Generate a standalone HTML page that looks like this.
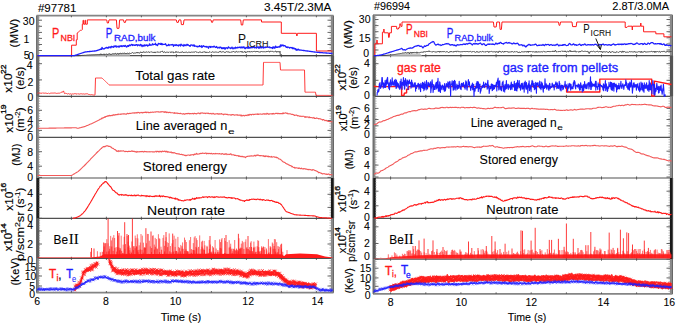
<!DOCTYPE html>
<html><head><meta charset="utf-8"><style>
html,body{margin:0;padding:0;background:#fff;width:676px;height:324px;overflow:hidden}
svg{display:block}
</style></head><body>
<svg width="676" height="324" viewBox="0 0 676 324">
<rect width="676" height="324" fill="#fff"/>
<line x1="36.5" y1="15.7" x2="333.5" y2="15.7" stroke="#858585" stroke-width="1.8"/>
<line x1="36.5" y1="55.7" x2="333.5" y2="55.7" stroke="#505050" stroke-width="1.2"/>
<line x1="36.5" y1="96.4" x2="333.5" y2="96.4" stroke="#505050" stroke-width="1.2"/>
<line x1="36.5" y1="137.4" x2="333.5" y2="137.4" stroke="#505050" stroke-width="1.2"/>
<line x1="36.5" y1="178" x2="333.5" y2="178" stroke="#505050" stroke-width="1.2"/>
<line x1="36.5" y1="218.3" x2="333.5" y2="218.3" stroke="#505050" stroke-width="1.2"/>
<line x1="36.5" y1="258.4" x2="333.5" y2="258.4" stroke="#505050" stroke-width="1.2"/>
<line x1="36.5" y1="292.6" x2="333.5" y2="292.6" stroke="#858585" stroke-width="1.8"/>
<line x1="71.4" y1="15.7" x2="71.4" y2="17.3" stroke="#444" stroke-width="0.8"/>
<line x1="106.4" y1="15.7" x2="106.4" y2="17.3" stroke="#444" stroke-width="0.8"/>
<line x1="141.4" y1="15.7" x2="141.4" y2="17.3" stroke="#444" stroke-width="0.8"/>
<line x1="176.4" y1="15.7" x2="176.4" y2="17.3" stroke="#444" stroke-width="0.8"/>
<line x1="211.4" y1="15.7" x2="211.4" y2="17.3" stroke="#444" stroke-width="0.8"/>
<line x1="246.4" y1="15.7" x2="246.4" y2="17.3" stroke="#444" stroke-width="0.8"/>
<line x1="281.4" y1="15.7" x2="281.4" y2="17.3" stroke="#444" stroke-width="0.8"/>
<line x1="316.4" y1="15.7" x2="316.4" y2="17.3" stroke="#444" stroke-width="0.8"/>
<line x1="71.4" y1="54.1" x2="71.4" y2="57.3" stroke="#444" stroke-width="0.8"/>
<line x1="106.4" y1="54.1" x2="106.4" y2="57.3" stroke="#444" stroke-width="0.8"/>
<line x1="141.4" y1="54.1" x2="141.4" y2="57.3" stroke="#444" stroke-width="0.8"/>
<line x1="176.4" y1="54.1" x2="176.4" y2="57.3" stroke="#444" stroke-width="0.8"/>
<line x1="211.4" y1="54.1" x2="211.4" y2="57.3" stroke="#444" stroke-width="0.8"/>
<line x1="246.4" y1="54.1" x2="246.4" y2="57.3" stroke="#444" stroke-width="0.8"/>
<line x1="281.4" y1="54.1" x2="281.4" y2="57.3" stroke="#444" stroke-width="0.8"/>
<line x1="316.4" y1="54.1" x2="316.4" y2="57.3" stroke="#444" stroke-width="0.8"/>
<line x1="71.4" y1="94.8" x2="71.4" y2="98" stroke="#444" stroke-width="0.8"/>
<line x1="106.4" y1="94.8" x2="106.4" y2="98" stroke="#444" stroke-width="0.8"/>
<line x1="141.4" y1="94.8" x2="141.4" y2="98" stroke="#444" stroke-width="0.8"/>
<line x1="176.4" y1="94.8" x2="176.4" y2="98" stroke="#444" stroke-width="0.8"/>
<line x1="211.4" y1="94.8" x2="211.4" y2="98" stroke="#444" stroke-width="0.8"/>
<line x1="246.4" y1="94.8" x2="246.4" y2="98" stroke="#444" stroke-width="0.8"/>
<line x1="281.4" y1="94.8" x2="281.4" y2="98" stroke="#444" stroke-width="0.8"/>
<line x1="316.4" y1="94.8" x2="316.4" y2="98" stroke="#444" stroke-width="0.8"/>
<line x1="71.4" y1="135.8" x2="71.4" y2="139" stroke="#444" stroke-width="0.8"/>
<line x1="106.4" y1="135.8" x2="106.4" y2="139" stroke="#444" stroke-width="0.8"/>
<line x1="141.4" y1="135.8" x2="141.4" y2="139" stroke="#444" stroke-width="0.8"/>
<line x1="176.4" y1="135.8" x2="176.4" y2="139" stroke="#444" stroke-width="0.8"/>
<line x1="211.4" y1="135.8" x2="211.4" y2="139" stroke="#444" stroke-width="0.8"/>
<line x1="246.4" y1="135.8" x2="246.4" y2="139" stroke="#444" stroke-width="0.8"/>
<line x1="281.4" y1="135.8" x2="281.4" y2="139" stroke="#444" stroke-width="0.8"/>
<line x1="316.4" y1="135.8" x2="316.4" y2="139" stroke="#444" stroke-width="0.8"/>
<line x1="71.4" y1="176.4" x2="71.4" y2="179.6" stroke="#444" stroke-width="0.8"/>
<line x1="106.4" y1="176.4" x2="106.4" y2="179.6" stroke="#444" stroke-width="0.8"/>
<line x1="141.4" y1="176.4" x2="141.4" y2="179.6" stroke="#444" stroke-width="0.8"/>
<line x1="176.4" y1="176.4" x2="176.4" y2="179.6" stroke="#444" stroke-width="0.8"/>
<line x1="211.4" y1="176.4" x2="211.4" y2="179.6" stroke="#444" stroke-width="0.8"/>
<line x1="246.4" y1="176.4" x2="246.4" y2="179.6" stroke="#444" stroke-width="0.8"/>
<line x1="281.4" y1="176.4" x2="281.4" y2="179.6" stroke="#444" stroke-width="0.8"/>
<line x1="316.4" y1="176.4" x2="316.4" y2="179.6" stroke="#444" stroke-width="0.8"/>
<line x1="71.4" y1="216.7" x2="71.4" y2="219.9" stroke="#444" stroke-width="0.8"/>
<line x1="106.4" y1="216.7" x2="106.4" y2="219.9" stroke="#444" stroke-width="0.8"/>
<line x1="141.4" y1="216.7" x2="141.4" y2="219.9" stroke="#444" stroke-width="0.8"/>
<line x1="176.4" y1="216.7" x2="176.4" y2="219.9" stroke="#444" stroke-width="0.8"/>
<line x1="211.4" y1="216.7" x2="211.4" y2="219.9" stroke="#444" stroke-width="0.8"/>
<line x1="246.4" y1="216.7" x2="246.4" y2="219.9" stroke="#444" stroke-width="0.8"/>
<line x1="281.4" y1="216.7" x2="281.4" y2="219.9" stroke="#444" stroke-width="0.8"/>
<line x1="316.4" y1="216.7" x2="316.4" y2="219.9" stroke="#444" stroke-width="0.8"/>
<line x1="71.4" y1="256.8" x2="71.4" y2="260" stroke="#444" stroke-width="0.8"/>
<line x1="106.4" y1="256.8" x2="106.4" y2="260" stroke="#444" stroke-width="0.8"/>
<line x1="141.4" y1="256.8" x2="141.4" y2="260" stroke="#444" stroke-width="0.8"/>
<line x1="176.4" y1="256.8" x2="176.4" y2="260" stroke="#444" stroke-width="0.8"/>
<line x1="211.4" y1="256.8" x2="211.4" y2="260" stroke="#444" stroke-width="0.8"/>
<line x1="246.4" y1="256.8" x2="246.4" y2="260" stroke="#444" stroke-width="0.8"/>
<line x1="281.4" y1="256.8" x2="281.4" y2="260" stroke="#444" stroke-width="0.8"/>
<line x1="316.4" y1="256.8" x2="316.4" y2="260" stroke="#444" stroke-width="0.8"/>
<line x1="71.4" y1="291" x2="71.4" y2="292.6" stroke="#444" stroke-width="0.8"/>
<line x1="106.4" y1="291" x2="106.4" y2="292.6" stroke="#444" stroke-width="0.8"/>
<line x1="141.4" y1="291" x2="141.4" y2="292.6" stroke="#444" stroke-width="0.8"/>
<line x1="176.4" y1="291" x2="176.4" y2="292.6" stroke="#444" stroke-width="0.8"/>
<line x1="211.4" y1="291" x2="211.4" y2="292.6" stroke="#444" stroke-width="0.8"/>
<line x1="246.4" y1="291" x2="246.4" y2="292.6" stroke="#444" stroke-width="0.8"/>
<line x1="281.4" y1="291" x2="281.4" y2="292.6" stroke="#444" stroke-width="0.8"/>
<line x1="316.4" y1="291" x2="316.4" y2="292.6" stroke="#444" stroke-width="0.8"/>
<rect x="36.3" y="15.7" width="2.6" height="40" fill="#8a8a8a"/>
<line x1="36.6" y1="15.7" x2="36.6" y2="55.7" stroke="#555" stroke-width="0.8"/>
<rect x="330.9" y="15.7" width="2.8" height="40" fill="#8a8a8a"/>
<line x1="333.5" y1="15.7" x2="333.5" y2="55.7" stroke="#555" stroke-width="0.8"/>
<line x1="38.7" y1="17.9" x2="40.1" y2="17.9" stroke="#9a9a9a" stroke-width="0.7"/>
<line x1="329.5" y1="17.9" x2="330.9" y2="17.9" stroke="#9a9a9a" stroke-width="0.7"/>
<line x1="38.7" y1="20.4" x2="40.1" y2="20.4" stroke="#9a9a9a" stroke-width="0.7"/>
<line x1="329.5" y1="20.4" x2="330.9" y2="20.4" stroke="#9a9a9a" stroke-width="0.7"/>
<line x1="38.7" y1="22.9" x2="40.1" y2="22.9" stroke="#9a9a9a" stroke-width="0.7"/>
<line x1="329.5" y1="22.9" x2="330.9" y2="22.9" stroke="#9a9a9a" stroke-width="0.7"/>
<line x1="38.7" y1="25.4" x2="40.1" y2="25.4" stroke="#9a9a9a" stroke-width="0.7"/>
<line x1="329.5" y1="25.4" x2="330.9" y2="25.4" stroke="#9a9a9a" stroke-width="0.7"/>
<line x1="38.7" y1="27.9" x2="40.1" y2="27.9" stroke="#9a9a9a" stroke-width="0.7"/>
<line x1="329.5" y1="27.9" x2="330.9" y2="27.9" stroke="#9a9a9a" stroke-width="0.7"/>
<line x1="38.7" y1="30.4" x2="40.1" y2="30.4" stroke="#9a9a9a" stroke-width="0.7"/>
<line x1="329.5" y1="30.4" x2="330.9" y2="30.4" stroke="#9a9a9a" stroke-width="0.7"/>
<line x1="38.7" y1="32.9" x2="40.1" y2="32.9" stroke="#9a9a9a" stroke-width="0.7"/>
<line x1="329.5" y1="32.9" x2="330.9" y2="32.9" stroke="#9a9a9a" stroke-width="0.7"/>
<line x1="38.7" y1="35.4" x2="40.1" y2="35.4" stroke="#9a9a9a" stroke-width="0.7"/>
<line x1="329.5" y1="35.4" x2="330.9" y2="35.4" stroke="#9a9a9a" stroke-width="0.7"/>
<line x1="38.7" y1="37.9" x2="40.1" y2="37.9" stroke="#9a9a9a" stroke-width="0.7"/>
<line x1="329.5" y1="37.9" x2="330.9" y2="37.9" stroke="#9a9a9a" stroke-width="0.7"/>
<line x1="38.7" y1="40.4" x2="40.1" y2="40.4" stroke="#9a9a9a" stroke-width="0.7"/>
<line x1="329.5" y1="40.4" x2="330.9" y2="40.4" stroke="#9a9a9a" stroke-width="0.7"/>
<line x1="38.7" y1="42.9" x2="40.1" y2="42.9" stroke="#9a9a9a" stroke-width="0.7"/>
<line x1="329.5" y1="42.9" x2="330.9" y2="42.9" stroke="#9a9a9a" stroke-width="0.7"/>
<line x1="38.7" y1="45.4" x2="40.1" y2="45.4" stroke="#9a9a9a" stroke-width="0.7"/>
<line x1="329.5" y1="45.4" x2="330.9" y2="45.4" stroke="#9a9a9a" stroke-width="0.7"/>
<line x1="38.7" y1="47.9" x2="40.1" y2="47.9" stroke="#9a9a9a" stroke-width="0.7"/>
<line x1="329.5" y1="47.9" x2="330.9" y2="47.9" stroke="#9a9a9a" stroke-width="0.7"/>
<line x1="38.7" y1="50.4" x2="40.1" y2="50.4" stroke="#9a9a9a" stroke-width="0.7"/>
<line x1="329.5" y1="50.4" x2="330.9" y2="50.4" stroke="#9a9a9a" stroke-width="0.7"/>
<line x1="38.7" y1="52.9" x2="40.1" y2="52.9" stroke="#9a9a9a" stroke-width="0.7"/>
<line x1="329.5" y1="52.9" x2="330.9" y2="52.9" stroke="#9a9a9a" stroke-width="0.7"/>
<rect x="36.3" y="55.7" width="3.0" height="40.7" fill="#6a6a6a"/>
<line x1="36.6" y1="55.7" x2="36.6" y2="96.4" stroke="#555" stroke-width="0.8"/>
<rect x="330.9" y="55.7" width="3.2" height="40.7" fill="#606060"/>
<line x1="333.5" y1="55.7" x2="333.5" y2="96.4" stroke="#555" stroke-width="0.8"/>
<line x1="38.7" y1="57.9" x2="40.1" y2="57.9" stroke="#9a9a9a" stroke-width="0.7"/>
<line x1="329.5" y1="57.9" x2="330.9" y2="57.9" stroke="#9a9a9a" stroke-width="0.7"/>
<line x1="38.7" y1="60.4" x2="40.1" y2="60.4" stroke="#9a9a9a" stroke-width="0.7"/>
<line x1="329.5" y1="60.4" x2="330.9" y2="60.4" stroke="#9a9a9a" stroke-width="0.7"/>
<line x1="38.7" y1="62.9" x2="40.1" y2="62.9" stroke="#9a9a9a" stroke-width="0.7"/>
<line x1="329.5" y1="62.9" x2="330.9" y2="62.9" stroke="#9a9a9a" stroke-width="0.7"/>
<line x1="38.7" y1="65.4" x2="40.1" y2="65.4" stroke="#9a9a9a" stroke-width="0.7"/>
<line x1="329.5" y1="65.4" x2="330.9" y2="65.4" stroke="#9a9a9a" stroke-width="0.7"/>
<line x1="38.7" y1="67.9" x2="40.1" y2="67.9" stroke="#9a9a9a" stroke-width="0.7"/>
<line x1="329.5" y1="67.9" x2="330.9" y2="67.9" stroke="#9a9a9a" stroke-width="0.7"/>
<line x1="38.7" y1="70.4" x2="40.1" y2="70.4" stroke="#9a9a9a" stroke-width="0.7"/>
<line x1="329.5" y1="70.4" x2="330.9" y2="70.4" stroke="#9a9a9a" stroke-width="0.7"/>
<line x1="38.7" y1="72.9" x2="40.1" y2="72.9" stroke="#9a9a9a" stroke-width="0.7"/>
<line x1="329.5" y1="72.9" x2="330.9" y2="72.9" stroke="#9a9a9a" stroke-width="0.7"/>
<line x1="38.7" y1="75.4" x2="40.1" y2="75.4" stroke="#9a9a9a" stroke-width="0.7"/>
<line x1="329.5" y1="75.4" x2="330.9" y2="75.4" stroke="#9a9a9a" stroke-width="0.7"/>
<line x1="38.7" y1="77.9" x2="40.1" y2="77.9" stroke="#9a9a9a" stroke-width="0.7"/>
<line x1="329.5" y1="77.9" x2="330.9" y2="77.9" stroke="#9a9a9a" stroke-width="0.7"/>
<line x1="38.7" y1="80.4" x2="40.1" y2="80.4" stroke="#9a9a9a" stroke-width="0.7"/>
<line x1="329.5" y1="80.4" x2="330.9" y2="80.4" stroke="#9a9a9a" stroke-width="0.7"/>
<line x1="38.7" y1="82.9" x2="40.1" y2="82.9" stroke="#9a9a9a" stroke-width="0.7"/>
<line x1="329.5" y1="82.9" x2="330.9" y2="82.9" stroke="#9a9a9a" stroke-width="0.7"/>
<line x1="38.7" y1="85.4" x2="40.1" y2="85.4" stroke="#9a9a9a" stroke-width="0.7"/>
<line x1="329.5" y1="85.4" x2="330.9" y2="85.4" stroke="#9a9a9a" stroke-width="0.7"/>
<line x1="38.7" y1="87.9" x2="40.1" y2="87.9" stroke="#9a9a9a" stroke-width="0.7"/>
<line x1="329.5" y1="87.9" x2="330.9" y2="87.9" stroke="#9a9a9a" stroke-width="0.7"/>
<line x1="38.7" y1="90.4" x2="40.1" y2="90.4" stroke="#9a9a9a" stroke-width="0.7"/>
<line x1="329.5" y1="90.4" x2="330.9" y2="90.4" stroke="#9a9a9a" stroke-width="0.7"/>
<line x1="38.7" y1="92.9" x2="40.1" y2="92.9" stroke="#9a9a9a" stroke-width="0.7"/>
<line x1="329.5" y1="92.9" x2="330.9" y2="92.9" stroke="#9a9a9a" stroke-width="0.7"/>
<rect x="36.3" y="96.4" width="2.6" height="41" fill="#8a8a8a"/>
<line x1="36.6" y1="96.4" x2="36.6" y2="137.4" stroke="#555" stroke-width="0.8"/>
<rect x="330.9" y="96.4" width="2.8" height="41" fill="#8a8a8a"/>
<line x1="333.5" y1="96.4" x2="333.5" y2="137.4" stroke="#555" stroke-width="0.8"/>
<line x1="38.7" y1="98.6" x2="40.1" y2="98.6" stroke="#9a9a9a" stroke-width="0.7"/>
<line x1="329.5" y1="98.6" x2="330.9" y2="98.6" stroke="#9a9a9a" stroke-width="0.7"/>
<line x1="38.7" y1="101.1" x2="40.1" y2="101.1" stroke="#9a9a9a" stroke-width="0.7"/>
<line x1="329.5" y1="101.1" x2="330.9" y2="101.1" stroke="#9a9a9a" stroke-width="0.7"/>
<line x1="38.7" y1="103.6" x2="40.1" y2="103.6" stroke="#9a9a9a" stroke-width="0.7"/>
<line x1="329.5" y1="103.6" x2="330.9" y2="103.6" stroke="#9a9a9a" stroke-width="0.7"/>
<line x1="38.7" y1="106.1" x2="40.1" y2="106.1" stroke="#9a9a9a" stroke-width="0.7"/>
<line x1="329.5" y1="106.1" x2="330.9" y2="106.1" stroke="#9a9a9a" stroke-width="0.7"/>
<line x1="38.7" y1="108.6" x2="40.1" y2="108.6" stroke="#9a9a9a" stroke-width="0.7"/>
<line x1="329.5" y1="108.6" x2="330.9" y2="108.6" stroke="#9a9a9a" stroke-width="0.7"/>
<line x1="38.7" y1="111.1" x2="40.1" y2="111.1" stroke="#9a9a9a" stroke-width="0.7"/>
<line x1="329.5" y1="111.1" x2="330.9" y2="111.1" stroke="#9a9a9a" stroke-width="0.7"/>
<line x1="38.7" y1="113.6" x2="40.1" y2="113.6" stroke="#9a9a9a" stroke-width="0.7"/>
<line x1="329.5" y1="113.6" x2="330.9" y2="113.6" stroke="#9a9a9a" stroke-width="0.7"/>
<line x1="38.7" y1="116.1" x2="40.1" y2="116.1" stroke="#9a9a9a" stroke-width="0.7"/>
<line x1="329.5" y1="116.1" x2="330.9" y2="116.1" stroke="#9a9a9a" stroke-width="0.7"/>
<line x1="38.7" y1="118.6" x2="40.1" y2="118.6" stroke="#9a9a9a" stroke-width="0.7"/>
<line x1="329.5" y1="118.6" x2="330.9" y2="118.6" stroke="#9a9a9a" stroke-width="0.7"/>
<line x1="38.7" y1="121.1" x2="40.1" y2="121.1" stroke="#9a9a9a" stroke-width="0.7"/>
<line x1="329.5" y1="121.1" x2="330.9" y2="121.1" stroke="#9a9a9a" stroke-width="0.7"/>
<line x1="38.7" y1="123.6" x2="40.1" y2="123.6" stroke="#9a9a9a" stroke-width="0.7"/>
<line x1="329.5" y1="123.6" x2="330.9" y2="123.6" stroke="#9a9a9a" stroke-width="0.7"/>
<line x1="38.7" y1="126.1" x2="40.1" y2="126.1" stroke="#9a9a9a" stroke-width="0.7"/>
<line x1="329.5" y1="126.1" x2="330.9" y2="126.1" stroke="#9a9a9a" stroke-width="0.7"/>
<line x1="38.7" y1="128.6" x2="40.1" y2="128.6" stroke="#9a9a9a" stroke-width="0.7"/>
<line x1="329.5" y1="128.6" x2="330.9" y2="128.6" stroke="#9a9a9a" stroke-width="0.7"/>
<line x1="38.7" y1="131.1" x2="40.1" y2="131.1" stroke="#9a9a9a" stroke-width="0.7"/>
<line x1="329.5" y1="131.1" x2="330.9" y2="131.1" stroke="#9a9a9a" stroke-width="0.7"/>
<line x1="38.7" y1="133.6" x2="40.1" y2="133.6" stroke="#9a9a9a" stroke-width="0.7"/>
<line x1="329.5" y1="133.6" x2="330.9" y2="133.6" stroke="#9a9a9a" stroke-width="0.7"/>
<line x1="38.7" y1="136.1" x2="40.1" y2="136.1" stroke="#9a9a9a" stroke-width="0.7"/>
<line x1="329.5" y1="136.1" x2="330.9" y2="136.1" stroke="#9a9a9a" stroke-width="0.7"/>
<rect x="36.3" y="137.4" width="2.6" height="40.6" fill="#8a8a8a"/>
<line x1="36.6" y1="137.4" x2="36.6" y2="178" stroke="#555" stroke-width="0.8"/>
<rect x="330.9" y="137.4" width="2.8" height="40.6" fill="#8a8a8a"/>
<line x1="333.5" y1="137.4" x2="333.5" y2="178" stroke="#555" stroke-width="0.8"/>
<line x1="38.7" y1="139.6" x2="40.1" y2="139.6" stroke="#9a9a9a" stroke-width="0.7"/>
<line x1="329.5" y1="139.6" x2="330.9" y2="139.6" stroke="#9a9a9a" stroke-width="0.7"/>
<line x1="38.7" y1="142.1" x2="40.1" y2="142.1" stroke="#9a9a9a" stroke-width="0.7"/>
<line x1="329.5" y1="142.1" x2="330.9" y2="142.1" stroke="#9a9a9a" stroke-width="0.7"/>
<line x1="38.7" y1="144.6" x2="40.1" y2="144.6" stroke="#9a9a9a" stroke-width="0.7"/>
<line x1="329.5" y1="144.6" x2="330.9" y2="144.6" stroke="#9a9a9a" stroke-width="0.7"/>
<line x1="38.7" y1="147.1" x2="40.1" y2="147.1" stroke="#9a9a9a" stroke-width="0.7"/>
<line x1="329.5" y1="147.1" x2="330.9" y2="147.1" stroke="#9a9a9a" stroke-width="0.7"/>
<line x1="38.7" y1="149.6" x2="40.1" y2="149.6" stroke="#9a9a9a" stroke-width="0.7"/>
<line x1="329.5" y1="149.6" x2="330.9" y2="149.6" stroke="#9a9a9a" stroke-width="0.7"/>
<line x1="38.7" y1="152.1" x2="40.1" y2="152.1" stroke="#9a9a9a" stroke-width="0.7"/>
<line x1="329.5" y1="152.1" x2="330.9" y2="152.1" stroke="#9a9a9a" stroke-width="0.7"/>
<line x1="38.7" y1="154.6" x2="40.1" y2="154.6" stroke="#9a9a9a" stroke-width="0.7"/>
<line x1="329.5" y1="154.6" x2="330.9" y2="154.6" stroke="#9a9a9a" stroke-width="0.7"/>
<line x1="38.7" y1="157.1" x2="40.1" y2="157.1" stroke="#9a9a9a" stroke-width="0.7"/>
<line x1="329.5" y1="157.1" x2="330.9" y2="157.1" stroke="#9a9a9a" stroke-width="0.7"/>
<line x1="38.7" y1="159.6" x2="40.1" y2="159.6" stroke="#9a9a9a" stroke-width="0.7"/>
<line x1="329.5" y1="159.6" x2="330.9" y2="159.6" stroke="#9a9a9a" stroke-width="0.7"/>
<line x1="38.7" y1="162.1" x2="40.1" y2="162.1" stroke="#9a9a9a" stroke-width="0.7"/>
<line x1="329.5" y1="162.1" x2="330.9" y2="162.1" stroke="#9a9a9a" stroke-width="0.7"/>
<line x1="38.7" y1="164.6" x2="40.1" y2="164.6" stroke="#9a9a9a" stroke-width="0.7"/>
<line x1="329.5" y1="164.6" x2="330.9" y2="164.6" stroke="#9a9a9a" stroke-width="0.7"/>
<line x1="38.7" y1="167.1" x2="40.1" y2="167.1" stroke="#9a9a9a" stroke-width="0.7"/>
<line x1="329.5" y1="167.1" x2="330.9" y2="167.1" stroke="#9a9a9a" stroke-width="0.7"/>
<line x1="38.7" y1="169.6" x2="40.1" y2="169.6" stroke="#9a9a9a" stroke-width="0.7"/>
<line x1="329.5" y1="169.6" x2="330.9" y2="169.6" stroke="#9a9a9a" stroke-width="0.7"/>
<line x1="38.7" y1="172.1" x2="40.1" y2="172.1" stroke="#9a9a9a" stroke-width="0.7"/>
<line x1="329.5" y1="172.1" x2="330.9" y2="172.1" stroke="#9a9a9a" stroke-width="0.7"/>
<line x1="38.7" y1="174.6" x2="40.1" y2="174.6" stroke="#9a9a9a" stroke-width="0.7"/>
<line x1="329.5" y1="174.6" x2="330.9" y2="174.6" stroke="#9a9a9a" stroke-width="0.7"/>
<rect x="36.3" y="178" width="3.0" height="40.3" fill="#1a1a1a"/>
<line x1="36.6" y1="178" x2="36.6" y2="218.3" stroke="#555" stroke-width="0.8"/>
<rect x="330.9" y="178" width="3.2" height="40.3" fill="#1a1a1a"/>
<line x1="333.5" y1="178" x2="333.5" y2="218.3" stroke="#555" stroke-width="0.8"/>
<line x1="38.7" y1="180.2" x2="40.1" y2="180.2" stroke="#9a9a9a" stroke-width="0.7"/>
<line x1="329.5" y1="180.2" x2="330.9" y2="180.2" stroke="#9a9a9a" stroke-width="0.7"/>
<line x1="38.7" y1="182.7" x2="40.1" y2="182.7" stroke="#9a9a9a" stroke-width="0.7"/>
<line x1="329.5" y1="182.7" x2="330.9" y2="182.7" stroke="#9a9a9a" stroke-width="0.7"/>
<line x1="38.7" y1="185.2" x2="40.1" y2="185.2" stroke="#9a9a9a" stroke-width="0.7"/>
<line x1="329.5" y1="185.2" x2="330.9" y2="185.2" stroke="#9a9a9a" stroke-width="0.7"/>
<line x1="38.7" y1="187.7" x2="40.1" y2="187.7" stroke="#9a9a9a" stroke-width="0.7"/>
<line x1="329.5" y1="187.7" x2="330.9" y2="187.7" stroke="#9a9a9a" stroke-width="0.7"/>
<line x1="38.7" y1="190.2" x2="40.1" y2="190.2" stroke="#9a9a9a" stroke-width="0.7"/>
<line x1="329.5" y1="190.2" x2="330.9" y2="190.2" stroke="#9a9a9a" stroke-width="0.7"/>
<line x1="38.7" y1="192.7" x2="40.1" y2="192.7" stroke="#9a9a9a" stroke-width="0.7"/>
<line x1="329.5" y1="192.7" x2="330.9" y2="192.7" stroke="#9a9a9a" stroke-width="0.7"/>
<line x1="38.7" y1="195.2" x2="40.1" y2="195.2" stroke="#9a9a9a" stroke-width="0.7"/>
<line x1="329.5" y1="195.2" x2="330.9" y2="195.2" stroke="#9a9a9a" stroke-width="0.7"/>
<line x1="38.7" y1="197.7" x2="40.1" y2="197.7" stroke="#9a9a9a" stroke-width="0.7"/>
<line x1="329.5" y1="197.7" x2="330.9" y2="197.7" stroke="#9a9a9a" stroke-width="0.7"/>
<line x1="38.7" y1="200.2" x2="40.1" y2="200.2" stroke="#9a9a9a" stroke-width="0.7"/>
<line x1="329.5" y1="200.2" x2="330.9" y2="200.2" stroke="#9a9a9a" stroke-width="0.7"/>
<line x1="38.7" y1="202.7" x2="40.1" y2="202.7" stroke="#9a9a9a" stroke-width="0.7"/>
<line x1="329.5" y1="202.7" x2="330.9" y2="202.7" stroke="#9a9a9a" stroke-width="0.7"/>
<line x1="38.7" y1="205.2" x2="40.1" y2="205.2" stroke="#9a9a9a" stroke-width="0.7"/>
<line x1="329.5" y1="205.2" x2="330.9" y2="205.2" stroke="#9a9a9a" stroke-width="0.7"/>
<line x1="38.7" y1="207.7" x2="40.1" y2="207.7" stroke="#9a9a9a" stroke-width="0.7"/>
<line x1="329.5" y1="207.7" x2="330.9" y2="207.7" stroke="#9a9a9a" stroke-width="0.7"/>
<line x1="38.7" y1="210.2" x2="40.1" y2="210.2" stroke="#9a9a9a" stroke-width="0.7"/>
<line x1="329.5" y1="210.2" x2="330.9" y2="210.2" stroke="#9a9a9a" stroke-width="0.7"/>
<line x1="38.7" y1="212.7" x2="40.1" y2="212.7" stroke="#9a9a9a" stroke-width="0.7"/>
<line x1="329.5" y1="212.7" x2="330.9" y2="212.7" stroke="#9a9a9a" stroke-width="0.7"/>
<line x1="38.7" y1="215.2" x2="40.1" y2="215.2" stroke="#9a9a9a" stroke-width="0.7"/>
<line x1="329.5" y1="215.2" x2="330.9" y2="215.2" stroke="#9a9a9a" stroke-width="0.7"/>
<rect x="36.3" y="218.3" width="3.0" height="40.1" fill="#5a5a5a"/>
<line x1="36.6" y1="218.3" x2="36.6" y2="258.4" stroke="#555" stroke-width="0.8"/>
<rect x="330.9" y="218.3" width="2.8" height="40.1" fill="#8a8a8a"/>
<line x1="333.5" y1="218.3" x2="333.5" y2="258.4" stroke="#555" stroke-width="0.8"/>
<line x1="38.7" y1="220.5" x2="40.1" y2="220.5" stroke="#9a9a9a" stroke-width="0.7"/>
<line x1="329.5" y1="220.5" x2="330.9" y2="220.5" stroke="#9a9a9a" stroke-width="0.7"/>
<line x1="38.7" y1="223" x2="40.1" y2="223" stroke="#9a9a9a" stroke-width="0.7"/>
<line x1="329.5" y1="223" x2="330.9" y2="223" stroke="#9a9a9a" stroke-width="0.7"/>
<line x1="38.7" y1="225.5" x2="40.1" y2="225.5" stroke="#9a9a9a" stroke-width="0.7"/>
<line x1="329.5" y1="225.5" x2="330.9" y2="225.5" stroke="#9a9a9a" stroke-width="0.7"/>
<line x1="38.7" y1="228" x2="40.1" y2="228" stroke="#9a9a9a" stroke-width="0.7"/>
<line x1="329.5" y1="228" x2="330.9" y2="228" stroke="#9a9a9a" stroke-width="0.7"/>
<line x1="38.7" y1="230.5" x2="40.1" y2="230.5" stroke="#9a9a9a" stroke-width="0.7"/>
<line x1="329.5" y1="230.5" x2="330.9" y2="230.5" stroke="#9a9a9a" stroke-width="0.7"/>
<line x1="38.7" y1="233" x2="40.1" y2="233" stroke="#9a9a9a" stroke-width="0.7"/>
<line x1="329.5" y1="233" x2="330.9" y2="233" stroke="#9a9a9a" stroke-width="0.7"/>
<line x1="38.7" y1="235.5" x2="40.1" y2="235.5" stroke="#9a9a9a" stroke-width="0.7"/>
<line x1="329.5" y1="235.5" x2="330.9" y2="235.5" stroke="#9a9a9a" stroke-width="0.7"/>
<line x1="38.7" y1="238" x2="40.1" y2="238" stroke="#9a9a9a" stroke-width="0.7"/>
<line x1="329.5" y1="238" x2="330.9" y2="238" stroke="#9a9a9a" stroke-width="0.7"/>
<line x1="38.7" y1="240.5" x2="40.1" y2="240.5" stroke="#9a9a9a" stroke-width="0.7"/>
<line x1="329.5" y1="240.5" x2="330.9" y2="240.5" stroke="#9a9a9a" stroke-width="0.7"/>
<line x1="38.7" y1="243" x2="40.1" y2="243" stroke="#9a9a9a" stroke-width="0.7"/>
<line x1="329.5" y1="243" x2="330.9" y2="243" stroke="#9a9a9a" stroke-width="0.7"/>
<line x1="38.7" y1="245.5" x2="40.1" y2="245.5" stroke="#9a9a9a" stroke-width="0.7"/>
<line x1="329.5" y1="245.5" x2="330.9" y2="245.5" stroke="#9a9a9a" stroke-width="0.7"/>
<line x1="38.7" y1="248" x2="40.1" y2="248" stroke="#9a9a9a" stroke-width="0.7"/>
<line x1="329.5" y1="248" x2="330.9" y2="248" stroke="#9a9a9a" stroke-width="0.7"/>
<line x1="38.7" y1="250.5" x2="40.1" y2="250.5" stroke="#9a9a9a" stroke-width="0.7"/>
<line x1="329.5" y1="250.5" x2="330.9" y2="250.5" stroke="#9a9a9a" stroke-width="0.7"/>
<line x1="38.7" y1="253" x2="40.1" y2="253" stroke="#9a9a9a" stroke-width="0.7"/>
<line x1="329.5" y1="253" x2="330.9" y2="253" stroke="#9a9a9a" stroke-width="0.7"/>
<line x1="38.7" y1="255.5" x2="40.1" y2="255.5" stroke="#9a9a9a" stroke-width="0.7"/>
<line x1="329.5" y1="255.5" x2="330.9" y2="255.5" stroke="#9a9a9a" stroke-width="0.7"/>
<rect x="36.3" y="258.4" width="2.6" height="34.2" fill="#8a8a8a"/>
<line x1="36.6" y1="258.4" x2="36.6" y2="292.6" stroke="#555" stroke-width="0.8"/>
<rect x="330.9" y="258.4" width="2.8" height="34.2" fill="#8a8a8a"/>
<line x1="333.5" y1="258.4" x2="333.5" y2="292.6" stroke="#555" stroke-width="0.8"/>
<line x1="38.7" y1="260.6" x2="40.1" y2="260.6" stroke="#9a9a9a" stroke-width="0.7"/>
<line x1="329.5" y1="260.6" x2="330.9" y2="260.6" stroke="#9a9a9a" stroke-width="0.7"/>
<line x1="38.7" y1="263.1" x2="40.1" y2="263.1" stroke="#9a9a9a" stroke-width="0.7"/>
<line x1="329.5" y1="263.1" x2="330.9" y2="263.1" stroke="#9a9a9a" stroke-width="0.7"/>
<line x1="38.7" y1="265.6" x2="40.1" y2="265.6" stroke="#9a9a9a" stroke-width="0.7"/>
<line x1="329.5" y1="265.6" x2="330.9" y2="265.6" stroke="#9a9a9a" stroke-width="0.7"/>
<line x1="38.7" y1="268.1" x2="40.1" y2="268.1" stroke="#9a9a9a" stroke-width="0.7"/>
<line x1="329.5" y1="268.1" x2="330.9" y2="268.1" stroke="#9a9a9a" stroke-width="0.7"/>
<line x1="38.7" y1="270.6" x2="40.1" y2="270.6" stroke="#9a9a9a" stroke-width="0.7"/>
<line x1="329.5" y1="270.6" x2="330.9" y2="270.6" stroke="#9a9a9a" stroke-width="0.7"/>
<line x1="38.7" y1="273.1" x2="40.1" y2="273.1" stroke="#9a9a9a" stroke-width="0.7"/>
<line x1="329.5" y1="273.1" x2="330.9" y2="273.1" stroke="#9a9a9a" stroke-width="0.7"/>
<line x1="38.7" y1="275.6" x2="40.1" y2="275.6" stroke="#9a9a9a" stroke-width="0.7"/>
<line x1="329.5" y1="275.6" x2="330.9" y2="275.6" stroke="#9a9a9a" stroke-width="0.7"/>
<line x1="38.7" y1="278.1" x2="40.1" y2="278.1" stroke="#9a9a9a" stroke-width="0.7"/>
<line x1="329.5" y1="278.1" x2="330.9" y2="278.1" stroke="#9a9a9a" stroke-width="0.7"/>
<line x1="38.7" y1="280.6" x2="40.1" y2="280.6" stroke="#9a9a9a" stroke-width="0.7"/>
<line x1="329.5" y1="280.6" x2="330.9" y2="280.6" stroke="#9a9a9a" stroke-width="0.7"/>
<line x1="38.7" y1="283.1" x2="40.1" y2="283.1" stroke="#9a9a9a" stroke-width="0.7"/>
<line x1="329.5" y1="283.1" x2="330.9" y2="283.1" stroke="#9a9a9a" stroke-width="0.7"/>
<line x1="38.7" y1="285.6" x2="40.1" y2="285.6" stroke="#9a9a9a" stroke-width="0.7"/>
<line x1="329.5" y1="285.6" x2="330.9" y2="285.6" stroke="#9a9a9a" stroke-width="0.7"/>
<line x1="38.7" y1="288.1" x2="40.1" y2="288.1" stroke="#9a9a9a" stroke-width="0.7"/>
<line x1="329.5" y1="288.1" x2="330.9" y2="288.1" stroke="#9a9a9a" stroke-width="0.7"/>
<line x1="38.7" y1="290.6" x2="40.1" y2="290.6" stroke="#9a9a9a" stroke-width="0.7"/>
<line x1="329.5" y1="290.6" x2="330.9" y2="290.6" stroke="#9a9a9a" stroke-width="0.7"/>
<line x1="38.5" y1="20.2" x2="42" y2="20.2" stroke="#555" stroke-width="0.9"/>
<line x1="327.5" y1="20.2" x2="331" y2="20.2" stroke="#555" stroke-width="0.9"/>
<line x1="38.5" y1="26.3" x2="42" y2="26.3" stroke="#555" stroke-width="0.9"/>
<line x1="327.5" y1="26.3" x2="331" y2="26.3" stroke="#555" stroke-width="0.9"/>
<line x1="38.5" y1="32.4" x2="42" y2="32.4" stroke="#555" stroke-width="0.9"/>
<line x1="327.5" y1="32.4" x2="331" y2="32.4" stroke="#555" stroke-width="0.9"/>
<line x1="38.5" y1="38.4" x2="42" y2="38.4" stroke="#555" stroke-width="0.9"/>
<line x1="327.5" y1="38.4" x2="331" y2="38.4" stroke="#555" stroke-width="0.9"/>
<line x1="38.5" y1="44.5" x2="42" y2="44.5" stroke="#555" stroke-width="0.9"/>
<line x1="327.5" y1="44.5" x2="331" y2="44.5" stroke="#555" stroke-width="0.9"/>
<line x1="38.5" y1="50.5" x2="42" y2="50.5" stroke="#555" stroke-width="0.9"/>
<line x1="327.5" y1="50.5" x2="331" y2="50.5" stroke="#555" stroke-width="0.9"/>
<line x1="38.5" y1="63.7" x2="42" y2="63.7" stroke="#555" stroke-width="0.9"/>
<line x1="327.5" y1="63.7" x2="331" y2="63.7" stroke="#555" stroke-width="0.9"/>
<line x1="38.5" y1="79.9" x2="42" y2="79.9" stroke="#555" stroke-width="0.9"/>
<line x1="327.5" y1="79.9" x2="331" y2="79.9" stroke="#555" stroke-width="0.9"/>
<line x1="38.5" y1="96.4" x2="42" y2="96.4" stroke="#555" stroke-width="0.9"/>
<line x1="327.5" y1="96.4" x2="331" y2="96.4" stroke="#555" stroke-width="0.9"/>
<line x1="38.5" y1="110.3" x2="42" y2="110.3" stroke="#555" stroke-width="0.9"/>
<line x1="327.5" y1="110.3" x2="331" y2="110.3" stroke="#555" stroke-width="0.9"/>
<line x1="38.5" y1="120.5" x2="42" y2="120.5" stroke="#555" stroke-width="0.9"/>
<line x1="327.5" y1="120.5" x2="331" y2="120.5" stroke="#555" stroke-width="0.9"/>
<line x1="38.5" y1="130.4" x2="42" y2="130.4" stroke="#555" stroke-width="0.9"/>
<line x1="327.5" y1="130.4" x2="331" y2="130.4" stroke="#555" stroke-width="0.9"/>
<line x1="38.5" y1="151.7" x2="42" y2="151.7" stroke="#555" stroke-width="0.9"/>
<line x1="327.5" y1="151.7" x2="331" y2="151.7" stroke="#555" stroke-width="0.9"/>
<line x1="38.5" y1="166.2" x2="42" y2="166.2" stroke="#555" stroke-width="0.9"/>
<line x1="327.5" y1="166.2" x2="331" y2="166.2" stroke="#555" stroke-width="0.9"/>
<line x1="38.5" y1="177.4" x2="42" y2="177.4" stroke="#555" stroke-width="0.9"/>
<line x1="327.5" y1="177.4" x2="331" y2="177.4" stroke="#555" stroke-width="0.9"/>
<line x1="38.5" y1="194.3" x2="42" y2="194.3" stroke="#555" stroke-width="0.9"/>
<line x1="327.5" y1="194.3" x2="331" y2="194.3" stroke="#555" stroke-width="0.9"/>
<line x1="38.5" y1="207.4" x2="42" y2="207.4" stroke="#555" stroke-width="0.9"/>
<line x1="327.5" y1="207.4" x2="331" y2="207.4" stroke="#555" stroke-width="0.9"/>
<line x1="38.5" y1="218.3" x2="42" y2="218.3" stroke="#555" stroke-width="0.9"/>
<line x1="327.5" y1="218.3" x2="331" y2="218.3" stroke="#555" stroke-width="0.9"/>
<line x1="38.5" y1="231" x2="42" y2="231" stroke="#555" stroke-width="0.9"/>
<line x1="327.5" y1="231" x2="331" y2="231" stroke="#555" stroke-width="0.9"/>
<line x1="38.5" y1="244" x2="42" y2="244" stroke="#555" stroke-width="0.9"/>
<line x1="327.5" y1="244" x2="331" y2="244" stroke="#555" stroke-width="0.9"/>
<line x1="38.5" y1="258.4" x2="42" y2="258.4" stroke="#555" stroke-width="0.9"/>
<line x1="327.5" y1="258.4" x2="331" y2="258.4" stroke="#555" stroke-width="0.9"/>
<line x1="38.5" y1="268" x2="42" y2="268" stroke="#555" stroke-width="0.9"/>
<line x1="327.5" y1="268" x2="331" y2="268" stroke="#555" stroke-width="0.9"/>
<line x1="38.5" y1="276" x2="42" y2="276" stroke="#555" stroke-width="0.9"/>
<line x1="327.5" y1="276" x2="331" y2="276" stroke="#555" stroke-width="0.9"/>
<line x1="38.5" y1="286" x2="42" y2="286" stroke="#555" stroke-width="0.9"/>
<line x1="327.5" y1="286" x2="331" y2="286" stroke="#555" stroke-width="0.9"/>
<polyline points="37.5,55.7 71.6,55.7 71.6,45.2 76.3,45.2 76.3,39.8 77.2,39.8 77.2,33 78.5,32 79.6,31 80.5,30.3 81.5,30.3 82.3,29.5 82.3,24.2 83,24.2 83,20.3 83.6,20.3 83.6,24.2 85,24.2 85,20.3 85.6,20.3 85.6,24.2 87.3,24.2 87.3,19.9 87.3,19.9 106.7,19.9 107.3,23 108.4,23 109,19.9 116.4,19.9 117,28.3 119,28.3 119.6,19.9 123.5,19.9 124.1,22.4 125.4,22.4 126,19.9 176.3,19.9 176.9,22.4 178.3,22.4 178.9,19.9 180.8,19.9 181.4,24.6 183.4,24.6 184,19.9 211,19.9 211.6,22.3 212.6,22.3 213.2,19.9 240.7,19.9 241.3,25 242.7,25 243.3,19.9 261.5,19.9 261.5,22 281.3,22 281.3,33.3 296.3,33.3 296.9,36 297.5,33.3 316.4,33.3 316.4,51 332.5,51" fill="none" stroke="#ff1a1a" stroke-width="1.0" stroke-linejoin="round" />
<polygon points="78,55.7 90,54.6 105,53.9 118,53.4 130,53.2 130,55.7" fill="#bdbdbd"/>
<polyline points="37.5,55.7 38,55.7 38.5,55.7 39,55.7 39.5,55.7 40,55.7 40.5,55.7 41,55.7 41.5,55.7 42,55.7 42.5,55.7 43,55.7 43.5,55.7 44,55.7 44.5,55.7 45,55.7 45.5,55.7 46,55.7 46.5,55.7 47,55.7 47.5,55.7 48,55.7 48.5,55.7 49,55.7 49.5,55.7 50,55.7 50.5,55.7 51,55.7 51.5,55.7 52,55.7 52.5,55.7 53,55.7 53.5,55.7 54,55.7 54.5,55.7 55,55.7 55.5,55.7 56,55.7 56.5,55.7 57,55.7 57.5,55.7 58,55.7 58.5,55.7 59,55.7 59.5,55.7 60,55.7 60.5,55.7 61,55.7 61.5,55.7 62,55.7 62.5,55.7 63,55.7 63.5,55.7 64,55.7 64.5,55.7 65,55.7 65.5,55.7 66,55.7 66.5,55.7 67,55.7 67.5,55.7 68,55.7 68.5,55.7 69,55.7 69.5,55.7 70,55.7 70.5,55.7 71,55.7 71.5,55.7 72,55.7 72.5,55.7 73,55.7 73.5,55.7 74,55.7 74.5,55.7 75,55.7 75.5,55.7 76,55.7 76.5,55.7 77,55.7 77.5,55.7 78,55.7 78.5,55.7 79,55.6 79.5,55.6 80,55.6 80.5,55.6 81,55.5 81.5,55.5 82,55.5 82.5,55.4 83,55.4 83.5,55.4 84,55.4 84.5,55.3 85,55.3 85.5,55.3 86,55.2 86.5,55.2 87,55.2 87.5,55.1 88,55.1 88.5,55.1 89,55.1 89.5,55 90,55 90.5,55 91,55 91.5,54.9 92,54.9 92.5,54.9 93,54.9 93.5,54.8 94,54.8 94.5,54.8 95,54.8 95.5,54.7 96,54.7 96.5,54.7 97,54.7 97.5,54.6 98,54.6 98.5,54.6 99,54.6 99.5,54.6 100,54.7 100.5,53.8 101,54.8 101.5,53.9 102,54.7 102.5,54.1 103,54.7 103.5,54.4 104,53.8 104.5,54.8 105,54.8 105.5,54.3 106,54.2 106.5,54.2 107,53.9 107.5,54.6 108,54 108.5,54.1 109,53.9 109.5,53.9 110,53.7 110.5,54.5 111,54 111.5,54.4 112,54 112.5,53.8 113,53.9 113.5,53.8 114,53.9 114.5,53.8 115,53.8 115.5,53.4 116,53.6 116.5,54.4 117,53.6 117.5,53.4 118,53.9 118.5,54.3 119,53.2 119.5,53.6 120,53.5 120.5,53.1 121,53.9 121.5,53.6 122,53.6 122.5,53.3 123,53.7 123.5,53.4 124,53.5 124.5,53.1 125,53.1 125.5,53.9 126,53.2 126.5,53.5 127,53.3 127.5,53.2 128,53.1 128.5,53.5 129,53.1 129.5,53.1 130,53.1 130.5,53.5 131,53.3 131.5,53.2 132,52.8 132.5,52.5 133,53.2 133.5,53.2 134,52.8 134.5,53 135,53 135.5,53 136,53 136.5,52.5 137,53.2 137.5,52.1 138,52.8 138.5,52.7 139,52.8 139.5,53.1 140,52.9 140.5,52 141,51.8 141.5,52.7 142,52 142.5,52.4 143,52.7 143.5,51.8 144,51.6 144.5,52.4 145,52.4 145.5,52.3 146,52.4 146.5,52 147,51.8 147.5,52.3 148,52 148.5,51.7 149,52.5 149.5,52.3 150,52.4 150.5,51.9 151,52.1 151.5,51.9 152,52 152.5,52.3 153,52 153.5,52.4 154,52.4 154.5,53 155,51.8 155.5,52.6 156,52.2 156.5,52.2 157,51.7 157.5,52.1 158,52.5 158.5,52.2 159,52.2 159.5,52.1 160,52.6 160.5,52.2 161,51.4 161.5,52 162,51.5 162.5,51.1 163,52 163.5,52.7 164,52.2 164.5,51.8 165,51.9 165.5,52.6 166,52.3 166.5,52.2 167,52.2 167.5,52.2 168,52.5 168.5,52.4 169,52.3 169.5,51.8 170,52.4 170.5,52 171,52.6 171.5,51.8 172,52.2 172.5,52.2 173,51.7 173.5,52.8 174,52.7 174.5,52 175,52.5 175.5,52.3 176,51.3 176.5,52.3 177,52.2 177.5,52.2 178,51.8 178.5,52.1 179,52.1 179.5,52.6 180,52.3 180.5,52.2 181,52.7 181.5,52 182,52.1 182.5,51.6 183,52.7 183.5,52.5 184,52.5 184.5,52.4 185,52.2 185.5,52.3 186,52.1 186.5,52.1 187,52.2 187.5,52.7 188,52.4 188.5,52.2 189,52 189.5,52 190,52.8 190.5,52.4 191,52.2 191.5,52.1 192,51.8 192.5,52.2 193,52.5 193.5,52.1 194,52.1 194.5,52.1 195,52.2 195.5,51.6 196,52.1 196.5,51.9 197,52.5 197.5,51.9 198,52.4 198.5,52.7 199,52.1 199.5,52 200,52.3 200.5,52.2 201,51.8 201.5,52.3 202,52.9 202.5,52.1 203,52.1 203.5,51.8 204,52.3 204.5,51.7 205,51.8 205.5,52.6 206,51.8 206.5,52.5 207,52.7 207.5,52.2 208,52.3 208.5,52.8 209,52.1 209.5,51.9 210,51.6 210.5,52.1 211,52.6 211.5,52.4 212,51.8 212.5,51.8 213,51.9 213.5,52.2 214,52 214.5,52.2 215,52.2 215.5,52 216,52.1 216.5,52.1 217,52 217.5,52.2 218,52.7 218.5,52.3 219,52.1 219.5,51.5 220,52.2 220.5,51.4 221,51.5 221.5,52.3 222,52.3 222.5,52 223,51.4 223.5,51.9 224,51.8 224.5,52.2 225,52.8 225.5,52.1 226,51.7 226.5,51.6 227,52 227.5,51.9 228,51.6 228.5,52 229,51.6 229.5,52.4 230,52.3 230.5,52.3 231,51.8 231.5,52.1 232,51.9 232.5,51.8 233,51.8 233.5,51.5 234,51.4 234.5,52.2 235,51.9 235.5,52 236,52.3 236.5,51.3 237,51.6 237.5,52 238,52 238.5,51.8 239,52.2 239.5,52 240,51.5 240.5,51.6 241,52.2 241.5,52 242,51.2 242.5,52.3 243,52.1 243.5,52.3 244,51.7 244.5,51.7 245,51.4 245.5,52.7 246,51.8 246.5,52.4 247,51.6 247.5,51.9 248,51.2 248.5,51.7 249,52.2 249.5,51.4 250,52.2 250.5,51.9 251,51.4 251.5,51.6 252,51.6 252.5,51.8 253,51.6 253.5,51.5 254,51.7 254.5,51.4 255,51.3 255.5,51.7 256,52.1 256.5,51.2 257,51.8 257.5,51.5 258,51.4 258.5,52 259,51.6 259.5,52.3 260,51.5 260.5,51.9 261,51.6 261.5,51.5 262,51.9 262.5,51.7 263,51.9 263.5,51.7 264,51.3 264.5,51.7 265,51.7 265.5,52 266,51.4 266.5,51.7 267,51.1 267.5,51.9 268,51.3 268.5,51 269,51.7 269.5,52.1 270,51.1 270.5,51.3 271,51.4 271.5,51.3 272,51.8 272.5,51.4 273,51.4 273.5,51.8 274,51.4 274.5,51.8 275,51.3 275.5,51.2 276,51 276.5,52.3 277,51.5 277.5,51.7 278,51.6 278.5,51.7 279,51.6 279.5,52.3 280,51.2 280.3,55.7 332.5,55.7" fill="none" stroke="#3a3a3a" stroke-width="0.9" stroke-linejoin="round" />
<polyline points="37.5,55.7 38,55.7 38.5,55.7 39,55.7 39.5,55.7 40,55.7 40.5,55.7 41,55.7 41.5,55.7 42,55.7 42.5,55.7 43,55.7 43.5,55.7 44,55.7 44.5,55.7 45,55.7 45.5,55.7 46,55.7 46.5,55.7 47,55.7 47.5,55.7 48,55.7 48.5,55.7 49,55.7 49.5,55.7 50,55.7 50.5,55.7 51,55.7 51.5,55.7 52,55.7 52.5,55.7 53,55.7 53.5,55.7 54,55.7 54.5,55.7 55,55.7 55.5,55.7 56,55.7 56.5,55.7 57,55.7 57.5,55.7 58,55.7 58.5,55.7 59,55.7 59.5,55.7 60,55.7 60.5,55.7 61,55.7 61.5,55.7 62,55.7 62.5,55.7 63,55.7 63.5,55.7 64,55.7 64.5,55.7 65,55.7 65.5,55.7 66,55.7 66.5,55.7 67,55.7 67.5,55.7 68,55.7 68.5,55.7 69,55.7 69.5,55.7 70,55.7 70.5,55.7 71,55.7 71.5,55.7 72,55.7 72.5,55.7 73,55.7 73.5,55.7 74,55.7 74.5,55.6 75,55.4 75.5,55.2 76,55.1 76.5,54.9 77,54.8 77.5,54.6 78,54.4 78.5,54.2 79,54 79.5,53.8 80,53.7 80.5,53.5 81,53.3 81.5,53.2 82,53 82.5,52.8 83,52.7 83.5,52.5 84,52.4 84.5,52.2 85,52.1 85.5,51.9 86,51.9 86.5,51.8 87,51.8 87.5,51.7 88,51.7 88.5,51.6 89,51.6 89.5,51.5 90,51.5 90.5,51.4 91,51.4 91.5,51.3 92,51.3 92.5,51.2 93,51.2 93.5,51.1 94,51.1 94.5,51 95,51 95.5,50.9 96,50.9 96.5,50.7 97,50.5 97.5,50.4 98,50.2 98.5,50 99,49.9 99.5,49.7 100,49.7 100.5,49 101,49.2 101.5,49.4 102,47.3 102.5,48.6 103,48.8 103.5,48.7 104,49.1 104.5,48.7 105,48.1 105.5,48 106,48.1 106.5,47.3 107,47.5 107.5,47.9 108,48.4 108.5,47.1 109,47 109.5,47.1 110,47.7 110.5,46.9 111,47.7 111.5,46.3 112,46.7 112.5,46.7 113,47.2 113.5,47.3 114,45.9 114.5,46.2 115,46.8 115.5,46.2 116,45.7 116.5,47.1 117,46.8 117.5,46.7 118,46.2 118.5,47 119,46.2 119.5,47 120,45.8 120.5,45.8 121,46.4 121.5,45.8 122,46.6 122.5,46.3 123,45.6 123.5,46.1 124,45.8 124.5,46.4 125,45.5 125.5,45.6 126,46.5 126.5,47 127,46.8 127.5,45.7 128,45.7 128.5,46.4 129,45.4 129.5,44.9 130,45.5 130.5,45.6 131,44.9 131.5,44.4 132,44.4 132.5,45.5 133,44.7 133.5,45 134,45.1 134.5,45.4 135,44.9 135.5,45.3 136,44.6 136.5,44.9 137,44.6 137.5,45.8 138,45.2 138.5,44.8 139,45.1 139.5,45.2 140,45.7 140.5,44.4 141,44.7 141.5,45 142,46.6 142.5,45.7 143,45.1 143.5,45.6 144,46.3 144.5,45 145,44.9 145.5,45.7 146,45.3 146.5,45.4 147,44.7 147.5,46.1 148,45.9 148.5,45.3 149,45.3 149.5,43.8 150,45.3 150.5,44.8 151,45.1 151.5,45.2 152,44.6 152.5,43.8 153,44.9 153.5,44.3 154,44.5 154.5,44.3 155,44.4 155.5,43.3 156,45.2 156.5,44.6 157,45.1 157.5,45.5 158,44.4 158.5,43.4 159,43.9 159.5,43.7 160,44 160.5,44.4 161,43.3 161.5,44.6 162,43.6 162.5,44.6 163,44.4 163.5,44.3 164,44.5 164.5,44.3 165,44.3 165.5,43.7 166,44.6 166.5,45.7 167,45.8 167.5,45.5 168,45.2 168.5,44.4 169,45.6 169.5,44.8 170,44.9 170.5,44.8 171,45 171.5,44.7 172,44.9 172.5,44.4 173,44.8 173.5,46.3 174,45 174.5,44.9 175,45.3 175.5,45.5 176,44.5 176.5,45 177,45.6 177.5,45.3 178,45.2 178.5,46 179,44.8 179.5,45.2 180,44.9 180.5,46 181,44.2 181.5,44.9 182,45 182.5,45.6 183,45.6 183.5,46.1 184,44.5 184.5,45.7 185,45.2 185.5,45 186,45.7 186.5,44.9 187,44.3 187.5,45.2 188,44.6 188.5,45.1 189,45.7 189.5,45.7 190,46.4 190.5,45.4 191,44.8 191.5,45.2 192,45.2 192.5,45.1 193,46 193.5,45.5 194,44.8 194.5,46.3 195,45.9 195.5,46.2 196,46.2 196.5,46.5 197,46.2 197.5,46.9 198,46.5 198.5,46.6 199,46.6 199.5,45.6 200,46.4 200.5,46.4 201,46.7 201.5,45.8 202,47.5 202.5,46.7 203,46 203.5,45.7 204,46.5 204.5,46.7 205,46.4 205.5,46.8 206,46.4 206.5,47.1 207,46.5 207.5,46.9 208,47.4 208.5,48.3 209,46.4 209.5,46.7 210,46.5 210.5,47.5 211,46.4 211.5,46.8 212,47.1 212.5,46.6 213,46.7 213.5,47 214,46.1 214.5,46.5 215,47.1 215.5,47.5 216,47.3 216.5,46.5 217,47.2 217.5,48 218,47.9 218.5,47.6 219,47.2 219.5,48 220,47.4 220.5,47.1 221,47.3 221.5,48.6 222,48 222.5,48.5 223,47.7 223.5,48.5 224,47.7 224.5,47.9 225,49.3 225.5,48.4 226,47.7 226.5,47.9 227,48.1 227.5,48.6 228,47.6 228.5,46.9 229,47.7 229.5,47.8 230,47.9 230.5,48.5 231,48 231.5,48.2 232,47.1 232.5,48.2 233,48.9 233.5,48.1 234,47.8 234.5,47.8 235,48.6 235.5,47.1 236,47.6 236.5,47.9 237,48 237.5,47.3 238,47.7 238.5,47.4 239,47.6 239.5,47.4 240,46.9 240.5,47.5 241,48 241.5,47 242,47.4 242.5,47.9 243,46.9 243.5,47.6 244,46.9 244.5,48.1 245,48.7 245.5,48.6 246,47.3 246.5,47.9 247,47.5 247.5,47.5 248,48.3 248.5,46.7 249,48 249.5,47.4 250,48.2 250.5,47.6 251,47.1 251.5,47.6 252,47.8 252.5,47.5 253,47.7 253.5,47.1 254,46.3 254.5,47.9 255,47.8 255.5,47.5 256,47.5 256.5,48 257,47.2 257.5,47 258,47.3 258.5,48.1 259,46.6 259.5,48.1 260,47 260.5,46.8 261,48.1 261.5,47.3 262,46.7 262.5,47.2 263,47.9 263.5,48 264,47.1 264.5,47.6 265,47.7 265.5,47 266,47.5 266.5,47.3 267,47 267.5,47 268,47.3 268.5,47.3 269,47 269.5,47 270,47.9 270.5,47.4 271,47.7 271.5,47.9 272,47.6 272.5,48.5 273,46.8 273.5,47.7 274,47 274.5,48.2 275,48.1 275.5,46.1 276,46.5 276.5,47.4 277,47.4 277.5,47.3 278,46.7 278.5,47 279,47 279.5,46.5 280,47.1 280.5,44.9 281,46.2 281.5,45 282,45.8 282.5,45.1 283,45 283.5,46 284,45.5 284.5,45.7 285,45.6 285.5,46.6 286,47 286.5,47.4 287,46.8 287.5,47.6 288,47.1 288.5,47.1 289,47.6 289.5,48 290,47.3 290.5,47.5 291,47.7 291.5,47.9 292,47.5 292.5,48.7 293,48 293.5,48.6 294,48 294.5,48.8 295,49 295.5,48.6 296,50.1 296.5,49.3 297,50.2 297.5,49.9 298,49.1 298.5,49.4 299,50 299.5,49.9 300,50 300.5,50.1 301,50.1 301.5,50.2 302,50.3 302.5,50.3 303,50.4 303.5,50.5 304,50.5 304.5,50.6 305,50.7 305.5,50.8 306,50.8 306.5,50.9 307,51 307.5,51 308,51.1 308.5,51.2 309,51.2 309.5,51.3 310,51.4 310.5,51.4 311,51.5 311.5,51.6 312,51.7 312.5,51.7 313,51.8 313.5,51.9 314,51.9 314.5,52 315,52.1 315.5,52.1 316,52.2 316.5,52.2 317,52.3 317.5,52.3 318,52.4 318.5,52.4 319,52.4 319.5,52.5 320,52.5 320.5,52.6 321,52.6 321.5,52.6 322,52.7 322.5,52.7 323,52.8 323.5,52.8 324,52.8 324.5,52.9 325,52.9 325.5,52.9 326,53 326.5,53 327,53.1 327.5,53.1 328,53.1 328.5,53.2 329,53.2 329.5,53.3 330,53.3 330.5,53.3 331,53.4 331.5,53.4 332,53.5 332.5,53.5" fill="none" stroke="#1f1fff" stroke-width="1.3" stroke-linejoin="round" />
<polyline points="37.5,93.2 38,93.4 38.5,92.8 39,93 39.5,93.2 40,93.2 40.5,93.2 41,93.2 41.5,93.2 42,93.4 42.5,92.9 43,93.2 43.5,93.1 44,93.2 44.5,93.2 45,93.1 45.5,93.1 46,93.3 46.5,93.3 47,93.1 47.5,93.5 48,93.5 48.5,93 49,93.2 49.5,93.6 50,93.3 50.5,93.2 51,93.2 51.5,93.1 52,93.2 52.5,93.1 53,93.3 53.5,93.1 54,93.1 54.5,93 55,93.2 55.5,93.1 56,93.2 56.5,93.4 57,93.3 57.5,93.3 58,93.3 58.5,93.2 59,93.2 59.5,93.2 60,93.3 60.5,92.9 61,92.4 61.5,92.2 62,92 62.5,92 63,91.9 63.5,90.9 64,92.3 64.5,93.6 65,93.4 65.5,93.3 66,93.7 66.5,93.5 67,93.8 67.5,94 68,93.9 68.5,93.6 69,93.7 69.5,94.1 70,93.9 70.5,93.8 71,94 71.5,94.2 72,94.1 72.5,93.9 73,93.9 73.5,94 74,93.8 74.5,93.7 75,93.9 75.5,93.7 76,93.9 76.5,93.9 77,94.3 77.5,93.8 78,93.9 78.5,93.9 79,94 79.5,94.1 80,93.9 80.5,93.8 81,93.7 81.5,93.8 82,94 82.5,94 83,93.8 83.5,93.9 84,94 84.5,94.1 85,93.9 85.5,93.9 86,93.7 86.5,93.8 87,94.2 87.5,93.8 88,94.2 88.5,94.4 89,94.5 89.5,94.5 90,94.8 90.5,94.8 91,94.8 91.5,94.6 92,94.9 92.5,94.8 93,94.8 93.5,95 94,95.1 94.5,95.1 95,94.9 95.5,78 96,78 96.5,78 97,78 97.5,78 98,78 98.5,78 99,78 99.5,78 100,78 100.5,78 101,78 101.5,78 102,78 102.5,78.5 103,79 103.5,79.5 104,79.9 104.5,80.4 105,80.9 105.5,81.4 106,81.9 106.5,82.4 107,82.9 107.5,83.3 108,83.8 108.5,84.3 109,84.8 109.5,85 110,85 110.5,85 111,85 111.5,85 112,85 112.5,85 113,85 113.5,85 114,85 114.5,85 115,85 115.5,85 116,85 116.5,85 117,85 117.5,85 118,85 118.5,85 119,85 119.5,85 120,85 120.5,85 121,85 121.5,85 122,85 122.5,85 123,85 123.5,85 124,85 124.5,85 125,85 125.5,85 126,85 126.5,85 127,85 127.5,85 128,85 128.5,85 129,85 129.5,85 130,85 130.5,85 131,85 131.5,85 132,85 132.5,85 133,85 133.5,85 134,85 134.5,85 135,85 135.5,85 136,85 136.5,85 137,85 137.5,85 138,85 138.5,85 139,85 139.5,85 140,85 140.5,85 141,85 141.5,85 142,85 142.5,85 143,85 143.5,85 144,85 144.5,85 145,85 145.5,85 146,85 146.5,85 147,85 147.5,85 148,85 148.5,85 149,85 149.5,85 150,85 150.5,85 151,85 151.5,85 152,85 152.5,85 153,85 153.5,85 154,85 154.5,85 155,85 155.5,85 156,85 156.5,85 157,85 157.5,85 158,85 158.5,85 159,85 159.5,85 160,85 160.5,85 161,85 161.5,85 162,85 162.5,85 163,85 163.5,85 164,85 164.5,85 165,85 165.5,85 166,85 166.5,85 167,85 167.5,85 168,85 168.5,85 169,85 169.5,85 170,85 170.5,85 171,85 171.5,85 172,85 172.5,85 173,85 173.5,85 174,85 174.5,85 175,85 175.5,85 176,85 176.5,85 177,85 177.5,85 178,85 178.5,85 179,85 179.5,85 180,85 180.5,85 181,85 181.5,85 182,85 182.5,85 183,85 183.5,85 184,85 184.5,85 185,85 185.5,85 186,85 186.5,85 187,85 187.5,85 188,85 188.5,85 189,85 189.5,85 190,85 190.5,85 191,85 191.5,85 192,85 192.5,85 193,85 193.5,85 194,85 194.5,85 195,85 195.5,85 196,85 196.5,85 197,85 197.5,85 198,85 198.5,85 199,85 199.5,85 200,85 200.5,85 201,85 201.5,85 202,85 202.5,85 203,85 203.5,85 204,85 204.5,85 205,85 205.5,85 206,85 206.5,85 207,85 207.5,85 208,85 208.5,85 209,85 209.5,85 210,85 210.5,85 211,85 211.5,85 212,85 212.5,85 213,85 213.5,85 214,85 214.5,85 215,85 215.5,85 216,85 216.5,85 217,85 217.5,85 218,85 218.5,85 219,85 219.5,85 220,85 220.5,85 221,85 221.5,85 222,85 222.5,85 223,85 223.5,85 224,85 224.5,85 225,85 225.5,85 226,85 226.5,85 227,85 227.5,85 228,85 228.5,85 229,85 229.5,85 230,85 230.5,85 231,85 231.5,85 232,85 232.5,85 233,85 233.5,85 234,85 234.5,85 235,85 235.5,85 236,85 236.5,85 237,85 237.5,85 238,85 238.5,85 239,85 239.5,85 240,85 240.5,85 241,85 241.5,85 242,85 242.5,85 243,85 243.5,85 244,85 244.5,85 245,85 245.5,85 246,85 246.5,85 247,85 247.5,85 248,85 248.5,85 249,85 249.5,85 250,85 250.5,85 251,85 251.5,85 252,85 252.5,85 253,85 253.5,85 254,85 254.5,85 255,85 255.5,85 256,85 256.5,85 257,85 257.5,85 258,85 258.5,85 259,85 259.5,85 260,85 260.5,85 261,85 261.5,85 262,85 262.5,85 263,85 263.5,62.4 264,62.4 264.5,62.4 265,62.4 265.5,62.4 266,62.4 266.5,62.4 267,62.4 267.5,62.4 268,62.4 268.5,62.4 269,62.4 269.5,62.4 270,62.4 270.5,62.4 271,62.4 271.5,62.4 272,62.4 272.5,62.4 273,62.4 273.5,62.4 274,62.4 274.5,62.4 275,62.4 275.5,62.4 276,62.4 276.5,62.4 277,62.4 277.5,62.4 278,62.4 278.5,62.4 279,62.4 279.5,62.4 280,62.4 280.5,70 281,70 281.5,70 282,70 282.5,70 283,70 283.5,70 284,70 284.5,70 285,70 285.5,70 286,70 286.5,70 287,70 287.5,70 288,70 288.5,70 289,70 289.5,70 290,70 290.5,70 291,70 291.5,70 292,70 292.5,70 293,70 293.5,70 294,70 294.5,70 295,70 295.5,70 296,70 296.5,70 297,70 297.5,70 298,70 298.5,70 299,70 299.5,70 300,70 300.5,70 301,70 301.5,70 302,70 302.5,70 303,70 303.5,70 304,70 304.5,70 305,92.2 305.5,92.2 306,92.2 306.5,92.2 307,92.2 307.5,92.2 308,92.2 308.5,92.2 309,92.2 309.5,92.2 310,92.2 310.5,92.2 311,92.2 311.5,92.2 312,92.2 312.5,92.2 313,92.2 313.5,92.2 314,92.2 314.5,92.2 315,92.2 315.5,92.2 316,95.4 316.5,95.4 317,95.4 317.5,95.4 318,95.4 318.5,95.4 319,95.4 319.5,95.4 320,95.4 320.5,95.4 321,95.4 321.5,95.4 322,95.4 322.5,95.4 323,95.4 323.5,95.4 324,95.4 324.5,95.4 325,95.4 325.5,95.4 326,95.4 326.5,95.4 327,95.4 327.5,95.4 328,95.4 328.5,95.4 329,95.4 329.5,95.4 330,95.4 330.5,95.4 331,95.4 331.5,95.4 332,95.4 332.5,95.4" fill="none" stroke="#ff3a3a" stroke-width="1.0" stroke-linejoin="round" />
<polyline points="37.5,128.3 38,128.3 38.5,128.3 39,128.3 39.5,128.3 40,128.3 40.5,128.3 41,128.3 41.5,128.2 42,128.2 42.5,128.2 43,128.2 43.5,128.2 44,128.2 44.5,128.2 45,128.2 45.5,128.2 46,128.2 46.5,128.2 47,128.2 47.5,128.2 48,128.2 48.5,128.2 49,128.1 49.5,128.1 50,128.1 50.5,128.1 51,128.1 51.5,128.1 52,128.1 52.5,128.1 53,128.1 53.5,128.1 54,128.1 54.5,128.1 55,128.1 55.5,128.1 56,128.1 56.5,128 57,128 57.5,128 58,128 58.5,128 59,128 59.5,128 60,128 60.5,128 61,128 61.5,128 62,128 62.5,128 63,128 63.5,128 64,128 64.5,127.9 65,127.9 65.5,127.9 66,127.9 66.5,127.9 67,127.9 67.5,127.9 68,127.9 68.5,127.9 69,127.9 69.5,127.9 70,127.9 70.5,127.9 71,127.9 71.5,127.9 72,127.8 72.5,127.8 73,127.8 73.5,127.8 74,127.8 74.5,127.8 75,127.8 75.5,127.8 76,127.8 76.5,127.9 77,128.1 77.5,128.2 78,128.3 78.5,128.2 79,128 79.5,127.9 80,127.8 80.5,127.7 81,127.5 81.5,127.4 82,127.3 82.5,127.1 83,127 83.5,126.9 84,126.8 84.5,126.6 85,126.5 85.5,126.3 86,126.1 86.5,125.8 87,125.6 87.5,125.4 88,125.2 88.5,125 89,124.8 89.5,124.5 90,124.3 90.5,124.1 91,123.9 91.5,123.7 92,123.4 92.5,123.2 93,123 93.5,122.8 94,122.5 94.5,122.3 95,122 95.5,121.8 96,121.5 96.5,121.3 97,121 97.5,120.8 98,120.5 98.5,120.3 99,120 99.5,119.8 100,119.2 100.5,119.2 101,119.1 101.5,118.2 102,118.7 102.5,118 103,117.7 103.5,117.9 104,117.5 104.5,116.9 105,117.5 105.5,116.5 106,116.6 106.5,116.3 107,116.4 107.5,115.8 108,116.1 108.5,115.6 109,116 109.5,115.4 110,115.5 110.5,115.9 111,115.5 111.5,115.4 112,115.8 112.5,115.3 113,114.9 113.5,115.2 114,114.7 114.5,115.2 115,115.1 115.5,114.6 116,114.6 116.5,114.7 117,114.6 117.5,114.3 118,114.7 118.5,114 119,114.3 119.5,114.3 120,114.3 120.5,114.4 121,113.9 121.5,114.3 122,114.1 122.5,113.9 123,113.7 123.5,113.7 124,114.1 124.5,113.7 125,113.9 125.5,114.1 126,114 126.5,114.1 127,113.5 127.5,113.3 128,113.7 128.5,113.5 129,113.6 129.5,113.3 130,113.5 130.5,113.4 131,113.3 131.5,113.2 132,113.1 132.5,113 133,112.9 133.5,113.1 134,112.7 134.5,113.2 135,112.7 135.5,113 136,112.7 136.5,112.6 137,113.2 137.5,112.6 138,112.3 138.5,112.5 139,112.6 139.5,113.2 140,112.7 140.5,112.8 141,112.3 141.5,112.6 142,112.7 142.5,113 143,112.3 143.5,112.6 144,112.6 144.5,112.2 145,112.4 145.5,112.4 146,111.8 146.5,112.6 147,112.5 147.5,112.3 148,112 148.5,112.7 149,112.4 149.5,112.6 150,112.7 150.5,112.1 151,112.4 151.5,112.2 152,112.2 152.5,112.1 153,112.1 153.5,112.4 154,112.1 154.5,112 155,112 155.5,112.1 156,111.7 156.5,111.8 157,111.9 157.5,111.7 158,111.8 158.5,111.7 159,112.3 159.5,112.1 160,111.9 160.5,111.7 161,112.2 161.5,111.7 162,111.6 162.5,111.7 163,111.7 163.5,112.1 164,111.8 164.5,112.4 165,111.7 165.5,112.2 166,111.8 166.5,112.6 167,112.1 167.5,112.3 168,112.6 168.5,112.7 169,112.2 169.5,112.5 170,112.3 170.5,112.7 171,112.7 171.5,112.7 172,112.7 172.5,112.8 173,112.8 173.5,113.1 174,113.4 174.5,112.6 175,113.1 175.5,113.1 176,113.3 176.5,113 177,113.3 177.5,113.1 178,113.6 178.5,113.4 179,113.4 179.5,113.6 180,113.5 180.5,113.2 181,113.8 181.5,113.8 182,113.7 182.5,114 183,114.1 183.5,113.6 184,113.7 184.5,114.3 185,114.2 185.5,113.7 186,113.5 186.5,113.6 187,113.7 187.5,113.4 188,113.7 188.5,113.4 189,113.4 189.5,113.9 190,113.5 190.5,113.6 191,113.8 191.5,113.8 192,113.5 192.5,113.6 193,113.3 193.5,114 194,113.7 194.5,113.2 195,113.5 195.5,113.6 196,113.5 196.5,113.9 197,113.7 197.5,113.2 198,113.3 198.5,113 199,113.4 199.5,113.3 200,113.9 200.5,113.3 201,112.7 201.5,113 202,113.2 202.5,112.9 203,113 203.5,113.2 204,113.4 204.5,113.3 205,113.1 205.5,113.6 206,113.3 206.5,113.3 207,113.1 207.5,113.3 208,113.6 208.5,113.1 209,113.5 209.5,113.7 210,113.5 210.5,113.6 211,113.3 211.5,114 212,113.9 212.5,113.7 213,113.3 213.5,113.5 214,114 214.5,114.2 215,113.9 215.5,114.1 216,113.7 216.5,113.8 217,113.9 217.5,114 218,113.5 218.5,114.2 219,114.3 219.5,113.7 220,113.7 220.5,114.1 221,113.9 221.5,113.5 222,114.3 222.5,114.2 223,114.1 223.5,114.8 224,114.3 224.5,114.1 225,114.4 225.5,114.1 226,114.2 226.5,114.5 227,114.3 227.5,114.4 228,115 228.5,114.8 229,114.8 229.5,114.8 230,114.8 230.5,115.1 231,114.7 231.5,115.2 232,114.6 232.5,114.8 233,114.5 233.5,114.8 234,115.1 234.5,115.3 235,114.8 235.5,115 236,115 236.5,114.9 237,114.8 237.5,115.2 238,114.8 238.5,115.3 239,115.3 239.5,115.1 240,115.1 240.5,115 241,115.9 241.5,115.1 242,115.9 242.5,115.7 243,115.4 243.5,115.3 244,115.8 244.5,115.9 245,115.2 245.5,115.3 246,115.6 246.5,115.3 247,115.6 247.5,114.9 248,115.1 248.5,114.6 249,115.4 249.5,114.6 250,114.2 250.5,114.6 251,114.5 251.5,115 252,114.3 252.5,114.3 253,114.4 253.5,114.7 254,114.2 254.5,114.5 255,114.4 255.5,114.1 256,114.2 256.5,114.2 257,113.9 257.5,114.5 258,113.8 258.5,114.4 259,114.4 259.5,114.1 260,113.9 260.5,114 261,114.2 261.5,114.2 262,114.1 262.5,114.3 263,113.9 263.5,114 264,113.6 264.5,114.2 265,114 265.5,113.8 266,114.2 266.5,114.1 267,113.2 267.5,113.9 268,113.5 268.5,114.1 269,114.5 269.5,113.7 270,113.8 270.5,113.7 271,113.9 271.5,113.9 272,114 272.5,113.5 273,114.1 273.5,113.4 274,113.7 274.5,113.9 275,113.8 275.5,113.4 276,113.4 276.5,113.4 277,113.5 277.5,113.8 278,113.2 278.5,113.6 279,113.6 279.5,113.6 280,113.5 280.5,113.8 281,113.5 281.5,113.6 282,113.5 282.5,113.8 283,112.8 283.5,113.6 284,113.2 284.5,113.2 285,113 285.5,112.8 286,113.1 286.5,113.1 287,113.5 287.5,113.2 288,114 288.5,113.8 289,113.8 289.5,113.8 290,113.9 290.5,113.9 291,114.1 291.5,114.4 292,114.5 292.5,114.3 293,114.6 293.5,114.6 294,115 294.5,115.5 295,115.3 295.5,115.2 296,115 296.5,115.1 297,115.2 297.5,115.9 298,115.6 298.5,115.9 299,115.9 299.5,116.1 300,116.5 300.5,116.1 301,116.2 301.5,116.2 302,116.6 302.5,116.2 303,116.3 303.5,116.3 304,116.3 304.5,116.9 305,117.4 305.5,116.6 306,117.2 306.5,117.1 307,116.8 307.5,117 308,117.1 308.5,117.1 309,117.8 309.5,116.9 310,117.5 310.5,117.6 311,117.4 311.5,117.6 312,117.9 312.5,117.8 313,117.9 313.5,118 314,117.4 314.5,118.4 315,118.6 315.5,118.4 316,118.4 316.5,117.9 317,118.3 317.5,118.2 318,118.4 318.5,118.9 319,118.6 319.5,118.9 320,118.6 320.5,119.1 321,119.3 321.5,119.2 322,119.4 322.5,120.1 323,119.5 323.5,119.6 324,119.8 324.5,120.4 325,120.8 325.5,120.5 326,120.3 326.5,120.5 327,121 327.5,120.7 328,121.4 328.5,121.5 329,121.3 329.5,121.5 330,121.7 330.5,121.6 331,121.7 331.5,121.8 332,121.9 332.5,122" fill="none" stroke="#f25a5a" stroke-width="1.1" stroke-linejoin="round" />
<polyline points="37.5,175.5 38,175.5 38.5,175.5 39,175.5 39.5,175.5 40,175.5 40.5,175.5 41,175.5 41.5,175.5 42,175.5 42.5,175.5 43,175.5 43.5,175.5 44,175.5 44.5,175.5 45,175.5 45.5,175.5 46,175.5 46.5,175.5 47,175.5 47.5,175.5 48,175.5 48.5,175.5 49,175.5 49.5,175.5 50,175.5 50.5,175.5 51,175.5 51.5,175.5 52,175.5 52.5,175.5 53,175.5 53.5,175.5 54,175.5 54.5,175.5 55,175.5 55.5,175.5 56,175.5 56.5,175.5 57,175.5 57.5,175.5 58,175.5 58.5,175.5 59,175.5 59.5,175.5 60,175.5 60.5,175.5 61,175.5 61.5,175.5 62,175.5 62.5,175.5 63,175.5 63.5,175.5 64,175.5 64.5,175.5 65,175.5 65.5,175.5 66,175.5 66.5,175.5 67,175.5 67.5,175.5 68,175.5 68.5,175.5 69,175.5 69.5,175.5 70,175.5 70.5,175.5 71,175.5 71.5,175.5 72,175.2 72.5,174.9 73,174.6 73.5,174.3 74,174 74.5,173.7 75,173.4 75.5,173.1 76,172.8 76.5,172.5 77,172.2 77.5,171.9 78,171.6 78.5,171.2 79,170.7 79.5,170.3 80,169.8 80.5,169.3 81,168.8 81.5,168.3 82,167.9 82.5,167.4 83,166.9 83.5,166.4 84,166 84.5,165.5 85,165 85.5,164.5 86,164 86.5,163.4 87,162.9 87.5,162.4 88,161.9 88.5,161.3 89,160.8 89.5,160.3 90,159.8 90.5,159.2 91,158.7 91.5,158.2 92,157.7 92.5,157.2 93,156.6 93.5,156.1 94,155.6 94.5,155.1 95,154.6 95.5,154.1 96,153.5 96.5,153 97,152.5 97.5,152 98,151.5 98.5,151.1 99,150.6 99.5,150.1 100,149.5 100.5,149.1 101,148.5 101.5,148.4 102,147.6 102.5,147.3 103,146.9 103.5,146.5 104,147 104.5,146.4 105,146.7 105.5,146.5 106,145.8 106.5,145.9 107,145.9 107.5,145.9 108,145.9 108.5,146.4 109,146.3 109.5,146.5 110,146.4 110.5,146.9 111,147 111.5,147.5 112,148 112.5,148.2 113,148.4 113.5,148.5 114,149.1 114.5,149.5 115,149.6 115.5,149.8 116,150.4 116.5,151.2 117,150.8 117.5,151.3 118,151.6 118.5,150.7 119,151.3 119.5,151 120,151.4 120.5,150.9 121,150.8 121.5,151 122,151.1 122.5,150.9 123,151.1 123.5,150.8 124,151.1 124.5,151.4 125,151.7 125.5,151.4 126,151.3 126.5,151.5 127,151.5 127.5,151.7 128,151.6 128.5,151.3 129,151.4 129.5,151.4 130,151.5 130.5,151.5 131,151.2 131.5,150.9 132,151.3 132.5,151 133,151.5 133.5,151.5 134,151.1 134.5,151.7 135,151.8 135.5,151.6 136,152.1 136.5,152.1 137,151.4 137.5,152 138,151.8 138.5,151.8 139,152 139.5,151.6 140,151.7 140.5,151.6 141,151.6 141.5,151.8 142,151.4 142.5,151.5 143,151.9 143.5,151.7 144,151.9 144.5,151.3 145,151.5 145.5,151.6 146,151.7 146.5,151.6 147,152 147.5,151.7 148,151.7 148.5,151.7 149,151.9 149.5,151.6 150,152 150.5,151.8 151,151.7 151.5,151.7 152,151.8 152.5,151.9 153,151.9 153.5,151.7 154,151.9 154.5,151.7 155,151.9 155.5,151.6 156,151.1 156.5,152 157,151.6 157.5,151.3 158,151.6 158.5,151.4 159,152.1 159.5,151.7 160,151.2 160.5,151.7 161,151.5 161.5,152 162,151.3 162.5,151 163,151.6 163.5,151.5 164,151.4 164.5,151 165,151.6 165.5,151.9 166,151 166.5,151.8 167,151.4 167.5,152.2 168,151.8 168.5,151.8 169,152.2 169.5,152.2 170,152 170.5,152.4 171,152.2 171.5,152 172,153.1 172.5,152.6 173,152.6 173.5,153 174,152.6 174.5,152.7 175,153.1 175.5,153.2 176,153.4 176.5,153.8 177,153.5 177.5,153.8 178,154 178.5,153.7 179,154.1 179.5,153.9 180,154.5 180.5,154.5 181,154.5 181.5,154.2 182,154.7 182.5,154.6 183,155 183.5,154.9 184,154.9 184.5,155.4 185,155.5 185.5,155.2 186,155.8 186.5,155.4 187,155.3 187.5,155.3 188,155 188.5,155 189,155 189.5,155.4 190,155.3 190.5,154.8 191,155.2 191.5,154.7 192,154.8 192.5,154.8 193,154.6 193.5,155.1 194,154.4 194.5,154 195,154.6 195.5,154.1 196,154 196.5,153.3 197,154.2 197.5,154.1 198,154 198.5,154 199,154.1 199.5,153.6 200,153.8 200.5,153.3 201,153.3 201.5,153.6 202,153.4 202.5,153 203,153.4 203.5,153.3 204,153.2 204.5,153.5 205,153.3 205.5,153 206,153.2 206.5,153.9 207,153.1 207.5,153.5 208,153.6 208.5,153.7 209,153.2 209.5,153.5 210,153.6 210.5,153.8 211,153.4 211.5,153.3 212,153.9 212.5,153.9 213,153.7 213.5,153.5 214,153.8 214.5,153.7 215,153.9 215.5,153.4 216,153.8 216.5,153.7 217,153.5 217.5,153.8 218,153.8 218.5,153.7 219,153.9 219.5,153.5 220,153.9 220.5,154 221,154 221.5,154.2 222,153.6 222.5,153.6 223,154 223.5,154.1 224,154.5 224.5,154.2 225,153.8 225.5,154.2 226,153.8 226.5,153.7 227,154.7 227.5,154.2 228,154.3 228.5,154.3 229,154.6 229.5,154.2 230,154.5 230.5,153.9 231,153.9 231.5,154.7 232,154.9 232.5,154.7 233,154.8 233.5,154.9 234,154.7 234.5,155.4 235,155.3 235.5,155.4 236,155.4 236.5,155.7 237,155.7 237.5,155.8 238,155.5 238.5,156 239,156.5 239.5,155.9 240,156.1 240.5,156.5 241,156.6 241.5,156.7 242,156.2 242.5,156.8 243,156.5 243.5,156.7 244,157.1 244.5,156.8 245,157.1 245.5,157.6 246,156.9 246.5,156.8 247,156.4 247.5,156.4 248,156.2 248.5,156.3 249,156.1 249.5,156.1 250,156.2 250.5,155.9 251,155.7 251.5,155.7 252,156.1 252.5,155.9 253,156.1 253.5,156 254,155.6 254.5,155.8 255,155.2 255.5,156.1 256,155.8 256.5,155.3 257,155 257.5,155.4 258,154.9 258.5,155.2 259,155.7 259.5,155.6 260,155.5 260.5,155.9 261,155.5 261.5,155.8 262,155.7 262.5,155.7 263,156.1 263.5,155.7 264,156.5 264.5,156 265,156.7 265.5,155.9 266,156.4 266.5,156 267,156 267.5,156.5 268,156.7 268.5,156.2 269,156.9 269.5,156.5 270,156.7 270.5,156.9 271,157 271.5,156.4 272,157.3 272.5,157.1 273,156.9 273.5,156.8 274,156.7 274.5,156.9 275,157.4 275.5,157.2 276,157.1 276.5,157.3 277,157.9 277.5,157.6 278,157.9 278.5,158.8 279,158.9 279.5,159.1 280,159.3 280.5,159.4 281,159.9 281.5,160.4 282,160.8 282.5,161.3 283,161.7 283.5,162 284,162.3 284.5,162.4 285,162.5 285.5,163.2 286,163.5 286.5,163.8 287,164.1 287.5,164.1 288,164.3 288.5,164.8 289,165.1 289.5,165.1 290,165.6 290.5,165.6 291,165.7 291.5,166.2 292,166.8 292.5,166.4 293,167.1 293.5,167.4 294,167.6 294.5,167.3 295,168.2 295.5,167.8 296,167.8 296.5,167.8 297,168.1 297.5,168 298,168 298.5,168.5 299,168 299.5,168 300,168.5 300.5,168.6 301,168.7 301.5,168.2 302,168.8 302.5,168.8 303,169.1 303.5,168.5 304,168.9 304.5,168.8 305,168.6 305.5,168.9 306,169.4 306.5,169.1 307,169.1 307.5,169.5 308,169.6 308.5,169.7 309,169.3 309.5,169.6 310,169.9 310.5,169.6 311,169.6 311.5,170.1 312,170.4 312.5,169.8 313,169.5 313.5,169.8 314,170 314.5,170.3 315,170.6 315.5,170.6 316,170.7 316.5,171.2 317,171.2 317.5,171.6 318,171.7 318.5,172.8 319,172.6 319.5,172.4 320,172.7 320.5,173 321,173 321.5,173.5 322,173.6 322.5,174 323,173.7 323.5,173.7 324,173.6 324.5,173.7 325,174 325.5,174 326,174.4 326.5,174 327,174.5 327.5,174.4 328,174.3 328.5,173.9 329,174.1 329.5,174.7 330,174.9 330.5,174.6 331,174.6 331.5,174.7 332,174.7 332.5,174.8" fill="none" stroke="#f25a5a" stroke-width="1.1" stroke-linejoin="round" />
<polyline points="72.6,218.3 73.1,218.2 73.6,218.1 74.1,218.1 74.6,218 75.1,217.9 75.6,217.7 76.1,217.5 76.6,217.4 77.1,217.2 77.6,217 78.1,216.8 78.6,216.6 79.1,216.3 79.6,216 80.1,215.7 80.6,215.4 81.1,214.9 81.6,214.5 82.1,214 82.6,213.6 83.1,213.1 83.6,212.5 84.1,211.9 84.6,211.3 85.1,210.8 85.6,210.1 86.1,209.4 86.6,208.6 87.1,207.9 87.6,207.1 88.1,206.3 88.6,205.5 89.1,204.6 89.6,203.8 90.1,203 90.6,202.1 91.1,201.3 91.6,200.4 92.1,199.6 92.6,198.7 93.1,197.8 93.6,196.9 94.1,196.1 94.6,195.2 95.1,194.3 95.6,193.5 96.1,192.7 96.6,191.8 97.1,191 97.6,190.1 98.1,189.3 98.6,188.6 99.1,188 99.6,187.3 100.1,186.3 100.6,185.9 101.1,185.7 101.6,184.6 102.1,184.3 102.6,183.9 103.1,183 103.6,183.3 104.1,182.7 104.6,181.9 105.1,182 105.6,181.5 106.1,181.5 106.6,182.3 107.1,182.6 107.6,183.7 108.1,183.8 108.6,184.8 109.1,185.1 109.6,186 110.1,186.2 110.6,186.8 111.1,187.2 111.6,188.4 112.1,189.1 112.6,190 113.1,190.2 113.6,190.4 114.1,190.7 114.6,191.3 115.1,191.7 115.6,192.6 116.1,192.9 116.6,192.7 117.1,193.1 117.6,194.1 118.1,194.2 118.6,194.4 119.1,195.2 119.6,194.8 120.1,194.8 120.6,194.8 121.1,194.4 121.6,195.2 122.1,194.6 122.6,194.9 123.1,194.8 123.6,195.3 124.1,195.1 124.6,195.1 125.1,194.6 125.6,195.1 126.1,194.7 126.6,195.3 127.1,195.3 127.6,195.2 128.1,195.8 128.6,195.4 129.1,195.4 129.6,195.3 130.1,195.2 130.6,195.6 131.1,195.7 131.6,195 132.1,195.7 132.6,195.5 133.1,195.7 133.6,195.6 134.1,195.1 134.6,195.1 135.1,196 135.6,195.6 136.1,195.1 136.6,195.7 137.1,195.5 137.6,195.1 138.1,194.9 138.6,195.2 139.1,195.8 139.6,195.7 140.1,195.7 140.6,195.9 141.1,196 141.6,195.2 142.1,195.8 142.6,195.6 143.1,195.6 143.6,195.8 144.1,195.9 144.6,195.9 145.1,195.6 145.6,195.9 146.1,196.7 146.6,195.8 147.1,195.6 147.6,196.3 148.1,196.4 148.6,196.4 149.1,195.9 149.6,196.6 150.1,196.1 150.6,196 151.1,196.2 151.6,196.4 152.1,196.6 152.6,196.5 153.1,196.3 153.6,196.6 154.1,196.3 154.6,196.6 155.1,195.8 155.6,195.8 156.1,196.5 156.6,195.8 157.1,196.1 157.6,196.1 158.1,196 158.6,196 159.1,196.5 159.6,195.3 160.1,196.4 160.6,196.8 161.1,196.1 161.6,196 162.1,196.2 162.6,196.6 163.1,195.8 163.6,196.2 164.1,196.3 164.6,196.6 165.1,196.6 165.6,196.8 166.1,196.6 166.6,196.8 167.1,196.7 167.6,196.8 168.1,197.1 168.6,197.2 169.1,197 169.6,197.9 170.1,197.5 170.6,197.2 171.1,198 171.6,197.6 172.1,198.1 172.6,198 173.1,198.2 173.6,198.3 174.1,198.2 174.6,198.5 175.1,199.2 175.6,198.1 176.1,198.9 176.6,199.1 177.1,198.8 177.6,198.9 178.1,200.1 178.6,199.4 179.1,200.3 179.6,200 180.1,200 180.6,200.2 181.1,200.4 181.6,200.7 182.1,200.6 182.6,200.7 183.1,200.7 183.6,201 184.1,200.8 184.6,200.1 185.1,200.2 185.6,200.4 186.1,200 186.6,200 187.1,199.7 187.6,199.8 188.1,200 188.6,200 189.1,199.7 189.6,200.2 190.1,199.4 190.6,200.3 191.1,199.6 191.6,199.4 192.1,199 192.6,198.2 193.1,198.9 193.6,198.9 194.1,199.3 194.6,198.3 195.1,199.2 195.6,198.4 196.1,198.6 196.6,197.6 197.1,198.3 197.6,198 198.1,198.3 198.6,198 199.1,197.5 199.6,198.1 200.1,197.9 200.6,197.8 201.1,197.8 201.6,197.8 202.1,197.3 202.6,196.8 203.1,196.7 203.6,197.5 204.1,197.2 204.6,197 205.1,196.9 205.6,197 206.1,197 206.6,196.9 207.1,196.8 207.6,197.6 208.1,197.1 208.6,196.8 209.1,196.6 209.6,196.8 210.1,197.2 210.6,197.2 211.1,196.9 211.6,197 212.1,196.9 212.6,196.7 213.1,197.4 213.6,197.1 214.1,197.7 214.6,196.8 215.1,197 215.6,197.3 216.1,196.9 216.6,196.6 217.1,196.7 217.6,197 218.1,197.1 218.6,197 219.1,197.3 219.6,197.3 220.1,197.1 220.6,197 221.1,196.9 221.6,197.2 222.1,197.3 222.6,197.1 223.1,197.3 223.6,197.1 224.1,196.8 224.6,197 225.1,197.5 225.6,197.5 226.1,197.9 226.6,197.5 227.1,197.7 227.6,197.9 228.1,197.9 228.6,197.4 229.1,197.6 229.6,197.8 230.1,197.5 230.6,197.9 231.1,198.2 231.6,197.7 232.1,198.5 232.6,197.9 233.1,198 233.6,198 234.1,197.9 234.6,198.3 235.1,198.2 235.6,198.9 236.1,198.7 236.6,198.8 237.1,198.8 237.6,198.6 238.1,199.1 238.6,199 239.1,199.7 239.6,199.6 240.1,200.2 240.6,200.1 241.1,200.3 241.6,200.3 242.1,200.4 242.6,200.7 243.1,200.9 243.6,200.6 244.1,201 244.6,201.5 245.1,200.6 245.6,200.4 246.1,200.2 246.6,199.9 247.1,200.5 247.6,200.1 248.1,200 248.6,200.4 249.1,200.5 249.6,199.4 250.1,199.8 250.6,199.6 251.1,199.4 251.6,199.3 252.1,199.1 252.6,199.4 253.1,199.1 253.6,199.1 254.1,199.4 254.6,199.4 255.1,199.3 255.6,199.3 256.1,199.8 256.6,199.4 257.1,199.3 257.6,199.1 258.1,199.3 258.6,199.2 259.1,199.6 259.6,199.7 260.1,199 260.6,199.7 261.1,199.9 261.6,199.8 262.1,199.5 262.6,200.3 263.1,199.7 263.6,199.6 264.1,199.7 264.6,200.1 265.1,200.4 265.6,200.5 266.1,200.3 266.6,199.9 267.1,200.1 267.6,200.1 268.1,200.4 268.6,200 269.1,200.6 269.6,200.8 270.1,200.6 270.6,200.8 271.1,200.5 271.6,200.4 272.1,200.6 272.6,201.2 273.1,201.4 273.6,201.1 274.1,201.8 274.6,201.5 275.1,202.2 275.6,202.1 276.1,202 276.6,202.5 277.1,202.2 277.6,202.4 278.1,202.4 278.6,203.1 279.1,203.2 279.6,203.4 280.1,203.4 280.6,204.3 281.1,204.4 281.6,204.9 282.1,205.8 282.6,206.5 283.1,207.2 283.6,207.9 284.1,208.7 284.6,209.4 285.1,210.2 285.6,210.9 286.1,211.5 286.6,211.7 287.1,211.9 287.6,212.1 288.1,212.3 288.6,212.5 289.1,212.6 289.6,212.8 290.1,213 290.6,213.2 291.1,213.4 291.6,213.6 292.1,213.7 292.6,213.9 293.1,214.1 293.6,214.3 294.1,214.5 294.6,214.7 295.1,214.8 295.6,214.8 296.1,214.9 296.6,214.9 297.1,214.9 297.6,215 298.1,215 298.6,215 299.1,215 299.6,215.1 300.1,215.1 300.6,215.1 301.1,215.2 301.6,215.2 302.1,215.2 302.6,215.3 303.1,215.3 303.6,215.3 304.1,215.3 304.6,215.4 305.1,215.4 305.6,215.4 306.1,215.5 306.6,215.5 307.1,215.5 307.6,215.6 308.1,215.6 308.6,215.6 309.1,215.6 309.6,215.7 310.1,215.7 310.6,215.7 311.1,215.8 311.6,215.8 312.1,215.8 312.6,215.9 313.1,215.9 313.6,215.9 314.1,215.9 314.6,216 315.1,216 315.6,216.2 316.1,216.4 316.6,216.6 317.1,216.7 317.6,216.9 318.1,217.1 318.6,217.3 319.1,217.4 319.6,217.5 320.1,217.5 320.6,217.6 321.1,217.6 321.6,217.6 322.1,217.7 322.6,217.7 323.1,217.7 323.6,217.8 324.1,217.8 324.6,217.8 325.1,217.9 325.6,217.9 326.1,217.9 326.6,217.9 327.1,218 327.6,218 328.1,218 328.6,218.1 329.1,218.1 329.6,218.1 330.1,218.2 330.6,218.2 331.1,218.2 331.6,218.2 332.1,218.3" fill="none" stroke="#ff1a1a" stroke-width="1.1" stroke-linejoin="round" />
<path d="M104.1 257.5V246.4 M106.8 257.5V251.6 M108.8 257.5V251.5 M109.7 257.5V248.8 M111.8 257.5V246.5 M113.1 257.5V250.9 M114.9 257.5V248 M116.1 257.5V247.1 M117.9 257.5V247.2 M119.6 257.5V250.3 M120.3 257.5V248.2 M121.7 257.5V250.9 M122.6 257.5V252.9 M123.3 257.5V253.3 M126.7 257.5V253.8 M128.1 257.5V247.1 M129.4 257.5V253.3 M130.1 257.5V247.7 M131.4 257.5V252.9 M133.3 257.5V250.1 M134 257.5V246.2 M135.1 257.5V248.2 M136.4 257.5V246.2 M137.3 257.5V250.3 M138.1 257.5V252.3 M138.9 257.5V249.9 M140.3 257.5V249.4 M142 257.5V249.8 M143.2 257.5V252.6 M144.4 257.5V247.4 M145.6 257.5V247.8 M148.5 257.5V253.8 M151.7 257.5V248 M154.4 257.5V249.6 M155.3 257.5V246.7 M157 257.5V248.4 M159.7 257.5V252.1 M161.6 257.5V249.7 M163.9 257.5V253.9 M164.6 257.5V251.4 M166.7 257.5V253.8 M167.7 257.5V247.1 M169.8 257.5V251.3 M171.1 257.5V252.3 M173.3 257.5V251.6 M175.2 257.5V251.1 M176.3 257.5V250.9 M178 257.5V252.3 M178.8 257.5V247 M179.6 257.5V248.1 M180.6 257.5V251.3 M181.9 257.5V246.2 M183.1 257.5V248.8 M184.9 257.5V251 M185.9 257.5V249.3 M186.7 257.5V250.8 M187.7 257.5V251.7 M191.3 257.5V252.7 M193.5 257.5V250 M194.7 257.5V250.3 M196 257.5V246.9 M196.8 257.5V248.3 M198.6 257.5V246.9 M202 257.5V246.6 M202.9 257.5V248.4 M203.7 257.5V249.6 M204.5 257.5V249.9 M205.6 257.5V254 M207.1 257.5V246.8 M208.3 257.5V252.8 M209.4 257.5V248.9 M210.2 257.5V252 M211.8 257.5V251.6 M213.5 257.5V247.5 M215.2 257.5V252.2 M216.5 257.5V254 M217.9 257.5V250 M218.9 257.5V251.7 M220.2 257.5V247.9 M221.2 257.5V248.5 M224.6 257.5V253.1 M225.7 257.5V253.6 M229.2 257.5V247.6 M230.2 257.5V246.7 M231 257.5V249.2 M232.1 257.5V253 M233.2 257.5V248.9 M234 257.5V248.8 M234.8 257.5V249.8 M236.5 257.5V248.6 M237.3 257.5V249.8 M238 257.5V251.6 M239.8 257.5V248.5 M240.7 257.5V248.7 M241.9 257.5V247.8 M243.9 257.5V248.9 M246.9 257.5V247.2 M247.9 257.5V248.9 M249.6 257.5V250.3 M250.8 257.5V251.1 M251.5 257.5V247 M252.5 257.5V251.2 M253.3 257.5V247.5 M254.1 257.5V247.6 M255.1 257.5V252.6 M256 257.5V251.7 M257.2 257.5V246.3 M258.1 257.5V250.8 M258.8 257.5V247.2 M260 257.5V251.3 M261.1 257.5V250.7 M261.9 257.5V248.1 M263.2 257.5V246.7 M264.3 257.5V249.7 M266.4 257.5V248.5 M268.3 257.5V253.1 M269 257.5V252.3 M270.2 257.5V246.2 M270.8 257.5V247.1 M273.2 257.5V248.8 M274.1 257.5V246 M275 257.5V248.9 M275.7 257.5V251.6 M277 257.5V252.9 M278 257.5V246.1 M279.2 257.5V246.8 M281.5 257.5V248.5" stroke="#ff1a1a" stroke-width="0.9" stroke-opacity="0.85" fill="none"/>
<path d="M90.6 257.5V251.8 M97.4 257.5V251.2 M100.3 257.5V252.2 M102.2 257.5V251.7 M102.9 257.5V252.1 M103.7 257.5V250 M105 257.5V243.8 M106 257.5V243.1 M106.8 257.5V239.2 M108 257.5V243.3 M109 257.5V250.7 M109.8 257.5V246.2 M110.7 257.5V235.9 M111.4 257.5V240.4 M112.6 257.5V237.6 M113.8 257.5V235.1 M114.6 257.5V238 M116.6 257.5V251.6 M118.4 257.5V235.5 M119.2 257.5V247.7 M120.2 257.5V249.7 M121.2 257.5V235.7 M123.2 257.5V244.6 M124.2 257.5V236.8 M124.9 257.5V248.8 M125.5 257.5V244.1 M127.2 257.5V236 M128.1 257.5V241.7 M129.2 257.5V245.6 M129.8 257.5V250.2 M131.1 257.5V251.7 M131.8 257.5V241.5 M133.7 257.5V246.3 M135.2 257.5V235.6 M136 257.5V238.1 M136.7 257.5V247 M137.3 257.5V234.3 M137.9 257.5V238.4 M139.2 257.5V245.3 M140.3 257.5V242.5 M141 257.5V234 M142.3 257.5V235.6 M143.4 257.5V242.7 M144.2 257.5V248.2 M144.9 257.5V247.3 M146.4 257.5V243.2 M147.4 257.5V233.9 M148.3 257.5V234 M149.3 257.5V240.7 M150.3 257.5V246.4 M151.5 257.5V252 M152.6 257.5V235.8 M153.2 257.5V235.3 M154.3 257.5V244.6 M155.2 257.5V237.9 M156.4 257.5V239.1 M157.4 257.5V249.2 M158.4 257.5V234.2 M159.2 257.5V238.3 M159.8 257.5V238.8 M161 257.5V246.7 M163 257.5V237.9 M163.8 257.5V235.1 M164.6 257.5V245.8 M165.3 257.5V241 M166.1 257.5V237.2 M167.1 257.5V242.2 M168.3 257.5V243 M169.2 257.5V233.4 M170.4 257.5V246 M172 257.5V243.4 M173.1 257.5V239.9 M174.1 257.5V235.7 M175.1 257.5V246.9 M175.8 257.5V238.7 M176.7 257.5V251 M177.9 257.5V236.9 M180.8 257.5V244.9 M182 257.5V248.7 M182.6 257.5V242.4 M184.5 257.5V237.6 M185.4 257.5V239.9 M186.3 257.5V242 M187.5 257.5V251 M188.4 257.5V251.4 M189.4 257.5V240.2 M190.6 257.5V237 M191.4 257.5V249 M192.3 257.5V249.8 M193.3 257.5V243.1 M194.2 257.5V237.4 M195.1 257.5V236.1 M196.4 257.5V238.2 M197.1 257.5V240.1 M199.7 257.5V235.4 M201 257.5V249.2 M201.6 257.5V241.6 M202.5 257.5V240.7 M204.2 257.5V240.9 M204.9 257.5V245.3 M207 257.5V245.8 M209.2 257.5V240.1 M210.4 257.5V244.5 M211.6 257.5V252.6 M212.4 257.5V246.2 M213.5 257.5V251.5 M215.1 257.5V240 M216.2 257.5V248.5 M217 257.5V253.9 M217.6 257.5V251.9 M219.6 257.5V239.4 M220.5 257.5V242.1 M221.4 257.5V239.4 M222 257.5V238 M224.6 257.5V238 M225.3 257.5V240.9 M227.2 257.5V242 M229.2 257.5V240.2 M230.7 257.5V243.7 M231.9 257.5V248.5 M232.8 257.5V251.2 M234.7 257.5V240 M235.5 257.5V250.5 M236.2 257.5V250.6 M238.2 257.5V250.9 M239 257.5V238.3 M239.6 257.5V248.9 M240.6 257.5V247.6 M241.3 257.5V243.6 M242.3 257.5V240.9 M243.2 257.5V242.3 M245.1 257.5V241.8 M245.9 257.5V239.3 M246.5 257.5V248.4 M248.3 257.5V249.1 M249.6 257.5V247 M250.5 257.5V242.6 M251.2 257.5V241.2 M252.9 257.5V252.9 M253.9 257.5V241.6 M255 257.5V246.7 M255.9 257.5V252 M257.8 257.5V240.2 M258.6 257.5V240.9 M259.4 257.5V251.7 M260.9 257.5V253.2 M261.5 257.5V246.3 M262.3 257.5V247.7 M263.4 257.5V246.6 M264.9 257.5V247 M266.8 257.5V250.4 M268.4 257.5V239.1 M269.3 257.5V253.7 M270.3 257.5V248 M272.3 257.5V242.5 M273 257.5V243.7 M274.4 257.5V239.1 M275.4 257.5V239.3 M276.7 257.5V242.2 M277.8 257.5V252 M278.6 257.5V249.1 M280.6 257.5V244.6 M281.7 257.5V251.4 M282.8 257.5V251.9 M287 257.5V250.1" stroke="#ff1a1a" stroke-width="0.9" stroke-opacity="0.7" fill="none"/>
<path d="M91.5 257.5V248 M94 257.5V248.5 M103.7 257.5V242.5 M105 257.5V243 M108.1 257.5V218.7 M124.7 257.5V222.2 M132.4 257.5V218.7 M145.9 257.5V228.2 M172.7 257.5V233.6 M238.4 257.5V233.8 M281.6 257.5V243.7 M117.5 257.5V231 M119 257.5V233 M127 257.5V234 M151 257.5V231.5 M166 257.5V232 M128.5 257.5V235 M210 257.5V236 M226 257.5V235 M248 257.5V236" stroke="#ff1a1a" stroke-width="1" stroke-opacity="0.85" fill="none"/>
<polygon points="37.5,257.6 90,257.4 100,256.4 104,254.2 200,253.8 282,254.2 284,256.2 286,254.2 300,253.6 317,254.2 325,256.6 332.5,257.4 332.5,257.9 37.5,257.9" fill="#ff1a1a"/>
<polyline points="74.8,288.2 75.3,287.7 75.8,287 76.3,285.9 76.8,286.7 77.3,285 77.8,284.5 78.3,284.4 78.8,283.5 79.3,283.4 79.8,283.2 80.3,282.1 80.8,280.7 81.3,279.1 81.8,278.1 82.3,274.9 82.8,274.8 83.3,272.5 83.8,271 84.3,271.5 84.8,270.9 85.3,271.2 85.8,271.2 86.3,268.9 86.8,269.9 87.3,270.8 87.8,269.9 88.3,269.9 88.8,268.8 89.3,267.6 89.8,267.5 90.3,268.2 90.8,268.1 91.3,266.7 91.8,266.7 92.3,266.7 92.8,265.1 93.3,265.7 93.8,266.5 94.3,266.5 94.8,264.8 95.3,265.7 95.8,263.9 96.3,263.3 96.8,261.9 97.3,263.3 97.8,262" fill="none" stroke="#ff1a1a" stroke-width="1.2" stroke-linejoin="round" stroke-opacity="0.9"/>
<polyline points="74.8,291.1 75.3,289.5 75.8,288.9 76.3,287.3 76.8,288.8 77.3,287.1 77.8,286.6 78.3,284.7 78.8,285.9 79.3,285.3 79.8,283.7 80.3,283.5 80.8,282.3 81.3,281.2 81.8,279.1 82.3,278.6 82.8,275.9 83.3,274.2 83.8,273 84.3,271.4 84.8,272.2 85.3,273 85.8,272.2 86.3,271.3 86.8,271.7 87.3,269.9 87.8,270.7 88.3,270.9 88.8,270.7 89.3,269.5 89.8,270.2 90.3,270.4 90.8,268.7 91.3,269.1 91.8,267.4 92.3,266.8 92.8,268.1 93.3,267.4 93.8,267.2 94.3,266.4 94.8,266.2 95.3,266.6 95.8,266.8 96.3,265.2 96.8,263.8 97.3,265 97.8,264.1" fill="none" stroke="#ff1a1a" stroke-width="1.2" stroke-linejoin="round" stroke-opacity="0.9"/>
<polyline points="109.2,259.7 109.7,260.6 110.2,262.9 110.7,263 111.2,264.4 111.7,264.4 112.2,266.2 112.7,267 113.2,267.7 113.7,268.3 114.2,268.2 114.7,269.9 115.2,268.9 115.7,269.6 116.2,270.1 116.7,269.4 117.2,270.4 117.7,270.5 118.2,270.1 118.7,271.3 119.2,270.4 119.7,270.6 120.2,270 120.7,269.7 121.2,270.3 121.7,270.5 122.2,270.5 122.7,271.2 123.2,269.7 123.7,270.3 124.2,270.1 124.7,271.7 125.2,270.8 125.7,270.9 126.2,270.7 126.7,271.7 127.2,271.1 127.7,271.5 128.2,270.4 128.7,272.1 129.2,271.8 129.7,271.8 130.2,272.1 130.7,271.4 131.2,271.4 131.7,271.8 132.2,271.6 132.7,271.2 133.2,271.4 133.7,271 134.2,271.6 134.7,271.7 135.2,271.2 135.7,272.1 136.2,270.4 136.7,271 137.2,271.9 137.7,270.8 138.2,270.2 138.7,271.7 139.2,271.2 139.7,270.3 140.2,271.3 140.7,270.4 141.2,270.2 141.7,270.7 142.2,270.5 142.7,270.2 143.2,270.5 143.7,270.2 144.2,270.7 144.7,270.6 145.2,271 145.7,270.3 146.2,269.9 146.7,269.8 147.2,270.4 147.7,271.3 148.2,271 148.7,270.3 149.2,271.1 149.7,270.1 150.2,271.2 150.7,270.5 151.2,271.1 151.7,271.1 152.2,270.7 152.7,271 153.2,270.3 153.7,270.9 154.2,271.5 154.7,273 155.2,271.3 155.7,271.1 156.2,270.5 156.7,271.6 157.2,270.3 157.7,270.7 158.2,271.4 158.7,270.6 159.2,272 159.7,271.8 160.2,271 160.7,271 161.2,270.7 161.7,270.7 162.2,271.6 162.7,271.8 163.2,271.7 163.7,271.6 164.2,271.3 164.7,271.8 165.2,270.9 165.7,271.6 166.2,272.4 166.7,272.3 167.2,271.5 167.7,271.6 168.2,272.4 168.7,272.7 169.2,271.1 169.7,271.6 170.2,272 170.7,272.5 171.2,271.5 171.7,272.3 172.2,271.8 172.7,273.2 173.2,272.2 173.7,272 174.2,271.9 174.7,272.6 175.2,272.5 175.7,271.6 176.2,272.3 176.7,271.5 177.2,271.8 177.7,271.6 178.2,271.6 178.7,272 179.2,271.8 179.7,272.6 180.2,272.8 180.7,272.3 181.2,271.9 181.7,272.9 182.2,271.5 182.7,271.5 183.2,272.9 183.7,272.9 184.2,273.1 184.7,272.5 185.2,272 185.7,272.4 186.2,272.9 186.7,272.2 187.2,272.2 187.7,271.8 188.2,271.9 188.7,272.8 189.2,272.6 189.7,271.7 190.2,271.7 190.7,271.9 191.2,272.4 191.7,271.5 192.2,272 192.7,270.9 193.2,271.3 193.7,272.1 194.2,272.3 194.7,271.3 195.2,271.4 195.7,272.1 196.2,271.5 196.7,271.4 197.2,271.8 197.7,271.7 198.2,272.1 198.7,271.9 199.2,271.2 199.7,271.4 200.2,271.4 200.7,270.8 201.2,271 201.7,271.9 202.2,270.6 202.7,271.9 203.2,271.5 203.7,271.3 204.2,271.6 204.7,271.6 205.2,271.9 205.7,271.1 206.2,271.1 206.7,271.1 207.2,272.2 207.7,271.7 208.2,270.7 208.7,271 209.2,270.8 209.7,271.1 210.2,271.2 210.7,272.3 211.2,270.2 211.7,271.6 212.2,271.3 212.7,270.7 213.2,270.9 213.7,270.8 214.2,271 214.7,271.5 215.2,270.2 215.7,271.6 216.2,270.7 216.7,271.6 217.2,271.1 217.7,271.5 218.2,271.1 218.7,271.4 219.2,270.8 219.7,270.4 220.2,271.1 220.7,271.1 221.2,271.8 221.7,269.7 222.2,270.6 222.7,271.2 223.2,270 223.7,270.5 224.2,271.7 224.7,271.3 225.2,270.2 225.7,271.3 226.2,271.2 226.7,270.9 227.2,270.7 227.7,270.6 228.2,270.1 228.7,270.3 229.2,271 229.7,270.7 230.2,271.7 230.7,270.6 231.2,269.7 231.7,270.8 232.2,271.1 232.7,271.3 233.2,271.2 233.7,270.8 234.2,272 234.7,271 235.2,271.8 235.7,271.3 236.2,270.9 236.7,272.3 237.2,270.4 237.7,271.3 238.2,272 238.7,271.7 239.2,272.3 239.7,272 240.2,271.9 240.7,273.2 241.2,272.1 241.7,272.2 242.2,272 242.7,272.4 243.2,273.4 243.7,273.6 244.2,273.5 244.7,273.4 245.2,274.4 245.7,273.4 246.2,274.3 246.7,274 247.2,273.4 247.7,273.5 248.2,272.8 248.7,272.4 249.2,273.4 249.7,272.5 250.2,272.4 250.7,271.6 251.2,272.1 251.7,272 252.2,272.2 252.7,272.8 253.2,271.5 253.7,271.8 254.2,271.7 254.7,269.9 255.2,271 255.7,271.7 256.2,272.1 256.7,271.5 257.2,272.3 257.7,272.4 258.2,271.6 258.7,272.5 259.2,272.7 259.7,272.1 260.2,271.4 260.7,272.6 261.2,271.8 261.7,271.7 262.2,272 262.7,271.6 263.2,272.5 263.7,272.3 264.2,272.6 264.7,272.3 265.2,271.6 265.7,271.9 266.2,272.4 266.7,271.8 267.2,273.5 267.7,271.9 268.2,271.8 268.7,272.7 269.2,272.5 269.7,272.1 270.2,272 270.7,272.3 271.2,272.6 271.7,272.5 272.2,272 272.7,272.4 273.2,272.6 273.7,272.6 274.2,270.7 274.7,271.8 275.2,271.9 275.7,272.1 276.2,272.4 276.7,272.7 277.2,272.6 277.7,272.7 278.2,273.2 278.7,274.4 279.2,273.7 279.7,274.6 280.2,275.6 280.7,275.4 281.2,274.6 281.7,276.3 282.2,276.3 282.7,276.9 283.2,277.9 283.7,278 284.2,278 284.7,279 285.2,279.2 285.7,279.5 286.2,280 286.7,280.4 287.2,280.5 287.7,280.9 288.2,281.5 288.7,281.2 289.2,281.1 289.7,282.5 290.2,281.8 290.7,282 291.2,282 291.7,282.2 292.2,282.2 292.7,282.3 293.2,282 293.7,282.9 294.2,282.2 294.7,283.2 295.2,281.8 295.7,282.3 296.2,283.4 296.7,282.9 297.2,282.7 297.7,283.3 298.2,282.7 298.7,283.3 299.2,282.3 299.7,283.2 300.2,283.2 300.7,283.8 301.2,284 301.7,283.2 302.2,284.5 302.7,283.4 303.2,282.7 303.7,282.6 304.2,284.6 304.7,283.9 305.2,283.6 305.7,283.6 306.2,283.5 306.7,284.8 307.2,284.1 307.7,285.1 308.2,284.1 308.7,283.1 309.2,284.8 309.7,284.2 310.2,284.3 310.7,285.3 311.2,284.4 311.7,285.2 312.2,284.6 312.7,284.3 313.2,285 313.7,284.5 314.2,285.4 314.7,285.4 315.2,285 315.7,285.3" fill="none" stroke="#ff1a1a" stroke-width="1.4" stroke-linejoin="round" stroke-opacity="0.9"/>
<polyline points="109.2,261.7 109.7,262.4 110.2,264.2 110.7,264.8 111.2,266.4 111.7,266.8 112.2,268.5 112.7,269.6 113.2,269.4 113.7,270 114.2,270.3 114.7,271.4 115.2,271.1 115.7,272.1 116.2,272.8 116.7,272.3 117.2,271.4 117.7,272.3 118.2,272.8 118.7,272.2 119.2,273 119.7,272.8 120.2,272.7 120.7,272.5 121.2,272.4 121.7,272.6 122.2,272.8 122.7,273.1 123.2,273.1 123.7,272.8 124.2,273 124.7,273.3 125.2,272.3 125.7,272.8 126.2,272.8 126.7,273.2 127.2,273.2 127.7,273.3 128.2,273 128.7,273.9 129.2,273.7 129.7,272.8 130.2,273.6 130.7,273 131.2,274.3 131.7,273.2 132.2,273.2 132.7,273.4 133.2,273.3 133.7,273.3 134.2,274.1 134.7,273.4 135.2,273.7 135.7,273.8 136.2,272.7 136.7,274 137.2,273.5 137.7,273.6 138.2,272.6 138.7,273.4 139.2,273.2 139.7,272.7 140.2,274.1 140.7,273.2 141.2,272.7 141.7,272.9 142.2,273.3 142.7,273.3 143.2,273 143.7,273.3 144.2,273.4 144.7,272 145.2,272.4 145.7,272.1 146.2,272.6 146.7,273.2 147.2,272.8 147.7,272 148.2,272.4 148.7,273.1 149.2,272.4 149.7,272.6 150.2,272.9 150.7,271.8 151.2,273.2 151.7,273 152.2,273.1 152.7,272.4 153.2,272.5 153.7,272.6 154.2,273.1 154.7,273 155.2,273.1 155.7,273.9 156.2,273.7 156.7,272.8 157.2,272.8 157.7,274 158.2,273 158.7,273.9 159.2,274.1 159.7,273 160.2,273.2 160.7,273.4 161.2,273 161.7,272.9 162.2,273.3 162.7,273.9 163.2,273.3 163.7,273.4 164.2,273.3 164.7,272.9 165.2,274.4 165.7,272.5 166.2,273.4 166.7,274 167.2,273 167.7,274.1 168.2,274.4 168.7,273.4 169.2,273.9 169.7,273.3 170.2,274.1 170.7,274 171.2,274.1 171.7,274.7 172.2,274.2 172.7,274.7 173.2,274.4 173.7,273.5 174.2,274.2 174.7,274.4 175.2,273.4 175.7,274.8 176.2,274.2 176.7,274.4 177.2,273.8 177.7,274.3 178.2,274.5 178.7,274.2 179.2,274.4 179.7,273.3 180.2,275.1 180.7,273.9 181.2,273.4 181.7,274 182.2,274.1 182.7,274.8 183.2,274.1 183.7,274.7 184.2,274.1 184.7,275.7 185.2,274.9 185.7,275.7 186.2,274.2 186.7,275 187.2,274.1 187.7,274.8 188.2,274.8 188.7,273.6 189.2,273.8 189.7,273.8 190.2,273.5 190.7,273.9 191.2,273.7 191.7,273.4 192.2,274.2 192.7,274.3 193.2,273.3 193.7,273.7 194.2,273.9 194.7,273.7 195.2,273.5 195.7,274.2 196.2,274.1 196.7,274 197.2,273.5 197.7,274.6 198.2,274.4 198.7,273.4 199.2,273.5 199.7,274.1 200.2,273.1 200.7,273.7 201.2,273.5 201.7,273.1 202.2,273.3 202.7,272.6 203.2,273.1 203.7,272.4 204.2,274.5 204.7,274.1 205.2,273.9 205.7,273.5 206.2,273.8 206.7,273.9 207.2,273.8 207.7,273.7 208.2,272.8 208.7,273.4 209.2,272.9 209.7,272.6 210.2,272.6 210.7,273.3 211.2,273.6 211.7,272.4 212.2,273.9 212.7,273.8 213.2,272.8 213.7,272.8 214.2,273 214.7,273.5 215.2,272.8 215.7,272.4 216.2,273.1 216.7,271.9 217.2,273 217.7,273.5 218.2,273 218.7,273.2 219.2,273.1 219.7,273.2 220.2,272.9 220.7,272.4 221.2,272.6 221.7,272.7 222.2,273.3 222.7,273.5 223.2,272.9 223.7,272.3 224.2,272.3 224.7,272.5 225.2,273.3 225.7,272.8 226.2,272.6 226.7,272.2 227.2,273 227.7,272.7 228.2,272.5 228.7,272.6 229.2,273.5 229.7,272.6 230.2,273.6 230.7,273.4 231.2,272.9 231.7,273.4 232.2,273 232.7,272.7 233.2,273 233.7,272.8 234.2,273.5 234.7,273.4 235.2,273.7 235.7,273.9 236.2,272 236.7,273.8 237.2,272.8 237.7,273.8 238.2,273.4 238.7,273.9 239.2,274.6 239.7,273.2 240.2,274.2 240.7,274.1 241.2,273.3 241.7,274.6 242.2,274.6 242.7,274.5 243.2,274.7 243.7,276.9 244.2,275.4 244.7,274.9 245.2,275.6 245.7,276.1 246.2,276.2 246.7,276.1 247.2,275.3 247.7,275.7 248.2,274.9 248.7,274.1 249.2,274.1 249.7,274 250.2,274.3 250.7,273.8 251.2,273.4 251.7,273.6 252.2,273.7 252.7,274.7 253.2,273.4 253.7,273.9 254.2,274.1 254.7,273.2 255.2,273.8 255.7,273.8 256.2,273.5 256.7,274 257.2,274.3 257.7,274.4 258.2,273.7 258.7,273.9 259.2,275 259.7,273.3 260.2,274 260.7,274.3 261.2,274 261.7,274.2 262.2,274 262.7,274.3 263.2,274.6 263.7,273.8 264.2,274.1 264.7,273.9 265.2,273.8 265.7,274 266.2,273.4 266.7,274.4 267.2,274.9 267.7,274.9 268.2,274.7 268.7,273.6 269.2,274.8 269.7,273.7 270.2,274.1 270.7,275.1 271.2,273.6 271.7,274.6 272.2,274.3 272.7,274.1 273.2,273.8 273.7,274.4 274.2,274 274.7,274.8 275.2,274.9 275.7,273.6 276.2,274 276.7,274.1 277.2,273.7 277.7,274.2 278.2,275.2 278.7,275.5 279.2,275.2 279.7,276.1 280.2,277.1 280.7,276.6 281.2,277.2 281.7,278.9 282.2,279.2 282.7,278.1 283.2,278.7 283.7,279.9 284.2,279.6 284.7,280.5 285.2,280.8 285.7,281.7 286.2,280.6 286.7,281.2 287.2,282.1 287.7,283.6 288.2,283.4 288.7,282.8 289.2,284 289.7,284.2 290.2,283.8 290.7,283.8 291.2,284.3 291.7,284.8 292.2,284.3 292.7,284.6 293.2,284.4 293.7,284.3 294.2,284.1 294.7,284.8 295.2,284.6 295.7,284.7 296.2,285.3 296.7,285.2 297.2,285.5 297.7,284.3 298.2,285.5 298.7,285 299.2,285 299.7,285 300.2,286.1 300.7,285.9 301.2,285.2 301.7,285.1 302.2,285.7 302.7,285.5 303.2,286.6 303.7,285.1 304.2,284.9 304.7,285.8 305.2,286 305.7,286.1 306.2,286.4 306.7,287.1 307.2,286 307.7,285.9 308.2,285.4 308.7,286.4 309.2,286.8 309.7,286.3 310.2,287 310.7,286.5 311.2,287.3 311.7,286.8 312.2,286.1 312.7,286.4 313.2,286 313.7,285.9 314.2,287 314.7,287.3 315.2,287.9 315.7,286.9" fill="none" stroke="#ff1a1a" stroke-width="1.4" stroke-linejoin="round" stroke-opacity="0.9"/>
<path d="M73.7 288.6l2.6 2.6m-2.6 0l2.6 -2.6M73.6 284.7l2.6 2.6m-2.6 0l2.6 -2.6M74.3 285.8l2.6 2.6m-2.6 0l2.6 -2.6M74.5 283.8l2.6 2.6m-2.6 0l2.6 -2.6M74.9 284.3l2.6 2.6m-2.6 0l2.6 -2.6M75.4 283.5l2.6 2.6m-2.6 0l2.6 -2.6M76.4 284.3l2.6 2.6m-2.6 0l2.6 -2.6M76.7 285.4l2.6 2.6m-2.6 0l2.6 -2.6M76.8 283.7l2.6 2.6m-2.6 0l2.6 -2.6M77.3 280.6l2.6 2.6m-2.6 0l2.6 -2.6M78.3 285.4l2.6 2.6m-2.6 0l2.6 -2.6M78.5 282.6l2.6 2.6m-2.6 0l2.6 -2.6M79.2 283l2.6 2.6m-2.6 0l2.6 -2.6M79.6 279l2.6 2.6m-2.6 0l2.6 -2.6M79.6 280.1l2.6 2.6m-2.6 0l2.6 -2.6M80 276.5l2.6 2.6m-2.6 0l2.6 -2.6M81.1 276.7l2.6 2.6m-2.6 0l2.6 -2.6M80.9 276.8l2.6 2.6m-2.6 0l2.6 -2.6M81.4 271.4l2.6 2.6m-2.6 0l2.6 -2.6M81.8 270.3l2.6 2.6m-2.6 0l2.6 -2.6M82.4 272.6l2.6 2.6m-2.6 0l2.6 -2.6M82.8 271.4l2.6 2.6m-2.6 0l2.6 -2.6M83.5 273.6l2.6 2.6m-2.6 0l2.6 -2.6M84.1 268.3l2.6 2.6m-2.6 0l2.6 -2.6M84.3 268.9l2.6 2.6m-2.6 0l2.6 -2.6M84.7 268.6l2.6 2.6m-2.6 0l2.6 -2.6M85.1 268.5l2.6 2.6m-2.6 0l2.6 -2.6M86 267.3l2.6 2.6m-2.6 0l2.6 -2.6M85.9 267.3l2.6 2.6m-2.6 0l2.6 -2.6M86.2 268.3l2.6 2.6m-2.6 0l2.6 -2.6M86.9 266.9l2.6 2.6m-2.6 0l2.6 -2.6M87.5 268.8l2.6 2.6m-2.6 0l2.6 -2.6M88 267.2l2.6 2.6m-2.6 0l2.6 -2.6M88.2 269.2l2.6 2.6m-2.6 0l2.6 -2.6M88.9 265.9l2.6 2.6m-2.6 0l2.6 -2.6M89.5 266.6l2.6 2.6m-2.6 0l2.6 -2.6M89.7 263.9l2.6 2.6m-2.6 0l2.6 -2.6M89.9 265.6l2.6 2.6m-2.6 0l2.6 -2.6M90.4 268.5l2.6 2.6m-2.6 0l2.6 -2.6M91.3 267.7l2.6 2.6m-2.6 0l2.6 -2.6M91.2 268.5l2.6 2.6m-2.6 0l2.6 -2.6M91.6 263.3l2.6 2.6m-2.6 0l2.6 -2.6M92.7 264l2.6 2.6m-2.6 0l2.6 -2.6M92.6 265.7l2.6 2.6m-2.6 0l2.6 -2.6M93.5 262.1l2.6 2.6m-2.6 0l2.6 -2.6M93.4 265l2.6 2.6m-2.6 0l2.6 -2.6M94 264.4l2.6 2.6m-2.6 0l2.6 -2.6M94.3 262.4l2.6 2.6m-2.6 0l2.6 -2.6M95.1 266.1l2.6 2.6m-2.6 0l2.6 -2.6M95.3 263.4l2.6 2.6m-2.6 0l2.6 -2.6M96.1 261.5l2.6 2.6m-2.6 0l2.6 -2.6M96.8 263.2l2.6 2.6m-2.6 0l2.6 -2.6" stroke="#ff1a1a" stroke-width="0.7" stroke-opacity="0.8" fill="none"/>
<path d="M107.7 257.7l2.6 2.6m-2.6 0l2.6 -2.6M108 259.3l2.6 2.6m-2.6 0l2.6 -2.6M108.4 262.3l2.6 2.6m-2.6 0l2.6 -2.6M108.8 260.5l2.6 2.6m-2.6 0l2.6 -2.6M109 262.3l2.6 2.6m-2.6 0l2.6 -2.6M109.6 259.9l2.6 2.6m-2.6 0l2.6 -2.6M110 261.2l2.6 2.6m-2.6 0l2.6 -2.6M109.8 262.7l2.6 2.6m-2.6 0l2.6 -2.6M110.6 265l2.6 2.6m-2.6 0l2.6 -2.6M110.6 264.8l2.6 2.6m-2.6 0l2.6 -2.6M110.6 265.7l2.6 2.6m-2.6 0l2.6 -2.6M111.5 265.7l2.6 2.6m-2.6 0l2.6 -2.6M111.3 269.6l2.6 2.6m-2.6 0l2.6 -2.6M111.4 269.7l2.6 2.6m-2.6 0l2.6 -2.6M111.7 268.8l2.6 2.6m-2.6 0l2.6 -2.6M112.3 267.5l2.6 2.6m-2.6 0l2.6 -2.6M113.1 267.8l2.6 2.6m-2.6 0l2.6 -2.6M112.6 267.6l2.6 2.6m-2.6 0l2.6 -2.6M113.5 266.5l2.6 2.6m-2.6 0l2.6 -2.6M113.2 266.8l2.6 2.6m-2.6 0l2.6 -2.6M114.3 267.4l2.6 2.6m-2.6 0l2.6 -2.6M113.9 269.1l2.6 2.6m-2.6 0l2.6 -2.6M114.4 270.5l2.6 2.6m-2.6 0l2.6 -2.6M115.2 270l2.6 2.6m-2.6 0l2.6 -2.6M115.1 270.9l2.6 2.6m-2.6 0l2.6 -2.6M115.4 272.5l2.6 2.6m-2.6 0l2.6 -2.6M116 269.6l2.6 2.6m-2.6 0l2.6 -2.6M116.2 272.4l2.6 2.6m-2.6 0l2.6 -2.6M116.2 269.2l2.6 2.6m-2.6 0l2.6 -2.6M116.4 267.2l2.6 2.6m-2.6 0l2.6 -2.6M116.9 271.5l2.6 2.6m-2.6 0l2.6 -2.6M117.3 272l2.6 2.6m-2.6 0l2.6 -2.6M117.7 270.4l2.6 2.6m-2.6 0l2.6 -2.6M117.9 270.1l2.6 2.6m-2.6 0l2.6 -2.6M118 270.1l2.6 2.6m-2.6 0l2.6 -2.6M118.1 271.6l2.6 2.6m-2.6 0l2.6 -2.6M119.1 272.8l2.6 2.6m-2.6 0l2.6 -2.6M119 272l2.6 2.6m-2.6 0l2.6 -2.6M119.2 270l2.6 2.6m-2.6 0l2.6 -2.6M119.4 270.1l2.6 2.6m-2.6 0l2.6 -2.6M120.2 272l2.6 2.6m-2.6 0l2.6 -2.6M120.5 270.4l2.6 2.6m-2.6 0l2.6 -2.6M120.8 269.3l2.6 2.6m-2.6 0l2.6 -2.6M120.9 273l2.6 2.6m-2.6 0l2.6 -2.6M121.3 273l2.6 2.6m-2.6 0l2.6 -2.6M121.4 271.6l2.6 2.6m-2.6 0l2.6 -2.6M121.4 268.1l2.6 2.6m-2.6 0l2.6 -2.6M121.7 272.4l2.6 2.6m-2.6 0l2.6 -2.6M122 271.7l2.6 2.6m-2.6 0l2.6 -2.6M123 272.1l2.6 2.6m-2.6 0l2.6 -2.6M122.5 271.3l2.6 2.6m-2.6 0l2.6 -2.6M123.2 272l2.6 2.6m-2.6 0l2.6 -2.6M123.2 272.8l2.6 2.6m-2.6 0l2.6 -2.6M124.1 269.6l2.6 2.6m-2.6 0l2.6 -2.6M124.4 272.7l2.6 2.6m-2.6 0l2.6 -2.6M124.5 271l2.6 2.6m-2.6 0l2.6 -2.6M124.8 273.3l2.6 2.6m-2.6 0l2.6 -2.6M124.7 268.7l2.6 2.6m-2.6 0l2.6 -2.6M125 268.3l2.6 2.6m-2.6 0l2.6 -2.6M125.5 268.4l2.6 2.6m-2.6 0l2.6 -2.6M126.2 271.7l2.6 2.6m-2.6 0l2.6 -2.6M125.9 270.6l2.6 2.6m-2.6 0l2.6 -2.6M126.8 273.4l2.6 2.6m-2.6 0l2.6 -2.6M126.4 273.8l2.6 2.6m-2.6 0l2.6 -2.6M127.2 271.7l2.6 2.6m-2.6 0l2.6 -2.6M127.2 271.4l2.6 2.6m-2.6 0l2.6 -2.6M127.7 273.6l2.6 2.6m-2.6 0l2.6 -2.6M127.9 268.7l2.6 2.6m-2.6 0l2.6 -2.6M128.1 272.5l2.6 2.6m-2.6 0l2.6 -2.6M128.4 272.8l2.6 2.6m-2.6 0l2.6 -2.6M128.7 270.9l2.6 2.6m-2.6 0l2.6 -2.6M129.5 269.2l2.6 2.6m-2.6 0l2.6 -2.6M129.7 270.3l2.6 2.6m-2.6 0l2.6 -2.6M129.6 273.3l2.6 2.6m-2.6 0l2.6 -2.6M130.1 268.4l2.6 2.6m-2.6 0l2.6 -2.6M130.7 269.7l2.6 2.6m-2.6 0l2.6 -2.6M130.9 269.3l2.6 2.6m-2.6 0l2.6 -2.6M130.8 268.5l2.6 2.6m-2.6 0l2.6 -2.6M131.6 269.4l2.6 2.6m-2.6 0l2.6 -2.6M131.7 271.6l2.6 2.6m-2.6 0l2.6 -2.6M131.7 268.8l2.6 2.6m-2.6 0l2.6 -2.6M132.3 273.2l2.6 2.6m-2.6 0l2.6 -2.6M132.5 272.4l2.6 2.6m-2.6 0l2.6 -2.6M133.1 269.4l2.6 2.6m-2.6 0l2.6 -2.6M132.8 269.7l2.6 2.6m-2.6 0l2.6 -2.6M133.1 271.8l2.6 2.6m-2.6 0l2.6 -2.6M133.9 272.4l2.6 2.6m-2.6 0l2.6 -2.6M134 270.3l2.6 2.6m-2.6 0l2.6 -2.6M134 270.8l2.6 2.6m-2.6 0l2.6 -2.6M134.5 268.6l2.6 2.6m-2.6 0l2.6 -2.6M134.6 268.2l2.6 2.6m-2.6 0l2.6 -2.6M135.3 270.1l2.6 2.6m-2.6 0l2.6 -2.6M135.2 270.9l2.6 2.6m-2.6 0l2.6 -2.6M136 272.2l2.6 2.6m-2.6 0l2.6 -2.6M136.3 271.7l2.6 2.6m-2.6 0l2.6 -2.6M136.7 269.4l2.6 2.6m-2.6 0l2.6 -2.6M136.4 271.2l2.6 2.6m-2.6 0l2.6 -2.6M137.1 271.8l2.6 2.6m-2.6 0l2.6 -2.6M137.3 271.1l2.6 2.6m-2.6 0l2.6 -2.6M137.8 272.2l2.6 2.6m-2.6 0l2.6 -2.6M137.6 271.2l2.6 2.6m-2.6 0l2.6 -2.6M138.6 269.2l2.6 2.6m-2.6 0l2.6 -2.6M138.6 270.1l2.6 2.6m-2.6 0l2.6 -2.6M138.9 268.6l2.6 2.6m-2.6 0l2.6 -2.6M139.3 271.2l2.6 2.6m-2.6 0l2.6 -2.6M139.4 273.2l2.6 2.6m-2.6 0l2.6 -2.6M139.4 269.5l2.6 2.6m-2.6 0l2.6 -2.6M140 269.6l2.6 2.6m-2.6 0l2.6 -2.6M140.3 273.1l2.6 2.6m-2.6 0l2.6 -2.6M140.8 271.5l2.6 2.6m-2.6 0l2.6 -2.6M140.7 267.8l2.6 2.6m-2.6 0l2.6 -2.6M140.8 270.7l2.6 2.6m-2.6 0l2.6 -2.6M141.7 268.5l2.6 2.6m-2.6 0l2.6 -2.6M141.5 271.4l2.6 2.6m-2.6 0l2.6 -2.6M142.4 268.3l2.6 2.6m-2.6 0l2.6 -2.6M142.3 270.3l2.6 2.6m-2.6 0l2.6 -2.6M142.8 271.6l2.6 2.6m-2.6 0l2.6 -2.6M142.7 273.1l2.6 2.6m-2.6 0l2.6 -2.6M143.3 271.8l2.6 2.6m-2.6 0l2.6 -2.6M143.6 268.9l2.6 2.6m-2.6 0l2.6 -2.6M143.6 267.7l2.6 2.6m-2.6 0l2.6 -2.6M144.4 268.1l2.6 2.6m-2.6 0l2.6 -2.6M144.3 271.4l2.6 2.6m-2.6 0l2.6 -2.6M145 269.2l2.6 2.6m-2.6 0l2.6 -2.6M145 269.6l2.6 2.6m-2.6 0l2.6 -2.6M145.4 272.7l2.6 2.6m-2.6 0l2.6 -2.6M145.8 270.4l2.6 2.6m-2.6 0l2.6 -2.6M145.9 267.7l2.6 2.6m-2.6 0l2.6 -2.6M146.4 271.8l2.6 2.6m-2.6 0l2.6 -2.6M146.4 272.4l2.6 2.6m-2.6 0l2.6 -2.6M146.7 270.1l2.6 2.6m-2.6 0l2.6 -2.6M146.9 268.6l2.6 2.6m-2.6 0l2.6 -2.6M147.2 268.7l2.6 2.6m-2.6 0l2.6 -2.6M147.7 270l2.6 2.6m-2.6 0l2.6 -2.6M148.3 271.8l2.6 2.6m-2.6 0l2.6 -2.6M148.5 270.6l2.6 2.6m-2.6 0l2.6 -2.6M148.5 270.2l2.6 2.6m-2.6 0l2.6 -2.6M149.1 270.4l2.6 2.6m-2.6 0l2.6 -2.6M149.6 272.9l2.6 2.6m-2.6 0l2.6 -2.6M149.7 268.1l2.6 2.6m-2.6 0l2.6 -2.6M150 268.2l2.6 2.6m-2.6 0l2.6 -2.6M150.4 272.4l2.6 2.6m-2.6 0l2.6 -2.6M150.4 268.4l2.6 2.6m-2.6 0l2.6 -2.6M150.9 268.8l2.6 2.6m-2.6 0l2.6 -2.6M151.3 271.7l2.6 2.6m-2.6 0l2.6 -2.6M151.5 269.8l2.6 2.6m-2.6 0l2.6 -2.6M152 269l2.6 2.6m-2.6 0l2.6 -2.6M151.6 273l2.6 2.6m-2.6 0l2.6 -2.6M152.5 271l2.6 2.6m-2.6 0l2.6 -2.6M152.2 269.1l2.6 2.6m-2.6 0l2.6 -2.6M153.1 267.9l2.6 2.6m-2.6 0l2.6 -2.6M153.1 268l2.6 2.6m-2.6 0l2.6 -2.6M153.1 272.3l2.6 2.6m-2.6 0l2.6 -2.6M153.7 271.8l2.6 2.6m-2.6 0l2.6 -2.6M154.1 270.1l2.6 2.6m-2.6 0l2.6 -2.6M154.7 269.9l2.6 2.6m-2.6 0l2.6 -2.6M154.6 271.7l2.6 2.6m-2.6 0l2.6 -2.6M155 268.7l2.6 2.6m-2.6 0l2.6 -2.6M155.6 273.5l2.6 2.6m-2.6 0l2.6 -2.6M155.5 268.4l2.6 2.6m-2.6 0l2.6 -2.6M155.8 270.7l2.6 2.6m-2.6 0l2.6 -2.6M155.9 268.7l2.6 2.6m-2.6 0l2.6 -2.6M156.7 271.1l2.6 2.6m-2.6 0l2.6 -2.6M156.9 272.1l2.6 2.6m-2.6 0l2.6 -2.6M156.7 271.9l2.6 2.6m-2.6 0l2.6 -2.6M157.3 269.4l2.6 2.6m-2.6 0l2.6 -2.6M157.6 269.6l2.6 2.6m-2.6 0l2.6 -2.6M157.9 270.4l2.6 2.6m-2.6 0l2.6 -2.6M158.6 268.3l2.6 2.6m-2.6 0l2.6 -2.6M158.7 273.5l2.6 2.6m-2.6 0l2.6 -2.6M158.9 269.8l2.6 2.6m-2.6 0l2.6 -2.6M159.3 273.3l2.6 2.6m-2.6 0l2.6 -2.6M159.7 272.1l2.6 2.6m-2.6 0l2.6 -2.6M159.9 273.7l2.6 2.6m-2.6 0l2.6 -2.6M160.1 268.9l2.6 2.6m-2.6 0l2.6 -2.6M160.1 273.4l2.6 2.6m-2.6 0l2.6 -2.6M160.3 268.7l2.6 2.6m-2.6 0l2.6 -2.6M160.7 268.8l2.6 2.6m-2.6 0l2.6 -2.6M161.4 272.7l2.6 2.6m-2.6 0l2.6 -2.6M161.6 272.5l2.6 2.6m-2.6 0l2.6 -2.6M162.1 270.4l2.6 2.6m-2.6 0l2.6 -2.6M162.1 269.4l2.6 2.6m-2.6 0l2.6 -2.6M162.6 270.8l2.6 2.6m-2.6 0l2.6 -2.6M162.9 272.7l2.6 2.6m-2.6 0l2.6 -2.6M162.9 271.9l2.6 2.6m-2.6 0l2.6 -2.6M163.7 271.8l2.6 2.6m-2.6 0l2.6 -2.6M163.9 271l2.6 2.6m-2.6 0l2.6 -2.6M164 271.4l2.6 2.6m-2.6 0l2.6 -2.6M164 271.9l2.6 2.6m-2.6 0l2.6 -2.6M164.3 269.8l2.6 2.6m-2.6 0l2.6 -2.6M165 271.6l2.6 2.6m-2.6 0l2.6 -2.6M165 272.5l2.6 2.6m-2.6 0l2.6 -2.6M165.2 270.5l2.6 2.6m-2.6 0l2.6 -2.6M165.7 272.3l2.6 2.6m-2.6 0l2.6 -2.6M165.9 270.2l2.6 2.6m-2.6 0l2.6 -2.6M166.4 273.9l2.6 2.6m-2.6 0l2.6 -2.6M166.6 274.2l2.6 2.6m-2.6 0l2.6 -2.6M167.2 269.9l2.6 2.6m-2.6 0l2.6 -2.6M167 273.8l2.6 2.6m-2.6 0l2.6 -2.6M167.7 273.5l2.6 2.6m-2.6 0l2.6 -2.6M168.3 273.8l2.6 2.6m-2.6 0l2.6 -2.6M168.6 271.1l2.6 2.6m-2.6 0l2.6 -2.6M168.5 269.8l2.6 2.6m-2.6 0l2.6 -2.6M168.6 271.3l2.6 2.6m-2.6 0l2.6 -2.6M169.3 271.5l2.6 2.6m-2.6 0l2.6 -2.6M169.4 269.5l2.6 2.6m-2.6 0l2.6 -2.6M169.5 271.8l2.6 2.6m-2.6 0l2.6 -2.6M169.8 272.4l2.6 2.6m-2.6 0l2.6 -2.6M170.4 272l2.6 2.6m-2.6 0l2.6 -2.6M170.9 273l2.6 2.6m-2.6 0l2.6 -2.6M170.9 274l2.6 2.6m-2.6 0l2.6 -2.6M171 270.4l2.6 2.6m-2.6 0l2.6 -2.6M171.7 273.3l2.6 2.6m-2.6 0l2.6 -2.6M172.1 273.4l2.6 2.6m-2.6 0l2.6 -2.6M172.4 272.1l2.6 2.6m-2.6 0l2.6 -2.6M172.5 272.6l2.6 2.6m-2.6 0l2.6 -2.6M172.8 273.6l2.6 2.6m-2.6 0l2.6 -2.6M173.3 273.3l2.6 2.6m-2.6 0l2.6 -2.6M173.5 271.2l2.6 2.6m-2.6 0l2.6 -2.6M173.6 270.7l2.6 2.6m-2.6 0l2.6 -2.6M174.3 273.9l2.6 2.6m-2.6 0l2.6 -2.6M174.4 274.3l2.6 2.6m-2.6 0l2.6 -2.6M174.8 273.8l2.6 2.6m-2.6 0l2.6 -2.6M174.6 272.5l2.6 2.6m-2.6 0l2.6 -2.6M175.3 269.3l2.6 2.6m-2.6 0l2.6 -2.6M175.6 273.4l2.6 2.6m-2.6 0l2.6 -2.6M175.8 272.4l2.6 2.6m-2.6 0l2.6 -2.6M176 273.2l2.6 2.6m-2.6 0l2.6 -2.6M176.1 272.8l2.6 2.6m-2.6 0l2.6 -2.6M176.7 272.2l2.6 2.6m-2.6 0l2.6 -2.6M176.7 272.4l2.6 2.6m-2.6 0l2.6 -2.6M177.3 270l2.6 2.6m-2.6 0l2.6 -2.6M177.7 269.9l2.6 2.6m-2.6 0l2.6 -2.6M178 270.3l2.6 2.6m-2.6 0l2.6 -2.6M178.4 271.3l2.6 2.6m-2.6 0l2.6 -2.6M178.1 270.6l2.6 2.6m-2.6 0l2.6 -2.6M178.9 273.1l2.6 2.6m-2.6 0l2.6 -2.6M179 271.3l2.6 2.6m-2.6 0l2.6 -2.6M179.1 273l2.6 2.6m-2.6 0l2.6 -2.6M179.7 271.5l2.6 2.6m-2.6 0l2.6 -2.6M179.6 271.1l2.6 2.6m-2.6 0l2.6 -2.6M179.9 274.4l2.6 2.6m-2.6 0l2.6 -2.6M180.8 274.9l2.6 2.6m-2.6 0l2.6 -2.6M181.1 271.9l2.6 2.6m-2.6 0l2.6 -2.6M181.2 269.8l2.6 2.6m-2.6 0l2.6 -2.6M181.2 271.4l2.6 2.6m-2.6 0l2.6 -2.6M181.3 274.4l2.6 2.6m-2.6 0l2.6 -2.6M181.7 274.3l2.6 2.6m-2.6 0l2.6 -2.6M182.1 273.3l2.6 2.6m-2.6 0l2.6 -2.6M182.9 272.4l2.6 2.6m-2.6 0l2.6 -2.6M182.6 273.9l2.6 2.6m-2.6 0l2.6 -2.6M183.2 271.3l2.6 2.6m-2.6 0l2.6 -2.6M183.1 273.5l2.6 2.6m-2.6 0l2.6 -2.6M184.1 274.4l2.6 2.6m-2.6 0l2.6 -2.6M183.9 274.9l2.6 2.6m-2.6 0l2.6 -2.6M184.7 270.8l2.6 2.6m-2.6 0l2.6 -2.6M184.5 272.5l2.6 2.6m-2.6 0l2.6 -2.6M184.8 269.7l2.6 2.6m-2.6 0l2.6 -2.6M185.5 273.3l2.6 2.6m-2.6 0l2.6 -2.6M185.9 271.5l2.6 2.6m-2.6 0l2.6 -2.6M185.9 272.3l2.6 2.6m-2.6 0l2.6 -2.6M186.1 271.7l2.6 2.6m-2.6 0l2.6 -2.6M186.8 271.4l2.6 2.6m-2.6 0l2.6 -2.6M186.6 271.9l2.6 2.6m-2.6 0l2.6 -2.6M187.4 271.8l2.6 2.6m-2.6 0l2.6 -2.6M187.1 272.9l2.6 2.6m-2.6 0l2.6 -2.6M187.7 271.7l2.6 2.6m-2.6 0l2.6 -2.6M188.4 269.4l2.6 2.6m-2.6 0l2.6 -2.6M188 274.3l2.6 2.6m-2.6 0l2.6 -2.6M188.5 272.3l2.6 2.6m-2.6 0l2.6 -2.6M188.7 270.4l2.6 2.6m-2.6 0l2.6 -2.6M189.4 269.5l2.6 2.6m-2.6 0l2.6 -2.6M189.7 271.2l2.6 2.6m-2.6 0l2.6 -2.6M189.9 273.6l2.6 2.6m-2.6 0l2.6 -2.6M189.8 271l2.6 2.6m-2.6 0l2.6 -2.6M190.5 272.7l2.6 2.6m-2.6 0l2.6 -2.6M190.4 273.4l2.6 2.6m-2.6 0l2.6 -2.6M191.3 269.3l2.6 2.6m-2.6 0l2.6 -2.6M191 272.3l2.6 2.6m-2.6 0l2.6 -2.6M191.2 272.9l2.6 2.6m-2.6 0l2.6 -2.6M191.9 272.4l2.6 2.6m-2.6 0l2.6 -2.6M191.9 272.9l2.6 2.6m-2.6 0l2.6 -2.6M192.9 273.9l2.6 2.6m-2.6 0l2.6 -2.6M193 274.3l2.6 2.6m-2.6 0l2.6 -2.6M193.5 270.5l2.6 2.6m-2.6 0l2.6 -2.6M193.6 272.2l2.6 2.6m-2.6 0l2.6 -2.6M193.5 272.4l2.6 2.6m-2.6 0l2.6 -2.6M194.1 273.4l2.6 2.6m-2.6 0l2.6 -2.6M194.2 269.9l2.6 2.6m-2.6 0l2.6 -2.6M194.5 269.5l2.6 2.6m-2.6 0l2.6 -2.6M194.8 274.1l2.6 2.6m-2.6 0l2.6 -2.6M195.4 270.8l2.6 2.6m-2.6 0l2.6 -2.6M195.2 269.1l2.6 2.6m-2.6 0l2.6 -2.6M195.5 272.7l2.6 2.6m-2.6 0l2.6 -2.6M196.4 271.9l2.6 2.6m-2.6 0l2.6 -2.6M196.1 271.6l2.6 2.6m-2.6 0l2.6 -2.6M196.7 269.7l2.6 2.6m-2.6 0l2.6 -2.6M197.1 273.8l2.6 2.6m-2.6 0l2.6 -2.6M197.4 272.3l2.6 2.6m-2.6 0l2.6 -2.6M197.7 270.3l2.6 2.6m-2.6 0l2.6 -2.6M197.8 268.5l2.6 2.6m-2.6 0l2.6 -2.6M198 272.9l2.6 2.6m-2.6 0l2.6 -2.6M198.7 272l2.6 2.6m-2.6 0l2.6 -2.6M199.1 269.3l2.6 2.6m-2.6 0l2.6 -2.6M199.5 269.8l2.6 2.6m-2.6 0l2.6 -2.6M199.5 270.3l2.6 2.6m-2.6 0l2.6 -2.6M200 273.6l2.6 2.6m-2.6 0l2.6 -2.6M199.8 271.1l2.6 2.6m-2.6 0l2.6 -2.6M200.4 271.8l2.6 2.6m-2.6 0l2.6 -2.6M200.5 268.7l2.6 2.6m-2.6 0l2.6 -2.6M200.9 273.4l2.6 2.6m-2.6 0l2.6 -2.6M201.3 269.4l2.6 2.6m-2.6 0l2.6 -2.6M201.8 270.9l2.6 2.6m-2.6 0l2.6 -2.6M201.4 271l2.6 2.6m-2.6 0l2.6 -2.6M201.8 269.2l2.6 2.6m-2.6 0l2.6 -2.6M202.3 273.6l2.6 2.6m-2.6 0l2.6 -2.6M203.1 270.2l2.6 2.6m-2.6 0l2.6 -2.6M203.1 269.4l2.6 2.6m-2.6 0l2.6 -2.6M203.6 273.5l2.6 2.6m-2.6 0l2.6 -2.6M203.6 269.2l2.6 2.6m-2.6 0l2.6 -2.6M204.1 269.7l2.6 2.6m-2.6 0l2.6 -2.6M203.9 269.6l2.6 2.6m-2.6 0l2.6 -2.6M204.2 269.7l2.6 2.6m-2.6 0l2.6 -2.6M204.6 272.2l2.6 2.6m-2.6 0l2.6 -2.6M204.9 270.4l2.6 2.6m-2.6 0l2.6 -2.6M205.2 270.3l2.6 2.6m-2.6 0l2.6 -2.6M205.9 270.2l2.6 2.6m-2.6 0l2.6 -2.6M206.1 269.2l2.6 2.6m-2.6 0l2.6 -2.6M206 270.1l2.6 2.6m-2.6 0l2.6 -2.6M206.9 268.8l2.6 2.6m-2.6 0l2.6 -2.6M206.7 268.4l2.6 2.6m-2.6 0l2.6 -2.6M206.9 272.9l2.6 2.6m-2.6 0l2.6 -2.6M207.3 269.3l2.6 2.6m-2.6 0l2.6 -2.6M207.5 272.7l2.6 2.6m-2.6 0l2.6 -2.6M207.8 273.3l2.6 2.6m-2.6 0l2.6 -2.6M208.6 271.2l2.6 2.6m-2.6 0l2.6 -2.6M208.7 271.2l2.6 2.6m-2.6 0l2.6 -2.6M208.8 270.5l2.6 2.6m-2.6 0l2.6 -2.6M209.2 273.5l2.6 2.6m-2.6 0l2.6 -2.6M209.7 271.6l2.6 2.6m-2.6 0l2.6 -2.6M209.7 273.3l2.6 2.6m-2.6 0l2.6 -2.6M210.5 268.9l2.6 2.6m-2.6 0l2.6 -2.6M210.6 270.8l2.6 2.6m-2.6 0l2.6 -2.6M211 271.5l2.6 2.6m-2.6 0l2.6 -2.6M211.3 272.6l2.6 2.6m-2.6 0l2.6 -2.6M211.7 268l2.6 2.6m-2.6 0l2.6 -2.6M212 268.2l2.6 2.6m-2.6 0l2.6 -2.6M212.2 268l2.6 2.6m-2.6 0l2.6 -2.6M211.9 271.5l2.6 2.6m-2.6 0l2.6 -2.6M212.7 272.1l2.6 2.6m-2.6 0l2.6 -2.6M213.2 268.6l2.6 2.6m-2.6 0l2.6 -2.6M213.2 271.2l2.6 2.6m-2.6 0l2.6 -2.6M213.3 273.1l2.6 2.6m-2.6 0l2.6 -2.6M214.1 268.9l2.6 2.6m-2.6 0l2.6 -2.6M214.4 268.8l2.6 2.6m-2.6 0l2.6 -2.6M214.7 269.1l2.6 2.6m-2.6 0l2.6 -2.6M214.8 270.1l2.6 2.6m-2.6 0l2.6 -2.6M214.9 271.2l2.6 2.6m-2.6 0l2.6 -2.6M215.4 270.7l2.6 2.6m-2.6 0l2.6 -2.6M215.9 268.6l2.6 2.6m-2.6 0l2.6 -2.6M215.7 272.4l2.6 2.6m-2.6 0l2.6 -2.6M216.1 269.1l2.6 2.6m-2.6 0l2.6 -2.6M216.5 272.1l2.6 2.6m-2.6 0l2.6 -2.6M217 269.5l2.6 2.6m-2.6 0l2.6 -2.6M217.3 268.9l2.6 2.6m-2.6 0l2.6 -2.6M217.1 271.9l2.6 2.6m-2.6 0l2.6 -2.6M217.8 270.9l2.6 2.6m-2.6 0l2.6 -2.6M217.8 273.1l2.6 2.6m-2.6 0l2.6 -2.6M218.6 270.3l2.6 2.6m-2.6 0l2.6 -2.6M218.9 268.5l2.6 2.6m-2.6 0l2.6 -2.6M218.8 269.8l2.6 2.6m-2.6 0l2.6 -2.6M219.1 273.2l2.6 2.6m-2.6 0l2.6 -2.6M219.3 269.1l2.6 2.6m-2.6 0l2.6 -2.6M219.9 271.5l2.6 2.6m-2.6 0l2.6 -2.6M220.1 269l2.6 2.6m-2.6 0l2.6 -2.6M220.7 269.3l2.6 2.6m-2.6 0l2.6 -2.6M220.8 269.6l2.6 2.6m-2.6 0l2.6 -2.6M220.8 272.7l2.6 2.6m-2.6 0l2.6 -2.6M221.3 272.9l2.6 2.6m-2.6 0l2.6 -2.6M221.4 271.2l2.6 2.6m-2.6 0l2.6 -2.6M222.1 271.5l2.6 2.6m-2.6 0l2.6 -2.6M222.5 270.9l2.6 2.6m-2.6 0l2.6 -2.6M222.1 270.2l2.6 2.6m-2.6 0l2.6 -2.6M222.9 272.6l2.6 2.6m-2.6 0l2.6 -2.6M223.2 271l2.6 2.6m-2.6 0l2.6 -2.6M223.2 267.8l2.6 2.6m-2.6 0l2.6 -2.6M223.8 268.1l2.6 2.6m-2.6 0l2.6 -2.6M224.1 272.3l2.6 2.6m-2.6 0l2.6 -2.6M224.2 272l2.6 2.6m-2.6 0l2.6 -2.6M224.5 267.7l2.6 2.6m-2.6 0l2.6 -2.6M224.7 268.5l2.6 2.6m-2.6 0l2.6 -2.6M224.9 268.8l2.6 2.6m-2.6 0l2.6 -2.6M225.6 271.3l2.6 2.6m-2.6 0l2.6 -2.6M226.2 272l2.6 2.6m-2.6 0l2.6 -2.6M226.5 268.8l2.6 2.6m-2.6 0l2.6 -2.6M226.5 271.7l2.6 2.6m-2.6 0l2.6 -2.6M226.7 272.8l2.6 2.6m-2.6 0l2.6 -2.6M226.7 267.6l2.6 2.6m-2.6 0l2.6 -2.6M227.5 269.2l2.6 2.6m-2.6 0l2.6 -2.6M227.7 270.6l2.6 2.6m-2.6 0l2.6 -2.6M227.7 267.7l2.6 2.6m-2.6 0l2.6 -2.6M228.3 270.6l2.6 2.6m-2.6 0l2.6 -2.6M228.3 270l2.6 2.6m-2.6 0l2.6 -2.6M229 269.4l2.6 2.6m-2.6 0l2.6 -2.6M228.9 271.7l2.6 2.6m-2.6 0l2.6 -2.6M229 273l2.6 2.6m-2.6 0l2.6 -2.6M229.7 269.1l2.6 2.6m-2.6 0l2.6 -2.6M230.1 272.3l2.6 2.6m-2.6 0l2.6 -2.6M230.7 271.6l2.6 2.6m-2.6 0l2.6 -2.6M230.3 269.9l2.6 2.6m-2.6 0l2.6 -2.6M231 270.2l2.6 2.6m-2.6 0l2.6 -2.6M230.8 268.7l2.6 2.6m-2.6 0l2.6 -2.6M231.9 272l2.6 2.6m-2.6 0l2.6 -2.6M231.7 273.2l2.6 2.6m-2.6 0l2.6 -2.6M232.4 270.6l2.6 2.6m-2.6 0l2.6 -2.6M232.3 273.6l2.6 2.6m-2.6 0l2.6 -2.6M232.9 273.4l2.6 2.6m-2.6 0l2.6 -2.6M233 269.1l2.6 2.6m-2.6 0l2.6 -2.6M233.2 268.3l2.6 2.6m-2.6 0l2.6 -2.6M233.8 271.2l2.6 2.6m-2.6 0l2.6 -2.6M234 270.2l2.6 2.6m-2.6 0l2.6 -2.6M234.2 272.1l2.6 2.6m-2.6 0l2.6 -2.6M234.5 271.8l2.6 2.6m-2.6 0l2.6 -2.6M234.8 271.8l2.6 2.6m-2.6 0l2.6 -2.6M234.8 273.5l2.6 2.6m-2.6 0l2.6 -2.6M235.6 273.3l2.6 2.6m-2.6 0l2.6 -2.6M235.9 268.7l2.6 2.6m-2.6 0l2.6 -2.6M236 270.6l2.6 2.6m-2.6 0l2.6 -2.6M236.5 271.5l2.6 2.6m-2.6 0l2.6 -2.6M236.7 271.4l2.6 2.6m-2.6 0l2.6 -2.6M236.6 270l2.6 2.6m-2.6 0l2.6 -2.6M237.6 272.5l2.6 2.6m-2.6 0l2.6 -2.6M237.8 269.3l2.6 2.6m-2.6 0l2.6 -2.6M237.9 271l2.6 2.6m-2.6 0l2.6 -2.6M238.3 270.4l2.6 2.6m-2.6 0l2.6 -2.6M238.6 271.4l2.6 2.6m-2.6 0l2.6 -2.6M238.6 270.5l2.6 2.6m-2.6 0l2.6 -2.6M238.7 272.5l2.6 2.6m-2.6 0l2.6 -2.6M239.4 274.5l2.6 2.6m-2.6 0l2.6 -2.6M239.3 274.5l2.6 2.6m-2.6 0l2.6 -2.6M239.7 273.1l2.6 2.6m-2.6 0l2.6 -2.6M240.2 269.7l2.6 2.6m-2.6 0l2.6 -2.6M240.5 271.9l2.6 2.6m-2.6 0l2.6 -2.6M240.6 272l2.6 2.6m-2.6 0l2.6 -2.6M240.9 273.4l2.6 2.6m-2.6 0l2.6 -2.6M241.6 271.3l2.6 2.6m-2.6 0l2.6 -2.6M241.9 273.6l2.6 2.6m-2.6 0l2.6 -2.6M242.3 275.1l2.6 2.6m-2.6 0l2.6 -2.6M242.7 271.4l2.6 2.6m-2.6 0l2.6 -2.6M242.6 273.2l2.6 2.6m-2.6 0l2.6 -2.6M242.8 272l2.6 2.6m-2.6 0l2.6 -2.6M242.8 273.7l2.6 2.6m-2.6 0l2.6 -2.6M243.4 274.8l2.6 2.6m-2.6 0l2.6 -2.6M244 274.8l2.6 2.6m-2.6 0l2.6 -2.6M243.8 274.5l2.6 2.6m-2.6 0l2.6 -2.6M244.3 274.3l2.6 2.6m-2.6 0l2.6 -2.6M244.9 275.3l2.6 2.6m-2.6 0l2.6 -2.6M245.2 274.1l2.6 2.6m-2.6 0l2.6 -2.6M245.6 271.9l2.6 2.6m-2.6 0l2.6 -2.6M245.9 276.3l2.6 2.6m-2.6 0l2.6 -2.6M245.8 275.2l2.6 2.6m-2.6 0l2.6 -2.6M246.2 275.7l2.6 2.6m-2.6 0l2.6 -2.6M246.5 271.5l2.6 2.6m-2.6 0l2.6 -2.6M246.9 274.8l2.6 2.6m-2.6 0l2.6 -2.6M246.7 274.5l2.6 2.6m-2.6 0l2.6 -2.6M247.7 275.1l2.6 2.6m-2.6 0l2.6 -2.6M248 272.3l2.6 2.6m-2.6 0l2.6 -2.6M247.9 270.4l2.6 2.6m-2.6 0l2.6 -2.6M248.4 270.1l2.6 2.6m-2.6 0l2.6 -2.6M248.9 274l2.6 2.6m-2.6 0l2.6 -2.6M249.1 269.2l2.6 2.6m-2.6 0l2.6 -2.6M249 271.7l2.6 2.6m-2.6 0l2.6 -2.6M249.5 273.5l2.6 2.6m-2.6 0l2.6 -2.6M249.7 268.8l2.6 2.6m-2.6 0l2.6 -2.6M250.4 272.3l2.6 2.6m-2.6 0l2.6 -2.6M250.5 269.7l2.6 2.6m-2.6 0l2.6 -2.6M251 269.1l2.6 2.6m-2.6 0l2.6 -2.6M251.4 268.6l2.6 2.6m-2.6 0l2.6 -2.6M251.5 271.7l2.6 2.6m-2.6 0l2.6 -2.6M251.6 272.3l2.6 2.6m-2.6 0l2.6 -2.6M251.7 271l2.6 2.6m-2.6 0l2.6 -2.6M251.9 270.2l2.6 2.6m-2.6 0l2.6 -2.6M252.6 270.1l2.6 2.6m-2.6 0l2.6 -2.6M252.9 271.7l2.6 2.6m-2.6 0l2.6 -2.6M253.5 271.6l2.6 2.6m-2.6 0l2.6 -2.6M253.2 273.3l2.6 2.6m-2.6 0l2.6 -2.6M254.1 271.7l2.6 2.6m-2.6 0l2.6 -2.6M254.2 270.1l2.6 2.6m-2.6 0l2.6 -2.6M254.4 272.2l2.6 2.6m-2.6 0l2.6 -2.6M254.8 271.7l2.6 2.6m-2.6 0l2.6 -2.6M255.2 270.8l2.6 2.6m-2.6 0l2.6 -2.6M255.1 271.8l2.6 2.6m-2.6 0l2.6 -2.6M255.6 272.2l2.6 2.6m-2.6 0l2.6 -2.6M255.9 273.8l2.6 2.6m-2.6 0l2.6 -2.6M256 271.6l2.6 2.6m-2.6 0l2.6 -2.6M256.2 271.1l2.6 2.6m-2.6 0l2.6 -2.6M257 272.2l2.6 2.6m-2.6 0l2.6 -2.6M256.8 272l2.6 2.6m-2.6 0l2.6 -2.6M257.6 269l2.6 2.6m-2.6 0l2.6 -2.6M257.8 270.4l2.6 2.6m-2.6 0l2.6 -2.6M258.3 274l2.6 2.6m-2.6 0l2.6 -2.6M258.5 271.8l2.6 2.6m-2.6 0l2.6 -2.6M258.9 271l2.6 2.6m-2.6 0l2.6 -2.6M258.5 272.5l2.6 2.6m-2.6 0l2.6 -2.6M258.8 273.3l2.6 2.6m-2.6 0l2.6 -2.6M259 274.3l2.6 2.6m-2.6 0l2.6 -2.6M259.4 273l2.6 2.6m-2.6 0l2.6 -2.6M259.9 271.8l2.6 2.6m-2.6 0l2.6 -2.6M260.1 273.7l2.6 2.6m-2.6 0l2.6 -2.6M261 272.8l2.6 2.6m-2.6 0l2.6 -2.6M261.1 269.2l2.6 2.6m-2.6 0l2.6 -2.6M261.4 269.3l2.6 2.6m-2.6 0l2.6 -2.6M261.2 273.6l2.6 2.6m-2.6 0l2.6 -2.6M261.8 273.7l2.6 2.6m-2.6 0l2.6 -2.6M262.5 270.6l2.6 2.6m-2.6 0l2.6 -2.6M262.2 271l2.6 2.6m-2.6 0l2.6 -2.6M263 270.7l2.6 2.6m-2.6 0l2.6 -2.6M263 274.3l2.6 2.6m-2.6 0l2.6 -2.6M263.4 271.6l2.6 2.6m-2.6 0l2.6 -2.6M263.2 273.5l2.6 2.6m-2.6 0l2.6 -2.6M264.3 273.3l2.6 2.6m-2.6 0l2.6 -2.6M264.2 271.2l2.6 2.6m-2.6 0l2.6 -2.6M264.4 274.2l2.6 2.6m-2.6 0l2.6 -2.6M265.1 271l2.6 2.6m-2.6 0l2.6 -2.6M265.2 271.6l2.6 2.6m-2.6 0l2.6 -2.6M265.5 270.5l2.6 2.6m-2.6 0l2.6 -2.6M265.9 271l2.6 2.6m-2.6 0l2.6 -2.6M266.3 271.7l2.6 2.6m-2.6 0l2.6 -2.6M266.6 272l2.6 2.6m-2.6 0l2.6 -2.6M266.7 271.4l2.6 2.6m-2.6 0l2.6 -2.6M267 270.5l2.6 2.6m-2.6 0l2.6 -2.6M267 272.7l2.6 2.6m-2.6 0l2.6 -2.6M267.8 272l2.6 2.6m-2.6 0l2.6 -2.6M267.8 270.1l2.6 2.6m-2.6 0l2.6 -2.6M268 273.7l2.6 2.6m-2.6 0l2.6 -2.6M268.4 269.2l2.6 2.6m-2.6 0l2.6 -2.6M269 271.6l2.6 2.6m-2.6 0l2.6 -2.6M269.2 272.7l2.6 2.6m-2.6 0l2.6 -2.6M269.6 271.1l2.6 2.6m-2.6 0l2.6 -2.6M269.3 273.6l2.6 2.6m-2.6 0l2.6 -2.6M270.2 272.7l2.6 2.6m-2.6 0l2.6 -2.6M270.6 272.7l2.6 2.6m-2.6 0l2.6 -2.6M270.6 270.5l2.6 2.6m-2.6 0l2.6 -2.6M270.6 272l2.6 2.6m-2.6 0l2.6 -2.6M271 273.4l2.6 2.6m-2.6 0l2.6 -2.6M271.6 272.7l2.6 2.6m-2.6 0l2.6 -2.6M271.4 273.1l2.6 2.6m-2.6 0l2.6 -2.6M272.3 269.5l2.6 2.6m-2.6 0l2.6 -2.6M272 272.7l2.6 2.6m-2.6 0l2.6 -2.6M272.6 269.9l2.6 2.6m-2.6 0l2.6 -2.6M273.2 270.1l2.6 2.6m-2.6 0l2.6 -2.6M273.6 270.4l2.6 2.6m-2.6 0l2.6 -2.6M273.5 273.1l2.6 2.6m-2.6 0l2.6 -2.6M274 272.9l2.6 2.6m-2.6 0l2.6 -2.6M274.1 270.8l2.6 2.6m-2.6 0l2.6 -2.6M274 269.6l2.6 2.6m-2.6 0l2.6 -2.6M275 274.4l2.6 2.6m-2.6 0l2.6 -2.6M274.7 273.4l2.6 2.6m-2.6 0l2.6 -2.6M275.5 272.7l2.6 2.6m-2.6 0l2.6 -2.6M275.5 271.6l2.6 2.6m-2.6 0l2.6 -2.6M275.5 273.2l2.6 2.6m-2.6 0l2.6 -2.6M276 272.1l2.6 2.6m-2.6 0l2.6 -2.6M276.5 272.2l2.6 2.6m-2.6 0l2.6 -2.6M277.1 272.3l2.6 2.6m-2.6 0l2.6 -2.6M277.3 275.1l2.6 2.6m-2.6 0l2.6 -2.6M277.4 274.9l2.6 2.6m-2.6 0l2.6 -2.6M278 272.3l2.6 2.6m-2.6 0l2.6 -2.6M278.1 271.7l2.6 2.6m-2.6 0l2.6 -2.6M278 274.8l2.6 2.6m-2.6 0l2.6 -2.6M278.7 272.6l2.6 2.6m-2.6 0l2.6 -2.6M278.8 276.5l2.6 2.6m-2.6 0l2.6 -2.6M279.4 274.9l2.6 2.6m-2.6 0l2.6 -2.6M279.5 275.5l2.6 2.6m-2.6 0l2.6 -2.6M280 276l2.6 2.6m-2.6 0l2.6 -2.6M280.1 277.2l2.6 2.6m-2.6 0l2.6 -2.6M280.2 276.7l2.6 2.6m-2.6 0l2.6 -2.6M280.9 274.2l2.6 2.6m-2.6 0l2.6 -2.6M280.9 274.8l2.6 2.6m-2.6 0l2.6 -2.6M281 278.7l2.6 2.6m-2.6 0l2.6 -2.6M281.4 277.8l2.6 2.6m-2.6 0l2.6 -2.6M282.2 277.7l2.6 2.6m-2.6 0l2.6 -2.6M282.4 279.1l2.6 2.6m-2.6 0l2.6 -2.6M282.5 277.6l2.6 2.6m-2.6 0l2.6 -2.6M282.5 276l2.6 2.6m-2.6 0l2.6 -2.6M282.7 279.4l2.6 2.6m-2.6 0l2.6 -2.6M283.1 280.7l2.6 2.6m-2.6 0l2.6 -2.6M283.7 279.8l2.6 2.6m-2.6 0l2.6 -2.6M284.2 279.4l2.6 2.6m-2.6 0l2.6 -2.6M284.6 277.9l2.6 2.6m-2.6 0l2.6 -2.6M284.7 280.7l2.6 2.6m-2.6 0l2.6 -2.6M284.8 280l2.6 2.6m-2.6 0l2.6 -2.6M285.1 282.4l2.6 2.6m-2.6 0l2.6 -2.6M285.5 278.6l2.6 2.6m-2.6 0l2.6 -2.6M286.1 282.6l2.6 2.6m-2.6 0l2.6 -2.6M286 281l2.6 2.6m-2.6 0l2.6 -2.6M286.4 282.2l2.6 2.6m-2.6 0l2.6 -2.6M287 282.8l2.6 2.6m-2.6 0l2.6 -2.6M287.4 282.4l2.6 2.6m-2.6 0l2.6 -2.6M287.7 282.2l2.6 2.6m-2.6 0l2.6 -2.6M287.4 282.2l2.6 2.6m-2.6 0l2.6 -2.6M288.1 282.1l2.6 2.6m-2.6 0l2.6 -2.6M287.9 281.1l2.6 2.6m-2.6 0l2.6 -2.6M288.7 280.7l2.6 2.6m-2.6 0l2.6 -2.6M288.4 280l2.6 2.6m-2.6 0l2.6 -2.6M289.5 283.7l2.6 2.6m-2.6 0l2.6 -2.6M289.6 283.7l2.6 2.6m-2.6 0l2.6 -2.6M289.7 283l2.6 2.6m-2.6 0l2.6 -2.6M290.2 282.6l2.6 2.6m-2.6 0l2.6 -2.6M290.1 280.9l2.6 2.6m-2.6 0l2.6 -2.6M290.7 283l2.6 2.6m-2.6 0l2.6 -2.6M290.8 284.6l2.6 2.6m-2.6 0l2.6 -2.6M290.9 281.5l2.6 2.6m-2.6 0l2.6 -2.6M291.2 279.4l2.6 2.6m-2.6 0l2.6 -2.6M292.2 282.6l2.6 2.6m-2.6 0l2.6 -2.6M291.8 280l2.6 2.6m-2.6 0l2.6 -2.6M292.2 283.2l2.6 2.6m-2.6 0l2.6 -2.6M293 279.7l2.6 2.6m-2.6 0l2.6 -2.6M292.9 280.3l2.6 2.6m-2.6 0l2.6 -2.6M293.5 283.7l2.6 2.6m-2.6 0l2.6 -2.6M293.7 284.9l2.6 2.6m-2.6 0l2.6 -2.6M293.6 280.5l2.6 2.6m-2.6 0l2.6 -2.6M294.2 283.3l2.6 2.6m-2.6 0l2.6 -2.6M294.2 281.1l2.6 2.6m-2.6 0l2.6 -2.6M294.6 281.7l2.6 2.6m-2.6 0l2.6 -2.6M295 281.8l2.6 2.6m-2.6 0l2.6 -2.6M295.4 284.1l2.6 2.6m-2.6 0l2.6 -2.6M295.7 284.6l2.6 2.6m-2.6 0l2.6 -2.6M296.3 281.6l2.6 2.6m-2.6 0l2.6 -2.6M296.6 283.6l2.6 2.6m-2.6 0l2.6 -2.6M297 281.4l2.6 2.6m-2.6 0l2.6 -2.6M296.8 283.6l2.6 2.6m-2.6 0l2.6 -2.6M296.9 281.6l2.6 2.6m-2.6 0l2.6 -2.6M297.3 280.4l2.6 2.6m-2.6 0l2.6 -2.6M297.8 282l2.6 2.6m-2.6 0l2.6 -2.6M297.7 282.5l2.6 2.6m-2.6 0l2.6 -2.6M298 281.2l2.6 2.6m-2.6 0l2.6 -2.6M298.5 280.6l2.6 2.6m-2.6 0l2.6 -2.6M298.7 283.9l2.6 2.6m-2.6 0l2.6 -2.6M299.7 285.3l2.6 2.6m-2.6 0l2.6 -2.6M299.2 283.9l2.6 2.6m-2.6 0l2.6 -2.6M299.9 281.5l2.6 2.6m-2.6 0l2.6 -2.6M300.6 285.7l2.6 2.6m-2.6 0l2.6 -2.6M300.8 284.6l2.6 2.6m-2.6 0l2.6 -2.6M300.8 281.1l2.6 2.6m-2.6 0l2.6 -2.6M300.9 283.3l2.6 2.6m-2.6 0l2.6 -2.6M301.5 283.8l2.6 2.6m-2.6 0l2.6 -2.6M301.4 286l2.6 2.6m-2.6 0l2.6 -2.6M301.7 282.4l2.6 2.6m-2.6 0l2.6 -2.6M302.2 282l2.6 2.6m-2.6 0l2.6 -2.6M303 282.8l2.6 2.6m-2.6 0l2.6 -2.6M302.9 282.6l2.6 2.6m-2.6 0l2.6 -2.6M303 281.8l2.6 2.6m-2.6 0l2.6 -2.6M303.6 282.1l2.6 2.6m-2.6 0l2.6 -2.6M303.6 282.6l2.6 2.6m-2.6 0l2.6 -2.6M303.7 283.8l2.6 2.6m-2.6 0l2.6 -2.6M304 285.7l2.6 2.6m-2.6 0l2.6 -2.6M305.1 283.2l2.6 2.6m-2.6 0l2.6 -2.6M304.6 281.9l2.6 2.6m-2.6 0l2.6 -2.6M305.4 283.7l2.6 2.6m-2.6 0l2.6 -2.6M305.4 283.2l2.6 2.6m-2.6 0l2.6 -2.6M306 284.9l2.6 2.6m-2.6 0l2.6 -2.6M306.3 283l2.6 2.6m-2.6 0l2.6 -2.6M306.5 285.8l2.6 2.6m-2.6 0l2.6 -2.6M306.9 283.3l2.6 2.6m-2.6 0l2.6 -2.6M306.8 284l2.6 2.6m-2.6 0l2.6 -2.6M307.1 286.2l2.6 2.6m-2.6 0l2.6 -2.6M307.6 285.4l2.6 2.6m-2.6 0l2.6 -2.6M308 285.6l2.6 2.6m-2.6 0l2.6 -2.6M308.3 285.8l2.6 2.6m-2.6 0l2.6 -2.6M308.8 282.7l2.6 2.6m-2.6 0l2.6 -2.6M308.9 285.9l2.6 2.6m-2.6 0l2.6 -2.6M309.4 286.5l2.6 2.6m-2.6 0l2.6 -2.6M309.3 286.6l2.6 2.6m-2.6 0l2.6 -2.6M310 286.7l2.6 2.6m-2.6 0l2.6 -2.6M310 286.7l2.6 2.6m-2.6 0l2.6 -2.6M310.7 284.6l2.6 2.6m-2.6 0l2.6 -2.6M310.5 285.3l2.6 2.6m-2.6 0l2.6 -2.6M311.4 283.2l2.6 2.6m-2.6 0l2.6 -2.6M310.9 285.3l2.6 2.6m-2.6 0l2.6 -2.6M311.6 283.1l2.6 2.6m-2.6 0l2.6 -2.6M311.9 282.7l2.6 2.6m-2.6 0l2.6 -2.6M311.9 285.4l2.6 2.6m-2.6 0l2.6 -2.6M312.8 283.1l2.6 2.6m-2.6 0l2.6 -2.6M312.5 282l2.6 2.6m-2.6 0l2.6 -2.6M313.2 286.3l2.6 2.6m-2.6 0l2.6 -2.6M313.7 284.4l2.6 2.6m-2.6 0l2.6 -2.6M313.3 283l2.6 2.6m-2.6 0l2.6 -2.6M314.1 286.4l2.6 2.6m-2.6 0l2.6 -2.6M314.4 283.8l2.6 2.6m-2.6 0l2.6 -2.6M314.5 282.4l2.6 2.6m-2.6 0l2.6 -2.6" stroke="#ff1a1a" stroke-width="0.7" stroke-opacity="0.75" fill="none"/>
<polyline points="37.5,289.2 38,289.3 38.5,288.5 39,289.1 39.5,288.9 40,288.9 40.5,289 41,288.6 41.5,288.7 42,289.1 42.5,289.2 43,288.8 43.5,288.5 44,289.6 44.5,289.3 45,289 45.5,288.6 46,288.8 46.5,289 47,288.7 47.5,289.4 48,289 48.5,289.1 49,288.6 49.5,288.7 50,288.7 50.5,289 51,288.9 51.5,288.9 52,289 52.5,289 53,289.4 53.5,288.9 54,288.6 54.5,288.9 55,289.4 55.5,288.8 56,289 56.5,288.8 57,289.1 57.5,289 58,288.7 58.5,288.9 59,289.2 59.5,289.3 60,289.2 60.5,289.2 61,288.8 61.5,288.8 62,289.2 62.5,288.6 63,288.9 63.5,288.4 64,288.8 64.5,288.7 65,288.6 65.5,289.1 66,288.7 66.5,288.8 67,288.9 67.5,288.7 68,289.4 68.5,288.8 69,289 69.5,288.6 70,288.8 70.5,288.8 71,288.8 71.5,288.8 72,289 72.5,289.4 73,288.9 73.5,288.9 74,288.7 74.5,289.3 75,288.7 75.5,288.2 76,287.9 76.5,287.3 77,287.2 77.5,287 78,286.7 78.5,286.2 79,285.9 79.5,286.1 80,285.7 80.5,284.7 81,285 81.5,285.1 82,284.2 82.5,284.1 83,283.3 83.5,283.6 84,282.7 84.5,282.4 85,282.3 85.5,282.8 86,281.6 86.5,281.1 87,281.3 87.5,281 88,281.3 88.5,280.2 89,279.9 89.5,280.1 90,280.2 90.5,280 91,280 91.5,279.1 92,279.1 92.5,279.1 93,279.2 93.5,278.9 94,278.5 94.5,278.1 95,278.5 95.5,278.3 96,278.6 96.5,277.7 97,278.2 97.5,277.3 98,277.4 98.5,277.3 99,277.3 99.5,277.1 100,277.1 100.5,277.2 101,277 101.5,277.3 102,277 102.5,277 103,277.3 103.5,276.9 104,276.8 104.5,276.7 105,276.7 105.5,277 106,276.8 106.5,277.6 107,277.8 107.5,277.9 108,277.6 108.5,277.4 109,277.9 109.5,278.3 110,278.6 110.5,278.5 111,278.6 111.5,279.3 112,278.9 112.5,279.5 113,279.7 113.5,279.2 114,279.8 114.5,279.7 115,279.7 115.5,279.5 116,279.7 116.5,280.4 117,280.3 117.5,280.6 118,280.4 118.5,280.7 119,280.8 119.5,280.6 120,280.7 120.5,281.3 121,281.2 121.5,280.9 122,281.1 122.5,281.3 123,281.7 123.5,280.9 124,281.3 124.5,281.8 125,281.2 125.5,281.6 126,280.4 126.5,281.6 127,281.1 127.5,280.6 128,281.4 128.5,281.4 129,281.5 129.5,281.5 130,281.1 130.5,280.9 131,281 131.5,281.1 132,281.3 132.5,281 133,281.2 133.5,281.4 134,281.2 134.5,281.8 135,281.8 135.5,280.8 136,281 136.5,280.8 137,280.8 137.5,281.3 138,280.8 138.5,280.8 139,281.1 139.5,281.4 140,281 140.5,281 141,281.4 141.5,281.3 142,281.3 142.5,281.4 143,280.8 143.5,281.2 144,281 144.5,281.4 145,281.4 145.5,280.8 146,281.5 146.5,280.8 147,281.5 147.5,281.2 148,280.9 148.5,280.8 149,281.1 149.5,281.1 150,280.9 150.5,281.3 151,280.7 151.5,281.1 152,281.1 152.5,280.6 153,281.2 153.5,280.8 154,280.4 154.5,281 155,281.1 155.5,281.4 156,281 156.5,281.6 157,281.6 157.5,281.5 158,281.5 158.5,281.2 159,281 159.5,281.3 160,281.4 160.5,281.2 161,281.1 161.5,280.7 162,281.3 162.5,281.2 163,280.8 163.5,281.2 164,281.4 164.5,281.1 165,281.4 165.5,281.4 166,280.7 166.5,281.1 167,281.3 167.5,281.4 168,281.6 168.5,280.6 169,281.1 169.5,281.4 170,281.5 170.5,281.6 171,280.9 171.5,281 172,280.8 172.5,281.4 173,280.7 173.5,281.5 174,281.4 174.5,281.3 175,280.5 175.5,280.9 176,281.4 176.5,280.7 177,281.1 177.5,281.1 178,281.4 178.5,281.2 179,281.2 179.5,281 180,281.1 180.5,281.1 181,281.4 181.5,281.1 182,281.4 182.5,280.6 183,281.5 183.5,281.1 184,281.5 184.5,281.2 185,281.4 185.5,281.6 186,281 186.5,281.2 187,281.2 187.5,281.3 188,280.8 188.5,281.3 189,281.3 189.5,281.2 190,281.4 190.5,281.1 191,282 191.5,281.8 192,282.2 192.5,281.5 193,281.4 193.5,281.9 194,281.4 194.5,282 195,281.7 195.5,281.9 196,282.1 196.5,282.1 197,282.7 197.5,282.3 198,281.7 198.5,282.4 199,281.7 199.5,282.1 200,281.7 200.5,281.8 201,282.4 201.5,281.8 202,281.8 202.5,281.8 203,281.8 203.5,282.3 204,281.5 204.5,281.5 205,282 205.5,281.4 206,281.7 206.5,282.1 207,281.8 207.5,281.6 208,281.5 208.5,281.4 209,281.5 209.5,281.7 210,282 210.5,281.9 211,281.5 211.5,281.4 212,281.8 212.5,281 213,281.4 213.5,281.4 214,281.2 214.5,281.2 215,281.6 215.5,281 216,281.2 216.5,281.2 217,281.4 217.5,281 218,281.7 218.5,281.2 219,281.2 219.5,281.2 220,281.1 220.5,281 221,281.6 221.5,281.3 222,281.2 222.5,281.5 223,281 223.5,281.3 224,281.1 224.5,280.9 225,281.4 225.5,280.8 226,281.5 226.5,281.1 227,281.5 227.5,281.8 228,281.6 228.5,281.3 229,281.5 229.5,281.5 230,281.3 230.5,281.3 231,281.7 231.5,281.9 232,281.3 232.5,281.8 233,282 233.5,281.9 234,281.6 234.5,282.3 235,281.7 235.5,282.3 236,282.6 236.5,281.5 237,282.3 237.5,282.3 238,282.3 238.5,282.1 239,282.3 239.5,282 240,282.5 240.5,282.6 241,282.3 241.5,282.3 242,282.4 242.5,282.6 243,282.7 243.5,282.7 244,282.8 244.5,282.4 245,282 245.5,283.1 246,283.3 246.5,282.5 247,282.7 247.5,283 248,283.2 248.5,283.1 249,283.3 249.5,282.9 250,283.1 250.5,283.1 251,282.9 251.5,283.3 252,283.2 252.5,283.3 253,282.9 253.5,283.3 254,282.7 254.5,283.1 255,282.3 255.5,282.7 256,283.3 256.5,282.9 257,283.1 257.5,282.6 258,283.5 258.5,283.2 259,283.1 259.5,283.2 260,283.2 260.5,283.5 261,283.2 261.5,282.7 262,283 262.5,283.5 263,283.3 263.5,283 264,283.3 264.5,283.2 265,283.3 265.5,282.7 266,282.9 266.5,283.4 267,283.1 267.5,283.3 268,283.8 268.5,283.1 269,283.3 269.5,283 270,283 270.5,283.2 271,282.8 271.5,282.6 272,283.6 272.5,283.2 273,283.6 273.5,283.3 274,283.3 274.5,283.5 275,283.5 275.5,282.9 276,283.6 276.5,283 277,283.4 277.5,284 278,283.3 278.5,283.8 279,283.2 279.5,283.5 280,283.5 280.5,283.7 281,283.5 281.5,283.6 282,284.1 282.5,283.7 283,284 283.5,284.6 284,284.3 284.5,284.4 285,284.4 285.5,284.9 286,284.9 286.5,285.2 287,285.2 287.5,286 288,285.4 288.5,285.1 289,285.7 289.5,285.7 290,285.8 290.5,285.3 291,286.1 291.5,285.8 292,285.8 292.5,285.4 293,286 293.5,285.9 294,286.3 294.5,285.8 295,285.6 295.5,286.1 296,285.8 296.5,286.2 297,285.8 297.5,286.1 298,286.1 298.5,286.2 299,286.1 299.5,286 300,286.3 300.5,286.1 301,286.4 301.5,286.3 302,285.7 302.5,286.4 303,286.9 303.5,286.6 304,286.7 304.5,286.7 305,286.4 305.5,286.2 306,286.9 306.5,287 307,286.8 307.5,286.8 308,286.8 308.5,286.7 309,286.9 309.5,286.8 310,286.9 310.5,286.6 311,286.7 311.5,287.1 312,286.9 312.5,286.3 313,287 313.5,286.4 314,287.6 314.5,287.3 315,287.3 315.5,287.2 316,287.3 316.5,287.8 317,288.2 317.5,288.2 318,288.7 318.5,289.1 319,289.3 319.5,289 320,288.7 320.5,289.4 321,289.2 321.5,289.6 322,289.9 322.5,290 323,289.6 323.5,289.9 324,290 324.5,289.6 325,289.7 325.5,289.9 326,289.7 326.5,289.6 327,289.5 327.5,289.8 328,289.6 328.5,290 329,289.7 329.5,290.3 330,290.2 330.5,289.6 331,290.3 331.5,289.9 332,290.4 332.5,290.2" fill="none" stroke="#1f1fff" stroke-width="1.0" stroke-linejoin="round" stroke-opacity="0.9"/>
<polyline points="37.5,289.6 38,289.8 38.5,289.5 39,289.7 39.5,289.7 40,289.6 40.5,289.7 41,289.3 41.5,289.8 42,289.3 42.5,289.8 43,289.8 43.5,289.8 44,289.5 44.5,290.5 45,289.6 45.5,289.7 46,289.4 46.5,290 47,289.5 47.5,289.9 48,289.4 48.5,289.7 49,289.5 49.5,289.9 50,289.5 50.5,289.4 51,289.8 51.5,289.3 52,289.4 52.5,289.9 53,289.1 53.5,289.8 54,289.5 54.5,289.4 55,289.7 55.5,289.8 56,289.5 56.5,289.6 57,289.9 57.5,289.8 58,289.6 58.5,289.4 59,289.4 59.5,289.5 60,289.8 60.5,289.8 61,289.7 61.5,290 62,289.6 62.5,289.5 63,289.5 63.5,290.2 64,289.1 64.5,289.7 65,289.8 65.5,289.7 66,290.3 66.5,290 67,289.9 67.5,289.4 68,289.8 68.5,289.5 69,289.7 69.5,289.7 70,289.5 70.5,289.8 71,290.1 71.5,289.9 72,289.7 72.5,289.1 73,290 73.5,289.9 74,289.4 74.5,289.1 75,289.1 75.5,288.5 76,288.7 76.5,287.9 77,287.7 77.5,287.7 78,287 78.5,287.1 79,287 79.5,286.2 80,286.6 80.5,285.9 81,285.9 81.5,285.4 82,284.9 82.5,284.6 83,283.9 83.5,283.9 84,283.6 84.5,283.9 85,283.4 85.5,282.4 86,282.7 86.5,282.2 87,281.7 87.5,281.8 88,281.7 88.5,281.1 89,281 89.5,281 90,280.5 90.5,280.6 91,280.4 91.5,280 92,279.8 92.5,279.9 93,279.9 93.5,279.6 94,279 94.5,279.3 95,279 95.5,278.9 96,278.9 96.5,278.2 97,278.4 97.5,278.2 98,278 98.5,278.8 99,278.4 99.5,277.6 100,278.1 100.5,277.8 101,278.2 101.5,277.8 102,277.7 102.5,277.7 103,277.7 103.5,277.5 104,277.4 104.5,277.4 105,277.6 105.5,277.3 106,277.8 106.5,277.9 107,278 107.5,278.5 108,278.1 108.5,278.5 109,278.5 109.5,279.1 110,279 110.5,279.3 111,279.5 111.5,279.2 112,279.9 112.5,279.7 113,280 113.5,280.3 114,280.6 114.5,280.7 115,281.2 115.5,280.8 116,280.8 116.5,280.9 117,281.3 117.5,281.7 118,281.5 118.5,281.3 119,281.7 119.5,281.8 120,281.9 120.5,281.6 121,281.1 121.5,281.7 122,282.1 122.5,281.9 123,281.2 123.5,281.9 124,281.3 124.5,282.4 125,281.9 125.5,281.5 126,282.1 126.5,281.6 127,282 127.5,281.9 128,281.5 128.5,282 129,281.5 129.5,282.2 130,281.9 130.5,281.6 131,281.3 131.5,282.3 132,282.3 132.5,281.5 133,282.3 133.5,281.9 134,281.8 134.5,281.8 135,281.8 135.5,282.3 136,281.9 136.5,281.3 137,282.4 137.5,282.1 138,281.5 138.5,281.8 139,281.6 139.5,281.9 140,282 140.5,281.9 141,281.7 141.5,281.6 142,282.1 142.5,281.8 143,282.5 143.5,281.6 144,282.1 144.5,281.9 145,281.6 145.5,282.2 146,281.9 146.5,281.6 147,281.8 147.5,282.1 148,281.5 148.5,282.2 149,282 149.5,281.8 150,282.2 150.5,282.3 151,282 151.5,281.9 152,282.4 152.5,282.3 153,281.6 153.5,281.8 154,281.8 154.5,281.7 155,281.4 155.5,282.1 156,281.9 156.5,281.9 157,282.2 157.5,281.7 158,281.8 158.5,281.9 159,281.7 159.5,281.8 160,282.1 160.5,281.8 161,282.2 161.5,281.6 162,281.9 162.5,281.4 163,281.8 163.5,281.7 164,282.2 164.5,282.1 165,282 165.5,282.4 166,282.3 166.5,282.1 167,281.7 167.5,281.4 168,281.8 168.5,281.7 169,281.7 169.5,281.8 170,281.4 170.5,282.3 171,281.5 171.5,281.7 172,282 172.5,281.4 173,282.1 173.5,282.1 174,281.8 174.5,281.5 175,281.7 175.5,281.3 176,282.2 176.5,281.9 177,281.6 177.5,281.6 178,282 178.5,282.3 179,281.5 179.5,281.7 180,281.4 180.5,282 181,281.9 181.5,282.5 182,281.8 182.5,281.7 183,281.6 183.5,282.1 184,281.4 184.5,282.1 185,281.9 185.5,281.7 186,281.6 186.5,282.2 187,282.5 187.5,281.9 188,282.2 188.5,282.6 189,281.9 189.5,282.1 190,281.9 190.5,282.2 191,282.3 191.5,282.2 192,282.2 192.5,282 193,282.1 193.5,282.3 194,282.8 194.5,282.5 195,282.4 195.5,282.9 196,282.9 196.5,282.6 197,282.7 197.5,283 198,282.9 198.5,282.6 199,282.8 199.5,282.7 200,283.1 200.5,282.5 201,283 201.5,282.8 202,282.4 202.5,282.9 203,282.9 203.5,282.2 204,283.2 204.5,282.2 205,282.3 205.5,282.4 206,282.7 206.5,282.7 207,282.5 207.5,282.9 208,282.6 208.5,282.8 209,283.2 209.5,282.4 210,281.6 210.5,282.2 211,282 211.5,282.3 212,282.3 212.5,281.9 213,281.9 213.5,282.2 214,282.2 214.5,281.5 215,282.5 215.5,282.2 216,282.1 216.5,282.2 217,281.8 217.5,282.1 218,282.4 218.5,282.4 219,282.2 219.5,281.9 220,281.8 220.5,282.4 221,282.1 221.5,281.8 222,281.3 222.5,281.7 223,281.3 223.5,282.2 224,281.9 224.5,281.7 225,281.9 225.5,282.7 226,282.4 226.5,281.7 227,282.1 227.5,281.8 228,281.7 228.5,282.3 229,283 229.5,282.8 230,282.4 230.5,282.3 231,282.5 231.5,282.8 232,282.1 232.5,282 233,283.1 233.5,282.7 234,283.1 234.5,282.8 235,283.2 235.5,282.6 236,283 236.5,283.3 237,283.2 237.5,282.8 238,283.3 238.5,282.8 239,282.6 239.5,283.3 240,283.6 240.5,283.4 241,282.9 241.5,283.5 242,283.5 242.5,283.2 243,282.7 243.5,283.7 244,283.7 244.5,283.7 245,283 245.5,283.2 246,283.9 246.5,283.9 247,283.8 247.5,283.6 248,283.8 248.5,283.5 249,283.6 249.5,283.4 250,283.8 250.5,283.6 251,284 251.5,283.9 252,283.5 252.5,284.3 253,283.4 253.5,283.9 254,284.1 254.5,284.1 255,283.1 255.5,284.1 256,284.1 256.5,284.2 257,283.1 257.5,283.6 258,283.8 258.5,283.7 259,284.2 259.5,283.6 260,284.2 260.5,284 261,283.4 261.5,283.5 262,283.7 262.5,283.9 263,284.2 263.5,283.8 264,284.1 264.5,283.4 265,283 265.5,283.8 266,284 266.5,283.8 267,283.6 267.5,284 268,284.5 268.5,283.9 269,283.7 269.5,283.7 270,284.5 270.5,283.9 271,284.1 271.5,284.3 272,284.3 272.5,283.7 273,284.3 273.5,284.2 274,284.1 274.5,284.3 275,283.8 275.5,284 276,283.9 276.5,284.2 277,283.8 277.5,284.1 278,283.7 278.5,284 279,283.9 279.5,284 280,284.2 280.5,284.3 281,284.4 281.5,284 282,285.1 282.5,284.7 283,284.9 283.5,284.9 284,285.5 284.5,285.1 285,285.6 285.5,286 286,286.2 286.5,286.2 287,286.2 287.5,285.8 288,286.7 288.5,286.7 289,286.6 289.5,286.7 290,286.5 290.5,286.3 291,286.8 291.5,286.9 292,286.2 292.5,286.9 293,286.7 293.5,286.9 294,286.8 294.5,287 295,287 295.5,287 296,286.4 296.5,287.1 297,286.9 297.5,286.5 298,287.1 298.5,286.5 299,287.2 299.5,287.5 300,286.9 300.5,287.3 301,287.2 301.5,287.3 302,286.7 302.5,287.3 303,287.2 303.5,287.4 304,287.2 304.5,287.6 305,287.4 305.5,287.5 306,287.8 306.5,287.4 307,287.7 307.5,287.5 308,287.6 308.5,287.3 309,287.8 309.5,287.9 310,287.6 310.5,287.8 311,287.8 311.5,287.3 312,287.8 312.5,288.1 313,287.6 313.5,287.2 314,287.9 314.5,287.6 315,288.4 315.5,288.1 316,288.4 316.5,288.4 317,289 317.5,289 318,289.1 318.5,289.6 319,289.7 319.5,290.5 320,289.8 320.5,290.1 321,289.9 321.5,289.8 322,290.7 322.5,289.6 323,290.7 323.5,289.9 324,290.3 324.5,291 325,289.7 325.5,290 326,290.8 326.5,290.5 327,290.3 327.5,290.5 328,290.2 328.5,290.6 329,291 329.5,290.5 330,290.7 330.5,291 331,291.3 331.5,290.5 332,290.8 332.5,290.6" fill="none" stroke="#1f1fff" stroke-width="1.0" stroke-linejoin="round" stroke-opacity="0.9"/>
<path d="M36.4 288.7l2 2m-2 0l2 -2M37.5 288.4l2 2m-2 0l2 -2M38 288.3l2 2m-2 0l2 -2M38.4 287l2 2m-2 0l2 -2M38.8 288.8l2 2m-2 0l2 -2M39.7 287.2l2 2m-2 0l2 -2M40 289l2 2m-2 0l2 -2M41 287.3l2 2m-2 0l2 -2M41.6 289l2 2m-2 0l2 -2M41.7 289.1l2 2m-2 0l2 -2M42.5 288.6l2 2m-2 0l2 -2M43 288l2 2m-2 0l2 -2M44.1 288.8l2 2m-2 0l2 -2M44.2 288.2l2 2m-2 0l2 -2M45 288.6l2 2m-2 0l2 -2M45.6 288.1l2 2m-2 0l2 -2M46.3 288.7l2 2m-2 0l2 -2M46.8 287.4l2 2m-2 0l2 -2M47.6 288.1l2 2m-2 0l2 -2M48.1 288.6l2 2m-2 0l2 -2M48.3 289.1l2 2m-2 0l2 -2M49.3 287.2l2 2m-2 0l2 -2M50.1 287.1l2 2m-2 0l2 -2M50.2 288.8l2 2m-2 0l2 -2M50.6 288.7l2 2m-2 0l2 -2M51.8 288.7l2 2m-2 0l2 -2M52.5 287l2 2m-2 0l2 -2M52.6 287.8l2 2m-2 0l2 -2M53.5 289.4l2 2m-2 0l2 -2M54.3 288l2 2m-2 0l2 -2M54.6 287.1l2 2m-2 0l2 -2M55.4 288.3l2 2m-2 0l2 -2M55.6 287l2 2m-2 0l2 -2M56 288.2l2 2m-2 0l2 -2M57.2 288.7l2 2m-2 0l2 -2M57.2 289.4l2 2m-2 0l2 -2M58.5 288.3l2 2m-2 0l2 -2M58.9 287.2l2 2m-2 0l2 -2M59.6 287.7l2 2m-2 0l2 -2M60.2 288.6l2 2m-2 0l2 -2M60.6 287.1l2 2m-2 0l2 -2M60.8 288.1l2 2m-2 0l2 -2M61.9 288.1l2 2m-2 0l2 -2M62.4 288.5l2 2m-2 0l2 -2M62.9 287.7l2 2m-2 0l2 -2M63.8 288.2l2 2m-2 0l2 -2M64 289.3l2 2m-2 0l2 -2M64.5 288.3l2 2m-2 0l2 -2M65 288.5l2 2m-2 0l2 -2M65.8 289.5l2 2m-2 0l2 -2M66.3 287l2 2m-2 0l2 -2M66.9 289.5l2 2m-2 0l2 -2M68.1 288l2 2m-2 0l2 -2M68.2 289l2 2m-2 0l2 -2M68.8 287.4l2 2m-2 0l2 -2M69.8 288l2 2m-2 0l2 -2M70.4 288.4l2 2m-2 0l2 -2M71 289.6l2 2m-2 0l2 -2M71.2 288.1l2 2m-2 0l2 -2M72 288.4l2 2m-2 0l2 -2M72.8 289.2l2 2m-2 0l2 -2M73.3 287.6l2 2m-2 0l2 -2M73.9 287.5l2 2m-2 0l2 -2M74.6 286.2l2 2m-2 0l2 -2M74.6 287.7l2 2m-2 0l2 -2M75.3 286.2l2 2m-2 0l2 -2M76.4 286.6l2 2m-2 0l2 -2M76.8 287.4l2 2m-2 0l2 -2M77.7 284.9l2 2m-2 0l2 -2M77.6 286.8l2 2m-2 0l2 -2M78.6 285.7l2 2m-2 0l2 -2M79.3 285.4l2 2m-2 0l2 -2M79.5 283.3l2 2m-2 0l2 -2M80.4 283.7l2 2m-2 0l2 -2M80.7 282.7l2 2m-2 0l2 -2M81.1 282.5l2 2m-2 0l2 -2M81.9 282.9l2 2m-2 0l2 -2M82.5 282.6l2 2m-2 0l2 -2M83 283l2 2m-2 0l2 -2M84 282.6l2 2m-2 0l2 -2M84.4 280.6l2 2m-2 0l2 -2M85.1 280.8l2 2m-2 0l2 -2M85.3 281.1l2 2m-2 0l2 -2M86.5 279.5l2 2m-2 0l2 -2M87.2 279.1l2 2m-2 0l2 -2M87.1 279.6l2 2m-2 0l2 -2M87.9 280.4l2 2m-2 0l2 -2M89 280.8l2 2m-2 0l2 -2M89.6 280.3l2 2m-2 0l2 -2M89.5 278l2 2m-2 0l2 -2M90.4 278.6l2 2m-2 0l2 -2M91.2 278.4l2 2m-2 0l2 -2M91.9 279.1l2 2m-2 0l2 -2M92.4 279.3l2 2m-2 0l2 -2M92.6 279l2 2m-2 0l2 -2M93.5 276.5l2 2m-2 0l2 -2M94 278.5l2 2m-2 0l2 -2M94.4 276.3l2 2m-2 0l2 -2M95.6 276.5l2 2m-2 0l2 -2M96.2 276.7l2 2m-2 0l2 -2M96.7 278.1l2 2m-2 0l2 -2M96.9 278l2 2m-2 0l2 -2M97.5 276l2 2m-2 0l2 -2M98.6 275.5l2 2m-2 0l2 -2M99 275.9l2 2m-2 0l2 -2M99.5 276l2 2m-2 0l2 -2M100.3 276.3l2 2m-2 0l2 -2M100.5 275.6l2 2m-2 0l2 -2M101.2 275.4l2 2m-2 0l2 -2M102.3 277.1l2 2m-2 0l2 -2M102.8 274.9l2 2m-2 0l2 -2M102.8 276.7l2 2m-2 0l2 -2M104 275.1l2 2m-2 0l2 -2M104.6 275.4l2 2m-2 0l2 -2M105.3 276.5l2 2m-2 0l2 -2M105.2 276.6l2 2m-2 0l2 -2M106.1 277.1l2 2m-2 0l2 -2M107 275.9l2 2m-2 0l2 -2M107.7 278.2l2 2m-2 0l2 -2M108 277.8l2 2m-2 0l2 -2M108.9 276.8l2 2m-2 0l2 -2M109.2 278.4l2 2m-2 0l2 -2M110 278.5l2 2m-2 0l2 -2M110 277.8l2 2m-2 0l2 -2M110.5 279.7l2 2m-2 0l2 -2M111.5 278l2 2m-2 0l2 -2M111.9 277.6l2 2m-2 0l2 -2M112.8 280l2 2m-2 0l2 -2M112.9 279.4l2 2m-2 0l2 -2M113.6 279.1l2 2m-2 0l2 -2M114.4 279.1l2 2m-2 0l2 -2M115 279.4l2 2m-2 0l2 -2M115.7 280.4l2 2m-2 0l2 -2M116.2 280.9l2 2m-2 0l2 -2M116.8 279.1l2 2m-2 0l2 -2M117.4 281.1l2 2m-2 0l2 -2M118.3 281.1l2 2m-2 0l2 -2M118.5 279.8l2 2m-2 0l2 -2M119.3 279.5l2 2m-2 0l2 -2M119.7 281l2 2m-2 0l2 -2M120.1 281.7l2 2m-2 0l2 -2M120.8 281.2l2 2m-2 0l2 -2M121.4 281.8l2 2m-2 0l2 -2M122.2 281.6l2 2m-2 0l2 -2M122.5 279.9l2 2m-2 0l2 -2M123.4 279.8l2 2m-2 0l2 -2M124.5 281.6l2 2m-2 0l2 -2M124.7 279.4l2 2m-2 0l2 -2M125 279.3l2 2m-2 0l2 -2M125.9 280.8l2 2m-2 0l2 -2M126.8 281.5l2 2m-2 0l2 -2M127.2 279.6l2 2m-2 0l2 -2M127.9 281.3l2 2m-2 0l2 -2M128.3 280.7l2 2m-2 0l2 -2M128.8 280.7l2 2m-2 0l2 -2M129.8 280.7l2 2m-2 0l2 -2M130.1 280.1l2 2m-2 0l2 -2M131 280.3l2 2m-2 0l2 -2M131.3 279.8l2 2m-2 0l2 -2M131.8 281.2l2 2m-2 0l2 -2M132.5 281.4l2 2m-2 0l2 -2M133 279.5l2 2m-2 0l2 -2M133.7 279.6l2 2m-2 0l2 -2M134.2 280.1l2 2m-2 0l2 -2M135.2 281.4l2 2m-2 0l2 -2M135.7 281.2l2 2m-2 0l2 -2M136.4 281.5l2 2m-2 0l2 -2M137 279.7l2 2m-2 0l2 -2M137.1 279.6l2 2m-2 0l2 -2M137.6 281.3l2 2m-2 0l2 -2M138.8 281.7l2 2m-2 0l2 -2M139.2 279.2l2 2m-2 0l2 -2M139.7 281.6l2 2m-2 0l2 -2M140.4 280.6l2 2m-2 0l2 -2M141 280.6l2 2m-2 0l2 -2M141.9 281l2 2m-2 0l2 -2M141.9 279.4l2 2m-2 0l2 -2M142.4 279.2l2 2m-2 0l2 -2M143.6 279.7l2 2m-2 0l2 -2M144 280l2 2m-2 0l2 -2M144.9 280l2 2m-2 0l2 -2M145 279.7l2 2m-2 0l2 -2M145.5 280.2l2 2m-2 0l2 -2M146.2 279.4l2 2m-2 0l2 -2M146.5 279.7l2 2m-2 0l2 -2M147.4 281.5l2 2m-2 0l2 -2M148.2 279.2l2 2m-2 0l2 -2M148.9 280.4l2 2m-2 0l2 -2M149 280.1l2 2m-2 0l2 -2M149.8 280.9l2 2m-2 0l2 -2M150.4 281.5l2 2m-2 0l2 -2M150.8 279.8l2 2m-2 0l2 -2M151.5 279.9l2 2m-2 0l2 -2M152.2 280.6l2 2m-2 0l2 -2M152.7 281.7l2 2m-2 0l2 -2M153.4 281.6l2 2m-2 0l2 -2M154.5 280.5l2 2m-2 0l2 -2M155.1 281.2l2 2m-2 0l2 -2M155.2 280.6l2 2m-2 0l2 -2M156 281l2 2m-2 0l2 -2M156.2 279.3l2 2m-2 0l2 -2M157.3 281.7l2 2m-2 0l2 -2M157.5 281.3l2 2m-2 0l2 -2M158.1 281.7l2 2m-2 0l2 -2M158.8 279.6l2 2m-2 0l2 -2M159.1 280.1l2 2m-2 0l2 -2M160.4 281.4l2 2m-2 0l2 -2M160.7 279.7l2 2m-2 0l2 -2M161.2 281.5l2 2m-2 0l2 -2M161.7 280.5l2 2m-2 0l2 -2M162.3 280.4l2 2m-2 0l2 -2M162.8 281.3l2 2m-2 0l2 -2M164 279.3l2 2m-2 0l2 -2M164.3 279.6l2 2m-2 0l2 -2M164.8 281l2 2m-2 0l2 -2M165.4 281.6l2 2m-2 0l2 -2M165.8 279.7l2 2m-2 0l2 -2M166.5 281.5l2 2m-2 0l2 -2M167.3 281.5l2 2m-2 0l2 -2M167.6 281.6l2 2m-2 0l2 -2M168.9 281.4l2 2m-2 0l2 -2M168.8 281l2 2m-2 0l2 -2M169.9 281.8l2 2m-2 0l2 -2M170.7 279.7l2 2m-2 0l2 -2M170.6 279.4l2 2m-2 0l2 -2M171.6 279.2l2 2m-2 0l2 -2M171.8 280.3l2 2m-2 0l2 -2M173 280.5l2 2m-2 0l2 -2M173.4 279.4l2 2m-2 0l2 -2M173.9 279.6l2 2m-2 0l2 -2M174.3 280.1l2 2m-2 0l2 -2M175.2 279.2l2 2m-2 0l2 -2M175.9 280.4l2 2m-2 0l2 -2M176.7 279.7l2 2m-2 0l2 -2M176.7 279.3l2 2m-2 0l2 -2M177.2 280.9l2 2m-2 0l2 -2M178.1 279.9l2 2m-2 0l2 -2M179 281.2l2 2m-2 0l2 -2M179.4 280l2 2m-2 0l2 -2M180.2 279.3l2 2m-2 0l2 -2M180.8 280.9l2 2m-2 0l2 -2M181.1 279.7l2 2m-2 0l2 -2M181.3 281.1l2 2m-2 0l2 -2M182.5 281.4l2 2m-2 0l2 -2M182.6 281.2l2 2m-2 0l2 -2M183.6 281.2l2 2m-2 0l2 -2M183.8 279.6l2 2m-2 0l2 -2M184.6 281.4l2 2m-2 0l2 -2M185.2 279.9l2 2m-2 0l2 -2M185.6 281.1l2 2m-2 0l2 -2M186.6 279.8l2 2m-2 0l2 -2M187.2 281.7l2 2m-2 0l2 -2M187.5 281.9l2 2m-2 0l2 -2M188.2 280.4l2 2m-2 0l2 -2M188.7 280.5l2 2m-2 0l2 -2M189.3 281.7l2 2m-2 0l2 -2M190.1 280.7l2 2m-2 0l2 -2M190.6 282.3l2 2m-2 0l2 -2M191.2 281.6l2 2m-2 0l2 -2M191.8 281.9l2 2m-2 0l2 -2M192.5 279.9l2 2m-2 0l2 -2M192.9 280.8l2 2m-2 0l2 -2M193.3 280.8l2 2m-2 0l2 -2M194.3 281.9l2 2m-2 0l2 -2M195 281.8l2 2m-2 0l2 -2M195.5 281.1l2 2m-2 0l2 -2M196.4 281.4l2 2m-2 0l2 -2M196.4 281.1l2 2m-2 0l2 -2M197.2 280.4l2 2m-2 0l2 -2M198 281.6l2 2m-2 0l2 -2M198.6 282l2 2m-2 0l2 -2M199 280.3l2 2m-2 0l2 -2M199.4 281l2 2m-2 0l2 -2M200.5 281.6l2 2m-2 0l2 -2M200.9 280.1l2 2m-2 0l2 -2M201.7 280.3l2 2m-2 0l2 -2M201.8 281.4l2 2m-2 0l2 -2M202.5 281.3l2 2m-2 0l2 -2M203.4 280.5l2 2m-2 0l2 -2M204.2 281l2 2m-2 0l2 -2M204.8 282.3l2 2m-2 0l2 -2M205.4 280.9l2 2m-2 0l2 -2M205.9 280l2 2m-2 0l2 -2M206.6 280.8l2 2m-2 0l2 -2M207 279.9l2 2m-2 0l2 -2M207.3 280l2 2m-2 0l2 -2M207.8 281.2l2 2m-2 0l2 -2M208.7 281.5l2 2m-2 0l2 -2M209.3 280.3l2 2m-2 0l2 -2M209.5 280.8l2 2m-2 0l2 -2M210.7 281.5l2 2m-2 0l2 -2M211.5 282l2 2m-2 0l2 -2M211.8 280.6l2 2m-2 0l2 -2M211.9 281.2l2 2m-2 0l2 -2M212.7 281.5l2 2m-2 0l2 -2M213.6 280.7l2 2m-2 0l2 -2M213.9 280.8l2 2m-2 0l2 -2M214.4 281.8l2 2m-2 0l2 -2M215 281.1l2 2m-2 0l2 -2M216.2 281.9l2 2m-2 0l2 -2M216.8 281.3l2 2m-2 0l2 -2M217.2 281.4l2 2m-2 0l2 -2M218 281.3l2 2m-2 0l2 -2M218.5 279.9l2 2m-2 0l2 -2M218.9 279.8l2 2m-2 0l2 -2M219.6 280.2l2 2m-2 0l2 -2M220.4 281l2 2m-2 0l2 -2M220.4 281.5l2 2m-2 0l2 -2M220.9 279.7l2 2m-2 0l2 -2M221.8 281.1l2 2m-2 0l2 -2M222.3 281.8l2 2m-2 0l2 -2M223.3 281.7l2 2m-2 0l2 -2M223.8 281.2l2 2m-2 0l2 -2M224.1 281.6l2 2m-2 0l2 -2M225.2 281.6l2 2m-2 0l2 -2M225.6 281l2 2m-2 0l2 -2M226.1 280l2 2m-2 0l2 -2M226.6 281l2 2m-2 0l2 -2M227.7 279.7l2 2m-2 0l2 -2M227.8 281.7l2 2m-2 0l2 -2M228.6 281l2 2m-2 0l2 -2M229.1 282.2l2 2m-2 0l2 -2M229.9 281.6l2 2m-2 0l2 -2M230.4 280.1l2 2m-2 0l2 -2M231.2 282.3l2 2m-2 0l2 -2M231.2 282.3l2 2m-2 0l2 -2M231.9 282l2 2m-2 0l2 -2M232.9 282.3l2 2m-2 0l2 -2M233.4 281l2 2m-2 0l2 -2M234.3 281.3l2 2m-2 0l2 -2M234.2 281.6l2 2m-2 0l2 -2M234.7 281.6l2 2m-2 0l2 -2M235.7 280.6l2 2m-2 0l2 -2M236 281.5l2 2m-2 0l2 -2M236.7 281.2l2 2m-2 0l2 -2M237.5 281.1l2 2m-2 0l2 -2M237.7 280.5l2 2m-2 0l2 -2M238.9 281.1l2 2m-2 0l2 -2M239.5 283l2 2m-2 0l2 -2M240.2 280.8l2 2m-2 0l2 -2M240.8 282.8l2 2m-2 0l2 -2M240.9 282.6l2 2m-2 0l2 -2M241.7 282l2 2m-2 0l2 -2M242.3 280.9l2 2m-2 0l2 -2M243.3 281.5l2 2m-2 0l2 -2M243.7 282.6l2 2m-2 0l2 -2M244.3 281l2 2m-2 0l2 -2M244.7 283.1l2 2m-2 0l2 -2M245.3 281.7l2 2m-2 0l2 -2M245.8 282.4l2 2m-2 0l2 -2M246.6 281.8l2 2m-2 0l2 -2M246.9 283.3l2 2m-2 0l2 -2M247.3 283.3l2 2m-2 0l2 -2M248.2 282.8l2 2m-2 0l2 -2M248.8 282.4l2 2m-2 0l2 -2M249.2 281.3l2 2m-2 0l2 -2M250 283.6l2 2m-2 0l2 -2M250.7 283.5l2 2m-2 0l2 -2M251.3 283.4l2 2m-2 0l2 -2M251.9 283.7l2 2m-2 0l2 -2M252.2 281.8l2 2m-2 0l2 -2M252.8 281.3l2 2m-2 0l2 -2M253.6 282.9l2 2m-2 0l2 -2M254.1 283.4l2 2m-2 0l2 -2M254.7 283.5l2 2m-2 0l2 -2M255.4 281.8l2 2m-2 0l2 -2M256 281.8l2 2m-2 0l2 -2M256.4 283.2l2 2m-2 0l2 -2M256.9 281.8l2 2m-2 0l2 -2M257.6 283.2l2 2m-2 0l2 -2M258.8 282.5l2 2m-2 0l2 -2M258.8 282l2 2m-2 0l2 -2M260.1 281.9l2 2m-2 0l2 -2M260.6 281.4l2 2m-2 0l2 -2M260.6 281.5l2 2m-2 0l2 -2M261.6 283.2l2 2m-2 0l2 -2M262.3 282l2 2m-2 0l2 -2M263 281.6l2 2m-2 0l2 -2M263.7 282.7l2 2m-2 0l2 -2M264 282.8l2 2m-2 0l2 -2M264.6 283.5l2 2m-2 0l2 -2M265.2 281.5l2 2m-2 0l2 -2M265.8 282l2 2m-2 0l2 -2M266.4 283.8l2 2m-2 0l2 -2M266.8 283.4l2 2m-2 0l2 -2M267.1 281.3l2 2m-2 0l2 -2M267.9 281.3l2 2m-2 0l2 -2M268.6 282l2 2m-2 0l2 -2M269.5 283l2 2m-2 0l2 -2M270.1 283.3l2 2m-2 0l2 -2M270.7 283.5l2 2m-2 0l2 -2M271 282.5l2 2m-2 0l2 -2M271.3 281.5l2 2m-2 0l2 -2M272 283.6l2 2m-2 0l2 -2M272.8 283.6l2 2m-2 0l2 -2M273.8 281.5l2 2m-2 0l2 -2M274.5 283.2l2 2m-2 0l2 -2M275 282.8l2 2m-2 0l2 -2M275.1 282.7l2 2m-2 0l2 -2M276 282.4l2 2m-2 0l2 -2M276.8 283.7l2 2m-2 0l2 -2M277.1 283.8l2 2m-2 0l2 -2M277.7 282.6l2 2m-2 0l2 -2M278.2 283.8l2 2m-2 0l2 -2M278.8 281.7l2 2m-2 0l2 -2M279.8 283.4l2 2m-2 0l2 -2M280.3 284.3l2 2m-2 0l2 -2M280.9 284.1l2 2m-2 0l2 -2M281.4 284.3l2 2m-2 0l2 -2M282.2 284.8l2 2m-2 0l2 -2M282.2 282.5l2 2m-2 0l2 -2M283.2 285.2l2 2m-2 0l2 -2M284 283.1l2 2m-2 0l2 -2M284.3 283.2l2 2m-2 0l2 -2M284.7 284.1l2 2m-2 0l2 -2M285.2 283.9l2 2m-2 0l2 -2M285.8 284.4l2 2m-2 0l2 -2M286.6 285.2l2 2m-2 0l2 -2M287.7 285.7l2 2m-2 0l2 -2M288.1 286l2 2m-2 0l2 -2M288.2 285.8l2 2m-2 0l2 -2M289.2 286.3l2 2m-2 0l2 -2M289.8 285.2l2 2m-2 0l2 -2M290.3 284.4l2 2m-2 0l2 -2M291.2 284.2l2 2m-2 0l2 -2M291.2 285.2l2 2m-2 0l2 -2M292.2 286.5l2 2m-2 0l2 -2M292.9 286l2 2m-2 0l2 -2M293.3 285.8l2 2m-2 0l2 -2M293.5 284.8l2 2m-2 0l2 -2M294.2 285.7l2 2m-2 0l2 -2M295.4 285.1l2 2m-2 0l2 -2M296 286.5l2 2m-2 0l2 -2M296.7 284.7l2 2m-2 0l2 -2M297.2 284.6l2 2m-2 0l2 -2M297.9 286.2l2 2m-2 0l2 -2M298.1 286.9l2 2m-2 0l2 -2M299 285.2l2 2m-2 0l2 -2M299.2 285.2l2 2m-2 0l2 -2M299.6 285.9l2 2m-2 0l2 -2M300.2 285.6l2 2m-2 0l2 -2M301.4 285.7l2 2m-2 0l2 -2M302.1 286.9l2 2m-2 0l2 -2M302.5 286.4l2 2m-2 0l2 -2M303.2 285.7l2 2m-2 0l2 -2M303.2 285l2 2m-2 0l2 -2M304 285l2 2m-2 0l2 -2M304.9 284.8l2 2m-2 0l2 -2M305.5 285.2l2 2m-2 0l2 -2M306.1 286.2l2 2m-2 0l2 -2M306.7 286.6l2 2m-2 0l2 -2M307.2 286.1l2 2m-2 0l2 -2M307.7 285.5l2 2m-2 0l2 -2M308.7 285.1l2 2m-2 0l2 -2M308.6 287.3l2 2m-2 0l2 -2M309.4 285l2 2m-2 0l2 -2M310.1 286.4l2 2m-2 0l2 -2M310.8 285.9l2 2m-2 0l2 -2M311.2 286.1l2 2m-2 0l2 -2M312 285.2l2 2m-2 0l2 -2M312.8 285.3l2 2m-2 0l2 -2M313 286.4l2 2m-2 0l2 -2M314 286.9l2 2m-2 0l2 -2M314.2 285.8l2 2m-2 0l2 -2M315.2 288.2l2 2m-2 0l2 -2M315.4 287l2 2m-2 0l2 -2M315.8 288.4l2 2m-2 0l2 -2M316.8 286.9l2 2m-2 0l2 -2M317.4 288.4l2 2m-2 0l2 -2M318.2 289.2l2 2m-2 0l2 -2M318.4 288.5l2 2m-2 0l2 -2M318.9 289.7l2 2m-2 0l2 -2M319.9 289.7l2 2m-2 0l2 -2M320.4 289.7l2 2m-2 0l2 -2M321.1 287.8l2 2m-2 0l2 -2M321.2 288.9l2 2m-2 0l2 -2M321.9 287.9l2 2m-2 0l2 -2M322.4 288l2 2m-2 0l2 -2M323.7 289.9l2 2m-2 0l2 -2M323.9 290.3l2 2m-2 0l2 -2M324.1 289.2l2 2m-2 0l2 -2M325.3 288.1l2 2m-2 0l2 -2M325.8 289.3l2 2m-2 0l2 -2M326.6 289.8l2 2m-2 0l2 -2M326.5 289.7l2 2m-2 0l2 -2M327.8 289.3l2 2m-2 0l2 -2M328.5 290.1l2 2m-2 0l2 -2M328.7 289.3l2 2m-2 0l2 -2M329.3 288l2 2m-2 0l2 -2M330.2 289.5l2 2m-2 0l2 -2M330.1 290.3l2 2m-2 0l2 -2M331 288.4l2 2m-2 0l2 -2" stroke="#1f1fff" stroke-width="0.7" stroke-opacity="0.55" fill="none"/>
<text x="37.9" y="11.5" font-size="11.2" fill="#000" font-family='"Liberation Sans", sans-serif' textLength="38.5" lengthAdjust="spacingAndGlyphs" stroke="#000" stroke-width="0.08">#97781</text>
<text x="264" y="11.3" font-size="11.2" fill="#000" font-family='"Liberation Sans", sans-serif' textLength="67.5" lengthAdjust="spacingAndGlyphs" stroke="#000" stroke-width="0.08">3.45T/2.3MA</text>
<text x="22.8" y="24.5" font-size="10.5" fill="#000" font-family='"Liberation Sans", sans-serif' stroke="#000" stroke-width="0.08">30</text>
<text x="23.6" y="43.2" font-size="10.5" fill="#000" font-family='"Liberation Sans", sans-serif' stroke="#000" stroke-width="0.08">1</text>
<text x="23.8" y="58.6" font-size="10.5" fill="#000" font-family='"Liberation Sans", sans-serif' stroke="#000" stroke-width="0.08">5</text>
<text x="28" y="59.6" font-size="10.5" fill="#000" font-family='"Liberation Sans", sans-serif' stroke="#000" stroke-width="0.08">0</text>
<text x="26.7" y="68.7" font-size="10.5" fill="#000" font-family='"Liberation Sans", sans-serif' stroke="#000" stroke-width="0.08">4</text>
<text x="27.6" y="85.5" font-size="10.5" fill="#000" font-family='"Liberation Sans", sans-serif' stroke="#000" stroke-width="0.08">2</text>
<text x="27.5" y="100.5" font-size="10.5" fill="#000" font-family='"Liberation Sans", sans-serif' stroke="#000" stroke-width="0.08">0</text>
<text x="27.3" y="114.3" font-size="10.5" fill="#000" font-family='"Liberation Sans", sans-serif' stroke="#000" stroke-width="0.08">6</text>
<text x="27.3" y="124.4" font-size="10.5" fill="#000" font-family='"Liberation Sans", sans-serif' stroke="#000" stroke-width="0.08">4</text>
<text x="27.3" y="132.2" font-size="10.5" fill="#000" font-family='"Liberation Sans", sans-serif' stroke="#000" stroke-width="0.08">2</text>
<text x="27.3" y="141.2" font-size="10.5" fill="#000" font-family='"Liberation Sans", sans-serif' stroke="#000" stroke-width="0.08">0</text>
<text x="27.3" y="155.7" font-size="10.5" fill="#000" font-family='"Liberation Sans", sans-serif' stroke="#000" stroke-width="0.08">8</text>
<text x="27.3" y="169.9" font-size="10.5" fill="#000" font-family='"Liberation Sans", sans-serif' stroke="#000" stroke-width="0.08">4</text>
<text x="27.3" y="181.2" font-size="10.5" fill="#000" font-family='"Liberation Sans", sans-serif' stroke="#000" stroke-width="0.08">0</text>
<text x="27.3" y="197.4" font-size="10.5" fill="#000" font-family='"Liberation Sans", sans-serif' stroke="#000" stroke-width="0.08">4</text>
<text x="27.3" y="211.2" font-size="10.5" fill="#000" font-family='"Liberation Sans", sans-serif' stroke="#000" stroke-width="0.08">2</text>
<text x="27.3" y="221.8" font-size="10.5" fill="#000" font-family='"Liberation Sans", sans-serif' stroke="#000" stroke-width="0.08">0</text>
<text x="27.3" y="229.4" font-size="10.5" fill="#000" font-family='"Liberation Sans", sans-serif' stroke="#000" stroke-width="0.08">4</text>
<text x="27.3" y="248.4" font-size="10.5" fill="#000" font-family='"Liberation Sans", sans-serif' stroke="#000" stroke-width="0.08">2</text>
<text x="27.3" y="263.8" font-size="10.5" fill="#000" font-family='"Liberation Sans", sans-serif' stroke="#000" stroke-width="0.08">0</text>
<text x="24.7" y="271.2" font-size="10.5" fill="#000" font-family='"Liberation Sans", sans-serif' stroke="#000" stroke-width="0.08">15</text>
<text x="24.7" y="279.6" font-size="10.5" fill="#000" font-family='"Liberation Sans", sans-serif' stroke="#000" stroke-width="0.08">10</text>
<text x="29.3" y="290.2" font-size="10.5" fill="#000" font-family='"Liberation Sans", sans-serif' stroke="#000" stroke-width="0.08">5</text>
<text x="29.3" y="297.9" font-size="10.5" fill="#000" font-family='"Liberation Sans", sans-serif' stroke="#000" stroke-width="0.08">0</text>
<text x="37.1" y="305" font-size="10.5" fill="#000" font-family='"Liberation Sans", sans-serif' text-anchor="middle" stroke="#000" stroke-width="0.08">6</text>
<text x="106" y="305" font-size="10.5" fill="#000" font-family='"Liberation Sans", sans-serif' text-anchor="middle" stroke="#000" stroke-width="0.08">8</text>
<text x="175.5" y="305" font-size="10.5" fill="#000" font-family='"Liberation Sans", sans-serif' text-anchor="middle" stroke="#000" stroke-width="0.08">10</text>
<text x="248.2" y="305" font-size="10.5" fill="#000" font-family='"Liberation Sans", sans-serif' text-anchor="middle" stroke="#000" stroke-width="0.08">12</text>
<text x="317.4" y="305" font-size="10.5" fill="#000" font-family='"Liberation Sans", sans-serif' text-anchor="middle" stroke="#000" stroke-width="0.08">14</text>
<text x="160.7" y="320.5" font-size="11.5" fill="#000" font-family='"Liberation Sans", sans-serif' textLength="40.5" lengthAdjust="spacingAndGlyphs" stroke="#000" stroke-width="0.08">Time (s)</text>
<text transform="translate(18.3,47.4) rotate(-90)" font-size="11" fill="#000" stroke="#000" stroke-width="0.12" font-family='"Liberation Sans", sans-serif' textLength="28.6" lengthAdjust="spacingAndGlyphs">(MW)</text>
<text transform="translate(12.4,92.7) rotate(-90)" font-size="10.4" fill="#000" stroke="#000" stroke-width="0.12" font-family='"Liberation Sans", sans-serif' textLength="19.3" lengthAdjust="spacingAndGlyphs">x10</text>
<text transform="translate(5.9,74) rotate(-90)" font-size="7.8" fill="#000" stroke="#000" stroke-width="0.3" font-family='"Liberation Sans", sans-serif' textLength="9.4" lengthAdjust="spacingAndGlyphs">22</text>
<text transform="translate(24.2,89.7) rotate(-90)" font-size="11" fill="#000" stroke="#000" stroke-width="0.12" font-family='"Liberation Sans", sans-serif' textLength="22.9" lengthAdjust="spacingAndGlyphs">(e/s)</text>
<text transform="translate(13,132.8) rotate(-90)" font-size="10.4" fill="#000" stroke="#000" stroke-width="0.12" font-family='"Liberation Sans", sans-serif' textLength="19.3" lengthAdjust="spacingAndGlyphs">x10</text>
<text transform="translate(6.4,114) rotate(-90)" font-size="7.8" fill="#000" stroke="#000" stroke-width="0.3" font-family='"Liberation Sans", sans-serif' textLength="9.6" lengthAdjust="spacingAndGlyphs">19</text>
<text transform="translate(24,131.8) rotate(-90)" font-size="11" fill="#000" stroke="#000" stroke-width="0.12" font-family='"Liberation Sans", sans-serif' textLength="24.3" lengthAdjust="spacingAndGlyphs">(m<tspan font-size="7.5" dy="-4">-2</tspan><tspan dy="4">)</tspan></text>
<text transform="translate(19.7,165.9) rotate(-90)" font-size="11" fill="#000" stroke="#000" stroke-width="0.12" font-family='"Liberation Sans", sans-serif' textLength="22.3" lengthAdjust="spacingAndGlyphs">(MJ)</text>
<text transform="translate(13,210.7) rotate(-90)" font-size="10.4" fill="#000" stroke="#000" stroke-width="0.12" font-family='"Liberation Sans", sans-serif' textLength="19.2" lengthAdjust="spacingAndGlyphs">x10</text>
<text transform="translate(6.1,192.2) rotate(-90)" font-size="7.8" fill="#000" stroke="#000" stroke-width="0.3" font-family='"Liberation Sans", sans-serif' textLength="9.4" lengthAdjust="spacingAndGlyphs">16</text>
<text transform="translate(24.2,208) rotate(-90)" font-size="11" fill="#000" stroke="#000" stroke-width="0.12" font-family='"Liberation Sans", sans-serif' textLength="20.2" lengthAdjust="spacingAndGlyphs">(s<tspan font-size="7.5" dy="-4">-1</tspan><tspan dy="4">)</tspan></text>
<text transform="translate(12.4,251.2) rotate(-90)" font-size="10.4" fill="#000" stroke="#000" stroke-width="0.12" font-family='"Liberation Sans", sans-serif' textLength="18.4" lengthAdjust="spacingAndGlyphs">x10</text>
<text transform="translate(5.9,233.8) rotate(-90)" font-size="7.8" fill="#000" stroke="#000" stroke-width="0.3" font-family='"Liberation Sans", sans-serif' textLength="10.6" lengthAdjust="spacingAndGlyphs">14</text>
<text transform="translate(23.6,261) rotate(-90)" font-size="11" fill="#000" stroke="#000" stroke-width="0.12" font-family='"Liberation Sans", sans-serif' textLength="49.5" lengthAdjust="spacingAndGlyphs">p/scm<tspan font-size="7.5" dy="-4">2</tspan><tspan dy="4">sr</tspan></text>
<text transform="translate(18.6,285.5) rotate(-90)" font-size="11" fill="#000" stroke="#000" stroke-width="0.12" font-family='"Liberation Sans", sans-serif' textLength="27.8" lengthAdjust="spacingAndGlyphs">(KeV)</text>
<text x="52" y="37.6" font-size="14.5" fill="#ff1a1a" font-family='"Liberation Sans", sans-serif' textLength="7.3" lengthAdjust="spacingAndGlyphs" stroke="#ff1a1a" stroke-width="0.3">P</text>
<text x="60.6" y="40.7" font-size="9" fill="#ff1a1a" font-family='"Liberation Sans", sans-serif' textLength="14.7" lengthAdjust="spacingAndGlyphs" stroke="#ff1a1a" stroke-width="0.3">NBI</text>
<text x="105.8" y="37.8" font-size="14" fill="#1f1fff" font-family='"Liberation Sans", sans-serif' textLength="6.6" lengthAdjust="spacingAndGlyphs" stroke="#1f1fff" stroke-width="0.3">P</text>
<text x="114" y="41.1" font-size="9" fill="#1f1fff" font-family='"Liberation Sans", sans-serif' textLength="41.5" lengthAdjust="spacingAndGlyphs" stroke="#1f1fff" stroke-width="0.3">RAD,bulk</text>
<text x="237.9" y="43.2" font-size="13.5" fill="#111" font-family='"Liberation Sans", sans-serif' textLength="8" lengthAdjust="spacingAndGlyphs" stroke="#111" stroke-width="0.08">P</text>
<text x="246.6" y="47.4" font-size="9.3" fill="#111" font-family='"Liberation Sans", sans-serif' textLength="22" lengthAdjust="spacingAndGlyphs" stroke="#111" stroke-width="0.08">ICRH</text>
<text x="135.3" y="79.7" font-size="13" fill="#000" font-family='"Liberation Sans", sans-serif' textLength="79.9" lengthAdjust="spacingAndGlyphs" stroke="#000" stroke-width="0.08">Total gas rate</text>
<text x="135.7" y="129.9" font-size="12" fill="#000" font-family='"Liberation Sans", sans-serif' textLength="91.6" lengthAdjust="spacingAndGlyphs" stroke="#000" stroke-width="0.08">Line averaged n</text>
<text x="228" y="134" font-size="8" fill="#000" font-family='"Liberation Sans", sans-serif' textLength="6.6" lengthAdjust="spacingAndGlyphs" stroke="#000" stroke-width="0.08">e</text>
<text x="142.7" y="170.6" font-size="12" fill="#000" font-family='"Liberation Sans", sans-serif' textLength="84.3" lengthAdjust="spacingAndGlyphs" stroke="#000" stroke-width="0.08">Stored energy</text>
<text x="147.1" y="214.9" font-size="12" fill="#000" font-family='"Liberation Sans", sans-serif' textLength="78" lengthAdjust="spacingAndGlyphs" stroke="#000" stroke-width="0.08">Neutron rate</text>
<text x="53.6" y="243.8" font-size="12.2" fill="#000" font-family='"Liberation Sans", sans-serif' textLength="14.5" lengthAdjust="spacingAndGlyphs" stroke="#000" stroke-width="0.08">Be</text>
<text x="68.8" y="243.8" font-size="15" fill="#000" font-family='"Liberation Serif", serif' textLength="10" lengthAdjust="spacingAndGlyphs" stroke="#000" stroke-width="0.08">II</text>
<text x="48.9" y="278.4" font-size="13.2" fill="#ff1a1a" font-family='"Liberation Sans", sans-serif' textLength="7.1" lengthAdjust="spacingAndGlyphs" stroke="#ff1a1a" stroke-width="0.45">T</text>
<text x="56.4" y="280.5" font-size="9" fill="#ff1a1a" font-family='"Liberation Sans", sans-serif' textLength="2" lengthAdjust="spacingAndGlyphs" stroke="#ff1a1a" stroke-width="0.3">i</text>
<text x="58.6" y="279" font-size="13" fill="#111" font-family='"Liberation Sans", sans-serif' textLength="2.8" lengthAdjust="spacingAndGlyphs" stroke="#111" stroke-width="0.4">,</text>
<text x="66.2" y="278.2" font-size="13.2" fill="#1f1fff" font-family='"Liberation Sans", sans-serif' textLength="6.8" lengthAdjust="spacingAndGlyphs" stroke="#1f1fff" stroke-width="0.45">T</text>
<text x="72.1" y="281.8" font-size="8.5" fill="#1f1fff" font-family='"Liberation Sans", sans-serif' textLength="4.2" lengthAdjust="spacingAndGlyphs" stroke="#1f1fff" stroke-width="0.08">e</text>
<line x1="373" y1="15.1" x2="672.5" y2="15.1" stroke="#858585" stroke-width="1.8"/>
<line x1="373" y1="55.7" x2="672.5" y2="55.7" stroke="#505050" stroke-width="1.2"/>
<line x1="373" y1="96.4" x2="672.5" y2="96.4" stroke="#505050" stroke-width="1.2"/>
<line x1="373" y1="137.4" x2="672.5" y2="137.4" stroke="#505050" stroke-width="1.2"/>
<line x1="373" y1="178" x2="672.5" y2="178" stroke="#505050" stroke-width="1.2"/>
<line x1="373" y1="218.3" x2="672.5" y2="218.3" stroke="#505050" stroke-width="1.2"/>
<line x1="373" y1="259.2" x2="672.5" y2="259.2" stroke="#505050" stroke-width="1.2"/>
<line x1="373" y1="293.9" x2="672.5" y2="293.9" stroke="#858585" stroke-width="1.8"/>
<line x1="390.6" y1="15.1" x2="390.6" y2="16.7" stroke="#444" stroke-width="0.8"/>
<line x1="425.8" y1="15.1" x2="425.8" y2="16.7" stroke="#444" stroke-width="0.8"/>
<line x1="460.9" y1="15.1" x2="460.9" y2="16.7" stroke="#444" stroke-width="0.8"/>
<line x1="496.1" y1="15.1" x2="496.1" y2="16.7" stroke="#444" stroke-width="0.8"/>
<line x1="531.2" y1="15.1" x2="531.2" y2="16.7" stroke="#444" stroke-width="0.8"/>
<line x1="566.4" y1="15.1" x2="566.4" y2="16.7" stroke="#444" stroke-width="0.8"/>
<line x1="601.5" y1="15.1" x2="601.5" y2="16.7" stroke="#444" stroke-width="0.8"/>
<line x1="636.6" y1="15.1" x2="636.6" y2="16.7" stroke="#444" stroke-width="0.8"/>
<line x1="390.6" y1="54.1" x2="390.6" y2="57.3" stroke="#444" stroke-width="0.8"/>
<line x1="425.8" y1="54.1" x2="425.8" y2="57.3" stroke="#444" stroke-width="0.8"/>
<line x1="460.9" y1="54.1" x2="460.9" y2="57.3" stroke="#444" stroke-width="0.8"/>
<line x1="496.1" y1="54.1" x2="496.1" y2="57.3" stroke="#444" stroke-width="0.8"/>
<line x1="531.2" y1="54.1" x2="531.2" y2="57.3" stroke="#444" stroke-width="0.8"/>
<line x1="566.4" y1="54.1" x2="566.4" y2="57.3" stroke="#444" stroke-width="0.8"/>
<line x1="601.5" y1="54.1" x2="601.5" y2="57.3" stroke="#444" stroke-width="0.8"/>
<line x1="636.6" y1="54.1" x2="636.6" y2="57.3" stroke="#444" stroke-width="0.8"/>
<line x1="390.6" y1="94.8" x2="390.6" y2="98" stroke="#444" stroke-width="0.8"/>
<line x1="425.8" y1="94.8" x2="425.8" y2="98" stroke="#444" stroke-width="0.8"/>
<line x1="460.9" y1="94.8" x2="460.9" y2="98" stroke="#444" stroke-width="0.8"/>
<line x1="496.1" y1="94.8" x2="496.1" y2="98" stroke="#444" stroke-width="0.8"/>
<line x1="531.2" y1="94.8" x2="531.2" y2="98" stroke="#444" stroke-width="0.8"/>
<line x1="566.4" y1="94.8" x2="566.4" y2="98" stroke="#444" stroke-width="0.8"/>
<line x1="601.5" y1="94.8" x2="601.5" y2="98" stroke="#444" stroke-width="0.8"/>
<line x1="636.6" y1="94.8" x2="636.6" y2="98" stroke="#444" stroke-width="0.8"/>
<line x1="390.6" y1="135.8" x2="390.6" y2="139" stroke="#444" stroke-width="0.8"/>
<line x1="425.8" y1="135.8" x2="425.8" y2="139" stroke="#444" stroke-width="0.8"/>
<line x1="460.9" y1="135.8" x2="460.9" y2="139" stroke="#444" stroke-width="0.8"/>
<line x1="496.1" y1="135.8" x2="496.1" y2="139" stroke="#444" stroke-width="0.8"/>
<line x1="531.2" y1="135.8" x2="531.2" y2="139" stroke="#444" stroke-width="0.8"/>
<line x1="566.4" y1="135.8" x2="566.4" y2="139" stroke="#444" stroke-width="0.8"/>
<line x1="601.5" y1="135.8" x2="601.5" y2="139" stroke="#444" stroke-width="0.8"/>
<line x1="636.6" y1="135.8" x2="636.6" y2="139" stroke="#444" stroke-width="0.8"/>
<line x1="390.6" y1="176.4" x2="390.6" y2="179.6" stroke="#444" stroke-width="0.8"/>
<line x1="425.8" y1="176.4" x2="425.8" y2="179.6" stroke="#444" stroke-width="0.8"/>
<line x1="460.9" y1="176.4" x2="460.9" y2="179.6" stroke="#444" stroke-width="0.8"/>
<line x1="496.1" y1="176.4" x2="496.1" y2="179.6" stroke="#444" stroke-width="0.8"/>
<line x1="531.2" y1="176.4" x2="531.2" y2="179.6" stroke="#444" stroke-width="0.8"/>
<line x1="566.4" y1="176.4" x2="566.4" y2="179.6" stroke="#444" stroke-width="0.8"/>
<line x1="601.5" y1="176.4" x2="601.5" y2="179.6" stroke="#444" stroke-width="0.8"/>
<line x1="636.6" y1="176.4" x2="636.6" y2="179.6" stroke="#444" stroke-width="0.8"/>
<line x1="390.6" y1="216.7" x2="390.6" y2="219.9" stroke="#444" stroke-width="0.8"/>
<line x1="425.8" y1="216.7" x2="425.8" y2="219.9" stroke="#444" stroke-width="0.8"/>
<line x1="460.9" y1="216.7" x2="460.9" y2="219.9" stroke="#444" stroke-width="0.8"/>
<line x1="496.1" y1="216.7" x2="496.1" y2="219.9" stroke="#444" stroke-width="0.8"/>
<line x1="531.2" y1="216.7" x2="531.2" y2="219.9" stroke="#444" stroke-width="0.8"/>
<line x1="566.4" y1="216.7" x2="566.4" y2="219.9" stroke="#444" stroke-width="0.8"/>
<line x1="601.5" y1="216.7" x2="601.5" y2="219.9" stroke="#444" stroke-width="0.8"/>
<line x1="636.6" y1="216.7" x2="636.6" y2="219.9" stroke="#444" stroke-width="0.8"/>
<line x1="390.6" y1="257.6" x2="390.6" y2="260.8" stroke="#444" stroke-width="0.8"/>
<line x1="425.8" y1="257.6" x2="425.8" y2="260.8" stroke="#444" stroke-width="0.8"/>
<line x1="460.9" y1="257.6" x2="460.9" y2="260.8" stroke="#444" stroke-width="0.8"/>
<line x1="496.1" y1="257.6" x2="496.1" y2="260.8" stroke="#444" stroke-width="0.8"/>
<line x1="531.2" y1="257.6" x2="531.2" y2="260.8" stroke="#444" stroke-width="0.8"/>
<line x1="566.4" y1="257.6" x2="566.4" y2="260.8" stroke="#444" stroke-width="0.8"/>
<line x1="601.5" y1="257.6" x2="601.5" y2="260.8" stroke="#444" stroke-width="0.8"/>
<line x1="636.6" y1="257.6" x2="636.6" y2="260.8" stroke="#444" stroke-width="0.8"/>
<line x1="390.6" y1="292.3" x2="390.6" y2="293.9" stroke="#444" stroke-width="0.8"/>
<line x1="425.8" y1="292.3" x2="425.8" y2="293.9" stroke="#444" stroke-width="0.8"/>
<line x1="460.9" y1="292.3" x2="460.9" y2="293.9" stroke="#444" stroke-width="0.8"/>
<line x1="496.1" y1="292.3" x2="496.1" y2="293.9" stroke="#444" stroke-width="0.8"/>
<line x1="531.2" y1="292.3" x2="531.2" y2="293.9" stroke="#444" stroke-width="0.8"/>
<line x1="566.4" y1="292.3" x2="566.4" y2="293.9" stroke="#444" stroke-width="0.8"/>
<line x1="601.5" y1="292.3" x2="601.5" y2="293.9" stroke="#444" stroke-width="0.8"/>
<line x1="636.6" y1="292.3" x2="636.6" y2="293.9" stroke="#444" stroke-width="0.8"/>
<rect x="372.8" y="15.1" width="2.6" height="40.6" fill="#8a8a8a"/>
<line x1="373.1" y1="15.1" x2="373.1" y2="55.7" stroke="#555" stroke-width="0.8"/>
<rect x="669.9" y="15.1" width="2.8" height="40.6" fill="#8a8a8a"/>
<line x1="672.5" y1="15.1" x2="672.5" y2="55.7" stroke="#555" stroke-width="0.8"/>
<line x1="375.2" y1="17.3" x2="376.6" y2="17.3" stroke="#9a9a9a" stroke-width="0.7"/>
<line x1="668.5" y1="17.3" x2="669.9" y2="17.3" stroke="#9a9a9a" stroke-width="0.7"/>
<line x1="375.2" y1="19.8" x2="376.6" y2="19.8" stroke="#9a9a9a" stroke-width="0.7"/>
<line x1="668.5" y1="19.8" x2="669.9" y2="19.8" stroke="#9a9a9a" stroke-width="0.7"/>
<line x1="375.2" y1="22.3" x2="376.6" y2="22.3" stroke="#9a9a9a" stroke-width="0.7"/>
<line x1="668.5" y1="22.3" x2="669.9" y2="22.3" stroke="#9a9a9a" stroke-width="0.7"/>
<line x1="375.2" y1="24.8" x2="376.6" y2="24.8" stroke="#9a9a9a" stroke-width="0.7"/>
<line x1="668.5" y1="24.8" x2="669.9" y2="24.8" stroke="#9a9a9a" stroke-width="0.7"/>
<line x1="375.2" y1="27.3" x2="376.6" y2="27.3" stroke="#9a9a9a" stroke-width="0.7"/>
<line x1="668.5" y1="27.3" x2="669.9" y2="27.3" stroke="#9a9a9a" stroke-width="0.7"/>
<line x1="375.2" y1="29.8" x2="376.6" y2="29.8" stroke="#9a9a9a" stroke-width="0.7"/>
<line x1="668.5" y1="29.8" x2="669.9" y2="29.8" stroke="#9a9a9a" stroke-width="0.7"/>
<line x1="375.2" y1="32.3" x2="376.6" y2="32.3" stroke="#9a9a9a" stroke-width="0.7"/>
<line x1="668.5" y1="32.3" x2="669.9" y2="32.3" stroke="#9a9a9a" stroke-width="0.7"/>
<line x1="375.2" y1="34.8" x2="376.6" y2="34.8" stroke="#9a9a9a" stroke-width="0.7"/>
<line x1="668.5" y1="34.8" x2="669.9" y2="34.8" stroke="#9a9a9a" stroke-width="0.7"/>
<line x1="375.2" y1="37.3" x2="376.6" y2="37.3" stroke="#9a9a9a" stroke-width="0.7"/>
<line x1="668.5" y1="37.3" x2="669.9" y2="37.3" stroke="#9a9a9a" stroke-width="0.7"/>
<line x1="375.2" y1="39.8" x2="376.6" y2="39.8" stroke="#9a9a9a" stroke-width="0.7"/>
<line x1="668.5" y1="39.8" x2="669.9" y2="39.8" stroke="#9a9a9a" stroke-width="0.7"/>
<line x1="375.2" y1="42.3" x2="376.6" y2="42.3" stroke="#9a9a9a" stroke-width="0.7"/>
<line x1="668.5" y1="42.3" x2="669.9" y2="42.3" stroke="#9a9a9a" stroke-width="0.7"/>
<line x1="375.2" y1="44.8" x2="376.6" y2="44.8" stroke="#9a9a9a" stroke-width="0.7"/>
<line x1="668.5" y1="44.8" x2="669.9" y2="44.8" stroke="#9a9a9a" stroke-width="0.7"/>
<line x1="375.2" y1="47.3" x2="376.6" y2="47.3" stroke="#9a9a9a" stroke-width="0.7"/>
<line x1="668.5" y1="47.3" x2="669.9" y2="47.3" stroke="#9a9a9a" stroke-width="0.7"/>
<line x1="375.2" y1="49.8" x2="376.6" y2="49.8" stroke="#9a9a9a" stroke-width="0.7"/>
<line x1="668.5" y1="49.8" x2="669.9" y2="49.8" stroke="#9a9a9a" stroke-width="0.7"/>
<line x1="375.2" y1="52.3" x2="376.6" y2="52.3" stroke="#9a9a9a" stroke-width="0.7"/>
<line x1="668.5" y1="52.3" x2="669.9" y2="52.3" stroke="#9a9a9a" stroke-width="0.7"/>
<rect x="372.8" y="55.7" width="3.0" height="40.7" fill="#5a5a5a"/>
<line x1="373.1" y1="55.7" x2="373.1" y2="96.4" stroke="#555" stroke-width="0.8"/>
<rect x="669.9" y="55.7" width="3.2" height="40.7" fill="#555555"/>
<line x1="672.5" y1="55.7" x2="672.5" y2="96.4" stroke="#555" stroke-width="0.8"/>
<line x1="375.2" y1="57.9" x2="376.6" y2="57.9" stroke="#9a9a9a" stroke-width="0.7"/>
<line x1="668.5" y1="57.9" x2="669.9" y2="57.9" stroke="#9a9a9a" stroke-width="0.7"/>
<line x1="375.2" y1="60.4" x2="376.6" y2="60.4" stroke="#9a9a9a" stroke-width="0.7"/>
<line x1="668.5" y1="60.4" x2="669.9" y2="60.4" stroke="#9a9a9a" stroke-width="0.7"/>
<line x1="375.2" y1="62.9" x2="376.6" y2="62.9" stroke="#9a9a9a" stroke-width="0.7"/>
<line x1="668.5" y1="62.9" x2="669.9" y2="62.9" stroke="#9a9a9a" stroke-width="0.7"/>
<line x1="375.2" y1="65.4" x2="376.6" y2="65.4" stroke="#9a9a9a" stroke-width="0.7"/>
<line x1="668.5" y1="65.4" x2="669.9" y2="65.4" stroke="#9a9a9a" stroke-width="0.7"/>
<line x1="375.2" y1="67.9" x2="376.6" y2="67.9" stroke="#9a9a9a" stroke-width="0.7"/>
<line x1="668.5" y1="67.9" x2="669.9" y2="67.9" stroke="#9a9a9a" stroke-width="0.7"/>
<line x1="375.2" y1="70.4" x2="376.6" y2="70.4" stroke="#9a9a9a" stroke-width="0.7"/>
<line x1="668.5" y1="70.4" x2="669.9" y2="70.4" stroke="#9a9a9a" stroke-width="0.7"/>
<line x1="375.2" y1="72.9" x2="376.6" y2="72.9" stroke="#9a9a9a" stroke-width="0.7"/>
<line x1="668.5" y1="72.9" x2="669.9" y2="72.9" stroke="#9a9a9a" stroke-width="0.7"/>
<line x1="375.2" y1="75.4" x2="376.6" y2="75.4" stroke="#9a9a9a" stroke-width="0.7"/>
<line x1="668.5" y1="75.4" x2="669.9" y2="75.4" stroke="#9a9a9a" stroke-width="0.7"/>
<line x1="375.2" y1="77.9" x2="376.6" y2="77.9" stroke="#9a9a9a" stroke-width="0.7"/>
<line x1="668.5" y1="77.9" x2="669.9" y2="77.9" stroke="#9a9a9a" stroke-width="0.7"/>
<line x1="375.2" y1="80.4" x2="376.6" y2="80.4" stroke="#9a9a9a" stroke-width="0.7"/>
<line x1="668.5" y1="80.4" x2="669.9" y2="80.4" stroke="#9a9a9a" stroke-width="0.7"/>
<line x1="375.2" y1="82.9" x2="376.6" y2="82.9" stroke="#9a9a9a" stroke-width="0.7"/>
<line x1="668.5" y1="82.9" x2="669.9" y2="82.9" stroke="#9a9a9a" stroke-width="0.7"/>
<line x1="375.2" y1="85.4" x2="376.6" y2="85.4" stroke="#9a9a9a" stroke-width="0.7"/>
<line x1="668.5" y1="85.4" x2="669.9" y2="85.4" stroke="#9a9a9a" stroke-width="0.7"/>
<line x1="375.2" y1="87.9" x2="376.6" y2="87.9" stroke="#9a9a9a" stroke-width="0.7"/>
<line x1="668.5" y1="87.9" x2="669.9" y2="87.9" stroke="#9a9a9a" stroke-width="0.7"/>
<line x1="375.2" y1="90.4" x2="376.6" y2="90.4" stroke="#9a9a9a" stroke-width="0.7"/>
<line x1="668.5" y1="90.4" x2="669.9" y2="90.4" stroke="#9a9a9a" stroke-width="0.7"/>
<line x1="375.2" y1="92.9" x2="376.6" y2="92.9" stroke="#9a9a9a" stroke-width="0.7"/>
<line x1="668.5" y1="92.9" x2="669.9" y2="92.9" stroke="#9a9a9a" stroke-width="0.7"/>
<rect x="372.8" y="96.4" width="2.6" height="41" fill="#8a8a8a"/>
<line x1="373.1" y1="96.4" x2="373.1" y2="137.4" stroke="#555" stroke-width="0.8"/>
<rect x="669.9" y="96.4" width="2.8" height="41" fill="#8a8a8a"/>
<line x1="672.5" y1="96.4" x2="672.5" y2="137.4" stroke="#555" stroke-width="0.8"/>
<line x1="375.2" y1="98.6" x2="376.6" y2="98.6" stroke="#9a9a9a" stroke-width="0.7"/>
<line x1="668.5" y1="98.6" x2="669.9" y2="98.6" stroke="#9a9a9a" stroke-width="0.7"/>
<line x1="375.2" y1="101.1" x2="376.6" y2="101.1" stroke="#9a9a9a" stroke-width="0.7"/>
<line x1="668.5" y1="101.1" x2="669.9" y2="101.1" stroke="#9a9a9a" stroke-width="0.7"/>
<line x1="375.2" y1="103.6" x2="376.6" y2="103.6" stroke="#9a9a9a" stroke-width="0.7"/>
<line x1="668.5" y1="103.6" x2="669.9" y2="103.6" stroke="#9a9a9a" stroke-width="0.7"/>
<line x1="375.2" y1="106.1" x2="376.6" y2="106.1" stroke="#9a9a9a" stroke-width="0.7"/>
<line x1="668.5" y1="106.1" x2="669.9" y2="106.1" stroke="#9a9a9a" stroke-width="0.7"/>
<line x1="375.2" y1="108.6" x2="376.6" y2="108.6" stroke="#9a9a9a" stroke-width="0.7"/>
<line x1="668.5" y1="108.6" x2="669.9" y2="108.6" stroke="#9a9a9a" stroke-width="0.7"/>
<line x1="375.2" y1="111.1" x2="376.6" y2="111.1" stroke="#9a9a9a" stroke-width="0.7"/>
<line x1="668.5" y1="111.1" x2="669.9" y2="111.1" stroke="#9a9a9a" stroke-width="0.7"/>
<line x1="375.2" y1="113.6" x2="376.6" y2="113.6" stroke="#9a9a9a" stroke-width="0.7"/>
<line x1="668.5" y1="113.6" x2="669.9" y2="113.6" stroke="#9a9a9a" stroke-width="0.7"/>
<line x1="375.2" y1="116.1" x2="376.6" y2="116.1" stroke="#9a9a9a" stroke-width="0.7"/>
<line x1="668.5" y1="116.1" x2="669.9" y2="116.1" stroke="#9a9a9a" stroke-width="0.7"/>
<line x1="375.2" y1="118.6" x2="376.6" y2="118.6" stroke="#9a9a9a" stroke-width="0.7"/>
<line x1="668.5" y1="118.6" x2="669.9" y2="118.6" stroke="#9a9a9a" stroke-width="0.7"/>
<line x1="375.2" y1="121.1" x2="376.6" y2="121.1" stroke="#9a9a9a" stroke-width="0.7"/>
<line x1="668.5" y1="121.1" x2="669.9" y2="121.1" stroke="#9a9a9a" stroke-width="0.7"/>
<line x1="375.2" y1="123.6" x2="376.6" y2="123.6" stroke="#9a9a9a" stroke-width="0.7"/>
<line x1="668.5" y1="123.6" x2="669.9" y2="123.6" stroke="#9a9a9a" stroke-width="0.7"/>
<line x1="375.2" y1="126.1" x2="376.6" y2="126.1" stroke="#9a9a9a" stroke-width="0.7"/>
<line x1="668.5" y1="126.1" x2="669.9" y2="126.1" stroke="#9a9a9a" stroke-width="0.7"/>
<line x1="375.2" y1="128.6" x2="376.6" y2="128.6" stroke="#9a9a9a" stroke-width="0.7"/>
<line x1="668.5" y1="128.6" x2="669.9" y2="128.6" stroke="#9a9a9a" stroke-width="0.7"/>
<line x1="375.2" y1="131.1" x2="376.6" y2="131.1" stroke="#9a9a9a" stroke-width="0.7"/>
<line x1="668.5" y1="131.1" x2="669.9" y2="131.1" stroke="#9a9a9a" stroke-width="0.7"/>
<line x1="375.2" y1="133.6" x2="376.6" y2="133.6" stroke="#9a9a9a" stroke-width="0.7"/>
<line x1="668.5" y1="133.6" x2="669.9" y2="133.6" stroke="#9a9a9a" stroke-width="0.7"/>
<line x1="375.2" y1="136.1" x2="376.6" y2="136.1" stroke="#9a9a9a" stroke-width="0.7"/>
<line x1="668.5" y1="136.1" x2="669.9" y2="136.1" stroke="#9a9a9a" stroke-width="0.7"/>
<rect x="372.8" y="137.4" width="2.6" height="40.6" fill="#8a8a8a"/>
<line x1="373.1" y1="137.4" x2="373.1" y2="178" stroke="#555" stroke-width="0.8"/>
<rect x="669.9" y="137.4" width="2.8" height="40.6" fill="#8a8a8a"/>
<line x1="672.5" y1="137.4" x2="672.5" y2="178" stroke="#555" stroke-width="0.8"/>
<line x1="375.2" y1="139.6" x2="376.6" y2="139.6" stroke="#9a9a9a" stroke-width="0.7"/>
<line x1="668.5" y1="139.6" x2="669.9" y2="139.6" stroke="#9a9a9a" stroke-width="0.7"/>
<line x1="375.2" y1="142.1" x2="376.6" y2="142.1" stroke="#9a9a9a" stroke-width="0.7"/>
<line x1="668.5" y1="142.1" x2="669.9" y2="142.1" stroke="#9a9a9a" stroke-width="0.7"/>
<line x1="375.2" y1="144.6" x2="376.6" y2="144.6" stroke="#9a9a9a" stroke-width="0.7"/>
<line x1="668.5" y1="144.6" x2="669.9" y2="144.6" stroke="#9a9a9a" stroke-width="0.7"/>
<line x1="375.2" y1="147.1" x2="376.6" y2="147.1" stroke="#9a9a9a" stroke-width="0.7"/>
<line x1="668.5" y1="147.1" x2="669.9" y2="147.1" stroke="#9a9a9a" stroke-width="0.7"/>
<line x1="375.2" y1="149.6" x2="376.6" y2="149.6" stroke="#9a9a9a" stroke-width="0.7"/>
<line x1="668.5" y1="149.6" x2="669.9" y2="149.6" stroke="#9a9a9a" stroke-width="0.7"/>
<line x1="375.2" y1="152.1" x2="376.6" y2="152.1" stroke="#9a9a9a" stroke-width="0.7"/>
<line x1="668.5" y1="152.1" x2="669.9" y2="152.1" stroke="#9a9a9a" stroke-width="0.7"/>
<line x1="375.2" y1="154.6" x2="376.6" y2="154.6" stroke="#9a9a9a" stroke-width="0.7"/>
<line x1="668.5" y1="154.6" x2="669.9" y2="154.6" stroke="#9a9a9a" stroke-width="0.7"/>
<line x1="375.2" y1="157.1" x2="376.6" y2="157.1" stroke="#9a9a9a" stroke-width="0.7"/>
<line x1="668.5" y1="157.1" x2="669.9" y2="157.1" stroke="#9a9a9a" stroke-width="0.7"/>
<line x1="375.2" y1="159.6" x2="376.6" y2="159.6" stroke="#9a9a9a" stroke-width="0.7"/>
<line x1="668.5" y1="159.6" x2="669.9" y2="159.6" stroke="#9a9a9a" stroke-width="0.7"/>
<line x1="375.2" y1="162.1" x2="376.6" y2="162.1" stroke="#9a9a9a" stroke-width="0.7"/>
<line x1="668.5" y1="162.1" x2="669.9" y2="162.1" stroke="#9a9a9a" stroke-width="0.7"/>
<line x1="375.2" y1="164.6" x2="376.6" y2="164.6" stroke="#9a9a9a" stroke-width="0.7"/>
<line x1="668.5" y1="164.6" x2="669.9" y2="164.6" stroke="#9a9a9a" stroke-width="0.7"/>
<line x1="375.2" y1="167.1" x2="376.6" y2="167.1" stroke="#9a9a9a" stroke-width="0.7"/>
<line x1="668.5" y1="167.1" x2="669.9" y2="167.1" stroke="#9a9a9a" stroke-width="0.7"/>
<line x1="375.2" y1="169.6" x2="376.6" y2="169.6" stroke="#9a9a9a" stroke-width="0.7"/>
<line x1="668.5" y1="169.6" x2="669.9" y2="169.6" stroke="#9a9a9a" stroke-width="0.7"/>
<line x1="375.2" y1="172.1" x2="376.6" y2="172.1" stroke="#9a9a9a" stroke-width="0.7"/>
<line x1="668.5" y1="172.1" x2="669.9" y2="172.1" stroke="#9a9a9a" stroke-width="0.7"/>
<line x1="375.2" y1="174.6" x2="376.6" y2="174.6" stroke="#9a9a9a" stroke-width="0.7"/>
<line x1="668.5" y1="174.6" x2="669.9" y2="174.6" stroke="#9a9a9a" stroke-width="0.7"/>
<rect x="372.8" y="178" width="3.0" height="40.3" fill="#1a1a1a"/>
<line x1="373.1" y1="178" x2="373.1" y2="218.3" stroke="#555" stroke-width="0.8"/>
<rect x="669.9" y="178" width="3.2" height="40.3" fill="#1a1a1a"/>
<line x1="672.5" y1="178" x2="672.5" y2="218.3" stroke="#555" stroke-width="0.8"/>
<line x1="375.2" y1="180.2" x2="376.6" y2="180.2" stroke="#9a9a9a" stroke-width="0.7"/>
<line x1="668.5" y1="180.2" x2="669.9" y2="180.2" stroke="#9a9a9a" stroke-width="0.7"/>
<line x1="375.2" y1="182.7" x2="376.6" y2="182.7" stroke="#9a9a9a" stroke-width="0.7"/>
<line x1="668.5" y1="182.7" x2="669.9" y2="182.7" stroke="#9a9a9a" stroke-width="0.7"/>
<line x1="375.2" y1="185.2" x2="376.6" y2="185.2" stroke="#9a9a9a" stroke-width="0.7"/>
<line x1="668.5" y1="185.2" x2="669.9" y2="185.2" stroke="#9a9a9a" stroke-width="0.7"/>
<line x1="375.2" y1="187.7" x2="376.6" y2="187.7" stroke="#9a9a9a" stroke-width="0.7"/>
<line x1="668.5" y1="187.7" x2="669.9" y2="187.7" stroke="#9a9a9a" stroke-width="0.7"/>
<line x1="375.2" y1="190.2" x2="376.6" y2="190.2" stroke="#9a9a9a" stroke-width="0.7"/>
<line x1="668.5" y1="190.2" x2="669.9" y2="190.2" stroke="#9a9a9a" stroke-width="0.7"/>
<line x1="375.2" y1="192.7" x2="376.6" y2="192.7" stroke="#9a9a9a" stroke-width="0.7"/>
<line x1="668.5" y1="192.7" x2="669.9" y2="192.7" stroke="#9a9a9a" stroke-width="0.7"/>
<line x1="375.2" y1="195.2" x2="376.6" y2="195.2" stroke="#9a9a9a" stroke-width="0.7"/>
<line x1="668.5" y1="195.2" x2="669.9" y2="195.2" stroke="#9a9a9a" stroke-width="0.7"/>
<line x1="375.2" y1="197.7" x2="376.6" y2="197.7" stroke="#9a9a9a" stroke-width="0.7"/>
<line x1="668.5" y1="197.7" x2="669.9" y2="197.7" stroke="#9a9a9a" stroke-width="0.7"/>
<line x1="375.2" y1="200.2" x2="376.6" y2="200.2" stroke="#9a9a9a" stroke-width="0.7"/>
<line x1="668.5" y1="200.2" x2="669.9" y2="200.2" stroke="#9a9a9a" stroke-width="0.7"/>
<line x1="375.2" y1="202.7" x2="376.6" y2="202.7" stroke="#9a9a9a" stroke-width="0.7"/>
<line x1="668.5" y1="202.7" x2="669.9" y2="202.7" stroke="#9a9a9a" stroke-width="0.7"/>
<line x1="375.2" y1="205.2" x2="376.6" y2="205.2" stroke="#9a9a9a" stroke-width="0.7"/>
<line x1="668.5" y1="205.2" x2="669.9" y2="205.2" stroke="#9a9a9a" stroke-width="0.7"/>
<line x1="375.2" y1="207.7" x2="376.6" y2="207.7" stroke="#9a9a9a" stroke-width="0.7"/>
<line x1="668.5" y1="207.7" x2="669.9" y2="207.7" stroke="#9a9a9a" stroke-width="0.7"/>
<line x1="375.2" y1="210.2" x2="376.6" y2="210.2" stroke="#9a9a9a" stroke-width="0.7"/>
<line x1="668.5" y1="210.2" x2="669.9" y2="210.2" stroke="#9a9a9a" stroke-width="0.7"/>
<line x1="375.2" y1="212.7" x2="376.6" y2="212.7" stroke="#9a9a9a" stroke-width="0.7"/>
<line x1="668.5" y1="212.7" x2="669.9" y2="212.7" stroke="#9a9a9a" stroke-width="0.7"/>
<line x1="375.2" y1="215.2" x2="376.6" y2="215.2" stroke="#9a9a9a" stroke-width="0.7"/>
<line x1="668.5" y1="215.2" x2="669.9" y2="215.2" stroke="#9a9a9a" stroke-width="0.7"/>
<rect x="372.8" y="218.3" width="3.0" height="40.9" fill="#5a5a5a"/>
<line x1="373.1" y1="218.3" x2="373.1" y2="259.2" stroke="#555" stroke-width="0.8"/>
<rect x="669.9" y="218.3" width="3.2" height="40.9" fill="#1a1a1a"/>
<line x1="672.5" y1="218.3" x2="672.5" y2="259.2" stroke="#555" stroke-width="0.8"/>
<line x1="375.2" y1="220.5" x2="376.6" y2="220.5" stroke="#9a9a9a" stroke-width="0.7"/>
<line x1="668.5" y1="220.5" x2="669.9" y2="220.5" stroke="#9a9a9a" stroke-width="0.7"/>
<line x1="375.2" y1="223" x2="376.6" y2="223" stroke="#9a9a9a" stroke-width="0.7"/>
<line x1="668.5" y1="223" x2="669.9" y2="223" stroke="#9a9a9a" stroke-width="0.7"/>
<line x1="375.2" y1="225.5" x2="376.6" y2="225.5" stroke="#9a9a9a" stroke-width="0.7"/>
<line x1="668.5" y1="225.5" x2="669.9" y2="225.5" stroke="#9a9a9a" stroke-width="0.7"/>
<line x1="375.2" y1="228" x2="376.6" y2="228" stroke="#9a9a9a" stroke-width="0.7"/>
<line x1="668.5" y1="228" x2="669.9" y2="228" stroke="#9a9a9a" stroke-width="0.7"/>
<line x1="375.2" y1="230.5" x2="376.6" y2="230.5" stroke="#9a9a9a" stroke-width="0.7"/>
<line x1="668.5" y1="230.5" x2="669.9" y2="230.5" stroke="#9a9a9a" stroke-width="0.7"/>
<line x1="375.2" y1="233" x2="376.6" y2="233" stroke="#9a9a9a" stroke-width="0.7"/>
<line x1="668.5" y1="233" x2="669.9" y2="233" stroke="#9a9a9a" stroke-width="0.7"/>
<line x1="375.2" y1="235.5" x2="376.6" y2="235.5" stroke="#9a9a9a" stroke-width="0.7"/>
<line x1="668.5" y1="235.5" x2="669.9" y2="235.5" stroke="#9a9a9a" stroke-width="0.7"/>
<line x1="375.2" y1="238" x2="376.6" y2="238" stroke="#9a9a9a" stroke-width="0.7"/>
<line x1="668.5" y1="238" x2="669.9" y2="238" stroke="#9a9a9a" stroke-width="0.7"/>
<line x1="375.2" y1="240.5" x2="376.6" y2="240.5" stroke="#9a9a9a" stroke-width="0.7"/>
<line x1="668.5" y1="240.5" x2="669.9" y2="240.5" stroke="#9a9a9a" stroke-width="0.7"/>
<line x1="375.2" y1="243" x2="376.6" y2="243" stroke="#9a9a9a" stroke-width="0.7"/>
<line x1="668.5" y1="243" x2="669.9" y2="243" stroke="#9a9a9a" stroke-width="0.7"/>
<line x1="375.2" y1="245.5" x2="376.6" y2="245.5" stroke="#9a9a9a" stroke-width="0.7"/>
<line x1="668.5" y1="245.5" x2="669.9" y2="245.5" stroke="#9a9a9a" stroke-width="0.7"/>
<line x1="375.2" y1="248" x2="376.6" y2="248" stroke="#9a9a9a" stroke-width="0.7"/>
<line x1="668.5" y1="248" x2="669.9" y2="248" stroke="#9a9a9a" stroke-width="0.7"/>
<line x1="375.2" y1="250.5" x2="376.6" y2="250.5" stroke="#9a9a9a" stroke-width="0.7"/>
<line x1="668.5" y1="250.5" x2="669.9" y2="250.5" stroke="#9a9a9a" stroke-width="0.7"/>
<line x1="375.2" y1="253" x2="376.6" y2="253" stroke="#9a9a9a" stroke-width="0.7"/>
<line x1="668.5" y1="253" x2="669.9" y2="253" stroke="#9a9a9a" stroke-width="0.7"/>
<line x1="375.2" y1="255.5" x2="376.6" y2="255.5" stroke="#9a9a9a" stroke-width="0.7"/>
<line x1="668.5" y1="255.5" x2="669.9" y2="255.5" stroke="#9a9a9a" stroke-width="0.7"/>
<line x1="375.2" y1="258" x2="376.6" y2="258" stroke="#9a9a9a" stroke-width="0.7"/>
<line x1="668.5" y1="258" x2="669.9" y2="258" stroke="#9a9a9a" stroke-width="0.7"/>
<rect x="372.8" y="259.2" width="2.6" height="34.7" fill="#8a8a8a"/>
<line x1="373.1" y1="259.2" x2="373.1" y2="293.9" stroke="#555" stroke-width="0.8"/>
<rect x="669.9" y="259.2" width="2.8" height="34.7" fill="#8a8a8a"/>
<line x1="672.5" y1="259.2" x2="672.5" y2="293.9" stroke="#555" stroke-width="0.8"/>
<line x1="375.2" y1="261.4" x2="376.6" y2="261.4" stroke="#9a9a9a" stroke-width="0.7"/>
<line x1="668.5" y1="261.4" x2="669.9" y2="261.4" stroke="#9a9a9a" stroke-width="0.7"/>
<line x1="375.2" y1="263.9" x2="376.6" y2="263.9" stroke="#9a9a9a" stroke-width="0.7"/>
<line x1="668.5" y1="263.9" x2="669.9" y2="263.9" stroke="#9a9a9a" stroke-width="0.7"/>
<line x1="375.2" y1="266.4" x2="376.6" y2="266.4" stroke="#9a9a9a" stroke-width="0.7"/>
<line x1="668.5" y1="266.4" x2="669.9" y2="266.4" stroke="#9a9a9a" stroke-width="0.7"/>
<line x1="375.2" y1="268.9" x2="376.6" y2="268.9" stroke="#9a9a9a" stroke-width="0.7"/>
<line x1="668.5" y1="268.9" x2="669.9" y2="268.9" stroke="#9a9a9a" stroke-width="0.7"/>
<line x1="375.2" y1="271.4" x2="376.6" y2="271.4" stroke="#9a9a9a" stroke-width="0.7"/>
<line x1="668.5" y1="271.4" x2="669.9" y2="271.4" stroke="#9a9a9a" stroke-width="0.7"/>
<line x1="375.2" y1="273.9" x2="376.6" y2="273.9" stroke="#9a9a9a" stroke-width="0.7"/>
<line x1="668.5" y1="273.9" x2="669.9" y2="273.9" stroke="#9a9a9a" stroke-width="0.7"/>
<line x1="375.2" y1="276.4" x2="376.6" y2="276.4" stroke="#9a9a9a" stroke-width="0.7"/>
<line x1="668.5" y1="276.4" x2="669.9" y2="276.4" stroke="#9a9a9a" stroke-width="0.7"/>
<line x1="375.2" y1="278.9" x2="376.6" y2="278.9" stroke="#9a9a9a" stroke-width="0.7"/>
<line x1="668.5" y1="278.9" x2="669.9" y2="278.9" stroke="#9a9a9a" stroke-width="0.7"/>
<line x1="375.2" y1="281.4" x2="376.6" y2="281.4" stroke="#9a9a9a" stroke-width="0.7"/>
<line x1="668.5" y1="281.4" x2="669.9" y2="281.4" stroke="#9a9a9a" stroke-width="0.7"/>
<line x1="375.2" y1="283.9" x2="376.6" y2="283.9" stroke="#9a9a9a" stroke-width="0.7"/>
<line x1="668.5" y1="283.9" x2="669.9" y2="283.9" stroke="#9a9a9a" stroke-width="0.7"/>
<line x1="375.2" y1="286.4" x2="376.6" y2="286.4" stroke="#9a9a9a" stroke-width="0.7"/>
<line x1="668.5" y1="286.4" x2="669.9" y2="286.4" stroke="#9a9a9a" stroke-width="0.7"/>
<line x1="375.2" y1="288.9" x2="376.6" y2="288.9" stroke="#9a9a9a" stroke-width="0.7"/>
<line x1="668.5" y1="288.9" x2="669.9" y2="288.9" stroke="#9a9a9a" stroke-width="0.7"/>
<line x1="375.2" y1="291.4" x2="376.6" y2="291.4" stroke="#9a9a9a" stroke-width="0.7"/>
<line x1="668.5" y1="291.4" x2="669.9" y2="291.4" stroke="#9a9a9a" stroke-width="0.7"/>
<line x1="375" y1="19.5" x2="378.5" y2="19.5" stroke="#555" stroke-width="0.9"/>
<line x1="666.5" y1="19.5" x2="670" y2="19.5" stroke="#555" stroke-width="0.9"/>
<line x1="375" y1="25.6" x2="378.5" y2="25.6" stroke="#555" stroke-width="0.9"/>
<line x1="666.5" y1="25.6" x2="670" y2="25.6" stroke="#555" stroke-width="0.9"/>
<line x1="375" y1="31.7" x2="378.5" y2="31.7" stroke="#555" stroke-width="0.9"/>
<line x1="666.5" y1="31.7" x2="670" y2="31.7" stroke="#555" stroke-width="0.9"/>
<line x1="375" y1="37.8" x2="378.5" y2="37.8" stroke="#555" stroke-width="0.9"/>
<line x1="666.5" y1="37.8" x2="670" y2="37.8" stroke="#555" stroke-width="0.9"/>
<line x1="375" y1="43.9" x2="378.5" y2="43.9" stroke="#555" stroke-width="0.9"/>
<line x1="666.5" y1="43.9" x2="670" y2="43.9" stroke="#555" stroke-width="0.9"/>
<line x1="375" y1="50" x2="378.5" y2="50" stroke="#555" stroke-width="0.9"/>
<line x1="666.5" y1="50" x2="670" y2="50" stroke="#555" stroke-width="0.9"/>
<line x1="375" y1="63.7" x2="378.5" y2="63.7" stroke="#555" stroke-width="0.9"/>
<line x1="666.5" y1="63.7" x2="670" y2="63.7" stroke="#555" stroke-width="0.9"/>
<line x1="375" y1="80.3" x2="378.5" y2="80.3" stroke="#555" stroke-width="0.9"/>
<line x1="666.5" y1="80.3" x2="670" y2="80.3" stroke="#555" stroke-width="0.9"/>
<line x1="375" y1="96.4" x2="378.5" y2="96.4" stroke="#555" stroke-width="0.9"/>
<line x1="666.5" y1="96.4" x2="670" y2="96.4" stroke="#555" stroke-width="0.9"/>
<line x1="375" y1="108.4" x2="378.5" y2="108.4" stroke="#555" stroke-width="0.9"/>
<line x1="666.5" y1="108.4" x2="670" y2="108.4" stroke="#555" stroke-width="0.9"/>
<line x1="375" y1="119.5" x2="378.5" y2="119.5" stroke="#555" stroke-width="0.9"/>
<line x1="666.5" y1="119.5" x2="670" y2="119.5" stroke="#555" stroke-width="0.9"/>
<line x1="375" y1="125.8" x2="378.5" y2="125.8" stroke="#555" stroke-width="0.9"/>
<line x1="666.5" y1="125.8" x2="670" y2="125.8" stroke="#555" stroke-width="0.9"/>
<line x1="375" y1="151.2" x2="378.5" y2="151.2" stroke="#555" stroke-width="0.9"/>
<line x1="666.5" y1="151.2" x2="670" y2="151.2" stroke="#555" stroke-width="0.9"/>
<line x1="375" y1="165.1" x2="378.5" y2="165.1" stroke="#555" stroke-width="0.9"/>
<line x1="666.5" y1="165.1" x2="670" y2="165.1" stroke="#555" stroke-width="0.9"/>
<line x1="375" y1="177" x2="378.5" y2="177" stroke="#555" stroke-width="0.9"/>
<line x1="666.5" y1="177" x2="670" y2="177" stroke="#555" stroke-width="0.9"/>
<line x1="375" y1="191.2" x2="378.5" y2="191.2" stroke="#555" stroke-width="0.9"/>
<line x1="666.5" y1="191.2" x2="670" y2="191.2" stroke="#555" stroke-width="0.9"/>
<line x1="375" y1="205.8" x2="378.5" y2="205.8" stroke="#555" stroke-width="0.9"/>
<line x1="666.5" y1="205.8" x2="670" y2="205.8" stroke="#555" stroke-width="0.9"/>
<line x1="375" y1="218.3" x2="378.5" y2="218.3" stroke="#555" stroke-width="0.9"/>
<line x1="666.5" y1="218.3" x2="670" y2="218.3" stroke="#555" stroke-width="0.9"/>
<line x1="375" y1="226.8" x2="378.5" y2="226.8" stroke="#555" stroke-width="0.9"/>
<line x1="666.5" y1="226.8" x2="670" y2="226.8" stroke="#555" stroke-width="0.9"/>
<line x1="375" y1="243.5" x2="378.5" y2="243.5" stroke="#555" stroke-width="0.9"/>
<line x1="666.5" y1="243.5" x2="670" y2="243.5" stroke="#555" stroke-width="0.9"/>
<line x1="375" y1="259.2" x2="378.5" y2="259.2" stroke="#555" stroke-width="0.9"/>
<line x1="666.5" y1="259.2" x2="670" y2="259.2" stroke="#555" stroke-width="0.9"/>
<line x1="375" y1="268.2" x2="378.5" y2="268.2" stroke="#555" stroke-width="0.9"/>
<line x1="666.5" y1="268.2" x2="670" y2="268.2" stroke="#555" stroke-width="0.9"/>
<line x1="375" y1="277.9" x2="378.5" y2="277.9" stroke="#555" stroke-width="0.9"/>
<line x1="666.5" y1="277.9" x2="670" y2="277.9" stroke="#555" stroke-width="0.9"/>
<line x1="375" y1="286.3" x2="378.5" y2="286.3" stroke="#555" stroke-width="0.9"/>
<line x1="666.5" y1="286.3" x2="670" y2="286.3" stroke="#555" stroke-width="0.9"/>
<polyline points="374,55.7 374.8,55.7 374.8,43.8 376.6,43.8 377,40 377.4,43.8 382.4,43.8 382.4,32.2 383.6,32.2 383.9,29 384.3,32.8 388.3,32.8 388.6,37.4 389.2,37.4 389.6,32.8 391.4,32.8 391.4,26.4 396.6,26.4 396.8,29 398.4,29 398.6,27.7 399.8,27.7 399.8,23.8 400.5,23.8 401.1,26.4 402,26.4 402,22 402,22 493.4,22 494,27 496.2,27 496.8,22 499.5,22 500.1,29.4 501.4,29.4 502,22 558.5,22 559.1,25.3 559.9,25.3 560.5,22 572,22 572.6,26.6 576.2,26.6 576.8,22 625.2,22 625.2,27.4 627,27.4 628,26.2 632,26.2 632.3,30 632.6,26.2 640.5,26.2 640.8,23 641.1,26.2 643.6,26.2 643.6,31.8 655.8,31.8 655.8,33.8 663.9,33.8 663.9,36.8 671.5,36.8" fill="none" stroke="#ff1a1a" stroke-width="1.0" stroke-linejoin="round" />
<polygon points="380,55.7 395,54.8 403,53.6 412,53.2 420,53.4 422,55.7" fill="#c4c4c4"/>
<polyline points="374,55.7 374.5,55.7 375,55.7 375.5,55.7 376,55.6 376.5,55.6 377,55.6 377.5,55.6 378,55.6 378.5,55.6 379,55.6 379.5,55.5 380,55.5 380.5,55.5 381,55.5 381.5,55.5 382,55.5 382.5,55.5 383,55.5 383.5,55.4 384,55.4 384.5,55.4 385,55.4 385.5,55.4 386,55.3 386.5,55.3 387,55.2 387.5,55.2 388,55.1 388.5,55.1 389,55 389.5,55 390,55 390.5,54.9 391,54.9 391.5,54.8 392,54.8 392.5,54.7 393,54.7 393.5,54.6 394,54.6 394.5,54.5 395,54.5 395.5,54.4 396,54.3 396.5,54.2 397,54.1 397.5,54 398,53.9 398.5,53.8 399,53.8 399.5,53.7 400,53.6 400.5,53.5 401,53.7 401.5,53.4 402,52.9 402.5,53.1 403,53.2 403.5,53 404,53 404.5,52.9 405,52.9 405.5,52.6 406,52.4 406.5,53.3 407,52.6 407.5,52.9 408,52.3 408.5,52.9 409,52.5 409.5,53.8 410,52.4 410.5,52.4 411,53.1 411.5,53.1 412,52 412.5,52.8 413,53 413.5,52.2 414,52.9 414.5,52.4 415,52.2 415.5,52.5 416,52.4 416.5,52.1 417,53.3 417.5,52.3 418,52.2 418.5,52.7 419,52.4 419.5,52.8 420,52.2 420.5,52.4 421,52.2 421.5,52.2 422,52 422.5,52 423,52.6 423.5,51.7 424,51.7 424.5,51.7 425,52 425.5,51.9 426,52 426.5,51.2 427,51.7 427.5,51.5 428,51.4 428.5,51.5 429,50.7 429.5,51.5 430,51.5 430.5,51 431,51.6 431.5,52.2 432,51.6 432.5,51.9 433,51.7 433.5,51.5 434,51.5 434.5,51.7 435,52.3 435.5,52.1 436,51.6 436.5,52.2 437,51.8 437.5,51.6 438,52 438.5,51.5 439,51.3 439.5,52.3 440,51.2 440.5,52.1 441,51.4 441.5,51.9 442,51.8 442.5,51.7 443,51.1 443.5,51.8 444,51.8 444.5,51.5 445,51.8 445.5,52.2 446,51.6 446.5,51.9 447,51.4 447.5,51.9 448,52 448.5,52.6 449,52.1 449.5,51.9 450,52.2 450.5,51.4 451,52.1 451.5,51.5 452,51.5 452.5,52 453,51.7 453.5,52.1 454,51.1 454.5,51.7 455,51.4 455.5,51.5 456,50.9 456.5,51.9 457,51.7 457.5,51.3 458,51.1 458.5,51.3 459,52.1 459.5,51.6 460,51.5 460.5,51.8 461,51.6 461.5,51.7 462,51.9 462.5,51.7 463,51.9 463.5,51.2 464,51.7 464.5,51.5 465,51.7 465.5,51.6 466,51.4 466.5,51.5 467,52 467.5,51.5 468,51.2 468.5,51.9 469,52 469.5,51.6 470,51.7 470.5,51.4 471,51.6 471.5,52 472,51.9 472.5,51.7 473,51.6 473.5,51.1 474,51.8 474.5,51.8 475,52 475.5,52.4 476,51.8 476.5,52 477,51.3 477.5,52.1 478,52 478.5,52.2 479,51.9 479.5,51.9 480,52.2 480.5,51.5 481,51.9 481.5,52.1 482,51.5 482.5,51.3 483,51.9 483.5,51.8 484,51.9 484.5,52 485,51.5 485.5,51.9 486,52.1 486.5,51.6 487,51.6 487.5,51.4 488,52 488.5,52.4 489,51.3 489.5,52 490,52.1 490.5,51.6 491,51.6 491.5,51.4 492,51.5 492.5,51.8 493,52 493.5,51.8 494,52.1 494.5,51.9 495,51.4 495.5,52.3 496,52.2 496.5,51.5 497,52.4 497.5,52 498,51.8 498.5,52.5 499,50.9 499.5,51.3 500,52 500.5,51.7 501,51.5 501.5,52.3 502,52 502.5,51.4 503,51.6 503.5,52.1 504,52.4 504.5,51.1 505,51.9 505.5,51.7 506,51.2 506.5,51.8 507,51.3 507.5,51.6 508,52.4 508.5,52 509,52.1 509.5,52 510,51.9 510.5,52.1 511,51.4 511.5,51.7 512,52.1 512.5,51.6 513,51.7 513.5,52.2 514,52.3 514.5,51.6 515,51.5 515.5,52 516,51.9 516.5,51.6 517,52 517.5,52 518,51.8 518.5,52.8 519,52.3 519.5,52.1 520,52.2 520.5,52.8 521,52.2 521.5,51.6 522,51.9 522.5,51.8 523,51.6 523.5,51.9 524,51.9 524.5,51.8 525,51.6 525.5,52.1 526,51.3 526.5,52.1 527,51.8 527.5,51.9 528,51 528.5,52.4 529,51.2 529.5,51.5 530,52 530.5,51.6 531,51.7 531.5,51.1 532,51.7 532.5,51.9 533,52 533.5,51.7 534,51.9 534.5,52 535,51.6 535.5,51.6 536,52.5 536.5,51.5 537,52.2 537.5,51.8 538,52.3 538.5,51.6 539,51.9 539.5,51.9 540,51.7 540.5,51.9 541,51.5 541.5,51.7 542,51.6 542.5,52 543,51.7 543.5,51.2 544,51.6 544.5,51.7 545,51.4 545.5,52.1 546,51.8 546.5,52 547,51.4 547.5,51.5 548,52 548.5,51.1 549,51.8 549.5,51.6 550,51.4 550.5,51.6 551,51.2 551.5,51.7 552,51.2 552.5,51.1 553,52 553.5,51.3 554,50.8 554.5,51.9 555,51.3 555.5,50.3 556,51.5 556.5,51.8 557,51.6 557.5,52.1 558,51.4 558.5,51.7 559,51.1 559.5,51.5 560,52 560.5,51.6 561,51.5 561.5,50.8 562,51.3 562.5,51 563,51.7 563.5,51.2 564,51.5 564.5,51.1 565,52 565.5,51 566,51.4 566.5,52.3 567,51.4 567.5,51.1 568,51.6 568.5,51.7 569,51.6 569.5,50.6 570,51.4 570.5,50.6 571,52 571.5,51.3 572,51.2 572.5,51.5 573,51.5 573.5,50.9 574,51.9 574.5,51.2 575,50.7 575.5,51.8 576,51.8 576.5,51.8 577,51.5 577.5,51 578,51.6 578.5,52 579,51.6 579.5,51.9 580,51 580.5,51.7 581,51.6 581.5,50.8 582,50.8 582.5,51.1 583,51.3 583.5,51.5 584,51.2 584.5,51.3 585,51.3 585.5,51.3 586,51.5 586.5,51.5 587,51.3 587.5,51.4 588,51.2 588.5,52.8 589,53.6 589.5,53.2 590,51.5 590.5,51.6 591,51.3 591.5,51.4 592,51.6 592.5,51.6 593,51.4 593.5,51.2 594,51.6 594.5,51.7 595,51.8 595.5,52.1 596,51.6 596.5,51 597,51.6 597.5,51.1 598,51.3 598.5,52.1 599,51.9 599.5,51.5 600,51.5 600.5,51.8 601,51.2 601.5,52 602,51.7 602.5,52.5 603,51.5 603.5,52.2 604,51.6 604.5,52.2 605,51.6 605.5,52.2 606,51.8 606.5,51.6 607,51.9 607.5,52.1 608,52.1 608.5,52.5 609,52.3 609.5,51.1 610,51.9 610.5,52.6 611,51.9 611.5,52.2 612,51.5 612.5,51.6 613,52.1 613.5,51.9 614,52.6 614.5,52.1 615,52.2 615.5,52.6 616,51.8 616.5,52 617,51.6 617.5,52.1 618,52.3 618.5,52.4 619,52 619.5,51.7 620,51.7 620.5,51.5 621,52 621.5,52.4 622,51.1 622.5,51.2 623,52.4 623.5,51.4 624,52 624.5,51.5 625,52.2 625.5,52.2 626,52 626.5,52.2 627,51.9 627.5,52.1 628,52.5 628.5,52.3 629,51.7 629.5,51.6 630,51.8 630.5,51.8 631,51.9 631.5,51.7 632,52.1 632.5,51.9 633,52 633.5,51.9 634,52.1 634.5,51.4 635,52.4 635.5,52 636,52 636.5,52.1 637,52.2 637.5,52.1 638,51.9 638.5,51.8 639,51.3 639.5,51.9 640,51.7 640.5,51.7 641,52.7 641.5,51.2 642,51.8 642.5,52.2 643,52.1 643.5,52.2 644,51.3 644.5,51.4 645,52 645.5,51.7 646,52.4 646.5,51.8 647,51.8 647.5,51.9 648,51.7 648.5,51.8 649,51.5 649.5,51.7 650,51.6 650.5,51.8 651,51.2 651.5,51.2 652,51.9 652.5,51.8 653,51.4 653.5,51.6 654,51.3 654.5,52.4 655,51.1 655.5,52.3 656,51.4 656.5,51.8 657,51.6 657.5,51.5 658,52 658.5,51.9 659,51.5 659.5,51.3 660,52.4 660.5,52.1 661,51.7 661.5,51.5 662,51.7 662.5,51.6 663,52 663.5,51.3 664,51.6 664.5,51.3 665,52.1 665.5,52.2 666,51.6 666.5,51.8 667,52.1 667.5,51.5 668,51.2 668.5,51.9 669,51.7 669.5,51.5 670,52.1 670.5,51.5 671,51.5 671.5,51.5" fill="none" stroke="#3a3a3a" stroke-width="0.9" stroke-linejoin="round" />
<polyline points="374,55.7 374.5,55.7 375,55.6 375.5,55.6 376,55.5 376.5,55.5 377,55.5 377.5,55.4 378,55.4 378.5,55.3 379,55.3 379.5,55.2 380,55.2 380.5,55.1 381,54.9 381.5,54.8 382,54.7 382.5,54.5 383,54.4 383.5,54.2 384,54.1 384.5,54 385,53.8 385.5,53.7 386,53.5 386.5,53.3 387,53.2 387.5,53 388,52.9 388.5,52.7 389,52.6 389.5,52.4 390,52.2 390.5,52.1 391,51.9 391.5,51.8 392,51.6 392.5,51.5 393,51.3 393.5,51.2 394,51 394.5,50.8 395,50.7 395.5,50.5 396,50.4 396.5,50.2 397,50.1 397.5,49.9 398,49.8 398.5,49.6 399,49.5 399.5,49.3 400,49.2 400.5,49 401,48.7 401.5,48.4 402,48.5 402.5,49.2 403,49.9 403.5,49.8 404,49.7 404.5,49.6 405,50.1 405.5,50.1 406,49.6 406.5,49.3 407,49 407.5,48.8 408,48.5 408.5,48.4 409,48.4 409.5,48.1 410,48.2 410.5,47.9 411,48.2 411.5,48 412,48.1 412.5,47.9 413,47.7 413.5,47.2 414,47 414.5,46.5 415,46.3 415.5,46.2 416,46.2 416.5,46.2 417,45.6 417.5,45.8 418,45.4 418.5,45.6 419,45.5 419.5,46.2 420,46.3 420.5,46.4 421,46 421.5,46.3 422,46.6 422.5,47.5 423,47.9 423.5,47.3 424,46.5 424.5,45.8 425,46.3 425.5,46.4 426,46 426.5,45.6 427,45.4 427.5,45.5 428,45.3 428.5,44.6 429,43.9 429.5,43.5 430,43.3 430.5,43 431,42.5 431.5,42.2 432,42.2 432.5,41.9 433,41.5 433.5,41.6 434,42.2 434.5,43.5 435,44.2 435.5,45 436,45.1 436.5,44.8 437,44.5 437.5,44.2 438,44.5 438.5,44.2 439,44.9 439.5,44.8 440,45 440.5,44.9 441,45.5 441.5,45.3 442,45 442.5,44.5 443,44.7 443.5,44.7 444,44.5 444.5,44.2 445,44.2 445.5,43.8 446,43.9 446.5,43.7 447,43.9 447.5,43.9 448,43.5 448.5,43.9 449,44 449.5,44.6 450,44.8 450.5,45.1 451,44.8 451.5,44.7 452,44.8 452.5,44.6 453,44.9 453.5,45 454,45.5 454.5,45 455,45.2 455.5,45.6 456,46.1 456.5,45.5 457,44.9 457.5,44.7 458,45.1 458.5,44.9 459,45 459.5,44.8 460,44.8 460.5,44.5 461,44.6 461.5,44.7 462,44.7 462.5,44.7 463,44.2 463.5,44.2 464,43.9 464.5,44.4 465,44.2 465.5,44.5 466,43.8 466.5,43.9 467,43.7 467.5,44.2 468,43.9 468.5,43.3 469,43.3 469.5,43.2 470,43.6 470.5,43.3 471,43.6 471.5,44.1 472,44.6 472.5,44.9 473,44 473.5,43.7 474,43.5 474.5,43.9 475,44.1 475.5,43.7 476,43.9 476.5,43.6 477,43.8 477.5,44.2 478,43.9 478.5,44.1 479,43.7 479.5,43.5 480,43.2 480.5,43 481,43.7 481.5,44.3 482,44.7 482.5,44.6 483,43.9 483.5,43.8 484,43.7 484.5,44.5 485,44.8 485.5,45.5 486,45.4 486.5,45.3 487,44.5 487.5,44.4 488,43.9 488.5,44.4 489,44.1 489.5,44.4 490,44 490.5,44.1 491,44.2 491.5,44.2 492,44.4 492.5,43.9 493,44.4 493.5,44.1 494,44.5 494.5,44.7 495,44.2 495.5,43.6 496,43 496.5,43.8 497,43.9 497.5,44 498,43.4 498.5,43.6 499,43.2 499.5,43.5 500,42.6 500.5,42.4 501,42.6 501.5,43.3 502,43.5 502.5,43.5 503,43.7 503.5,44.1 504,43.4 504.5,43.2 505,43 505.5,42.7 506,42.6 506.5,42.4 507,43 507.5,43.2 508,43.1 508.5,42.7 509,42.5 509.5,42.9 510,43.1 510.5,43.1 511,43.2 511.5,43.5 512,43.9 512.5,43.9 513,43.6 513.5,43 514,43.2 514.5,43.4 515,43.9 515.5,43.7 516,43.5 516.5,43.6 517,43.1 517.5,43.4 518,43.4 518.5,44.6 519,44.9 519.5,45.1 520,44.8 520.5,45 521,44.9 521.5,44.9 522,44.7 522.5,45.6 523,45.8 523.5,45.5 524,45.1 524.5,45.9 525,46.2 525.5,46.9 526,46.2 526.5,46.7 527,45.6 527.5,45.5 528,44.9 528.5,44.8 529,44.3 529.5,44.8 530,44.8 530.5,45.3 531,45.1 531.5,45.2 532,45.1 532.5,44.9 533,44.9 533.5,44.9 534,44.9 534.5,44.7 535,44.4 535.5,44.1 536,44.3 536.5,45 537,45.6 537.5,45.7 538,45.6 538.5,45.2 539,45.4 539.5,45.2 540,45.3 540.5,45 541,45 541.5,45.3 542,45.1 542.5,45.1 543,44.5 543.5,45.1 544,45.5 544.5,45.6 545,44.7 545.5,44.4 546,44.6 546.5,44.9 547,44.7 547.5,44.5 548,44.4 548.5,44.6 549,44.8 549.5,45.4 550,45 550.5,44.7 551,44.5 551.5,44.9 552,44.8 552.5,45.4 553,45.3 553.5,45 554,45.1 554.5,45.1 555,45.5 555.5,45.1 556,44.6 556.5,44.8 557,44.2 557.5,44.4 558,44.7 558.5,45.6 559,45.8 559.5,45.2 560,45.1 560.5,45.2 561,45.5 561.5,45.4 562,45.1 562.5,45.3 563,44.6 563.5,45.2 564,44.6 564.5,44.9 565,44.4 565.5,45 566,45.3 566.5,45.5 567,45.5 567.5,45.4 568,45.3 568.5,44.7 569,43.9 569.5,43.4 570,43.8 570.5,44.3 571,44.9 571.5,44.9 572,44.9 572.5,44.7 573,44.2 573.5,43.8 574,44.3 574.5,44.9 575,45.1 575.5,44.7 576,44.6 576.5,45.3 577,45.2 577.5,45.1 578,45 578.5,44.7 579,44.5 579.5,44.1 580,44.4 580.5,45.1 581,45.3 581.5,45.5 582,44.7 582.5,44.7 583,44.8 583.5,44.9 584,44.6 584.5,44 585,44.1 585.5,44.5 586,45.1 586.5,45.2 587,45.2 587.5,44.8 588,44.5 588.5,44.6 589,44.8 589.5,44.8 590,44.6 590.5,44.7 591,45.1 591.5,45 592,44.6 592.5,44.6 593,45 593.5,45.1 594,44.9 594.5,44.5 595,44.2 595.5,44.4 596,44.3 596.5,44.8 597,44.8 597.5,45.2 598,45.5 598.5,45.4 599,45 599.5,44.5 600,44.6 600.5,44.8 601,44.5 601.5,44.7 602,44.7 602.5,44.3 603,44.1 603.5,44.2 604,45 604.5,45 605,44.7 605.5,44.7 606,44.7 606.5,44.9 607,44.8 607.5,45.1 608,45.1 608.5,44.7 609,44.8 609.5,44.7 610,44.8 610.5,45.1 611,45.4 611.5,45.2 612,44.6 612.5,44.3 613,44.3 613.5,43.9 614,44.2 614.5,44.5 615,45.1 615.5,44.8 616,44.6 616.5,44.7 617,44.5 617.5,44.3 618,44 618.5,44.4 619,44.6 619.5,44.3 620,44 620.5,44.4 621,44.4 621.5,44.6 622,44 622.5,44.5 623,44.4 623.5,44.5 624,43.8 624.5,43.8 625,44.1 625.5,44.5 626,44.2 626.5,44.4 627,44.1 627.5,44.2 628,43.8 628.5,43.7 629,43.8 629.5,43.6 630,43.7 630.5,43.7 631,43.4 631.5,43.5 632,43.5 632.5,44.2 633,44.2 633.5,44.5 634,44.2 634.5,44.4 635,44.2 635.5,43.9 636,43.6 636.5,43 637,43.1 637.5,43.1 638,43.7 638.5,44.1 639,44.2 639.5,44.3 640,43.9 640.5,43.9 641,43.7 641.5,43.7 642,43.6 642.5,43.9 643,44.5 643.5,44.3 644,43.6 644.5,43.3 645,43.6 645.5,44.1 646,44.3 646.5,44.4 647,44.3 647.5,43.7 648,43 648.5,43.2 649,43.5 649.5,44 650,43.5 650.5,43.2 651,42.7 651.5,42.6 652,42.5 652.5,42.5 653,42.9 653.5,43.3 654,43.9 654.5,44 655,43.7 655.5,43.6 656,43.8 656.5,43.9 657,43.9 657.5,43.7 658,43.7 658.5,43.7 659,43.6 659.5,44 660,43.6 660.5,44.1 661,43.5 661.5,44.4 662,44.5 662.5,44.7 663,44.3 663.5,43.9 664,44.1 664.5,44.4 665,45.4 665.5,45.2 666,45.4 666.5,44.7 667,45.2 667.5,45.2 668,45.5 668.5,45.6 669,45.4 669.5,45.4 670,45.4 670.5,45.8 671,45.5 671.5,45.6" fill="none" stroke="#1f1fff" stroke-width="1.25" stroke-linejoin="round" />
<path d="M595.8 38.5 L600.4 49.3 M597.4 45.6 L600.4 49.6 L601.4 44.8" stroke="#111" stroke-width="1" fill="none"/>
<polyline points="374,86 375.5,86.6 401.6,86.6 401.6,95.4 404,95.4 404.3,93.3 406.6,92.7 406.6,89.3 408.6,89.3 408.6,86.6 566.6,86.6 566.6,92 599.8,92 599.8,79.1 651.7,79.1 651.7,96 654.4,96 654.4,81.1 671.5,84.5" fill="none" stroke="#ff1a1a" stroke-width="1.4" stroke-linejoin="round" />
<polyline points="377,95.5 377.3,92.7 377.7,91.1 378,89.5 378.3,90.9 378.6,92 379,90.1 379.3,83.9 379.6,86.4 380,82.6 380.3,86.4 380.6,88.5 381,86 381.3,86.9 381.6,83.5 381.9,77.5 382.3,77.5 382.6,83.7 382.9,85.9 383.3,88.2 383.6,82.8 383.9,84.2 384.3,84.8 384.6,87.5 384.9,83.7 385.2,80.4 385.6,87.5 385.9,85.3 386.2,85.2 386.6,79.8 386.9,83.9 387.2,78.3 387.6,77.4 387.9,83.2 388.2,82.5 388.5,85.8 388.9,88.7 389.2,83.8 389.5,89.8 389.9,82 390.2,86.4 390.5,79.8 390.9,84.3 391.2,82.9 391.5,83.2 391.8,85.9 392.2,77.7 392.5,84.3 392.8,81.2 393.2,84.3 393.5,85.2 393.8,82.7 394.2,82.7 394.5,80.1 394.8,85.7 395.1,81.7 395.5,85.4 395.8,79.2 396.1,88.4 396.5,80.5 396.8,87.7 397.1,82.4 397.5,85.7 397.8,83.4 398.1,86.1 398.4,83.9 398.8,88 399.1,86.1 399.4,86.1 399.8,89.4 400.1,81.6 400.4,88.1 400.8,84.1 401.1,79 401.4,85.4 401.7,83.2 402.1,89.4 402.4,82.2 402.7,84 403.1,84.6 403.4,77.6 403.7,85.5 404.1,80.6 404.4,88.5 404.7,89.3 405,83.8 405.4,78.6 405.7,84.4 406,84.4 406.4,86.2 406.7,82.8 407,79.9 407.4,83.4 407.7,80.8 408,89.6 408.3,81.5 408.7,81.7 409,83.7 409.3,79.7 409.7,82.3 410,83.4 410.3,82.3 410.7,83.2 411,88.2 411.3,85.7 411.6,80.1 412,83.2 412.3,87 412.6,82.7 413,85.1 413.3,84.9 413.6,86.8 414,84.7 414.3,84.9 414.6,82.8 414.9,86.7 415.3,82.9 415.6,91.1 415.9,85.9 416.3,85.3 416.6,88.4 416.9,85.7 417.3,86.3 417.6,85.8 417.9,83.9 418.2,83.3 418.6,84 418.9,89.3 419.2,84.2 419.6,84.8 419.9,84.7 420.2,88 420.6,91.7 420.9,83.3 421.2,87.6 421.5,86.3 421.9,85.1 422.2,87.4 422.5,82.4 422.9,88.4 423.2,86.6 423.5,83.1 423.9,90.6 424.2,88.4 424.5,89.3 424.8,81.8 425.2,85.2 425.5,84.5 425.8,87.8 426.2,89.9 426.5,80.5 426.8,86.1 427.2,85.6 427.5,88.9 427.8,85.9 428.1,82.4 428.5,85.4 428.8,83 429.1,83.8 429.5,86.1 429.8,84.6 430.1,86.8 430.5,81.7 430.8,92.6 431.1,89.6 431.4,88.1 431.8,82.3 432.1,79.8 432.4,83.5 432.8,85.3 433.1,92.4 433.4,89.7 433.8,84.5 434.1,89.5 434.4,89.5 434.7,86 435.1,89.5 435.4,86.9 435.7,84.1 436.1,82.6 436.4,85.6 436.7,88.9 437.1,82.1 437.4,81.4 437.7,87.6 438,78.2 438.4,91.2 438.7,84.7 439,88.1 439.4,91.3 439.7,81.8 440,83 440.4,92.4 440.7,85.2 441,85.6 441.3,86.7 441.7,89 442,89.8 442.3,86.3 442.7,85 443,85.9 443.3,86.9 443.7,89.7 444,86.4 444.3,91.2 444.6,83.5 445,87.5 445.3,91 445.6,89.7 446,87 446.3,83.5 446.6,84 447,85.6 447.3,86.9 447.6,85.3 447.9,81.8 448.3,83.9 448.6,87.5 448.9,88.4 449.3,82 449.6,85 449.9,81.2 450.3,84.4 450.6,96.1 450.9,86.2 451.2,85 451.6,84.3 451.9,82.5 452.2,80.7 452.6,85.9 452.9,85.2 453.2,90.2 453.6,81.3 453.9,87.2 454.2,89.8 454.5,80.4 454.9,87.9 455.2,81.4 455.5,87.5 455.9,90.2 456.2,86 456.5,86.8 456.9,84 457.2,86.8 457.5,89.2 457.8,85.5 458.2,85.6 458.5,87.1 458.8,88.4 459.2,81.3 459.5,86.2 459.8,84 460.2,87.4 460.5,89 460.8,86.9 461.1,89.7 461.5,83.2 461.8,84.8 462.1,83.2 462.5,86.2 462.8,86.3 463.1,85.4 463.5,82.5 463.8,85.8 464.1,84.7 464.4,87.7 464.8,85.2 465.1,89.3 465.4,86.7 465.8,80.7 466.1,85.5 466.4,81.9 466.8,88.8 467.1,90.1 467.4,85.9 467.7,87.3 468.1,81.9 468.4,79.6 468.7,84.4 469.1,85.3 469.4,81.7 469.7,86.3 470.1,86.9 470.4,87.8 470.7,90.4 471,88.3 471.4,85 471.7,86.3 472,87.7 472.4,83 472.7,89.8 473,88.6 473.4,85.4 473.7,84.2 474,96.4 474.3,88.4 474.7,88.7 475,91.2 475.3,88.8 475.7,86.6 476,88 476.3,83.4 476.7,88.1 477,81.6 477.3,87.2 477.6,87.6 478,81.5 478.3,91.5 478.6,82.7 479,89 479.3,84.5 479.6,86.9 480,84.1 480.3,93.2 480.6,89 480.9,91.2 481.3,88.3 481.6,88 481.9,86.5 482.3,85.4 482.6,87.8 482.9,86.5 483.3,85.6 483.6,82.1 483.9,85.2 484.2,87.8 484.6,84.7 484.9,87.1 485.2,85.6 485.6,83.1 485.9,83.5 486.2,83.9 486.6,85.2 486.9,85.3 487.2,89.3 487.5,82.9 487.9,80.2 488.2,88 488.5,84.8 488.9,85.7 489.2,93.4 489.5,90.3 489.9,87.8 490.2,88.8 490.5,86.4 490.8,88.8 491.2,84.3 491.5,84 491.8,84.7 492.2,90.6 492.5,90.5 492.8,84.3 493.2,89.4 493.5,85.6 493.8,89.2 494.1,85.2 494.5,88.8 494.8,85.8 495.1,85.3 495.5,86 495.8,86.5 496.1,84.4 496.5,82.2 496.8,91 497.1,85 497.4,80.9 497.8,79.6 498.1,78 498.4,84.3 498.8,90 499.1,81.4 499.4,85.2 499.8,80.8 500.1,89.3 500.4,87.2 500.7,87 501.1,90 501.4,90.8 501.7,89.1 502.1,84.4 502.4,82.3 502.7,83.1 503.1,81.1 503.4,91.3 503.7,85.6 504,86.5 504.4,86.7 504.7,91.9 505,84.5 505.4,89.5 505.7,87 506,85.7 506.4,80.6 506.7,88.8 507,84 507.3,84.8 507.7,86.8 508,86.4 508.3,89.4 508.7,84.2 509,86.6 509.3,86.9 509.7,86.2 510,88.1 510.3,85.4 510.6,89.6 511,84.1 511.3,82 511.6,86 512,89.5 512.3,84.6 512.6,84.3 513,85.1 513.3,86.6 513.6,85.6 513.9,87 514.3,81.2 514.6,90.4 514.9,87.8 515.3,83.6 515.6,90.1 515.9,87.4 516.3,90.4 516.6,82.7 516.9,90.9 517.2,86.3 517.6,80.2 517.9,88.3 518.2,85.3 518.6,83.2 518.9,85.5 519.2,80.5 519.6,87.8 519.9,85.5 520.2,85.3 520.5,90.2 520.9,86.2 521.2,84.2 521.5,83.4 521.9,85.9 522.2,89.2 522.5,84.4 522.9,83.1 523.2,88.8 523.5,86.3 523.8,86 524.2,92.1 524.5,82.6 524.8,86.7 525.2,81 525.5,85.3 525.8,87.8 526.2,89.4 526.5,82.5 526.8,88.5 527.1,88.4 527.5,85.8 527.8,93.2 528.1,86.1 528.5,83.6 528.8,87.3 529.1,80.7 529.5,90.6 529.8,89 530.1,85 530.4,87.9 530.8,87.7 531.1,91.7 531.4,84.3 531.8,82.4 532.1,80.3 532.4,85.3 532.8,81.6 533.1,85.6 533.4,87.3 533.7,84.8 534.1,83.4 534.4,89.6 534.7,85.5 535.1,86.8 535.4,88.9 535.7,82.4 536.1,83.5 536.4,93.3 536.7,85.7 537,83.1 537.4,85.4 537.7,84.5 538,82.6 538.4,84.9 538.7,86.1 539,86.1 539.4,87.7 539.7,81.1 540,81.8 540.3,88.4 540.7,84.8 541,89.6 541.3,87 541.7,82.1 542,87.7 542.3,83.2 542.7,86.9 543,89.7 543.3,92.2 543.6,85.9 544,88.1 544.3,87 544.6,88.4 545,78.8 545.3,85 545.6,87 546,87.5 546.3,83.9 546.6,88.5 546.9,89.3 547.3,86.3 547.6,85.5 547.9,85.1 548.3,86.5 548.6,89.5 548.9,90.4 549.3,84.8 549.6,83.4 549.9,83.8 550.2,89 550.6,86.8 550.9,87 551.2,87.5 551.6,87.2 551.9,85.8 552.2,83.1 552.6,84.3 552.9,86.5 553.2,87.2 553.5,85.1 553.9,84.9 554.2,90 554.5,84.8 554.9,86.8 555.2,85.2 555.5,83.6 555.9,81.8 556.2,84.6 556.5,83.8 556.8,88.6 557.2,82.8 557.5,84.9 557.8,88 558.2,85.8 558.5,87.5 558.8,88.5 559.2,81.4 559.5,84.9 559.8,83.4 560.1,90 560.5,85.8 560.8,87.5 561.1,91 561.5,85.1 561.8,86.3 562.1,87.3 562.5,85.4 562.8,89.7 563.1,88.5 563.4,89 563.8,86.3 564.1,85.1 564.4,85.1 564.8,85.1 565.1,81.4 565.4,87.2 565.8,88.4 566.1,86.1 566.4,84.7 566.7,86.2 567.1,86.8 567.4,87 567.7,91.2 568.1,83.7 568.4,87.2 568.7,88.1 569.1,86.3 569.4,85.4 569.7,83.2 570,84.4 570.4,88.1 570.7,90.2 571,84.2 571.4,87.5 571.7,87.6 572,89 572.4,86.8 572.7,87.4 573,88.7 573.3,82.8 573.7,86.2 574,81.1 574.3,80.5 574.7,83.8 575,81.7 575.3,87.5 575.7,88.9 576,85.2 576.3,85.7 576.6,85.4 577,85.4 577.3,86.5 577.6,87.1 578,84.8 578.3,83.9 578.6,84.6 579,88.4 579.3,84.9 579.6,90.2 579.9,85.4 580.3,90 580.6,82.7 580.9,84.1 581.3,87.5 581.6,87.5 581.9,85.7 582.3,91.9 582.6,86.3 582.9,86.9 583.2,84.5 583.6,90.8 583.9,88.5 584.2,87.3 584.6,81.5 584.9,87.1 585.2,84.8 585.6,87.2 585.9,88.7 586.2,84 586.5,86.7 586.9,88.6 587.2,86.6 587.5,85.2 587.9,83.1 588.2,84.2 588.5,82.5 588.9,88.9 589.2,86.4 589.5,82.7 589.8,86.1 590.2,82.5 590.5,76.8 590.8,89.5 591.2,89.4 591.5,81.9 591.8,84.1 592.2,86.7 592.5,85 592.8,83.7 593.1,84.6 593.5,85.4 593.8,84.5 594.1,86.7 594.5,85.4 594.8,83.9 595.1,86.2 595.5,81.4 595.8,90.1 596.1,81.2 596.4,85.9 596.8,87 597.1,87.2 597.4,86.8 597.8,89.6 598.1,82.9 598.4,85.9 598.8,86.5 599.1,84.7 599.4,84.4 599.7,89.7 600.1,84.1 600.4,84.7 600.7,85.3 601.1,85.5 601.4,86.5 601.7,85.5 602.1,87.1 602.4,86.5 602.7,87.4 603,89.9 603.4,83.7 603.7,90.7 604,84.8 604.4,87.9 604.7,86.5 605,85.2 605.4,80.6 605.7,90.6 606,84 606.3,83.9 606.7,89 607,86.3 607.3,91.4 607.7,90.8 608,88 608.3,86.8 608.7,88.2 609,82.4 609.3,86.5 609.6,86.5 610,84.7 610.3,86.8 610.6,82 611,88.6 611.3,89.7 611.6,82.5 612,86.5 612.3,90.4 612.6,87.2 612.9,83.2 613.3,83.3 613.6,88.4 613.9,91.2 614.3,83 614.6,86.2 614.9,83.9 615.3,85.3 615.6,86.9 615.9,85.9 616.2,84.1 616.6,91.9 616.9,85.6 617.2,85.6 617.6,89.1 617.9,86.1 618.2,85.5 618.6,88.7 618.9,83.2 619.2,88.1 619.5,88.9 619.9,87.9 620.2,85.6 620.5,86 620.9,81.3 621.2,85.7 621.5,86.9 621.9,88.5 622.2,86.4 622.5,85 622.8,83.7 623.2,85.9 623.5,86.4 623.8,89.4 624.2,86.1 624.5,84.7 624.8,85.8 625.2,84.7 625.5,85.4 625.8,79.9 626.1,81.6 626.5,82.7 626.8,87.3 627.1,85.8 627.5,86.5 627.8,89.3 628.1,83.2 628.5,89.2 628.8,87.1 629.1,84.1 629.4,90.2 629.8,82.1 630.1,82.9 630.4,85.5 630.8,87.2 631.1,85.5 631.4,80.1 631.8,85.2 632.1,85.8 632.4,93.1 632.7,89.9 633.1,86.4 633.4,83 633.7,87 634.1,82.8 634.4,86.6 634.7,87.1 635.1,84.9 635.4,86.7 635.7,85.1 636,84.5 636.4,90.3 636.7,87.7 637,85.2 637.4,83.9 637.7,86.5 638,87.6 638.4,88.4 638.7,90.1 639,87.3 639.3,83 639.7,91.7 640,89.3 640.3,88.4 640.7,89.9 641,82 641.3,85.2 641.7,84.8 642,89.8 642.3,83 642.6,85.5 643,91 643.3,88.5 643.6,85.4 644,92.3 644.3,82.7 644.6,88.1 645,86.1 645.3,88.4 645.6,86 645.9,84.3 646.3,87.7 646.6,82.9 646.9,88.8 647.3,86.1 647.6,90.1 647.9,85.8 648.3,85.1 648.6,88.6 648.9,91.4 649.2,80.6 649.6,87.9 649.9,89.6 650.2,82.8 650.6,84.7 650.9,89.9 651.2,85.1 651.6,85.8 651.9,93.8 652.2,84.9 652.5,85.3 652.9,80.5 653.2,84.7 653.5,84.3 653.9,94.3 654.2,92.7 654.5,84.4 654.9,95.3 655.2,91.4 655.5,88.3 655.8,91.7 656.2,90.4 656.5,86.6 656.8,83.3 657.2,86.3 657.5,89.4 657.8,88.3 658.2,87.1 658.5,92.9 658.8,86.2 659.1,92.8 659.5,88.3 659.8,90.3 660.1,86.4 660.5,90.3 660.8,88 661.1,85 661.5,91 661.8,91.2 662.1,94.3 662.4,92.8 662.8,88.6 663.1,90.2 663.4,84.2 663.8,89 664.1,96.4 664.4,96.4 664.8,96 665.1,94.7 665.4,95.9" fill="none" stroke="#1f1fff" stroke-width="1.1" stroke-linejoin="round" />
<polyline points="374,124.9 374.5,124.5 375,124.4 375.5,124.2 376,124.2 376.5,124.1 377,123.6 377.5,123.2 378,122.8 378.5,122.3 379,122.2 379.5,122 380,121.9 380.5,122.1 381,122 381.5,121.8 382,121.7 382.5,121.1 383,120.9 383.5,120.8 384,120.6 384.5,120.6 385,120.5 385.5,120.2 386,119.9 386.5,119.9 387,119.5 387.5,119.5 388,119.4 388.5,119 389,118.7 389.5,118.4 390,118.2 390.5,117.9 391,118 391.5,117.8 392,117.4 392.5,117.3 393,116.9 393.5,116.5 394,116.5 394.5,116.3 395,116.2 395.5,116.1 396,115.8 396.5,115.6 397,115.5 397.5,115.3 398,115.4 398.5,115.4 399,115 399.5,115.1 400,114.7 400.5,114.4 401,114.2 401.5,114.1 402,114.2 402.5,114 403,114.1 403.5,113.6 404,113.2 404.5,113 405,112.9 405.5,112.9 406,113 406.5,112.7 407,112.4 407.5,112.3 408,112.1 408.5,111.8 409,111.7 409.5,111.6 410,111.6 410.5,111.8 411,111.4 411.5,111.1 412,110.9 412.5,110.7 413,110.9 413.5,110.8 414,110.6 414.5,110.8 415,110.5 415.5,110.9 416,110.8 416.5,110.7 417,110.6 417.5,110.2 418,110.1 418.5,109.8 419,109.6 419.5,109.6 420,109.5 420.5,109.3 421,109.2 421.5,109 422,109 422.5,109.3 423,109.3 423.5,109.4 424,109.3 424.5,109 425,109.1 425.5,109.1 426,109.1 426.5,109.2 427,109.1 427.5,108.9 428,108.6 428.5,108.4 429,108.4 429.5,108.3 430,108.5 430.5,108.6 431,108.7 431.5,108.8 432,108.8 432.5,108.7 433,108.7 433.5,108.7 434,108.6 434.5,108.6 435,108.3 435.5,108 436,108.1 436.5,108.1 437,108.3 437.5,108.4 438,108.1 438.5,108.4 439,108.2 439.5,108.1 440,108.2 440.5,107.6 441,107.6 441.5,107.5 442,107.4 442.5,107.4 443,107.7 443.5,107.6 444,107.6 444.5,107.8 445,107.8 445.5,107.8 446,107.4 446.5,107.3 447,107.2 447.5,107.3 448,107.8 448.5,107.6 449,107.6 449.5,107.5 450,107.4 450.5,107.4 451,107.3 451.5,107.6 452,107.5 452.5,107.4 453,107.5 453.5,107.5 454,107.4 454.5,107.5 455,107.4 455.5,107.3 456,107.4 456.5,107.5 457,107.4 457.5,107.7 458,107.6 458.5,107.4 459,107.7 459.5,107.7 460,107.8 460.5,107.9 461,107.5 461.5,107.3 462,107.3 462.5,107.2 463,107.4 463.5,107.4 464,107.5 464.5,107.9 465,107.9 465.5,107.8 466,107.7 466.5,107.5 467,107.5 467.5,107.6 468,107.7 468.5,107.6 469,107.6 469.5,107.6 470,107.5 470.5,107.4 471,107.5 471.5,107.5 472,107.5 472.5,107.8 473,107.6 473.5,107.3 474,107.4 474.5,107.3 475,107.4 475.5,107.6 476,107.8 476.5,108 477,108.1 477.5,108.1 478,108 478.5,107.9 479,108 479.5,108.1 480,108.2 480.5,108.4 481,108.3 481.5,108.2 482,108.4 482.5,108.6 483,108.6 483.5,108.6 484,108.5 484.5,108.7 485,108.7 485.5,109 486,109 486.5,108.8 487,108.8 487.5,108.4 488,108.3 488.5,108.4 489,108.4 489.5,108.6 490,108.6 490.5,108.2 491,108.2 491.5,108.2 492,108.4 492.5,108.4 493,108.3 493.5,108.1 494,107.6 494.5,107.3 495,107.4 495.5,107.2 496,107.5 496.5,107.7 497,107.6 497.5,107.7 498,107.6 498.5,107.5 499,107.7 499.5,107.8 500,107.7 500.5,107.7 501,107.6 501.5,107.6 502,107.5 502.5,107.3 503,107.3 503.5,107.3 504,107.7 504.5,108.2 505,108.5 505.5,108.6 506,108.7 506.5,108.4 507,108.2 507.5,108.4 508,108.1 508.5,108.1 509,108.1 509.5,108 510,108.1 510.5,108.3 511,108.3 511.5,108 512,108.1 512.5,108 513,107.9 513.5,108 514,107.9 514.5,108 515,108.2 515.5,108.4 516,108.6 516.5,108.4 517,108.4 517.5,108.3 518,108.1 518.5,108.1 519,108.1 519.5,108.2 520,108.5 520.5,108.4 521,108.4 521.5,108.4 522,108.2 522.5,108.5 523,108.4 523.5,108.3 524,108.5 524.5,108.3 525,108.5 525.5,108.6 526,108.4 526.5,108.5 527,108.3 527.5,108.2 528,108.4 528.5,108.3 529,108.5 529.5,108.8 530,108.9 530.5,109 531,108.6 531.5,108.4 532,108.3 532.5,108.4 533,108.7 533.5,108.7 534,108.8 534.5,108.6 535,108.9 535.5,108.8 536,108.8 536.5,109.1 537,108.8 537.5,109 538,109.2 538.5,109 539,109.2 539.5,109.3 540,109.1 540.5,109.3 541,109.1 541.5,109.1 542,109.2 542.5,109.1 543,109.2 543.5,109.1 544,109 544.5,109.2 545,109.2 545.5,109.5 546,109.4 546.5,109.3 547,109.2 547.5,109.4 548,109.5 548.5,109.8 549,109.7 549.5,109.7 550,109.7 550.5,109.6 551,109.5 551.5,109.5 552,109.7 552.5,109.6 553,109.7 553.5,109.6 554,109.4 554.5,109.4 555,109.4 555.5,109.6 556,110 556.5,110.1 557,110.2 557.5,110.2 558,110 558.5,110.1 559,110.2 559.5,110.3 560,110.4 560.5,110.4 561,110.5 561.5,110.4 562,110.5 562.5,110.5 563,110.2 563.5,110.3 564,110.2 564.5,110.4 565,110.4 565.5,110.2 566,109.9 566.5,110 567,109.8 567.5,110.2 568,110.4 568.5,110.2 569,110.3 569.5,110 570,110 570.5,109.9 571,109.9 571.5,110 572,109.9 572.5,110.2 573,110.1 573.5,109.9 574,109.8 574.5,109.3 575,109.6 575.5,109.7 576,110 576.5,110 577,109.7 577.5,109.6 578,109.4 578.5,109.6 579,109.4 579.5,109.3 580,109.2 580.5,109 581,109.2 581.5,109.1 582,109.1 582.5,109.1 583,109 583.5,109.2 584,109.2 584.5,109.3 585,109.1 585.5,108.9 586,108.9 586.5,108.7 587,108.8 587.5,108.7 588,108.7 588.5,108.8 589,108.7 589.5,108.9 590,108.8 590.5,108.9 591,109 591.5,108.9 592,108.7 592.5,108.6 593,108.3 593.5,108.2 594,108.2 594.5,108.2 595,108.2 595.5,108.3 596,108.2 596.5,108 597,107.8 597.5,107.5 598,107.3 598.5,107.4 599,107.3 599.5,107.2 600,107.3 600.5,107.3 601,107.4 601.5,107.6 602,107.7 602.5,107.5 603,107.5 603.5,107.4 604,107.4 604.5,107.3 605,107.1 605.5,106.8 606,106.7 606.5,106.8 607,107 607.5,107.3 608,107.3 608.5,107.4 609,107.2 609.5,107.3 610,107.3 610.5,107.5 611,107.4 611.5,107.1 612,107 612.5,106.6 613,106.6 613.5,106.3 614,106.3 614.5,106.2 615,106.2 615.5,106.2 616,105.9 616.5,105.8 617,105.8 617.5,105.7 618,105.7 618.5,105.5 619,105.3 619.5,105.2 620,105.5 620.5,105.6 621,105.5 621.5,105.4 622,105.2 622.5,105.3 623,105.4 623.5,105.7 624,105.5 624.5,105.2 625,104.9 625.5,104.9 626,105 626.5,104.7 627,104.6 627.5,104.4 628,104.4 628.5,104.6 629,104.9 629.5,105.1 630,105.1 630.5,104.9 631,104.8 631.5,104.4 632,104.2 632.5,104.5 633,104.5 633.5,104.5 634,104.6 634.5,104.5 635,104.5 635.5,104.6 636,104.7 636.5,104.7 637,104.8 637.5,104.8 638,104.7 638.5,104.7 639,104.6 639.5,104.4 640,104.7 640.5,104.7 641,104.7 641.5,104.8 642,104.4 642.5,104.6 643,104.5 643.5,104.5 644,104.4 644.5,104.2 645,104.1 645.5,104.5 646,104.5 646.5,104.6 647,104.8 647.5,104.8 648,104.8 648.5,104.9 649,104.9 649.5,104.8 650,104.9 650.5,105 651,104.9 651.5,105 652,105.3 652.5,105.6 653,105.8 653.5,105.8 654,105.9 654.5,105.9 655,106 655.5,105.9 656,105.9 656.5,106 657,106 657.5,106.1 658,106.3 658.5,106.4 659,106.5 659.5,106.5 660,106.6 660.5,106.9 661,106.8 661.5,106.8 662,106.6 662.5,106.2 663,106.2 663.5,106.3 664,106.5 664.5,106.8 665,107.2 665.5,107.5 666,107.3 666.5,107.4 667,107.2 667.5,107.1 668,107.1 668.5,107.1 669,107.4 669.5,107.4 670,107.5 670.5,107.4 671,107.4 671.5,107.5" fill="none" stroke="#f25a5a" stroke-width="1.1" stroke-linejoin="round" />
<polyline points="374,174.3 374.5,174.1 375,173.8 375.5,173.4 376,173 376.5,173 377,173.1 377.5,173 378,173.1 378.5,173 379,172.7 379.5,172.3 380,171.9 380.5,171.2 381,170.8 381.5,170.7 382,170.5 382.5,170.5 383,170.1 383.5,169.9 384,169.6 384.5,169.3 385,169 385.5,168.5 386,168.1 386.5,167.9 387,167.6 387.5,167.4 388,167.1 388.5,166.7 389,166.2 389.5,166.1 390,165.8 390.5,165.4 391,165.2 391.5,165.1 392,164.8 392.5,164.5 393,164.3 393.5,163.7 394,163.4 394.5,162.9 395,162.6 395.5,162.3 396,161.8 396.5,161.9 397,161.6 397.5,161.3 398,160.9 398.5,160.3 399,160 399.5,159.5 400,159.4 400.5,159.4 401,159.1 401.5,158.8 402,158.4 402.5,157.9 403,157.8 403.5,157.7 404,157.4 404.5,157.3 405,157.1 405.5,157 406,156.7 406.5,156.5 407,156.1 407.5,155.5 408,155.4 408.5,155.1 409,154.9 409.5,154.8 410,154.4 410.5,153.9 411,153.8 411.5,153.6 412,153.4 412.5,153.3 413,153 413.5,152.6 414,152.4 414.5,152.1 415,151.9 415.5,151.8 416,152 416.5,151.9 417,151.8 417.5,151.8 418,151.4 418.5,151.4 419,151.3 419.5,151.1 420,151.1 420.5,150.8 421,150.9 421.5,150.9 422,150.9 422.5,150.8 423,150.6 423.5,150.3 424,150.2 424.5,150.4 425,150.3 425.5,150.3 426,150.3 426.5,150.2 427,150.3 427.5,150 428,149.9 428.5,149.6 429,149.2 429.5,149.4 430,149.1 430.5,148.9 431,148.8 431.5,148.7 432,148.9 432.5,149 433,148.9 433.5,148.7 434,148.3 434.5,148.3 435,148.4 435.5,148.4 436,148.3 436.5,148 437,147.9 437.5,147.8 438,147.5 438.5,147.8 439,147.8 439.5,147.9 440,148.2 440.5,147.9 441,147.9 441.5,147.6 442,147.7 442.5,147.8 443,147.4 443.5,147.6 444,147.6 444.5,147.5 445,147.8 445.5,147.6 446,147.3 446.5,147 447,147 447.5,147 448,147.1 448.5,147.2 449,146.9 449.5,147.1 450,147 450.5,147 451,147 451.5,146.9 452,147 452.5,146.9 453,147 453.5,146.8 454,146.9 454.5,146.8 455,146.8 455.5,147.1 456,146.9 456.5,146.8 457,146.7 457.5,146.4 458,146.6 458.5,146.8 459,146.9 459.5,147 460,146.9 460.5,146.7 461,146.9 461.5,146.9 462,146.8 462.5,146.6 463,146.4 463.5,146.4 464,146.3 464.5,146.8 465,146.8 465.5,146.5 466,146.7 466.5,146.5 467,146.6 467.5,146.8 468,146.9 468.5,146.9 469,146.8 469.5,146.8 470,146.6 470.5,146.7 471,146.7 471.5,146.8 472,146.9 472.5,147 473,147.2 473.5,147.4 474,147.6 474.5,147.6 475,147.5 475.5,147.3 476,147.2 476.5,147.1 477,146.9 477.5,147.2 478,147 478.5,147 479,147.2 479.5,146.9 480,147.4 480.5,147.3 481,147.1 481.5,147.2 482,146.8 482.5,146.6 483,146.5 483.5,146.1 484,146.2 484.5,146.3 485,146.2 485.5,146.2 486,146.4 486.5,146.2 487,146.3 487.5,146.3 488,146.1 488.5,146.1 489,145.9 489.5,145.6 490,145.7 490.5,145.9 491,145.9 491.5,145.8 492,145.6 492.5,145.4 493,145.8 493.5,146.2 494,146.6 494.5,146.9 495,147 495.5,147.2 496,146.9 496.5,146.7 497,146.8 497.5,146.9 498,146.9 498.5,147.2 499,147.4 499.5,147.3 500,147.6 500.5,147.5 501,147.5 501.5,147.7 502,147.7 502.5,147.9 503,148.1 503.5,148.2 504,148.1 504.5,147.9 505,147.9 505.5,147.7 506,147.8 506.5,147.9 507,147.6 507.5,147.6 508,147.5 508.5,147.5 509,147.6 509.5,147.5 510,147.6 510.5,147.4 511,147.6 511.5,147.5 512,147.4 512.5,147.7 513,147.4 513.5,147.5 514,147.4 514.5,147.1 515,147 515.5,147 516,146.9 516.5,146.9 517,146.7 517.5,146.6 518,146.6 518.5,146.9 519,147 519.5,146.9 520,146.6 520.5,146.7 521,146.6 521.5,146.6 522,146.7 522.5,146.4 523,146.4 523.5,146.5 524,146.7 524.5,146.8 525,147 525.5,146.8 526,146.7 526.5,146.6 527,146.5 527.5,146.5 528,146.6 528.5,146.8 529,146.4 529.5,146.7 530,146.6 530.5,146.4 531,146.4 531.5,146.1 532,145.8 532.5,145.8 533,146 533.5,146.3 534,146.5 534.5,146.6 535,146.8 535.5,146.8 536,146.8 536.5,146.8 537,146.5 537.5,146.1 538,146.1 538.5,146 539,146 539.5,146.1 540,146.2 540.5,146.2 541,146.3 541.5,146.2 542,146.3 542.5,146.6 543,146.6 543.5,146.7 544,146.7 544.5,146.6 545,146.5 545.5,146.3 546,146.1 546.5,146.3 547,146.3 547.5,146.8 548,146.8 548.5,146.5 549,146.8 549.5,146.4 550,146.4 550.5,146.3 551,146 551.5,146 552,145.9 552.5,146 553,145.9 553.5,146 554,146 554.5,146 555,146.1 555.5,145.8 556,146 556.5,146 557,146.1 557.5,146.5 558,146.4 558.5,146.5 559,146.4 559.5,146.3 560,146.3 560.5,146.3 561,146.3 561.5,146.3 562,146.2 562.5,146.2 563,146.3 563.5,146.4 564,146.3 564.5,146.3 565,146.3 565.5,146.1 566,145.9 566.5,145.8 567,145.9 567.5,146.1 568,146.2 568.5,146.1 569,146 569.5,146 570,146 570.5,146 571,146.1 571.5,145.8 572,145.8 572.5,145.8 573,145.7 573.5,145.7 574,145.8 574.5,146 575,145.9 575.5,146 576,146 576.5,146 577,146.1 577.5,146 578,145.9 578.5,145.9 579,145.9 579.5,146.1 580,146.2 580.5,145.8 581,145.5 581.5,145.6 582,145.4 582.5,145.5 583,145.8 583.5,145.7 584,145.6 584.5,145.7 585,145.6 585.5,145.5 586,145.4 586.5,145.5 587,145.7 587.5,145.9 588,145.7 588.5,145.8 589,145.7 589.5,145.7 590,146 590.5,145.9 591,145.8 591.5,145.7 592,145.7 592.5,145.6 593,145.6 593.5,145.6 594,145.3 594.5,145.5 595,145.3 595.5,145.5 596,145.8 596.5,145.8 597,145.7 597.5,145.7 598,145.7 598.5,145.8 599,146.1 599.5,146 600,146 600.5,146 601,145.8 601.5,145.7 602,145.7 602.5,145.7 603,145.8 603.5,146 604,146 604.5,145.9 605,145.9 605.5,145.7 606,145.8 606.5,145.8 607,146.1 607.5,146 608,146 608.5,146.2 609,146.2 609.5,146.4 610,146.3 610.5,146 611,145.9 611.5,146 612,146.1 612.5,146.3 613,146.1 613.5,146 614,145.8 614.5,145.6 615,145.7 615.5,145.9 616,146.3 616.5,146.6 617,146.6 617.5,146.7 618,146.3 618.5,146.3 619,146.5 619.5,146.4 620,146.5 620.5,146.5 621,146.2 621.5,146.1 622,146 622.5,146.2 623,146.5 623.5,146.8 624,146.8 624.5,147 625,147.1 625.5,147 626,147.2 626.5,147.2 627,147.6 627.5,148.1 628,148.4 628.5,148.7 629,148.8 629.5,148.7 630,149 630.5,149 631,149.1 631.5,149.2 632,149.5 632.5,149.8 633,150.1 633.5,150.5 634,151 634.5,151.3 635,151.6 635.5,152 636,152.2 636.5,152.5 637,152.5 637.5,152.4 638,152.4 638.5,152.4 639,152.6 639.5,152.8 640,153.1 640.5,153.3 641,153.7 641.5,153.9 642,153.9 642.5,154.1 643,153.7 643.5,154 644,154.2 644.5,154.4 645,154.7 645.5,155 646,155.1 646.5,155.2 647,155.7 647.5,155.5 648,155.7 648.5,155.9 649,155.9 649.5,156.1 650,156.4 650.5,156.7 651,156.8 651.5,157 652,157.2 652.5,157.4 653,157.6 653.5,157.7 654,157.9 654.5,157.8 655,157.9 655.5,157.9 656,158 656.5,157.9 657,157.9 657.5,157.9 658,158.1 658.5,158.3 659,158.6 659.5,158.8 660,158.8 660.5,158.9 661,158.8 661.5,159.1 662,159.2 662.5,159.3 663,159.3 663.5,159.4 664,159.4 664.5,159.4 665,159.8 665.5,159.8 666,160 666.5,160.3 667,160.4 667.5,160.6 668,160.8 668.5,160.9 669,160.7 669.5,160.7 670,160.6 670.5,160.7 671,161 671.5,161.4" fill="none" stroke="#f25a5a" stroke-width="1.1" stroke-linejoin="round" />
<polyline points="374,217.9 374.5,218 375,218 375.5,217.9 376,217.9 376.5,218.5 377,217.5 377.5,217.7 378,217.3 378.5,217.3 379,217.1 379.5,217.2 380,217 380.5,217.2 381,217 381.5,216.6 382,217.4 382.5,216.4 383,216.8 383.5,217.2 384,216.3 384.5,216.8 385,216.7 385.5,216.3 386,215.6 386.5,216.5 387,216 387.5,215.7 388,216.2 388.5,215.5 389,216 389.5,215.4 390,215.6 390.5,214.9 391,214.9 391.5,214.6 392,214.5 392.5,214.6 393,214.3 393.5,214.2 394,214.4 394.5,213.8 395,213 395.5,213.3 396,213.3 396.5,213.4 397,213.2 397.5,213 398,212.4 398.5,212.5 399,211.7 399.5,212.4 400,211.9 400.5,211.8 401,211.3 401.5,211.1 402,210.6 402.5,210.7 403,209.9 403.5,210.3 404,209.9 404.5,210.1 405,209.2 405.5,208.9 406,208.7 406.5,208.4 407,208.1 407.5,207.5 408,207.2 408.5,207.1 409,206.9 409.5,206.4 410,206.1 410.5,206.1 411,206.2 411.5,205.8 412,205.9 412.5,205.9 413,205.7 413.5,205.3 414,205.1 414.5,204.6 415,204.8 415.5,205.1 416,204.5 416.5,205.1 417,205 417.5,204.4 418,204.6 418.5,203.8 419,203.8 419.5,203.9 420,203.9 420.5,203.7 421,203.4 421.5,204.2 422,203.5 422.5,203.4 423,203.4 423.5,203.2 424,202.9 424.5,202.7 425,202.3 425.5,203.1 426,202.3 426.5,201.9 427,202.1 427.5,201.7 428,202.9 428.5,202.4 429,202.8 429.5,202.8 430,202.6 430.5,202.6 431,202.3 431.5,202.5 432,202.4 432.5,202.4 433,202 433.5,202.4 434,202 434.5,201.6 435,200.9 435.5,201.4 436,201.3 436.5,200.8 437,200.2 437.5,200.6 438,200.6 438.5,199.5 439,200.1 439.5,199.4 440,199.9 440.5,200.4 441,199.8 441.5,199.9 442,199.6 442.5,199.7 443,200.4 443.5,200 444,199.5 444.5,199.4 445,199.5 445.5,200.1 446,199.5 446.5,199.7 447,199.2 447.5,198.9 448,199.6 448.5,199.2 449,198.9 449.5,198.9 450,198.9 450.5,198.8 451,198.5 451.5,199.3 452,199 452.5,199.2 453,198.7 453.5,198.9 454,198.8 454.5,199.1 455,198.9 455.5,198.7 456,198.4 456.5,198.2 457,198.3 457.5,198.3 458,198.3 458.5,198 459,198.8 459.5,198.4 460,197.6 460.5,197.9 461,197.9 461.5,198.5 462,198.9 462.5,198.4 463,199 463.5,198.9 464,199.4 464.5,199.6 465,199.5 465.5,199.7 466,199.6 466.5,199.6 467,199.5 467.5,200.1 468,199.9 468.5,199.7 469,199.8 469.5,199.7 470,199.4 470.5,199.5 471,199.9 471.5,199.4 472,199.9 472.5,199 473,198.9 473.5,199.3 474,199.4 474.5,198.9 475,199.3 475.5,199.3 476,199.3 476.5,198.8 477,198.7 477.5,198.1 478,198.5 478.5,198.4 479,198.6 479.5,197.7 480,197.7 480.5,197.5 481,197.9 481.5,196.8 482,197.1 482.5,197.9 483,197.3 483.5,196.6 484,196.9 484.5,197 485,196.8 485.5,196.4 486,196.1 486.5,196.5 487,196.1 487.5,196.3 488,196.2 488.5,196 489,196.6 489.5,196.1 490,196.5 490.5,196.2 491,196.4 491.5,196.4 492,196.4 492.5,196.7 493,197.1 493.5,197.3 494,197.3 494.5,196.8 495,197.4 495.5,197.1 496,197.6 496.5,196.9 497,198 497.5,197.7 498,198.6 498.5,198.4 499,199.2 499.5,199.1 500,199 500.5,199.6 501,200.2 501.5,200.6 502,200.2 502.5,200.9 503,201.2 503.5,201.2 504,201.2 504.5,200.7 505,200.3 505.5,200.7 506,200.3 506.5,200.5 507,199.9 507.5,200.1 508,199.5 508.5,199.7 509,199.4 509.5,199.4 510,198.8 510.5,198.9 511,198.5 511.5,198.5 512,198.6 512.5,199.1 513,198.1 513.5,198.1 514,197.7 514.5,198 515,197.8 515.5,198 516,197.8 516.5,198.4 517,198.1 517.5,197.1 518,197.7 518.5,197.7 519,197 519.5,197.4 520,197.5 520.5,197.4 521,197.7 521.5,197.1 522,197.8 522.5,197.9 523,197.9 523.5,197.8 524,197.9 524.5,197.9 525,198.5 525.5,198.3 526,198.9 526.5,198.2 527,198.9 527.5,198.4 528,198.6 528.5,198.4 529,198.9 529.5,198.8 530,199.1 530.5,199.5 531,199.1 531.5,199.3 532,199.6 532.5,199.3 533,199.3 533.5,199.6 534,199.8 534.5,199.9 535,200 535.5,199.7 536,200 536.5,200.1 537,199.5 537.5,199.7 538,199.3 538.5,199.4 539,199.8 539.5,199.2 540,198.8 540.5,199.1 541,198.9 541.5,199.1 542,198.2 542.5,198.3 543,198.4 543.5,197.9 544,198.6 544.5,197.5 545,197.8 545.5,197.5 546,197.7 546.5,198 547,197.8 547.5,197.8 548,197.6 548.5,196.7 549,197.4 549.5,196.7 550,197.1 550.5,197.2 551,197.2 551.5,197.6 552,197.2 552.5,198 553,197.8 553.5,198 554,197.9 554.5,198 555,197.8 555.5,198.4 556,197.6 556.5,198.1 557,198 557.5,198 558,198.2 558.5,197.9 559,198.4 559.5,198.5 560,198.3 560.5,198.5 561,198.1 561.5,197.9 562,198.3 562.5,198.5 563,199.3 563.5,198.6 564,199 564.5,199 565,199.4 565.5,198.8 566,198.8 566.5,198.5 567,198.1 567.5,198 568,197.9 568.5,198.5 569,198 569.5,197.8 570,197.7 570.5,197.4 571,197.5 571.5,197.3 572,197.4 572.5,197.4 573,196.6 573.5,197.2 574,197.5 574.5,196.7 575,196.9 575.5,197 576,197.2 576.5,197 577,196.7 577.5,196.9 578,197 578.5,196.8 579,197.2 579.5,196.7 580,196.2 580.5,196.3 581,196.4 581.5,196.4 582,196.6 582.5,196.5 583,196.8 583.5,196.5 584,196.7 584.5,196 585,196 585.5,196.3 586,196.1 586.5,196.2 587,196.1 587.5,196.2 588,197.2 588.5,197.3 589,196.8 589.5,197.4 590,197.9 590.5,198.4 591,198.5 591.5,198.4 592,199 592.5,198.6 593,198.9 593.5,198.5 594,198.7 594.5,198.5 595,198.5 595.5,197.9 596,198.3 596.5,198 597,197.5 597.5,197.6 598,197.6 598.5,197.7 599,197.7 599.5,197.1 600,197.5 600.5,197.2 601,197 601.5,197.6 602,197.2 602.5,197.1 603,197.8 603.5,197.9 604,197.5 604.5,198.1 605,198.2 605.5,197.8 606,198.7 606.5,198.1 607,198.3 607.5,197.6 608,198.6 608.5,198.3 609,198.7 609.5,198.1 610,199 610.5,199.2 611,199.3 611.5,197.8 612,198.7 612.5,198.6 613,197.4 613.5,198 614,198.1 614.5,198.5 615,197.7 615.5,197.9 616,197.7 616.5,197.7 617,197.8 617.5,198.4 618,198.7 618.5,198.3 619,199.3 619.5,199 620,199.4 620.5,200.1 621,200 621.5,200.4 622,200.7 622.5,200.9 623,200.9 623.5,201 624,201.7 624.5,202 625,202.1 625.5,202.2 626,202.8 626.5,202.8 627,202.6 627.5,203.4 628,203.7 628.5,204 629,203.8 629.5,204.1 630,204.7 630.5,204.7 631,205 631.5,205.6 632,205.6 632.5,206.2 633,205.9 633.5,206.5 634,206.4 634.5,207 635,206.5 635.5,206.6 636,207.2 636.5,206.8 637,207 637.5,207.4 638,207.6 638.5,207.2 639,207.9 639.5,207.9 640,208.1 640.5,208.3 641,208.4 641.5,208.9 642,208.9 642.5,208.9 643,209.1 643.5,209.6 644,209.7 644.5,210 645,209.8 645.5,210 646,210.7 646.5,210.3 647,211 647.5,210.9 648,210.7 648.5,210.5 649,211.3 649.5,211.1 650,211.2 650.5,210.9 651,211.9 651.5,211.6 652,211.6 652.5,211.8 653,211.8 653.5,211.8 654,212 654.5,211.8 655,211.2 655.5,212.3 656,212.2 656.5,212.2 657,212.7 657.5,211.9 658,211.5 658.5,212.9 659,212.6 659.5,212.1 660,212.5 660.5,212.9 661,212.5 661.5,213.1 662,213.7 662.5,213.5 663,213.2 663.5,213.4 664,213.1 664.5,213.5 665,213.5 665.5,213.4 666,213.3 666.5,214.4 667,213.9 667.5,213.7 668,214 668.5,214.6 669,214.8 669.5,214.2 670,214.5 670.5,214.8 671,214.5 671.5,214.4" fill="none" stroke="#ff1a1a" stroke-width="1.1" stroke-linejoin="round" />
<path d="M380.8 258V257.7 M388.3 258V254.3 M392 258V255.4 M394.4 258V252.3 M395.7 258V253.2 M396.9 258V254.6 M399.8 258V255.6 M402.4 258V253.8 M403.5 258V255 M404.4 258V253.7 M405.2 258V254.1 M407 258V251.2 M407.8 258V250.9 M408.7 258V251.8 M410 258V251.3 M410.7 258V250.4 M411.7 258V253.5 M412.8 258V253.3 M413.6 258V249.2 M414.5 258V254.2 M415.6 258V253.4 M416.7 258V250.9 M417.3 258V249.7 M418.1 258V249.4 M418.8 258V250.1 M419.4 258V250.3 M420.7 258V251.1 M421.7 258V252.6 M422.6 258V255.9 M424.2 258V252.2 M425.4 258V255.4 M426.1 258V253.1 M427.1 258V255 M429.2 258V253.8 M430.4 258V254.5 M431.5 258V251.1 M432.6 258V250.4 M434.3 258V252 M435.4 258V254.4 M436.6 258V251.6 M437.8 258V252.8 M439 258V255.8 M439.6 258V252.8 M440.5 258V251.8 M441.7 258V250.6 M442.8 258V252 M443.4 258V254.2 M444.5 258V249.9 M445.8 258V251 M446.4 258V251.4 M447.1 258V250.3 M448.4 258V255.7 M449.3 258V254.7 M450.2 258V255.3 M451.2 258V251.8 M452.4 258V249.6 M453.6 258V251 M454.2 258V249.9 M455 258V250.7 M456.2 258V252.2 M457.1 258V253 M457.8 258V252.8 M458.9 258V254.4 M460.4 258V251.7 M461.3 258V251.5 M462.1 258V254.8 M464.1 258V256.2 M465 258V253.9 M465.7 258V252.1 M466.8 258V252.7 M467.8 258V253.5 M469.6 258V255.6 M470.5 258V252.8 M471.8 258V254.8 M472.4 258V254.6 M473.2 258V255.9 M474.3 258V251.1 M477.5 258V254.5 M478.5 258V250.5 M479.8 258V254.6 M481.1 258V249.5 M481.7 258V255.2 M482.9 258V249 M483.6 258V250.2 M484.3 258V252.8 M485.2 258V251.1 M486.3 258V250.2 M487.1 258V251.6 M488 258V253.7 M489.9 258V254.5 M490.7 258V255.8 M491.6 258V255.1 M492.7 258V251.8 M493.3 258V254.2 M494 258V251.1 M495.2 258V249.2 M496.4 258V252.7 M497.6 258V250.1 M500 258V254.4 M500.6 258V255.4 M501.3 258V252.7 M502.4 258V255.1 M503.6 258V251.9 M504.8 258V254.6 M505.6 258V255.3 M506.8 258V251.9 M507.7 258V254.4 M508.7 258V250.6 M509.6 258V255.8 M510.9 258V256.2 M511.8 258V256 M512.5 258V254.8 M513.5 258V253 M514.4 258V253.7 M515.4 258V254.1 M516.4 258V252.7 M517.5 258V251.7 M518.3 258V253.4 M519.6 258V256 M520.7 258V251.2 M522 258V254.6 M523 258V249.8 M523.7 258V253.1 M524.7 258V249.3 M525.3 258V254.7 M526.5 258V254.6 M527.3 258V253.3 M528.1 258V249.9 M529.2 258V254.6 M529.9 258V250.5 M531.2 258V250.1 M532.3 258V249.6 M533.2 258V252.4 M534.1 258V253.2 M535.3 258V251 M536.3 258V250.9 M537.6 258V252 M538.4 258V254 M539.6 258V255.2 M540.7 258V250.9 M541.9 258V250.2 M542.5 258V253.9 M543.2 258V255.4 M544 258V255.2 M545.2 258V252.4 M546.2 258V254.7 M547.3 258V249.1 M548.4 258V253.6 M549.5 258V250 M550.5 258V252.8 M553 258V253.2 M553.7 258V252.7 M554.4 258V249.5 M555.4 258V256.2 M556.1 258V253.4 M556.7 258V256.3 M557.9 258V254.3 M559.1 258V250 M559.8 258V250.3 M562 258V250 M563.2 258V254.7 M564.1 258V249.9 M565.4 258V251.6 M566.2 258V252.8 M567.5 258V251.5 M568.4 258V252.2 M569.4 258V254.4 M570.8 258V252.9 M572.1 258V255.3 M573.1 258V252 M574.1 258V252.4 M575.4 258V252.4 M576.6 258V255.8 M577.5 258V254.2 M578.3 258V253 M579.6 258V252.4 M580.6 258V250.1 M581.5 258V249.9 M582.3 258V250.4 M583.1 258V252.2 M584.9 258V253.8 M586 258V254.5 M586.8 258V251.2 M588 258V255.6 M590.3 258V253.5 M590.9 258V255 M591.7 258V253.8 M592.9 258V255.6 M593.6 258V251.3 M594.8 258V249.7 M595.7 258V254.5 M596.5 258V250.1 M597.4 258V250.2 M598.2 258V250.6 M599.2 258V253.5 M599.8 258V252 M600.4 258V250.3 M601.2 258V249.5 M602.4 258V253.6 M604.4 258V251 M605.2 258V251.1 M607 258V256.2 M608.2 258V249.7 M609.2 258V256.3 M609.9 258V252.9 M611.1 258V249.3 M611.8 258V250 M612.7 258V252.8 M613.7 258V254.2 M614.3 258V250.1 M615.2 258V255.3 M616.4 258V253 M617.6 258V249.2 M618.8 258V252.2 M620.4 258V256.1 M621.5 258V256 M622.8 258V250.8 M623.7 258V251.5 M624.8 258V253.1 M625.6 258V255.2 M626.6 258V255.1 M627.3 258V251.2 M628.4 258V254.2 M630.9 258V253.1 M631.5 258V252.3 M632.3 258V249 M633.6 258V250.2 M634.6 258V254.3 M635.9 258V249 M636.6 258V250.9 M637.6 258V252.9 M638.2 258V249.2 M639.3 258V253.1 M640.2 258V256.4 M641.2 258V254.4 M642 258V253.3 M642.6 258V250.7 M643.4 258V254.3 M644.4 258V249.2 M645.1 258V251.8 M646.7 258V251.9 M647.5 258V251 M648.3 258V252.5 M649.2 258V252 M650.4 258V249.9 M651.1 258V253.7 M651.8 258V252.8 M652.8 258V253.8 M654.1 258V250.5 M655.3 258V249 M657.1 258V249.6 M658.3 258V252.7 M659.6 258V253.1 M660.2 258V253 M661.4 258V249 M662.2 258V249.5 M662.9 258V255.3 M663.8 258V253 M664.8 258V254.5 M665.8 258V253.5 M666.8 258V250.1 M667.6 258V254.8 M668.2 258V252.4 M669.3 258V249.6 M670.4 258V252.5" stroke="#ff1a1a" stroke-width="0.9" stroke-opacity="0.7" fill="none"/>
<path d="M413 258V246 M415.3 258V246 M419 258V240.4 M424.1 258V238.6 M433 258V240.4 M443 258V247 M468.5 258V241.5 M471.8 258V248 M486.3 258V246 M491.8 258V236 M495.1 258V241.5 M505.1 258V243.7 M521 258V230.4 M522.5 258V230.8 M531.1 258V240.6 M535.2 258V227.8 M549.3 258V239.9 M551.6 258V239.9 M558.4 258V238.8 M564.1 258V246.8 M566.4 258V223.5 M573.3 258V238.8 M585.8 258V245.2 M588.1 258V245.2 M590.8 258V232 M594.9 258V246.8 M609.2 258V232.6 M613.1 258V247.9 M617.7 258V247.9 M620.4 258V229.7 M623.4 258V238.3 M626.8 258V232.4 M628.6 258V233.1 M632.5 258V244.5 M634.8 258V249 M644.3 258V240.6 M648.4 258V247.9 M663.2 258V251.3 M409 258V250 M428 258V249 M437 258V249 M452 258V250 M460 258V249.5 M478 258V248 M500 258V249 M512 258V248.5 M540 258V249 M578 258V248 M600 258V248.5 M640 258V249 M655 258V250 M668 258V250" stroke="#ff1a1a" stroke-width="1" stroke-opacity="0.85" fill="none"/>
<polygon points="374,258.6 385,258.2 395,256.8 420,255.2 480,254.6 560,254.4 620,254.2 671.5,254.2 671.5,258.5 374,258.7" fill="#ff1a1a" fill-opacity="0.92"/>
<polyline points="389.8,287.5 390.3,286 390.8,286.1 391.3,285.9 391.8,286.6 392.3,285.6 392.8,285.9 393.3,284.6 393.8,285.1 394.3,285.4 394.8,285 395.3,283.9 395.8,285.1 396.3,284.1 396.8,285.6 397.3,284.3 397.8,285.5 398.3,284.5 398.8,284.2 399.3,283.5 399.8,283.6 400.3,283.7 400.8,282.2 401.3,283.7 401.8,282.3 402.3,282.7 402.8,281.1 403.3,282.8 403.8,282.8 404.3,282.4 404.8,282.3 405.3,281.7 405.8,281.8 406.3,282.3 406.8,281.1 407.3,281.5 407.8,281.5 408.3,280.7 408.8,280.8 409.3,280.7 409.8,280.1 410.3,281.6 410.8,279.8 411.3,280.8 411.8,280.3 412.3,278.4 412.8,279.6 413.3,279.9 413.8,279.7 414.3,278.6 414.8,279.1 415.3,278.2 415.8,278.1 416.3,278.5 416.8,278.6 417.3,279.3 417.8,278.5 418.3,278.8 418.8,277.4 419.3,277.3 419.8,277.6 420.3,278.7 420.8,276.8 421.3,276.7 421.8,277.5 422.3,278.3 422.8,276.6 423.3,277.4 423.8,276.7 424.3,278.3 424.8,277.9 425.3,277.6 425.8,277.4 426.3,277.3 426.8,277.5 427.3,277 427.8,276.9 428.3,276.7 428.8,277.3 429.3,276.9 429.8,277.8 430.3,276.1 430.8,277.6 431.3,277.6 431.8,277.9 432.3,277.1 432.8,276.3 433.3,276.6 433.8,277.8 434.3,277 434.8,276.9 435.3,276.8 435.8,277.1 436.3,277 436.8,276.2 437.3,276.7 437.8,277.6 438.3,277.9 438.8,276.9 439.3,276.7 439.8,277.8 440.3,276.9 440.8,276.3 441.3,276.9 441.8,277.4 442.3,277.8 442.8,276.6 443.3,277.2 443.8,276.7 444.3,277.6 444.8,277 445.3,277 445.8,276.3 446.3,276.7 446.8,276.7 447.3,274.7 447.8,277.3 448.3,276.8 448.8,276.7 449.3,276.6 449.8,276.8 450.3,276.9 450.8,276 451.3,276.8 451.8,276.8 452.3,276.8 452.8,275.9 453.3,276.7 453.8,276 454.3,276.9 454.8,277.5 455.3,277.2 455.8,276.5 456.3,276.4 456.8,276.3 457.3,276.9 457.8,276.3 458.3,276.3 458.8,275.2 459.3,276.1 459.8,276.2 460.3,276.3 460.8,277.3 461.3,275.8 461.8,275.8 462.3,276.9 462.8,276 463.3,276.4 463.8,276.6 464.3,276.5 464.8,276 465.3,277 465.8,277.3 466.3,275.9 466.8,276.3 467.3,277 467.8,276.3 468.3,275.8 468.8,276.1 469.3,276.8 469.8,275.8 470.3,276.5 470.8,276.5 471.3,275.9 471.8,276.6 472.3,276.6 472.8,276.8 473.3,276.8 473.8,275.3 474.3,276.7 474.8,276.5 475.3,276.7 475.8,275.7 476.3,276.7 476.8,276.3 477.3,275.4 477.8,276.8 478.3,275.6 478.8,275.5 479.3,276.3 479.8,275.7 480.3,276.2 480.8,275.9 481.3,276.2 481.8,276.4 482.3,275.9 482.8,276.4 483.3,276.4 483.8,275.4 484.3,276.4 484.8,276.2 485.3,275.9 485.8,276.5 486.3,276.8 486.8,276.3 487.3,275 487.8,276.1 488.3,275.7 488.8,275.7 489.3,276 489.8,275.7 490.3,276.8 490.8,276 491.3,275.9 491.8,276.4 492.3,276.4 492.8,276.6 493.3,276.3 493.8,275.9 494.3,276 494.8,274.7 495.3,275.1 495.8,276.6 496.3,275.8 496.8,277.1 497.3,277.1 497.8,275.3 498.3,276.2 498.8,277.7 499.3,275.6 499.8,276.3 500.3,275.9 500.8,275.9 501.3,275.9 501.8,276.1 502.3,276.6 502.8,275.7 503.3,276.4 503.8,275.7 504.3,276.5 504.8,276.3 505.3,275.7 505.8,276.3 506.3,275.8 506.8,275.7 507.3,276.9 507.8,275.2 508.3,276.6 508.8,276.7 509.3,275.9 509.8,276.9 510.3,276.8 510.8,275.5 511.3,276.6 511.8,276.6 512.3,275.9 512.8,276.7 513.3,276.8 513.8,275.9 514.3,275.2 514.8,276.6 515.3,275.9 515.8,275.4 516.3,276.2 516.8,275 517.3,276.2 517.8,277.3 518.3,274.8 518.8,276.7 519.3,275.9 519.8,276.2 520.3,275.9 520.8,276.9 521.3,276.5 521.8,276.1 522.3,275.7 522.8,276.3 523.3,277.2 523.8,275.8 524.3,276.7 524.8,276.7 525.3,275.3 525.8,277.1 526.3,276.5 526.8,277.8 527.3,277.5 527.8,276.3 528.3,276.4 528.8,275.9 529.3,275.7 529.8,276.9 530.3,276.3 530.8,276.2 531.3,276.4 531.8,276.9 532.3,277 532.8,276.5 533.3,276.3 533.8,276.5 534.3,277.7 534.8,275.2 535.3,275.8 535.8,276.7 536.3,276.5 536.8,277.2 537.3,277.2 537.8,277.6 538.3,276 538.8,276.8 539.3,276.3 539.8,277 540.3,276.5 540.8,276.9 541.3,276 541.8,276.5 542.3,276.1 542.8,276.3 543.3,276.1 543.8,275.8 544.3,277.1 544.8,276.6 545.3,277 545.8,275.8 546.3,275.2 546.8,276 547.3,276.3 547.8,276.9 548.3,277 548.8,277.1 549.3,277.3 549.8,276.8 550.3,276.4 550.8,275.9 551.3,276.8 551.8,276.1 552.3,275.9 552.8,276.7 553.3,276.5 553.8,276.9 554.3,275.9 554.8,277 555.3,276.6 555.8,276.3 556.3,275.9 556.8,275.7 557.3,275.5 557.8,277.2 558.3,275.5 558.8,276.7 559.3,276.2 559.8,276 560.3,276 560.8,276.3 561.3,276.9 561.8,276.7 562.3,276.3 562.8,275.5 563.3,275.2 563.8,277.2 564.3,275.4 564.8,274.9 565.3,276.4 565.8,274.7 566.3,275.9 566.8,275.9 567.3,275.3 567.8,275.6 568.3,274.1 568.8,274.1 569.3,274.5 569.8,274.5 570.3,274.5 570.8,274.8 571.3,274.2 571.8,273.4 572.3,274.9 572.8,274.5 573.3,275.2 573.8,276 574.3,274.8 574.8,275.1 575.3,274.3 575.8,275.4 576.3,275.1 576.8,275 577.3,275.5 577.8,274.3 578.3,275.3 578.8,275.3 579.3,276 579.8,274 580.3,275 580.8,276.4 581.3,274.9 581.8,274.9 582.3,276.2 582.8,276.7 583.3,275.3 583.8,274.8 584.3,274.9 584.8,275.1 585.3,274.8 585.8,274.9 586.3,275.5 586.8,275.4 587.3,275.7 587.8,275.5 588.3,274.8 588.8,276 589.3,275.7 589.8,275.2 590.3,275.5 590.8,275.8 591.3,275.7 591.8,275.6 592.3,276.1 592.8,276.3 593.3,275.5 593.8,275.7 594.3,275.1 594.8,275.7 595.3,276.1 595.8,276.3 596.3,275.9 596.8,275.8 597.3,275.5 597.8,276 598.3,275.3 598.8,276 599.3,276 599.8,275.4 600.3,276.2 600.8,275.9 601.3,276.4 601.8,275.8 602.3,276.3 602.8,277 603.3,276.2 603.8,276.6 604.3,275.8 604.8,275.9 605.3,275.1 605.8,276.1 606.3,275.5 606.8,276.3 607.3,275 607.8,275.8 608.3,276.3 608.8,276.5 609.3,275.4 609.8,276.1 610.3,277.9 610.8,276.8 611.3,276.5 611.8,274.8 612.3,275.9 612.8,276.8 613.3,276.6 613.8,276.8 614.3,277.1 614.8,276.6 615.3,277 615.8,275.5 616.3,278.1 616.8,276.4 617.3,276.2 617.8,277.5 618.3,277 618.8,277.3 619.3,276.3 619.8,276.9 620.3,277.2 620.8,276.1 621.3,276.6 621.8,276.6 622.3,276.7 622.8,276.6 623.3,276.4 623.8,277.6 624.3,277.6 624.8,278.3 625.3,277.8 625.8,277.6 626.3,277.3 626.8,278.4 627.3,278.3 627.8,279.8 628.3,280.2 628.8,279.9 629.3,278.6 629.8,278.5 630.3,279.3 630.8,279.1 631.3,280.6 631.8,280 632.3,279.9 632.8,280.3 633.3,281.2 633.8,280.1 634.3,281.1 634.8,280.2 635.3,281 635.8,280.9 636.3,281.5 636.8,281.5 637.3,282.1 637.8,281.9 638.3,281.2 638.8,280.8 639.3,281.1 639.8,281.4 640.3,281.5 640.8,281.3 641.3,282.4 641.8,282.3 642.3,281.7 642.8,281.6 643.3,281.8 643.8,281.9 644.3,282 644.8,281.1 645.3,281.8 645.8,281 646.3,282.2 646.8,282.6 647.3,281.6 647.8,282.4 648.3,282 648.8,282 649.3,283.6 649.8,283 650.3,282.8 650.8,282.3 651.3,282.8 651.8,282.5 652.3,282.9 652.8,282.2 653.3,282.7 653.8,282.6 654.3,282 654.8,283.9 655.3,283.4 655.8,282.5 656.3,282.1 656.8,282.6 657.3,282.6 657.8,282.8 658.3,282.3 658.8,282.7 659.3,283.3 659.8,283.5 660.3,282.1 660.8,283.3 661.3,282.8 661.8,282.8 662.3,283.2 662.8,283.1 663.3,283.9 663.8,283.9 664.3,283.4 664.8,283.2 665.3,284.7 665.8,284.7 666.3,283.9 666.8,283.6 667.3,284.3 667.8,284.6 668.3,283.5 668.8,284.9 669.3,283.8 669.8,284.5 670.3,283.6 670.8,284 671.3,283.7" fill="none" stroke="#ff1a1a" stroke-width="1.4" stroke-linejoin="round" stroke-opacity="0.9"/>
<polyline points="389.8,287.9 390.3,288.3 390.8,287 391.3,287.2 391.8,287.6 392.3,286.8 392.8,288.2 393.3,286 393.8,288.2 394.3,286.2 394.8,287 395.3,287.2 395.8,286.4 396.3,285.2 396.8,285.6 397.3,285.7 397.8,285.9 398.3,286 398.8,285.9 399.3,286 399.8,284.4 400.3,285.4 400.8,283.6 401.3,284.6 401.8,283.7 402.3,283.1 402.8,284.6 403.3,283.8 403.8,284.3 404.3,282.6 404.8,282.7 405.3,283.2 405.8,282.7 406.3,282.9 406.8,282.3 407.3,282.3 407.8,281.7 408.3,283 408.8,281.8 409.3,281.2 409.8,282.1 410.3,281.8 410.8,281.5 411.3,281.3 411.8,280.8 412.3,280.8 412.8,279.4 413.3,279.7 413.8,279.8 414.3,280.6 414.8,281 415.3,280.1 415.8,279.9 416.3,280.6 416.8,279.6 417.3,280.1 417.8,279.9 418.3,278.7 418.8,279.6 419.3,279.4 419.8,278.5 420.3,278.4 420.8,278.2 421.3,279.7 421.8,280.2 422.3,279.3 422.8,279.8 423.3,278 423.8,279.7 424.3,280 424.8,279.8 425.3,278.2 425.8,279.4 426.3,278.7 426.8,279.4 427.3,278.3 427.8,278.7 428.3,278.3 428.8,278.9 429.3,278.6 429.8,279.3 430.3,279.1 430.8,278.8 431.3,278.6 431.8,278.4 432.3,278.6 432.8,279 433.3,278.6 433.8,278.7 434.3,278.5 434.8,278.4 435.3,278 435.8,277.3 436.3,278.8 436.8,278.7 437.3,277.8 437.8,279.5 438.3,277.6 438.8,278.9 439.3,278.5 439.8,278.5 440.3,279 440.8,278.8 441.3,278.3 441.8,277.6 442.3,277.5 442.8,278.4 443.3,279.2 443.8,278.8 444.3,278.2 444.8,278.4 445.3,278.6 445.8,279.2 446.3,277.7 446.8,278.6 447.3,278.3 447.8,277.7 448.3,277.6 448.8,278.9 449.3,278.3 449.8,278 450.3,278.2 450.8,278.7 451.3,278.2 451.8,279.1 452.3,277.9 452.8,277.6 453.3,278 453.8,277.5 454.3,277.8 454.8,278.8 455.3,279.1 455.8,278.4 456.3,278.1 456.8,277.5 457.3,277.4 457.8,278.2 458.3,278.1 458.8,277.6 459.3,277.7 459.8,278.9 460.3,278.5 460.8,278 461.3,278.1 461.8,278.7 462.3,278.1 462.8,278 463.3,276.9 463.8,276.8 464.3,276.7 464.8,276.5 465.3,277.8 465.8,278 466.3,277.2 466.8,278 467.3,278 467.8,277.7 468.3,276.8 468.8,278.6 469.3,278.5 469.8,277.3 470.3,278.8 470.8,277.7 471.3,277.1 471.8,277.4 472.3,276.5 472.8,277.4 473.3,276.6 473.8,278.2 474.3,277.7 474.8,276.7 475.3,277.8 475.8,276.5 476.3,277.6 476.8,277.7 477.3,277.5 477.8,276.7 478.3,277.3 478.8,277.3 479.3,277.4 479.8,278.3 480.3,278.4 480.8,278.3 481.3,276.9 481.8,276.9 482.3,277.3 482.8,277.5 483.3,276 483.8,276.9 484.3,278.3 484.8,276.5 485.3,276.8 485.8,276.8 486.3,277.5 486.8,277.1 487.3,276.9 487.8,276.2 488.3,277.5 488.8,277.2 489.3,276.8 489.8,277.2 490.3,277.7 490.8,276.3 491.3,276.3 491.8,276.6 492.3,276.7 492.8,275.4 493.3,276.9 493.8,277.9 494.3,277.1 494.8,277.9 495.3,275.6 495.8,277.2 496.3,278.1 496.8,278.3 497.3,277 497.8,276.8 498.3,277.6 498.8,276.6 499.3,277.2 499.8,276.4 500.3,277.4 500.8,277.4 501.3,278.4 501.8,277.6 502.3,277 502.8,277.4 503.3,276.7 503.8,277.5 504.3,277.3 504.8,277.7 505.3,278.1 505.8,276.3 506.3,277.7 506.8,278 507.3,276.8 507.8,278.7 508.3,277.1 508.8,279 509.3,278 509.8,278.2 510.3,277.8 510.8,278.2 511.3,277 511.8,277.1 512.3,276.5 512.8,278 513.3,277.2 513.8,278.1 514.3,278 514.8,276.9 515.3,278.1 515.8,277.9 516.3,277.8 516.8,278 517.3,277.7 517.8,277.8 518.3,278.4 518.8,277.2 519.3,277.1 519.8,277.3 520.3,278.4 520.8,277.6 521.3,279 521.8,276 522.3,277.4 522.8,277.6 523.3,278 523.8,278.6 524.3,277.7 524.8,277.2 525.3,278.3 525.8,278.7 526.3,276.3 526.8,278.2 527.3,278 527.8,277.3 528.3,277.5 528.8,278 529.3,277.8 529.8,277.6 530.3,277.1 530.8,278 531.3,277.4 531.8,277.8 532.3,277.4 532.8,277.9 533.3,278.2 533.8,277.9 534.3,278.2 534.8,276.9 535.3,278 535.8,277.9 536.3,277.4 536.8,277.7 537.3,276.1 537.8,277.8 538.3,277.5 538.8,276.4 539.3,278.1 539.8,277.4 540.3,277.9 540.8,277.6 541.3,278 541.8,277.8 542.3,277.6 542.8,278 543.3,278.2 543.8,276.4 544.3,277.7 544.8,277.4 545.3,277.1 545.8,278.5 546.3,278.3 546.8,277.1 547.3,277 547.8,278.2 548.3,277.3 548.8,277.5 549.3,276.5 549.8,277.6 550.3,278.4 550.8,277.4 551.3,277.6 551.8,278.7 552.3,278.2 552.8,278.5 553.3,278.1 553.8,278.4 554.3,276.7 554.8,277.2 555.3,276.7 555.8,279 556.3,277.8 556.8,277.6 557.3,277.2 557.8,277 558.3,276 558.8,279 559.3,277.6 559.8,277.7 560.3,276.8 560.8,277.6 561.3,277.9 561.8,277.6 562.3,278 562.8,277.1 563.3,277.7 563.8,278 564.3,277.6 564.8,277.4 565.3,277 565.8,276.3 566.3,277.1 566.8,276.4 567.3,275.9 567.8,276.8 568.3,275.3 568.8,275.8 569.3,276.4 569.8,276.4 570.3,275.6 570.8,275.9 571.3,276.2 571.8,275.9 572.3,275.5 572.8,276.3 573.3,276.1 573.8,276.1 574.3,276.7 574.8,276.3 575.3,275.8 575.8,276.2 576.3,277.3 576.8,275.8 577.3,276.1 577.8,275.8 578.3,276.5 578.8,275.6 579.3,276.6 579.8,276.8 580.3,275.9 580.8,275.9 581.3,275.6 581.8,276.5 582.3,275.8 582.8,276.2 583.3,276.3 583.8,276.2 584.3,277.1 584.8,277.6 585.3,275.4 585.8,276.2 586.3,276.9 586.8,276.1 587.3,276.4 587.8,276.9 588.3,277.7 588.8,277.6 589.3,276.7 589.8,277 590.3,276.7 590.8,276.8 591.3,276.3 591.8,275.9 592.3,276.8 592.8,277.6 593.3,277.5 593.8,275.9 594.3,277 594.8,276.7 595.3,277.3 595.8,276.5 596.3,277.7 596.8,277.1 597.3,277.5 597.8,277.7 598.3,276.1 598.8,277.1 599.3,278.2 599.8,277.3 600.3,277.9 600.8,277.6 601.3,277 601.8,277.5 602.3,278 602.8,278.2 603.3,278.3 603.8,276.8 604.3,278 604.8,276.7 605.3,277.4 605.8,277.4 606.3,277.9 606.8,277.7 607.3,278.3 607.8,277.2 608.3,278.1 608.8,277.9 609.3,277.6 609.8,276.9 610.3,278 610.8,277.9 611.3,278.2 611.8,277.7 612.3,277.6 612.8,278 613.3,278.1 613.8,278.2 614.3,279 614.8,277.5 615.3,279.1 615.8,276.1 616.3,278.5 616.8,277.4 617.3,279.1 617.8,277.4 618.3,278.6 618.8,277.4 619.3,277.3 619.8,278.5 620.3,278.6 620.8,277.7 621.3,279.5 621.8,277.9 622.3,279.1 622.8,277.7 623.3,277.9 623.8,278.7 624.3,278.2 624.8,279.3 625.3,277.9 625.8,279.4 626.3,279.1 626.8,279.1 627.3,279.9 627.8,279.8 628.3,279.9 628.8,280.8 629.3,280.6 629.8,280.9 630.3,281.6 630.8,280.9 631.3,281.6 631.8,281 632.3,281.8 632.8,281.9 633.3,281.5 633.8,281 634.3,281.3 634.8,281.7 635.3,282.8 635.8,282.5 636.3,282.5 636.8,283 637.3,283.2 637.8,283.6 638.3,282.5 638.8,283.2 639.3,283.3 639.8,282.4 640.3,283.1 640.8,282.5 641.3,282.9 641.8,283.4 642.3,282.1 642.8,282.7 643.3,282.8 643.8,283.3 644.3,282.9 644.8,283.6 645.3,282.9 645.8,283.1 646.3,283.9 646.8,283.7 647.3,283.7 647.8,283.6 648.3,284.3 648.8,284.5 649.3,283.5 649.8,283.4 650.3,283.2 650.8,284.9 651.3,283.4 651.8,283.2 652.3,284.2 652.8,284.7 653.3,283.3 653.8,284 654.3,283.3 654.8,283.8 655.3,285.2 655.8,284.4 656.3,284.2 656.8,284.4 657.3,284.6 657.8,284.4 658.3,283.8 658.8,283.8 659.3,285.8 659.8,284.1 660.3,285.3 660.8,284.2 661.3,285.5 661.8,285.1 662.3,284.6 662.8,286 663.3,284.3 663.8,284.7 664.3,284.4 664.8,284.5 665.3,284.7 665.8,284.4 666.3,284.8 666.8,286 667.3,284 667.8,284.4 668.3,284.6 668.8,284.9 669.3,285.8 669.8,285.7 670.3,285.5 670.8,285.4 671.3,286.7" fill="none" stroke="#ff1a1a" stroke-width="1.4" stroke-linejoin="round" stroke-opacity="0.9"/>
<polyline points="389.8,288.5 390.3,288.3 390.8,288.9 391.3,288.9 391.8,288.5 392.3,288 392.8,287.5 393.3,288 393.8,287.6 394.3,287.6 394.8,287.1 395.3,288.4 395.8,287.7 396.3,288.4 396.8,286.9 397.3,287.1 397.8,286.7 398.3,286.8 398.8,286.5 399.3,286.3 399.8,285.1 400.3,286 400.8,286.4 401.3,284.7 401.8,285.5 402.3,285.9 402.8,286.1 403.3,285.1 403.8,285.3 404.3,285.9 404.8,285.5 405.3,284.3 405.8,284 406.3,284.8 406.8,284.2 407.3,283.6 407.8,283.6 408.3,283.7 408.8,283.2 409.3,283 409.8,282.9 410.3,282 410.8,283.7 411.3,283.2 411.8,283.2 412.3,282.1 412.8,282.2 413.3,282.3 413.8,282.3 414.3,280.7 414.8,281.8 415.3,280.9 415.8,281.4 416.3,280.9 416.8,282.2 417.3,281.4 417.8,280.9 418.3,281.7 418.8,280.7 419.3,280.2 419.8,280.4 420.3,280.2 420.8,280.3 421.3,280.7 421.8,280.2 422.3,280.2 422.8,280.8 423.3,280.4 423.8,280.7 424.3,280.2 424.8,279.4 425.3,279.4 425.8,279.1 426.3,280.8 426.8,280.3 427.3,279.8 427.8,279.4 428.3,280.2 428.8,279.9 429.3,280.2 429.8,279.5 430.3,279.3 430.8,280.9 431.3,279.3 431.8,279.9 432.3,280.7 432.8,278.8 433.3,280.3 433.8,279.9 434.3,279.7 434.8,280 435.3,279.1 435.8,278.4 436.3,280.9 436.8,279.6 437.3,280.2 437.8,280.4 438.3,279.8 438.8,279.9 439.3,280.1 439.8,280.6 440.3,279.9 440.8,280.4 441.3,279.4 441.8,279.4 442.3,279.7 442.8,279.8 443.3,279.9 443.8,280.7 444.3,280.1 444.8,279.6 445.3,280.7 445.8,279.7 446.3,279.7 446.8,279.8 447.3,279.3 447.8,278.9 448.3,279.6 448.8,279.3 449.3,279 449.8,279.5 450.3,279.3 450.8,279.1 451.3,278.4 451.8,279.3 452.3,280.5 452.8,279.9 453.3,280 453.8,279.4 454.3,280 454.8,279 455.3,279.1 455.8,279.7 456.3,278.5 456.8,279.4 457.3,279.5 457.8,280.3 458.3,278.9 458.8,279.6 459.3,278.9 459.8,279 460.3,277.7 460.8,278.7 461.3,279.9 461.8,279.5 462.3,279.3 462.8,280.7 463.3,279.5 463.8,278.4 464.3,279 464.8,279.1 465.3,280.1 465.8,278.6 466.3,279.4 466.8,279.7 467.3,278.6 467.8,279.1 468.3,277.8 468.8,279.1 469.3,277.7 469.8,278.8 470.3,280 470.8,279.2 471.3,279 471.8,279 472.3,280.2 472.8,279.2 473.3,279.5 473.8,278.6 474.3,278.6 474.8,278.2 475.3,278.7 475.8,278.4 476.3,279.4 476.8,279.2 477.3,278.7 477.8,278.4 478.3,277 478.8,278.4 479.3,278.9 479.8,279.1 480.3,276.9 480.8,277.2 481.3,278.7 481.8,278 482.3,278.5 482.8,278.3 483.3,278.9 483.8,277.5 484.3,278.2 484.8,279.1 485.3,278.7 485.8,278 486.3,278.8 486.8,278.7 487.3,277.9 487.8,278.9 488.3,278.9 488.8,278.4 489.3,279.1 489.8,277.8 490.3,279 490.8,278.4 491.3,278 491.8,278.2 492.3,279.3 492.8,278.2 493.3,278.4 493.8,278.2 494.3,278.1 494.8,279.2 495.3,279.9 495.8,279.4 496.3,279 496.8,279.1 497.3,278.5 497.8,278.4 498.3,278 498.8,279.6 499.3,278.5 499.8,278.3 500.3,278.4 500.8,278.9 501.3,278.4 501.8,278.8 502.3,278.9 502.8,279.6 503.3,278.1 503.8,279 504.3,278.4 504.8,278.6 505.3,279.8 505.8,279.2 506.3,278.6 506.8,279.2 507.3,278.9 507.8,279.5 508.3,278.6 508.8,279.2 509.3,278.8 509.8,278.9 510.3,278.8 510.8,278.6 511.3,279 511.8,279.5 512.3,278.6 512.8,278.8 513.3,279.2 513.8,278.6 514.3,279.5 514.8,279.4 515.3,277.7 515.8,278.7 516.3,278.4 516.8,279.6 517.3,279.6 517.8,278.4 518.3,278.7 518.8,279.1 519.3,278.9 519.8,279.6 520.3,279.7 520.8,279.5 521.3,279.8 521.8,279.7 522.3,279.1 522.8,278.9 523.3,278.7 523.8,279.6 524.3,279.7 524.8,279.8 525.3,279 525.8,278.9 526.3,279.3 526.8,279.9 527.3,279.4 527.8,279.3 528.3,278.7 528.8,279.4 529.3,279.5 529.8,278.6 530.3,280.2 530.8,278.6 531.3,279.7 531.8,279 532.3,279.2 532.8,278.7 533.3,278.8 533.8,279.5 534.3,279 534.8,278.9 535.3,279.6 535.8,279.5 536.3,279.2 536.8,279.2 537.3,280.1 537.8,279 538.3,279.3 538.8,279.3 539.3,278.3 539.8,277.9 540.3,279.2 540.8,279.6 541.3,279.2 541.8,278.8 542.3,278.7 542.8,279.6 543.3,278.9 543.8,278.1 544.3,279.5 544.8,279.2 545.3,279.3 545.8,279.7 546.3,279.8 546.8,279.4 547.3,278.9 547.8,277.8 548.3,279.2 548.8,279 549.3,279.8 549.8,279.8 550.3,279.3 550.8,279.8 551.3,279 551.8,279 552.3,278.5 552.8,278.8 553.3,279.1 553.8,279.6 554.3,278.6 554.8,279.5 555.3,280.4 555.8,278.2 556.3,278.9 556.8,279 557.3,279.6 557.8,280.2 558.3,279.7 558.8,279 559.3,278.5 559.8,279 560.3,279 560.8,279.1 561.3,278.5 561.8,279.9 562.3,278.6 562.8,279.4 563.3,279 563.8,278.1 564.3,278.7 564.8,278.5 565.3,278.3 565.8,278.7 566.3,277.8 566.8,279.5 567.3,278.5 567.8,277.2 568.3,276.1 568.8,278.2 569.3,277.5 569.8,277.2 570.3,276.6 570.8,276.4 571.3,276.2 571.8,278.8 572.3,278.3 572.8,277 573.3,278.5 573.8,276.3 574.3,277.8 574.8,277.9 575.3,277 575.8,277.2 576.3,276.9 576.8,277.6 577.3,278.4 577.8,278.2 578.3,277.9 578.8,278.3 579.3,276.6 579.8,278.9 580.3,277.7 580.8,277 581.3,277.6 581.8,277.4 582.3,277.9 582.8,278.1 583.3,276.5 583.8,278.7 584.3,279 584.8,277.4 585.3,278.9 585.8,278.8 586.3,278.7 586.8,279.1 587.3,277.3 587.8,278.6 588.3,277.6 588.8,279.6 589.3,277.6 589.8,277.5 590.3,278.9 590.8,278.7 591.3,278.3 591.8,278.4 592.3,278.7 592.8,279.4 593.3,278 593.8,278.1 594.3,278.1 594.8,278.4 595.3,278.5 595.8,277.7 596.3,278.7 596.8,277.8 597.3,278.3 597.8,278.4 598.3,278.4 598.8,279.5 599.3,279.6 599.8,279.3 600.3,279.6 600.8,278.5 601.3,279.5 601.8,278.7 602.3,278.9 602.8,278.9 603.3,278 603.8,278.4 604.3,278.7 604.8,279 605.3,278.8 605.8,278.3 606.3,278.2 606.8,278.9 607.3,278.2 607.8,278.2 608.3,278.9 608.8,279.1 609.3,278.5 609.8,277.9 610.3,279.2 610.8,279.5 611.3,278.8 611.8,278.9 612.3,277.7 612.8,279.7 613.3,278.5 613.8,279.6 614.3,278.8 614.8,279.1 615.3,279.1 615.8,278.1 616.3,280.9 616.8,278.3 617.3,279.3 617.8,278.8 618.3,279.2 618.8,280.2 619.3,278.2 619.8,279.3 620.3,279.7 620.8,279.5 621.3,279.7 621.8,279 622.3,278.5 622.8,278.9 623.3,279.6 623.8,280.4 624.3,280.2 624.8,281.3 625.3,280.5 625.8,280.8 626.3,280.9 626.8,279.9 627.3,281.5 627.8,280.6 628.3,281.2 628.8,283 629.3,281.1 629.8,282 630.3,282.3 630.8,282.4 631.3,282.5 631.8,282.3 632.3,284 632.8,281.7 633.3,282.5 633.8,284.2 634.3,283.8 634.8,283.1 635.3,283.2 635.8,283.8 636.3,285.6 636.8,284.3 637.3,283.5 637.8,284.3 638.3,283.8 638.8,285.1 639.3,284.4 639.8,285 640.3,284.4 640.8,285.6 641.3,284.7 641.8,284.6 642.3,283.9 642.8,284.3 643.3,284.8 643.8,284.3 644.3,286.2 644.8,284.7 645.3,284.3 645.8,285.4 646.3,284.5 646.8,285.1 647.3,284.9 647.8,284.5 648.3,285.8 648.8,285.1 649.3,285.7 649.8,284.9 650.3,284.3 650.8,284.5 651.3,284.9 651.8,285.2 652.3,285.4 652.8,285.7 653.3,284.7 653.8,285.6 654.3,284.8 654.8,285.1 655.3,287.1 655.8,286.4 656.3,285.4 656.8,286.8 657.3,286.6 657.8,286.3 658.3,286.7 658.8,285.7 659.3,285.8 659.8,285.4 660.3,286.3 660.8,285.2 661.3,285.7 661.8,286.3 662.3,285.8 662.8,286.3 663.3,287.2 663.8,285.6 664.3,287.1 664.8,285.8 665.3,285.7 665.8,286.4 666.3,287 666.8,285.9 667.3,286 667.8,286.2 668.3,286 668.8,286.6 669.3,286.1 669.8,286.4 670.3,286.8 670.8,286.4 671.3,287.3" fill="none" stroke="#ff1a1a" stroke-width="1.4" stroke-linejoin="round" stroke-opacity="0.9"/>
<polyline points="389.8,290.1 390.3,289.9 390.8,291.4 391.3,291 391.8,290 392.3,290.3 392.8,289.9 393.3,289.2 393.8,289.8 394.3,289.4 394.8,289.8 395.3,287.8 395.8,289.3 396.3,288.8 396.8,288.1 397.3,288.1 397.8,288 398.3,287.3 398.8,287.6 399.3,288.3 399.8,286.7 400.3,287.2 400.8,285.9 401.3,286.8 401.8,287.2 402.3,286.8 402.8,286.7 403.3,285.9 403.8,286.7 404.3,285.7 404.8,286.6 405.3,286 405.8,285.5 406.3,286.4 406.8,285.1 407.3,285.8 407.8,285.1 408.3,284.9 408.8,285.3 409.3,284.8 409.8,284.4 410.3,284.1 410.8,284.1 411.3,283.9 411.8,283.5 412.3,282.9 412.8,281.9 413.3,283.2 413.8,283 414.3,283.8 414.8,283.2 415.3,283.5 415.8,283.8 416.3,282.6 416.8,282 417.3,282.9 417.8,281.9 418.3,282 418.8,282.9 419.3,282.3 419.8,282.5 420.3,280.9 420.8,281.6 421.3,282.3 421.8,280.8 422.3,281.7 422.8,281.8 423.3,280.1 423.8,282.5 424.3,281.1 424.8,281.4 425.3,282.5 425.8,280.4 426.3,281.7 426.8,281.1 427.3,281.4 427.8,280.9 428.3,282.2 428.8,280.7 429.3,281.5 429.8,281.6 430.3,281.2 430.8,281.1 431.3,281.1 431.8,281.8 432.3,281.5 432.8,281.1 433.3,280.5 433.8,281.3 434.3,281.5 434.8,281.1 435.3,282 435.8,280 436.3,282.6 436.8,281 437.3,280.4 437.8,280 438.3,281.5 438.8,281.3 439.3,280.9 439.8,281 440.3,281.1 440.8,280.7 441.3,281.6 441.8,281.3 442.3,280.9 442.8,279.9 443.3,281.7 443.8,280.6 444.3,280.3 444.8,281.7 445.3,281.2 445.8,279.7 446.3,279.9 446.8,280.6 447.3,280.1 447.8,280.7 448.3,282.4 448.8,282.6 449.3,280.8 449.8,281.3 450.3,281.3 450.8,280.7 451.3,279.9 451.8,281.4 452.3,280.7 452.8,281 453.3,281.2 453.8,280.2 454.3,281.7 454.8,280.8 455.3,280.8 455.8,280.4 456.3,281.1 456.8,281.3 457.3,280.3 457.8,281 458.3,280.4 458.8,279.9 459.3,280.4 459.8,281 460.3,280.9 460.8,281.3 461.3,280.2 461.8,280.4 462.3,280.6 462.8,280.9 463.3,280.5 463.8,279.9 464.3,279.6 464.8,281.2 465.3,281.1 465.8,280.1 466.3,281.3 466.8,280.4 467.3,280.7 467.8,281.2 468.3,280.1 468.8,279.9 469.3,279.3 469.8,280.5 470.3,280.6 470.8,280.8 471.3,280.7 471.8,280.3 472.3,281 472.8,279.6 473.3,280.5 473.8,280.5 474.3,280.1 474.8,281.2 475.3,280.4 475.8,281 476.3,280.7 476.8,280 477.3,281.3 477.8,280.8 478.3,280.1 478.8,280 479.3,279.4 479.8,279.9 480.3,279.9 480.8,280.1 481.3,279.7 481.8,280.3 482.3,279.9 482.8,279 483.3,279.6 483.8,279.4 484.3,279.1 484.8,279.7 485.3,280.4 485.8,279.2 486.3,278.6 486.8,279.7 487.3,281.6 487.8,279.5 488.3,280 488.8,279.6 489.3,280.4 489.8,280.7 490.3,279.8 490.8,280.6 491.3,279.2 491.8,280 492.3,279.1 492.8,280 493.3,279.6 493.8,280.1 494.3,279.3 494.8,280.1 495.3,280 495.8,279.6 496.3,279.5 496.8,279.3 497.3,279.8 497.8,280.3 498.3,280 498.8,280.1 499.3,280.8 499.8,279.9 500.3,280.3 500.8,280.6 501.3,280.4 501.8,280.3 502.3,280.2 502.8,281.3 503.3,280.1 503.8,279.9 504.3,280.5 504.8,281.2 505.3,281 505.8,280.2 506.3,280.7 506.8,280.5 507.3,280.3 507.8,280.6 508.3,280.6 508.8,280.3 509.3,281.3 509.8,280 510.3,281.1 510.8,281.6 511.3,281.6 511.8,280.5 512.3,280.2 512.8,279.4 513.3,280.3 513.8,281.8 514.3,279.4 514.8,279.4 515.3,280.9 515.8,280.8 516.3,279.3 516.8,280.4 517.3,280.6 517.8,279.5 518.3,281 518.8,279.7 519.3,281.1 519.8,280.6 520.3,280.1 520.8,279.5 521.3,280.3 521.8,280.5 522.3,280.4 522.8,280.2 523.3,280.4 523.8,281 524.3,280 524.8,280.4 525.3,280.8 525.8,280.5 526.3,281 526.8,281.4 527.3,280.3 527.8,280.6 528.3,278.7 528.8,280.3 529.3,280.9 529.8,279.8 530.3,281.3 530.8,279.3 531.3,281.3 531.8,280.2 532.3,279.8 532.8,280.2 533.3,280.3 533.8,279.8 534.3,279.6 534.8,280.1 535.3,281 535.8,280.7 536.3,281.3 536.8,280.1 537.3,280.2 537.8,280.2 538.3,280.5 538.8,280.7 539.3,281.5 539.8,280.8 540.3,280.5 540.8,281.2 541.3,279.9 541.8,279.6 542.3,280.8 542.8,280.5 543.3,280.5 543.8,281 544.3,280.2 544.8,280.3 545.3,280.6 545.8,280.8 546.3,281 546.8,280.5 547.3,280.5 547.8,278.9 548.3,281.1 548.8,279.4 549.3,280.3 549.8,281.9 550.3,280.2 550.8,279.4 551.3,281.3 551.8,280 552.3,280.3 552.8,280.3 553.3,280.8 553.8,280.8 554.3,280.3 554.8,281 555.3,279.8 555.8,280.7 556.3,280 556.8,280.8 557.3,279.9 557.8,280.1 558.3,281.2 558.8,279.7 559.3,279.6 559.8,280.7 560.3,280.2 560.8,280.1 561.3,280.2 561.8,281.6 562.3,279.7 562.8,280.1 563.3,280.3 563.8,279.5 564.3,279.9 564.8,280.1 565.3,279.1 565.8,280.2 566.3,278.7 566.8,279.2 567.3,279.4 567.8,280.9 568.3,277.8 568.8,278.9 569.3,280.1 569.8,278.1 570.3,279.2 570.8,278.7 571.3,277.7 571.8,278.8 572.3,278.1 572.8,278.7 573.3,277.8 573.8,279.2 574.3,277.3 574.8,278.7 575.3,279.6 575.8,279.1 576.3,278.6 576.8,278.7 577.3,278.6 577.8,280.6 578.3,278.9 578.8,279 579.3,278.6 579.8,278.8 580.3,279.4 580.8,278.7 581.3,278.6 581.8,278.8 582.3,279 582.8,279.3 583.3,278.9 583.8,279.1 584.3,278.8 584.8,280 585.3,279.4 585.8,279.2 586.3,279.6 586.8,279.4 587.3,278.5 587.8,279.4 588.3,280.5 588.8,279.8 589.3,280.3 589.8,279.2 590.3,278.7 590.8,279.2 591.3,280.4 591.8,279.1 592.3,279.2 592.8,280.4 593.3,279.6 593.8,279.6 594.3,280 594.8,279.8 595.3,279.6 595.8,280 596.3,279.4 596.8,279.8 597.3,280.3 597.8,279.2 598.3,279.8 598.8,279.2 599.3,280.4 599.8,280.3 600.3,280.5 600.8,280.6 601.3,280.6 601.8,280.5 602.3,279.6 602.8,280.6 603.3,279.5 603.8,281.5 604.3,280.3 604.8,280.5 605.3,279.4 605.8,280.8 606.3,280.9 606.8,279.3 607.3,279.9 607.8,280 608.3,279.9 608.8,281.1 609.3,281.6 609.8,279.7 610.3,281 610.8,280.2 611.3,281.2 611.8,278.9 612.3,280.2 612.8,281.2 613.3,280 613.8,281.2 614.3,280.2 614.8,281.2 615.3,280.9 615.8,280.3 616.3,280.1 616.8,280.5 617.3,281.3 617.8,280.6 618.3,280.3 618.8,282.7 619.3,279.7 619.8,280.6 620.3,281.1 620.8,280.1 621.3,280.8 621.8,280.5 622.3,279.9 622.8,281.3 623.3,280.5 623.8,280.9 624.3,282.2 624.8,281 625.3,282.2 625.8,282.7 626.3,282.7 626.8,282.6 627.3,282.3 627.8,281.8 628.3,282.9 628.8,283.2 629.3,282.8 629.8,282.7 630.3,284 630.8,283 631.3,284 631.8,283.7 632.3,283.1 632.8,285.2 633.3,284.8 633.8,284.9 634.3,283.9 634.8,284.9 635.3,285.3 635.8,284.8 636.3,286.3 636.8,284.2 637.3,285.8 637.8,284.3 638.3,284.5 638.8,284.8 639.3,285.9 639.8,285.2 640.3,285.2 640.8,285.1 641.3,284.8 641.8,285.2 642.3,285.2 642.8,285.7 643.3,285.7 643.8,284.5 644.3,285.6 644.8,286.7 645.3,285.8 645.8,286.1 646.3,285.7 646.8,285.8 647.3,286.2 647.8,285.4 648.3,286.2 648.8,285.3 649.3,286.6 649.8,285.5 650.3,286.8 650.8,287.1 651.3,285.6 651.8,287 652.3,286.4 652.8,287.4 653.3,286.4 653.8,286.6 654.3,286.6 654.8,287.6 655.3,285.7 655.8,287.4 656.3,287 656.8,286.7 657.3,286.9 657.8,287.6 658.3,287.6 658.8,288.2 659.3,286.8 659.8,286.1 660.3,286.9 660.8,287.2 661.3,287 661.8,288.1 662.3,288.7 662.8,287.6 663.3,286.4 663.8,288.1 664.3,287.1 664.8,287.5 665.3,288.1 665.8,287.8 666.3,287.6 666.8,287.8 667.3,288.1 667.8,288.1 668.3,289 668.8,286 669.3,287.3 669.8,287.5 670.3,288.4 670.8,288 671.3,288.4" fill="none" stroke="#ff1a1a" stroke-width="1.4" stroke-linejoin="round" stroke-opacity="0.9"/>
<path d="M388.7 289.1l2.2 2.2m-2.2 0l2.2 -2.2M389.1 285.3l2.2 2.2m-2.2 0l2.2 -2.2M389.4 286.3l2.2 2.2m-2.2 0l2.2 -2.2M390 284.9l2.2 2.2m-2.2 0l2.2 -2.2M390.2 288.8l2.2 2.2m-2.2 0l2.2 -2.2M391 285.8l2.2 2.2m-2.2 0l2.2 -2.2M391.5 287.4l2.2 2.2m-2.2 0l2.2 -2.2M391.3 288.5l2.2 2.2m-2.2 0l2.2 -2.2M391.6 287.6l2.2 2.2m-2.2 0l2.2 -2.2M392.4 284.5l2.2 2.2m-2.2 0l2.2 -2.2M392.5 283.7l2.2 2.2m-2.2 0l2.2 -2.2M392.9 288.7l2.2 2.2m-2.2 0l2.2 -2.2M393.7 287.2l2.2 2.2m-2.2 0l2.2 -2.2M394.2 286.1l2.2 2.2m-2.2 0l2.2 -2.2M394 284.2l2.2 2.2m-2.2 0l2.2 -2.2M394.6 287.3l2.2 2.2m-2.2 0l2.2 -2.2M395.1 283.9l2.2 2.2m-2.2 0l2.2 -2.2M395.5 286.5l2.2 2.2m-2.2 0l2.2 -2.2M395.8 287.1l2.2 2.2m-2.2 0l2.2 -2.2M396.6 286.9l2.2 2.2m-2.2 0l2.2 -2.2M396.8 285.6l2.2 2.2m-2.2 0l2.2 -2.2M396.9 285.4l2.2 2.2m-2.2 0l2.2 -2.2M397.7 283.5l2.2 2.2m-2.2 0l2.2 -2.2M397.8 282.8l2.2 2.2m-2.2 0l2.2 -2.2M398.6 283.9l2.2 2.2m-2.2 0l2.2 -2.2M398.5 284.7l2.2 2.2m-2.2 0l2.2 -2.2M398.7 284.1l2.2 2.2m-2.2 0l2.2 -2.2M399.6 283.1l2.2 2.2m-2.2 0l2.2 -2.2M399.7 282.7l2.2 2.2m-2.2 0l2.2 -2.2M400.1 286.3l2.2 2.2m-2.2 0l2.2 -2.2M401.1 284.3l2.2 2.2m-2.2 0l2.2 -2.2M401 281.5l2.2 2.2m-2.2 0l2.2 -2.2M401.7 285.3l2.2 2.2m-2.2 0l2.2 -2.2M402.1 284.2l2.2 2.2m-2.2 0l2.2 -2.2M401.9 281.4l2.2 2.2m-2.2 0l2.2 -2.2M403 281.2l2.2 2.2m-2.2 0l2.2 -2.2M403.3 281.4l2.2 2.2m-2.2 0l2.2 -2.2M403.8 280.7l2.2 2.2m-2.2 0l2.2 -2.2M404.2 284.4l2.2 2.2m-2.2 0l2.2 -2.2M404.4 285.4l2.2 2.2m-2.2 0l2.2 -2.2M405.1 284.7l2.2 2.2m-2.2 0l2.2 -2.2M404.7 280.2l2.2 2.2m-2.2 0l2.2 -2.2M405.6 283.7l2.2 2.2m-2.2 0l2.2 -2.2M406 280.8l2.2 2.2m-2.2 0l2.2 -2.2M406.2 283l2.2 2.2m-2.2 0l2.2 -2.2M407.1 279.5l2.2 2.2m-2.2 0l2.2 -2.2M406.8 282l2.2 2.2m-2.2 0l2.2 -2.2M407.8 283.3l2.2 2.2m-2.2 0l2.2 -2.2M408.1 280.8l2.2 2.2m-2.2 0l2.2 -2.2M408.5 279l2.2 2.2m-2.2 0l2.2 -2.2M408.9 283.9l2.2 2.2m-2.2 0l2.2 -2.2M409 279.8l2.2 2.2m-2.2 0l2.2 -2.2M409.4 281.9l2.2 2.2m-2.2 0l2.2 -2.2M410.1 283.6l2.2 2.2m-2.2 0l2.2 -2.2M410.5 280.3l2.2 2.2m-2.2 0l2.2 -2.2M410.6 278.2l2.2 2.2m-2.2 0l2.2 -2.2M411 277.9l2.2 2.2m-2.2 0l2.2 -2.2M411.5 278.6l2.2 2.2m-2.2 0l2.2 -2.2M411.5 279.3l2.2 2.2m-2.2 0l2.2 -2.2M412.2 278.3l2.2 2.2m-2.2 0l2.2 -2.2M412.5 280.6l2.2 2.2m-2.2 0l2.2 -2.2M413.5 279.5l2.2 2.2m-2.2 0l2.2 -2.2M413.5 279.4l2.2 2.2m-2.2 0l2.2 -2.2M414.2 279.8l2.2 2.2m-2.2 0l2.2 -2.2M414.3 277.9l2.2 2.2m-2.2 0l2.2 -2.2M414.7 281.3l2.2 2.2m-2.2 0l2.2 -2.2M415 278.6l2.2 2.2m-2.2 0l2.2 -2.2M415.6 277.8l2.2 2.2m-2.2 0l2.2 -2.2M416.1 281.3l2.2 2.2m-2.2 0l2.2 -2.2M416.5 276.8l2.2 2.2m-2.2 0l2.2 -2.2M416.6 280.5l2.2 2.2m-2.2 0l2.2 -2.2M417.5 277.9l2.2 2.2m-2.2 0l2.2 -2.2M417.7 277l2.2 2.2m-2.2 0l2.2 -2.2M417.9 277.6l2.2 2.2m-2.2 0l2.2 -2.2M418.6 279.9l2.2 2.2m-2.2 0l2.2 -2.2M418.4 280.2l2.2 2.2m-2.2 0l2.2 -2.2M419.5 280.7l2.2 2.2m-2.2 0l2.2 -2.2M419.3 276l2.2 2.2m-2.2 0l2.2 -2.2M419.9 280.6l2.2 2.2m-2.2 0l2.2 -2.2M420.5 275.8l2.2 2.2m-2.2 0l2.2 -2.2M420.4 281.1l2.2 2.2m-2.2 0l2.2 -2.2M421.2 280.5l2.2 2.2m-2.2 0l2.2 -2.2M421.1 279l2.2 2.2m-2.2 0l2.2 -2.2M422.3 281l2.2 2.2m-2.2 0l2.2 -2.2M422.6 276.4l2.2 2.2m-2.2 0l2.2 -2.2M422.3 277.6l2.2 2.2m-2.2 0l2.2 -2.2M423.4 278.5l2.2 2.2m-2.2 0l2.2 -2.2M423.1 278.8l2.2 2.2m-2.2 0l2.2 -2.2M423.8 280.4l2.2 2.2m-2.2 0l2.2 -2.2M424.2 278.7l2.2 2.2m-2.2 0l2.2 -2.2M424.7 280.9l2.2 2.2m-2.2 0l2.2 -2.2M425.5 280.1l2.2 2.2m-2.2 0l2.2 -2.2M425.8 278.8l2.2 2.2m-2.2 0l2.2 -2.2M425.7 276.7l2.2 2.2m-2.2 0l2.2 -2.2M426.4 279.6l2.2 2.2m-2.2 0l2.2 -2.2M426.6 280.8l2.2 2.2m-2.2 0l2.2 -2.2M427 276.5l2.2 2.2m-2.2 0l2.2 -2.2M427.5 280.4l2.2 2.2m-2.2 0l2.2 -2.2M427.9 277.2l2.2 2.2m-2.2 0l2.2 -2.2M428 279.5l2.2 2.2m-2.2 0l2.2 -2.2M428.6 279.3l2.2 2.2m-2.2 0l2.2 -2.2M429.3 280.3l2.2 2.2m-2.2 0l2.2 -2.2M429.1 279.6l2.2 2.2m-2.2 0l2.2 -2.2M429.5 278.3l2.2 2.2m-2.2 0l2.2 -2.2M430 277.3l2.2 2.2m-2.2 0l2.2 -2.2M430.5 278.1l2.2 2.2m-2.2 0l2.2 -2.2M431.3 277.1l2.2 2.2m-2.2 0l2.2 -2.2M431.7 279.6l2.2 2.2m-2.2 0l2.2 -2.2M431.8 279.4l2.2 2.2m-2.2 0l2.2 -2.2M431.9 275.5l2.2 2.2m-2.2 0l2.2 -2.2M433.1 278.5l2.2 2.2m-2.2 0l2.2 -2.2M433.1 278.1l2.2 2.2m-2.2 0l2.2 -2.2M433.4 280l2.2 2.2m-2.2 0l2.2 -2.2M434.3 276.5l2.2 2.2m-2.2 0l2.2 -2.2M434.3 275.3l2.2 2.2m-2.2 0l2.2 -2.2M434.5 276.2l2.2 2.2m-2.2 0l2.2 -2.2M435.2 280.4l2.2 2.2m-2.2 0l2.2 -2.2M435.2 278.2l2.2 2.2m-2.2 0l2.2 -2.2M435.8 280.3l2.2 2.2m-2.2 0l2.2 -2.2M436.3 275.7l2.2 2.2m-2.2 0l2.2 -2.2M437 275.6l2.2 2.2m-2.2 0l2.2 -2.2M436.9 277.4l2.2 2.2m-2.2 0l2.2 -2.2M437.3 276.5l2.2 2.2m-2.2 0l2.2 -2.2M438 276.2l2.2 2.2m-2.2 0l2.2 -2.2M438.3 276.1l2.2 2.2m-2.2 0l2.2 -2.2M438.9 279.9l2.2 2.2m-2.2 0l2.2 -2.2M439 278.1l2.2 2.2m-2.2 0l2.2 -2.2M439.3 277l2.2 2.2m-2.2 0l2.2 -2.2M440.3 277.4l2.2 2.2m-2.2 0l2.2 -2.2M440.1 278.1l2.2 2.2m-2.2 0l2.2 -2.2M440.7 276.6l2.2 2.2m-2.2 0l2.2 -2.2M441 277.6l2.2 2.2m-2.2 0l2.2 -2.2M441.7 278.1l2.2 2.2m-2.2 0l2.2 -2.2M442.1 278.9l2.2 2.2m-2.2 0l2.2 -2.2M442.6 277.9l2.2 2.2m-2.2 0l2.2 -2.2M442.8 275.5l2.2 2.2m-2.2 0l2.2 -2.2M443.3 279.6l2.2 2.2m-2.2 0l2.2 -2.2M443.2 280.3l2.2 2.2m-2.2 0l2.2 -2.2M444.1 278.7l2.2 2.2m-2.2 0l2.2 -2.2M444.1 277.2l2.2 2.2m-2.2 0l2.2 -2.2M445 277.5l2.2 2.2m-2.2 0l2.2 -2.2M445.3 276.2l2.2 2.2m-2.2 0l2.2 -2.2M445.5 279.1l2.2 2.2m-2.2 0l2.2 -2.2M446.3 277.8l2.2 2.2m-2.2 0l2.2 -2.2M446 275.7l2.2 2.2m-2.2 0l2.2 -2.2M446.4 277.8l2.2 2.2m-2.2 0l2.2 -2.2M446.8 276.4l2.2 2.2m-2.2 0l2.2 -2.2M447.5 280.2l2.2 2.2m-2.2 0l2.2 -2.2M447.8 276.4l2.2 2.2m-2.2 0l2.2 -2.2M448.2 276l2.2 2.2m-2.2 0l2.2 -2.2M449 275.9l2.2 2.2m-2.2 0l2.2 -2.2M448.8 278l2.2 2.2m-2.2 0l2.2 -2.2M449.5 279.6l2.2 2.2m-2.2 0l2.2 -2.2M450.1 275.1l2.2 2.2m-2.2 0l2.2 -2.2M450.3 278.6l2.2 2.2m-2.2 0l2.2 -2.2M450.9 277.2l2.2 2.2m-2.2 0l2.2 -2.2M451.1 280.3l2.2 2.2m-2.2 0l2.2 -2.2M451.5 279.8l2.2 2.2m-2.2 0l2.2 -2.2M452.1 276.2l2.2 2.2m-2.2 0l2.2 -2.2M452 279.2l2.2 2.2m-2.2 0l2.2 -2.2M452.4 276.1l2.2 2.2m-2.2 0l2.2 -2.2M453 275.1l2.2 2.2m-2.2 0l2.2 -2.2M453.6 277.6l2.2 2.2m-2.2 0l2.2 -2.2M454.2 277.6l2.2 2.2m-2.2 0l2.2 -2.2M454.7 275.8l2.2 2.2m-2.2 0l2.2 -2.2M454.3 279l2.2 2.2m-2.2 0l2.2 -2.2M454.8 275.1l2.2 2.2m-2.2 0l2.2 -2.2M455.6 278.2l2.2 2.2m-2.2 0l2.2 -2.2M456 276.2l2.2 2.2m-2.2 0l2.2 -2.2M456.5 276.7l2.2 2.2m-2.2 0l2.2 -2.2M456.5 278.8l2.2 2.2m-2.2 0l2.2 -2.2M457.2 275.2l2.2 2.2m-2.2 0l2.2 -2.2M457.6 275.3l2.2 2.2m-2.2 0l2.2 -2.2M457.6 278.5l2.2 2.2m-2.2 0l2.2 -2.2M458.2 279l2.2 2.2m-2.2 0l2.2 -2.2M458.7 278.2l2.2 2.2m-2.2 0l2.2 -2.2M459.1 278.7l2.2 2.2m-2.2 0l2.2 -2.2M459.5 277.6l2.2 2.2m-2.2 0l2.2 -2.2M460 275.6l2.2 2.2m-2.2 0l2.2 -2.2M460.2 274.9l2.2 2.2m-2.2 0l2.2 -2.2M461 279l2.2 2.2m-2.2 0l2.2 -2.2M461.3 279.3l2.2 2.2m-2.2 0l2.2 -2.2M461.9 280l2.2 2.2m-2.2 0l2.2 -2.2M462 276.9l2.2 2.2m-2.2 0l2.2 -2.2M462.4 275.5l2.2 2.2m-2.2 0l2.2 -2.2M463 276.5l2.2 2.2m-2.2 0l2.2 -2.2M462.8 275.4l2.2 2.2m-2.2 0l2.2 -2.2M463.5 278.2l2.2 2.2m-2.2 0l2.2 -2.2M464 278l2.2 2.2m-2.2 0l2.2 -2.2M464.4 274.9l2.2 2.2m-2.2 0l2.2 -2.2M464.5 277l2.2 2.2m-2.2 0l2.2 -2.2M465.3 279.1l2.2 2.2m-2.2 0l2.2 -2.2M465.4 278.2l2.2 2.2m-2.2 0l2.2 -2.2M465.5 275.4l2.2 2.2m-2.2 0l2.2 -2.2M466.3 279.3l2.2 2.2m-2.2 0l2.2 -2.2M466.5 277.2l2.2 2.2m-2.2 0l2.2 -2.2M467.2 276.8l2.2 2.2m-2.2 0l2.2 -2.2M467.8 276.9l2.2 2.2m-2.2 0l2.2 -2.2M467.6 275.6l2.2 2.2m-2.2 0l2.2 -2.2M468.1 279.2l2.2 2.2m-2.2 0l2.2 -2.2M468.9 276.2l2.2 2.2m-2.2 0l2.2 -2.2M469.1 274.6l2.2 2.2m-2.2 0l2.2 -2.2M469.9 276.2l2.2 2.2m-2.2 0l2.2 -2.2M469.9 277.3l2.2 2.2m-2.2 0l2.2 -2.2M470.5 278l2.2 2.2m-2.2 0l2.2 -2.2M470.3 276l2.2 2.2m-2.2 0l2.2 -2.2M471.1 277.6l2.2 2.2m-2.2 0l2.2 -2.2M471.7 275.6l2.2 2.2m-2.2 0l2.2 -2.2M472.3 278.4l2.2 2.2m-2.2 0l2.2 -2.2M472.1 279.6l2.2 2.2m-2.2 0l2.2 -2.2M472.9 276.5l2.2 2.2m-2.2 0l2.2 -2.2M473.4 274.4l2.2 2.2m-2.2 0l2.2 -2.2M473.3 277.9l2.2 2.2m-2.2 0l2.2 -2.2M473.9 279.2l2.2 2.2m-2.2 0l2.2 -2.2M474.5 275.6l2.2 2.2m-2.2 0l2.2 -2.2M474.4 279.3l2.2 2.2m-2.2 0l2.2 -2.2M474.8 279.5l2.2 2.2m-2.2 0l2.2 -2.2M475.5 278l2.2 2.2m-2.2 0l2.2 -2.2M476.3 279.1l2.2 2.2m-2.2 0l2.2 -2.2M476.3 274.8l2.2 2.2m-2.2 0l2.2 -2.2M476.6 279l2.2 2.2m-2.2 0l2.2 -2.2M477.1 275.2l2.2 2.2m-2.2 0l2.2 -2.2M477.2 274.5l2.2 2.2m-2.2 0l2.2 -2.2M478.2 278.9l2.2 2.2m-2.2 0l2.2 -2.2M477.9 278.6l2.2 2.2m-2.2 0l2.2 -2.2M478.7 277.8l2.2 2.2m-2.2 0l2.2 -2.2M479 277.8l2.2 2.2m-2.2 0l2.2 -2.2M479.8 275.8l2.2 2.2m-2.2 0l2.2 -2.2M480 277.9l2.2 2.2m-2.2 0l2.2 -2.2M480.1 276.9l2.2 2.2m-2.2 0l2.2 -2.2M481 276.5l2.2 2.2m-2.2 0l2.2 -2.2M480.8 278.8l2.2 2.2m-2.2 0l2.2 -2.2M481.6 278.4l2.2 2.2m-2.2 0l2.2 -2.2M481.8 277.7l2.2 2.2m-2.2 0l2.2 -2.2M482.4 279.2l2.2 2.2m-2.2 0l2.2 -2.2M482.4 278.7l2.2 2.2m-2.2 0l2.2 -2.2M482.9 276.8l2.2 2.2m-2.2 0l2.2 -2.2M483.4 276.3l2.2 2.2m-2.2 0l2.2 -2.2M483.6 277.1l2.2 2.2m-2.2 0l2.2 -2.2M484.2 276.5l2.2 2.2m-2.2 0l2.2 -2.2M484.5 277.8l2.2 2.2m-2.2 0l2.2 -2.2M484.9 275.9l2.2 2.2m-2.2 0l2.2 -2.2M485.2 279.1l2.2 2.2m-2.2 0l2.2 -2.2M486.2 275l2.2 2.2m-2.2 0l2.2 -2.2M486.5 276l2.2 2.2m-2.2 0l2.2 -2.2M486.4 274.4l2.2 2.2m-2.2 0l2.2 -2.2M486.8 277.3l2.2 2.2m-2.2 0l2.2 -2.2M487.4 275.3l2.2 2.2m-2.2 0l2.2 -2.2M487.6 277.4l2.2 2.2m-2.2 0l2.2 -2.2M488.2 274.3l2.2 2.2m-2.2 0l2.2 -2.2M488.9 277.7l2.2 2.2m-2.2 0l2.2 -2.2M489 277.1l2.2 2.2m-2.2 0l2.2 -2.2M489.4 279.1l2.2 2.2m-2.2 0l2.2 -2.2M490.1 278.2l2.2 2.2m-2.2 0l2.2 -2.2M490.3 277.7l2.2 2.2m-2.2 0l2.2 -2.2M490.8 275.2l2.2 2.2m-2.2 0l2.2 -2.2M491.5 274.1l2.2 2.2m-2.2 0l2.2 -2.2M491.5 276.9l2.2 2.2m-2.2 0l2.2 -2.2M492.2 279.3l2.2 2.2m-2.2 0l2.2 -2.2M492.6 275.7l2.2 2.2m-2.2 0l2.2 -2.2M492.4 279.1l2.2 2.2m-2.2 0l2.2 -2.2M493 276.5l2.2 2.2m-2.2 0l2.2 -2.2M493.6 277.2l2.2 2.2m-2.2 0l2.2 -2.2M494 276.3l2.2 2.2m-2.2 0l2.2 -2.2M494.3 277.5l2.2 2.2m-2.2 0l2.2 -2.2M494.5 274.3l2.2 2.2m-2.2 0l2.2 -2.2M495.3 276.2l2.2 2.2m-2.2 0l2.2 -2.2M495.3 276.1l2.2 2.2m-2.2 0l2.2 -2.2M496.1 274.4l2.2 2.2m-2.2 0l2.2 -2.2M496.3 276.2l2.2 2.2m-2.2 0l2.2 -2.2M496.8 279l2.2 2.2m-2.2 0l2.2 -2.2M496.9 275.5l2.2 2.2m-2.2 0l2.2 -2.2M497.8 277.6l2.2 2.2m-2.2 0l2.2 -2.2M497.8 275.2l2.2 2.2m-2.2 0l2.2 -2.2M498 275.3l2.2 2.2m-2.2 0l2.2 -2.2M498.6 278l2.2 2.2m-2.2 0l2.2 -2.2M499.4 276.5l2.2 2.2m-2.2 0l2.2 -2.2M499.3 274.3l2.2 2.2m-2.2 0l2.2 -2.2M499.5 274.5l2.2 2.2m-2.2 0l2.2 -2.2M500.2 277.2l2.2 2.2m-2.2 0l2.2 -2.2M500.5 278l2.2 2.2m-2.2 0l2.2 -2.2M501.3 275l2.2 2.2m-2.2 0l2.2 -2.2M501.5 274.5l2.2 2.2m-2.2 0l2.2 -2.2M502.2 274.6l2.2 2.2m-2.2 0l2.2 -2.2M501.9 279.2l2.2 2.2m-2.2 0l2.2 -2.2M502.7 279.5l2.2 2.2m-2.2 0l2.2 -2.2M503.4 278.4l2.2 2.2m-2.2 0l2.2 -2.2M503.5 276.8l2.2 2.2m-2.2 0l2.2 -2.2M504 276.1l2.2 2.2m-2.2 0l2.2 -2.2M504.4 274.5l2.2 2.2m-2.2 0l2.2 -2.2M504.9 278.4l2.2 2.2m-2.2 0l2.2 -2.2M505 277.7l2.2 2.2m-2.2 0l2.2 -2.2M505.4 278.1l2.2 2.2m-2.2 0l2.2 -2.2M505.7 277.9l2.2 2.2m-2.2 0l2.2 -2.2M506.4 275.8l2.2 2.2m-2.2 0l2.2 -2.2M507 275.3l2.2 2.2m-2.2 0l2.2 -2.2M507.1 278.9l2.2 2.2m-2.2 0l2.2 -2.2M507.4 275.8l2.2 2.2m-2.2 0l2.2 -2.2M508.1 275.2l2.2 2.2m-2.2 0l2.2 -2.2M508 279.7l2.2 2.2m-2.2 0l2.2 -2.2M508.6 274.8l2.2 2.2m-2.2 0l2.2 -2.2M508.9 279.8l2.2 2.2m-2.2 0l2.2 -2.2M509.4 275.5l2.2 2.2m-2.2 0l2.2 -2.2M509.7 276.3l2.2 2.2m-2.2 0l2.2 -2.2M510 277.6l2.2 2.2m-2.2 0l2.2 -2.2M510.7 274.9l2.2 2.2m-2.2 0l2.2 -2.2M510.9 279.7l2.2 2.2m-2.2 0l2.2 -2.2M511.3 275.7l2.2 2.2m-2.2 0l2.2 -2.2M511.6 274.9l2.2 2.2m-2.2 0l2.2 -2.2M512.1 276.2l2.2 2.2m-2.2 0l2.2 -2.2M512.4 277.7l2.2 2.2m-2.2 0l2.2 -2.2M513.2 279.5l2.2 2.2m-2.2 0l2.2 -2.2M513.2 278.9l2.2 2.2m-2.2 0l2.2 -2.2M513.8 279l2.2 2.2m-2.2 0l2.2 -2.2M514.6 276.3l2.2 2.2m-2.2 0l2.2 -2.2M514.5 276.9l2.2 2.2m-2.2 0l2.2 -2.2M515.2 276.7l2.2 2.2m-2.2 0l2.2 -2.2M515.5 275.9l2.2 2.2m-2.2 0l2.2 -2.2M515.6 276.4l2.2 2.2m-2.2 0l2.2 -2.2M516.6 274.7l2.2 2.2m-2.2 0l2.2 -2.2M516.5 279.5l2.2 2.2m-2.2 0l2.2 -2.2M517 278.8l2.2 2.2m-2.2 0l2.2 -2.2M517.3 276.5l2.2 2.2m-2.2 0l2.2 -2.2M517.8 276.4l2.2 2.2m-2.2 0l2.2 -2.2M518.6 275.2l2.2 2.2m-2.2 0l2.2 -2.2M518.5 276.9l2.2 2.2m-2.2 0l2.2 -2.2M519.1 276.9l2.2 2.2m-2.2 0l2.2 -2.2M519.2 278.7l2.2 2.2m-2.2 0l2.2 -2.2M520.1 277.4l2.2 2.2m-2.2 0l2.2 -2.2M520 279.1l2.2 2.2m-2.2 0l2.2 -2.2M520.9 276.7l2.2 2.2m-2.2 0l2.2 -2.2M521.2 276.5l2.2 2.2m-2.2 0l2.2 -2.2M521.4 276.1l2.2 2.2m-2.2 0l2.2 -2.2M522 275.1l2.2 2.2m-2.2 0l2.2 -2.2M522 276.3l2.2 2.2m-2.2 0l2.2 -2.2M522.4 276.1l2.2 2.2m-2.2 0l2.2 -2.2M523.5 276.7l2.2 2.2m-2.2 0l2.2 -2.2M523.8 279.7l2.2 2.2m-2.2 0l2.2 -2.2M524.2 279l2.2 2.2m-2.2 0l2.2 -2.2M524.3 275.6l2.2 2.2m-2.2 0l2.2 -2.2M525.1 279l2.2 2.2m-2.2 0l2.2 -2.2M524.8 278l2.2 2.2m-2.2 0l2.2 -2.2M525.3 276.5l2.2 2.2m-2.2 0l2.2 -2.2M526.1 278.8l2.2 2.2m-2.2 0l2.2 -2.2M525.9 276.8l2.2 2.2m-2.2 0l2.2 -2.2M527 279.7l2.2 2.2m-2.2 0l2.2 -2.2M527.3 279.7l2.2 2.2m-2.2 0l2.2 -2.2M527.3 280.1l2.2 2.2m-2.2 0l2.2 -2.2M528.2 275.3l2.2 2.2m-2.2 0l2.2 -2.2M528.1 279.1l2.2 2.2m-2.2 0l2.2 -2.2M528.4 277.9l2.2 2.2m-2.2 0l2.2 -2.2M529.5 275.4l2.2 2.2m-2.2 0l2.2 -2.2M529.2 279.4l2.2 2.2m-2.2 0l2.2 -2.2M530.1 278.2l2.2 2.2m-2.2 0l2.2 -2.2M530.3 277.5l2.2 2.2m-2.2 0l2.2 -2.2M530.3 278.3l2.2 2.2m-2.2 0l2.2 -2.2M531.2 279.9l2.2 2.2m-2.2 0l2.2 -2.2M531.3 277.2l2.2 2.2m-2.2 0l2.2 -2.2M532 276.1l2.2 2.2m-2.2 0l2.2 -2.2M532.5 275.7l2.2 2.2m-2.2 0l2.2 -2.2M532.6 275.1l2.2 2.2m-2.2 0l2.2 -2.2M532.7 276.1l2.2 2.2m-2.2 0l2.2 -2.2M533.8 278.4l2.2 2.2m-2.2 0l2.2 -2.2M533.7 276.7l2.2 2.2m-2.2 0l2.2 -2.2M534 278.2l2.2 2.2m-2.2 0l2.2 -2.2M534.7 279.3l2.2 2.2m-2.2 0l2.2 -2.2M534.9 278.3l2.2 2.2m-2.2 0l2.2 -2.2M535.6 277.5l2.2 2.2m-2.2 0l2.2 -2.2M536.1 278l2.2 2.2m-2.2 0l2.2 -2.2M536.2 276.9l2.2 2.2m-2.2 0l2.2 -2.2M536.3 276.9l2.2 2.2m-2.2 0l2.2 -2.2M537.4 276.6l2.2 2.2m-2.2 0l2.2 -2.2M537.4 278.3l2.2 2.2m-2.2 0l2.2 -2.2M537.7 279.1l2.2 2.2m-2.2 0l2.2 -2.2M538.1 276.9l2.2 2.2m-2.2 0l2.2 -2.2M538.4 276.8l2.2 2.2m-2.2 0l2.2 -2.2M538.8 277.7l2.2 2.2m-2.2 0l2.2 -2.2M539.7 277l2.2 2.2m-2.2 0l2.2 -2.2M540 279.5l2.2 2.2m-2.2 0l2.2 -2.2M540.1 276.7l2.2 2.2m-2.2 0l2.2 -2.2M540.5 276.1l2.2 2.2m-2.2 0l2.2 -2.2M541.3 278.2l2.2 2.2m-2.2 0l2.2 -2.2M541.5 275.3l2.2 2.2m-2.2 0l2.2 -2.2M542.1 278.7l2.2 2.2m-2.2 0l2.2 -2.2M542.4 275.1l2.2 2.2m-2.2 0l2.2 -2.2M543 279.7l2.2 2.2m-2.2 0l2.2 -2.2M543.4 275.8l2.2 2.2m-2.2 0l2.2 -2.2M543.8 280l2.2 2.2m-2.2 0l2.2 -2.2M543.6 279.3l2.2 2.2m-2.2 0l2.2 -2.2M544.4 276.9l2.2 2.2m-2.2 0l2.2 -2.2M545 279.3l2.2 2.2m-2.2 0l2.2 -2.2M545 276.8l2.2 2.2m-2.2 0l2.2 -2.2M545.3 278.4l2.2 2.2m-2.2 0l2.2 -2.2M546.2 276.8l2.2 2.2m-2.2 0l2.2 -2.2M546.6 276.1l2.2 2.2m-2.2 0l2.2 -2.2M546.4 274.8l2.2 2.2m-2.2 0l2.2 -2.2M547.2 276.5l2.2 2.2m-2.2 0l2.2 -2.2M547.9 275.7l2.2 2.2m-2.2 0l2.2 -2.2M547.6 277.8l2.2 2.2m-2.2 0l2.2 -2.2M548.6 275.8l2.2 2.2m-2.2 0l2.2 -2.2M548.3 275.1l2.2 2.2m-2.2 0l2.2 -2.2M548.7 275.9l2.2 2.2m-2.2 0l2.2 -2.2M549.5 275.6l2.2 2.2m-2.2 0l2.2 -2.2M549.9 279.1l2.2 2.2m-2.2 0l2.2 -2.2M550 277.6l2.2 2.2m-2.2 0l2.2 -2.2M550.8 276.4l2.2 2.2m-2.2 0l2.2 -2.2M551.5 277.2l2.2 2.2m-2.2 0l2.2 -2.2M551.8 276.8l2.2 2.2m-2.2 0l2.2 -2.2M552 275.7l2.2 2.2m-2.2 0l2.2 -2.2M552.7 278.7l2.2 2.2m-2.2 0l2.2 -2.2M552.8 275.4l2.2 2.2m-2.2 0l2.2 -2.2M553.1 279.6l2.2 2.2m-2.2 0l2.2 -2.2M553.8 279.9l2.2 2.2m-2.2 0l2.2 -2.2M553.9 276.1l2.2 2.2m-2.2 0l2.2 -2.2M554.5 276.3l2.2 2.2m-2.2 0l2.2 -2.2M554.9 274.8l2.2 2.2m-2.2 0l2.2 -2.2M554.7 274.5l2.2 2.2m-2.2 0l2.2 -2.2M555.3 278.8l2.2 2.2m-2.2 0l2.2 -2.2M556.2 277.6l2.2 2.2m-2.2 0l2.2 -2.2M556.2 275.5l2.2 2.2m-2.2 0l2.2 -2.2M556.8 278.8l2.2 2.2m-2.2 0l2.2 -2.2M556.9 277.9l2.2 2.2m-2.2 0l2.2 -2.2M557.8 277.4l2.2 2.2m-2.2 0l2.2 -2.2M558 277.4l2.2 2.2m-2.2 0l2.2 -2.2M558.2 278.3l2.2 2.2m-2.2 0l2.2 -2.2M558.6 277.3l2.2 2.2m-2.2 0l2.2 -2.2M558.8 276l2.2 2.2m-2.2 0l2.2 -2.2M559.4 279.3l2.2 2.2m-2.2 0l2.2 -2.2M559.7 278.4l2.2 2.2m-2.2 0l2.2 -2.2M560.5 277.7l2.2 2.2m-2.2 0l2.2 -2.2M560.7 278.3l2.2 2.2m-2.2 0l2.2 -2.2M560.8 279.9l2.2 2.2m-2.2 0l2.2 -2.2M561.2 278.5l2.2 2.2m-2.2 0l2.2 -2.2M561.5 277.2l2.2 2.2m-2.2 0l2.2 -2.2M562.6 274.7l2.2 2.2m-2.2 0l2.2 -2.2M562.3 278.3l2.2 2.2m-2.2 0l2.2 -2.2M562.8 274.6l2.2 2.2m-2.2 0l2.2 -2.2M563.5 278.7l2.2 2.2m-2.2 0l2.2 -2.2M564 278.5l2.2 2.2m-2.2 0l2.2 -2.2M564 278l2.2 2.2m-2.2 0l2.2 -2.2M564.5 277.7l2.2 2.2m-2.2 0l2.2 -2.2M564.8 277.1l2.2 2.2m-2.2 0l2.2 -2.2M565.7 275.3l2.2 2.2m-2.2 0l2.2 -2.2M565.6 273.8l2.2 2.2m-2.2 0l2.2 -2.2M566.1 274.9l2.2 2.2m-2.2 0l2.2 -2.2M567 277.7l2.2 2.2m-2.2 0l2.2 -2.2M567 277.6l2.2 2.2m-2.2 0l2.2 -2.2M567.6 276.4l2.2 2.2m-2.2 0l2.2 -2.2M568 276.4l2.2 2.2m-2.2 0l2.2 -2.2M568.4 277.8l2.2 2.2m-2.2 0l2.2 -2.2M568.9 272.8l2.2 2.2m-2.2 0l2.2 -2.2M569.3 275.7l2.2 2.2m-2.2 0l2.2 -2.2M569.3 274.5l2.2 2.2m-2.2 0l2.2 -2.2M569.7 275.5l2.2 2.2m-2.2 0l2.2 -2.2M570.3 276l2.2 2.2m-2.2 0l2.2 -2.2M570.3 276.6l2.2 2.2m-2.2 0l2.2 -2.2M570.8 277.1l2.2 2.2m-2.2 0l2.2 -2.2M571.4 275.4l2.2 2.2m-2.2 0l2.2 -2.2M572.1 278.2l2.2 2.2m-2.2 0l2.2 -2.2M572.1 277.9l2.2 2.2m-2.2 0l2.2 -2.2M573 275.6l2.2 2.2m-2.2 0l2.2 -2.2M573.2 277.6l2.2 2.2m-2.2 0l2.2 -2.2M573.3 275.7l2.2 2.2m-2.2 0l2.2 -2.2M574.2 275.8l2.2 2.2m-2.2 0l2.2 -2.2M574.6 276.9l2.2 2.2m-2.2 0l2.2 -2.2M574.4 276.3l2.2 2.2m-2.2 0l2.2 -2.2M575 274l2.2 2.2m-2.2 0l2.2 -2.2M575.5 277.9l2.2 2.2m-2.2 0l2.2 -2.2M575.9 278.2l2.2 2.2m-2.2 0l2.2 -2.2M576.5 277.1l2.2 2.2m-2.2 0l2.2 -2.2M576.6 273.1l2.2 2.2m-2.2 0l2.2 -2.2M577.5 276.3l2.2 2.2m-2.2 0l2.2 -2.2M577.3 277.6l2.2 2.2m-2.2 0l2.2 -2.2M577.9 274.8l2.2 2.2m-2.2 0l2.2 -2.2M578.2 275.1l2.2 2.2m-2.2 0l2.2 -2.2M578.3 276.3l2.2 2.2m-2.2 0l2.2 -2.2M578.8 275.6l2.2 2.2m-2.2 0l2.2 -2.2M579.8 273.3l2.2 2.2m-2.2 0l2.2 -2.2M580 273.6l2.2 2.2m-2.2 0l2.2 -2.2M580 277.5l2.2 2.2m-2.2 0l2.2 -2.2M580.3 273.7l2.2 2.2m-2.2 0l2.2 -2.2M581.1 278.1l2.2 2.2m-2.2 0l2.2 -2.2M581.9 274.2l2.2 2.2m-2.2 0l2.2 -2.2M582.2 276.7l2.2 2.2m-2.2 0l2.2 -2.2M582.4 273.9l2.2 2.2m-2.2 0l2.2 -2.2M582.7 277.6l2.2 2.2m-2.2 0l2.2 -2.2M582.7 276.1l2.2 2.2m-2.2 0l2.2 -2.2M583.3 274.6l2.2 2.2m-2.2 0l2.2 -2.2M583.5 275.9l2.2 2.2m-2.2 0l2.2 -2.2M584.4 274l2.2 2.2m-2.2 0l2.2 -2.2M584.5 278.9l2.2 2.2m-2.2 0l2.2 -2.2M585.1 276.4l2.2 2.2m-2.2 0l2.2 -2.2M585.5 277.8l2.2 2.2m-2.2 0l2.2 -2.2M585.5 276.4l2.2 2.2m-2.2 0l2.2 -2.2M586.3 273.7l2.2 2.2m-2.2 0l2.2 -2.2M586.6 274.3l2.2 2.2m-2.2 0l2.2 -2.2M587.3 274.5l2.2 2.2m-2.2 0l2.2 -2.2M587.6 275.3l2.2 2.2m-2.2 0l2.2 -2.2M588.1 276.9l2.2 2.2m-2.2 0l2.2 -2.2M588 275.2l2.2 2.2m-2.2 0l2.2 -2.2M588.7 278.5l2.2 2.2m-2.2 0l2.2 -2.2M589.1 277.7l2.2 2.2m-2.2 0l2.2 -2.2M589.2 273.9l2.2 2.2m-2.2 0l2.2 -2.2M589.5 274.6l2.2 2.2m-2.2 0l2.2 -2.2M590.7 277.7l2.2 2.2m-2.2 0l2.2 -2.2M591.1 276l2.2 2.2m-2.2 0l2.2 -2.2M591 274.4l2.2 2.2m-2.2 0l2.2 -2.2M591.6 277.1l2.2 2.2m-2.2 0l2.2 -2.2M592.2 274l2.2 2.2m-2.2 0l2.2 -2.2M592.1 279.3l2.2 2.2m-2.2 0l2.2 -2.2M592.8 275.5l2.2 2.2m-2.2 0l2.2 -2.2M593.1 276.2l2.2 2.2m-2.2 0l2.2 -2.2M593.6 278.7l2.2 2.2m-2.2 0l2.2 -2.2M593.8 274.6l2.2 2.2m-2.2 0l2.2 -2.2M594.6 278.7l2.2 2.2m-2.2 0l2.2 -2.2M594.4 275.6l2.2 2.2m-2.2 0l2.2 -2.2M594.9 278.3l2.2 2.2m-2.2 0l2.2 -2.2M595.4 275.2l2.2 2.2m-2.2 0l2.2 -2.2M596 274.5l2.2 2.2m-2.2 0l2.2 -2.2M596.2 278.7l2.2 2.2m-2.2 0l2.2 -2.2M596.4 277.7l2.2 2.2m-2.2 0l2.2 -2.2M596.8 276l2.2 2.2m-2.2 0l2.2 -2.2M597.3 274.6l2.2 2.2m-2.2 0l2.2 -2.2M597.5 276.1l2.2 2.2m-2.2 0l2.2 -2.2M598.4 277.6l2.2 2.2m-2.2 0l2.2 -2.2M598.6 275.7l2.2 2.2m-2.2 0l2.2 -2.2M598.8 275.6l2.2 2.2m-2.2 0l2.2 -2.2M599.8 279.4l2.2 2.2m-2.2 0l2.2 -2.2M600.2 276.7l2.2 2.2m-2.2 0l2.2 -2.2M600.7 277l2.2 2.2m-2.2 0l2.2 -2.2M601 277.6l2.2 2.2m-2.2 0l2.2 -2.2M601.1 277.3l2.2 2.2m-2.2 0l2.2 -2.2M601.8 277.7l2.2 2.2m-2.2 0l2.2 -2.2M602.1 274.9l2.2 2.2m-2.2 0l2.2 -2.2M602.7 278.2l2.2 2.2m-2.2 0l2.2 -2.2M602.9 276.2l2.2 2.2m-2.2 0l2.2 -2.2M603.2 276.3l2.2 2.2m-2.2 0l2.2 -2.2M603.8 274.3l2.2 2.2m-2.2 0l2.2 -2.2M603.9 275.3l2.2 2.2m-2.2 0l2.2 -2.2M604.7 275.2l2.2 2.2m-2.2 0l2.2 -2.2M605 278.3l2.2 2.2m-2.2 0l2.2 -2.2M605.4 278.5l2.2 2.2m-2.2 0l2.2 -2.2M605.2 278l2.2 2.2m-2.2 0l2.2 -2.2M606.1 274.8l2.2 2.2m-2.2 0l2.2 -2.2M606.5 276l2.2 2.2m-2.2 0l2.2 -2.2M607 276.8l2.2 2.2m-2.2 0l2.2 -2.2M606.8 276.3l2.2 2.2m-2.2 0l2.2 -2.2M607.3 279l2.2 2.2m-2.2 0l2.2 -2.2M608.1 276.6l2.2 2.2m-2.2 0l2.2 -2.2M608.7 275.8l2.2 2.2m-2.2 0l2.2 -2.2M608.9 274.6l2.2 2.2m-2.2 0l2.2 -2.2M609.2 279.2l2.2 2.2m-2.2 0l2.2 -2.2M609.2 275.6l2.2 2.2m-2.2 0l2.2 -2.2M610.1 278.8l2.2 2.2m-2.2 0l2.2 -2.2M610.7 278.8l2.2 2.2m-2.2 0l2.2 -2.2M611.1 277.9l2.2 2.2m-2.2 0l2.2 -2.2M611.2 280l2.2 2.2m-2.2 0l2.2 -2.2M611.2 278.8l2.2 2.2m-2.2 0l2.2 -2.2M611.9 280.1l2.2 2.2m-2.2 0l2.2 -2.2M612.4 277.4l2.2 2.2m-2.2 0l2.2 -2.2M612.5 279.3l2.2 2.2m-2.2 0l2.2 -2.2M613.4 278.8l2.2 2.2m-2.2 0l2.2 -2.2M613.5 276.8l2.2 2.2m-2.2 0l2.2 -2.2M613.8 279.5l2.2 2.2m-2.2 0l2.2 -2.2M614.6 279.1l2.2 2.2m-2.2 0l2.2 -2.2M614.6 276.7l2.2 2.2m-2.2 0l2.2 -2.2M614.9 275.8l2.2 2.2m-2.2 0l2.2 -2.2M615.3 279.5l2.2 2.2m-2.2 0l2.2 -2.2M616 276.2l2.2 2.2m-2.2 0l2.2 -2.2M616.1 276.3l2.2 2.2m-2.2 0l2.2 -2.2M617.1 279.9l2.2 2.2m-2.2 0l2.2 -2.2M617.3 279l2.2 2.2m-2.2 0l2.2 -2.2M617.4 276.9l2.2 2.2m-2.2 0l2.2 -2.2M617.9 279.3l2.2 2.2m-2.2 0l2.2 -2.2M618.2 276l2.2 2.2m-2.2 0l2.2 -2.2M618.6 278.9l2.2 2.2m-2.2 0l2.2 -2.2M618.9 279.3l2.2 2.2m-2.2 0l2.2 -2.2M619.2 274.9l2.2 2.2m-2.2 0l2.2 -2.2M619.7 275.5l2.2 2.2m-2.2 0l2.2 -2.2M620.4 280.3l2.2 2.2m-2.2 0l2.2 -2.2M620.4 277.3l2.2 2.2m-2.2 0l2.2 -2.2M621.2 279.4l2.2 2.2m-2.2 0l2.2 -2.2M621.5 276.5l2.2 2.2m-2.2 0l2.2 -2.2M622.3 279.9l2.2 2.2m-2.2 0l2.2 -2.2M622.4 280.6l2.2 2.2m-2.2 0l2.2 -2.2M622.6 278.4l2.2 2.2m-2.2 0l2.2 -2.2M622.9 275.7l2.2 2.2m-2.2 0l2.2 -2.2M623.4 280.3l2.2 2.2m-2.2 0l2.2 -2.2M624.3 279.5l2.2 2.2m-2.2 0l2.2 -2.2M624.2 280.4l2.2 2.2m-2.2 0l2.2 -2.2M625 277.4l2.2 2.2m-2.2 0l2.2 -2.2M625.3 277.4l2.2 2.2m-2.2 0l2.2 -2.2M625.6 279.9l2.2 2.2m-2.2 0l2.2 -2.2M626.3 278.2l2.2 2.2m-2.2 0l2.2 -2.2M626.2 280.9l2.2 2.2m-2.2 0l2.2 -2.2M626.6 277.7l2.2 2.2m-2.2 0l2.2 -2.2M626.8 277.2l2.2 2.2m-2.2 0l2.2 -2.2M627.2 278.4l2.2 2.2m-2.2 0l2.2 -2.2M627.6 280.1l2.2 2.2m-2.2 0l2.2 -2.2M628 277.8l2.2 2.2m-2.2 0l2.2 -2.2M628.4 282.3l2.2 2.2m-2.2 0l2.2 -2.2M629.4 282.9l2.2 2.2m-2.2 0l2.2 -2.2M629.8 280.5l2.2 2.2m-2.2 0l2.2 -2.2M630.1 278l2.2 2.2m-2.2 0l2.2 -2.2M630.4 280.9l2.2 2.2m-2.2 0l2.2 -2.2M630.4 283.6l2.2 2.2m-2.2 0l2.2 -2.2M631.2 279.9l2.2 2.2m-2.2 0l2.2 -2.2M631.8 279.4l2.2 2.2m-2.2 0l2.2 -2.2M631.8 279.4l2.2 2.2m-2.2 0l2.2 -2.2M632.6 282.7l2.2 2.2m-2.2 0l2.2 -2.2M633 283.1l2.2 2.2m-2.2 0l2.2 -2.2M633 281.1l2.2 2.2m-2.2 0l2.2 -2.2M633.2 282l2.2 2.2m-2.2 0l2.2 -2.2M633.9 282.1l2.2 2.2m-2.2 0l2.2 -2.2M634 281l2.2 2.2m-2.2 0l2.2 -2.2M634.6 279.9l2.2 2.2m-2.2 0l2.2 -2.2M635.5 282.4l2.2 2.2m-2.2 0l2.2 -2.2M635.1 280.6l2.2 2.2m-2.2 0l2.2 -2.2M635.9 281.2l2.2 2.2m-2.2 0l2.2 -2.2M636.2 282.8l2.2 2.2m-2.2 0l2.2 -2.2M636.5 284.6l2.2 2.2m-2.2 0l2.2 -2.2M636.9 281.1l2.2 2.2m-2.2 0l2.2 -2.2M637.5 285l2.2 2.2m-2.2 0l2.2 -2.2M637.5 281.6l2.2 2.2m-2.2 0l2.2 -2.2M638.5 281.9l2.2 2.2m-2.2 0l2.2 -2.2M639.1 284.4l2.2 2.2m-2.2 0l2.2 -2.2M638.7 280.9l2.2 2.2m-2.2 0l2.2 -2.2M639.2 280.8l2.2 2.2m-2.2 0l2.2 -2.2M639.7 284.6l2.2 2.2m-2.2 0l2.2 -2.2M640.1 284.5l2.2 2.2m-2.2 0l2.2 -2.2M640.5 280.5l2.2 2.2m-2.2 0l2.2 -2.2M641.5 283.3l2.2 2.2m-2.2 0l2.2 -2.2M641.7 283.5l2.2 2.2m-2.2 0l2.2 -2.2M642.2 282.9l2.2 2.2m-2.2 0l2.2 -2.2M642.7 284.8l2.2 2.2m-2.2 0l2.2 -2.2M642.9 284.8l2.2 2.2m-2.2 0l2.2 -2.2M643.4 284.7l2.2 2.2m-2.2 0l2.2 -2.2M643.2 283.9l2.2 2.2m-2.2 0l2.2 -2.2M644.3 282.6l2.2 2.2m-2.2 0l2.2 -2.2M644.2 284l2.2 2.2m-2.2 0l2.2 -2.2M644.6 285.2l2.2 2.2m-2.2 0l2.2 -2.2M645.1 282.5l2.2 2.2m-2.2 0l2.2 -2.2M645.6 284.1l2.2 2.2m-2.2 0l2.2 -2.2M646 282.2l2.2 2.2m-2.2 0l2.2 -2.2M646.4 282.3l2.2 2.2m-2.2 0l2.2 -2.2M646.4 283.5l2.2 2.2m-2.2 0l2.2 -2.2M647.5 283.9l2.2 2.2m-2.2 0l2.2 -2.2M647.2 283.9l2.2 2.2m-2.2 0l2.2 -2.2M647.6 283.6l2.2 2.2m-2.2 0l2.2 -2.2M648 282.9l2.2 2.2m-2.2 0l2.2 -2.2M648.9 285.7l2.2 2.2m-2.2 0l2.2 -2.2M648.9 283.8l2.2 2.2m-2.2 0l2.2 -2.2M649.7 281.2l2.2 2.2m-2.2 0l2.2 -2.2M650.2 282l2.2 2.2m-2.2 0l2.2 -2.2M650 285.6l2.2 2.2m-2.2 0l2.2 -2.2M651.1 286.3l2.2 2.2m-2.2 0l2.2 -2.2M651.1 281.2l2.2 2.2m-2.2 0l2.2 -2.2M651.6 282.4l2.2 2.2m-2.2 0l2.2 -2.2M651.7 285.5l2.2 2.2m-2.2 0l2.2 -2.2M652.2 281.3l2.2 2.2m-2.2 0l2.2 -2.2M652.9 282l2.2 2.2m-2.2 0l2.2 -2.2M653.2 282.6l2.2 2.2m-2.2 0l2.2 -2.2M653.3 281.6l2.2 2.2m-2.2 0l2.2 -2.2M654.2 285.3l2.2 2.2m-2.2 0l2.2 -2.2M654.4 284.1l2.2 2.2m-2.2 0l2.2 -2.2M654.8 281.4l2.2 2.2m-2.2 0l2.2 -2.2M654.9 284.4l2.2 2.2m-2.2 0l2.2 -2.2M655.2 285.2l2.2 2.2m-2.2 0l2.2 -2.2M655.6 284.1l2.2 2.2m-2.2 0l2.2 -2.2M656.2 285.9l2.2 2.2m-2.2 0l2.2 -2.2M656.7 286.6l2.2 2.2m-2.2 0l2.2 -2.2M657.1 285.6l2.2 2.2m-2.2 0l2.2 -2.2M657.4 281.6l2.2 2.2m-2.2 0l2.2 -2.2M658.1 284.6l2.2 2.2m-2.2 0l2.2 -2.2M658.3 281.7l2.2 2.2m-2.2 0l2.2 -2.2M658.5 285.7l2.2 2.2m-2.2 0l2.2 -2.2M658.9 283.3l2.2 2.2m-2.2 0l2.2 -2.2M659.3 285.5l2.2 2.2m-2.2 0l2.2 -2.2M660.2 286.5l2.2 2.2m-2.2 0l2.2 -2.2M660.7 284.5l2.2 2.2m-2.2 0l2.2 -2.2M660.3 283.3l2.2 2.2m-2.2 0l2.2 -2.2M661.4 285.3l2.2 2.2m-2.2 0l2.2 -2.2M661.2 286.8l2.2 2.2m-2.2 0l2.2 -2.2M662 281.8l2.2 2.2m-2.2 0l2.2 -2.2M662.1 283.8l2.2 2.2m-2.2 0l2.2 -2.2M662.7 285.3l2.2 2.2m-2.2 0l2.2 -2.2M663.4 285.1l2.2 2.2m-2.2 0l2.2 -2.2M663.2 286.4l2.2 2.2m-2.2 0l2.2 -2.2M664 282.1l2.2 2.2m-2.2 0l2.2 -2.2M664.1 281.8l2.2 2.2m-2.2 0l2.2 -2.2M664.6 286.8l2.2 2.2m-2.2 0l2.2 -2.2M665.2 285.8l2.2 2.2m-2.2 0l2.2 -2.2M665.7 282.5l2.2 2.2m-2.2 0l2.2 -2.2M665.5 286l2.2 2.2m-2.2 0l2.2 -2.2M666 287.2l2.2 2.2m-2.2 0l2.2 -2.2M666.7 284.5l2.2 2.2m-2.2 0l2.2 -2.2M667.5 284.5l2.2 2.2m-2.2 0l2.2 -2.2M667.7 282.9l2.2 2.2m-2.2 0l2.2 -2.2M667.6 286.8l2.2 2.2m-2.2 0l2.2 -2.2M668.1 282l2.2 2.2m-2.2 0l2.2 -2.2M668.4 282.3l2.2 2.2m-2.2 0l2.2 -2.2M668.7 286.6l2.2 2.2m-2.2 0l2.2 -2.2M669.2 283.6l2.2 2.2m-2.2 0l2.2 -2.2M669.9 282.9l2.2 2.2m-2.2 0l2.2 -2.2M670.6 287.1l2.2 2.2m-2.2 0l2.2 -2.2" stroke="#ff1a1a" stroke-width="0.7" stroke-opacity="0.85" fill="none"/>
<polyline points="374,291.7 374.5,290.7 375,291.4 375.5,291 376,290.9 376.5,290.6 377,290.5 377.5,290.3 378,290.2 378.5,290.2 379,290.2 379.5,289.3 380,289.6 380.5,289.8 381,289.6 381.5,288.8 382,289 382.5,288.9 383,288.7 383.5,287.8 384,288.6 384.5,287.7 385,288.7 385.5,288.1 386,287.8 386.5,287.8 387,287.5 387.5,287.2 388,287.2 388.5,287.2 389,286.7 389.5,287 390,287 390.5,286.9 391,286.8 391.5,286.8 392,286.5 392.5,286.6 393,286.2 393.5,286.2 394,286.4 394.5,286.5 395,285.7 395.5,285.3 396,286.3 396.5,285.9 397,286 397.5,285.7 398,285.4 398.5,285.1 399,284.9 399.5,285.5 400,285.3 400.5,285 401,284.5 401.5,284.6 402,284.5 402.5,284.5 403,283.7 403.5,284.5 404,284.8 404.5,284.1 405,284.2 405.5,284.2 406,283.8 406.5,284.2 407,283.8 407.5,283.8 408,284 408.5,283.9 409,283.9 409.5,283.6 410,284 410.5,283.5 411,284 411.5,283.6 412,283.3 412.5,283.6 413,283.3 413.5,283.4 414,283.5 414.5,283.8 415,283.7 415.5,283.6 416,283.3 416.5,283 417,283.4 417.5,283.4 418,283.5 418.5,283.4 419,283.4 419.5,283.8 420,283.2 420.5,283.6 421,284 421.5,283.4 422,283.4 422.5,283.7 423,283.7 423.5,283.9 424,284.2 424.5,283.8 425,284 425.5,283.7 426,283.8 426.5,284 427,283.8 427.5,284.3 428,283.9 428.5,284 429,283.8 429.5,284 430,283.8 430.5,284 431,283.6 431.5,284.1 432,284.6 432.5,283.5 433,284.6 433.5,284 434,284.3 434.5,283.8 435,284.7 435.5,283.8 436,284 436.5,284.5 437,283.7 437.5,283.4 438,284 438.5,283.8 439,283.8 439.5,283.8 440,283.6 440.5,284.4 441,284.4 441.5,283.6 442,284 442.5,283.9 443,284.3 443.5,283.8 444,284.5 444.5,284 445,283.8 445.5,284 446,283.8 446.5,284.7 447,284 447.5,283.8 448,284 448.5,284.4 449,283.7 449.5,283.5 450,284.4 450.5,284.2 451,283.8 451.5,283.9 452,284.3 452.5,283.1 453,284.3 453.5,283.9 454,284.1 454.5,283.9 455,284.9 455.5,283.8 456,284.3 456.5,283.2 457,283.9 457.5,284.2 458,283.5 458.5,283.3 459,283.9 459.5,284.2 460,284.3 460.5,283.7 461,284 461.5,283.4 462,284.3 462.5,283.6 463,284.1 463.5,283.7 464,283.6 464.5,284.2 465,283.4 465.5,284 466,283.5 466.5,283.3 467,283.3 467.5,283.8 468,283.4 468.5,283.3 469,283 469.5,283.7 470,283.7 470.5,283.4 471,283.5 471.5,282.3 472,283.1 472.5,283.2 473,283.2 473.5,283 474,283.2 474.5,282.9 475,282.8 475.5,282.6 476,283 476.5,282.7 477,282.8 477.5,283.3 478,282.9 478.5,282.8 479,282.3 479.5,282.6 480,283 480.5,282.9 481,282.7 481.5,282.6 482,282.6 482.5,282.7 483,282.5 483.5,281.8 484,283.1 484.5,282.8 485,282.4 485.5,282.8 486,282 486.5,282.7 487,282.4 487.5,282.6 488,282.2 488.5,282.4 489,282.5 489.5,282.7 490,282.5 490.5,282.5 491,282.2 491.5,282.9 492,282.5 492.5,282.4 493,282.3 493.5,282.1 494,282.2 494.5,282 495,282.6 495.5,282.5 496,282.6 496.5,282.2 497,282.4 497.5,282.4 498,282.9 498.5,282.1 499,282.1 499.5,283 500,282.7 500.5,282.2 501,283.1 501.5,283.1 502,283 502.5,282.1 503,282.7 503.5,282.5 504,282.7 504.5,282.3 505,283.3 505.5,282.6 506,282.9 506.5,283 507,283 507.5,282.9 508,282.7 508.5,282.9 509,282.8 509.5,282.2 510,283.2 510.5,282.7 511,282.8 511.5,282.8 512,282.5 512.5,282.6 513,282.4 513.5,283.1 514,283.3 514.5,283 515,282.7 515.5,283.4 516,282.9 516.5,282.6 517,282.5 517.5,283.1 518,283.5 518.5,283 519,282.9 519.5,283.1 520,282.9 520.5,283 521,283.2 521.5,283 522,283.5 522.5,282.9 523,283.4 523.5,283.2 524,283 524.5,283 525,283 525.5,283.6 526,282.8 526.5,283.4 527,283.3 527.5,282.9 528,283.5 528.5,282.2 529,283 529.5,283 530,282.9 530.5,283.1 531,282.7 531.5,282.8 532,283.2 532.5,282.8 533,282.5 533.5,282.9 534,282.7 534.5,282.6 535,282.9 535.5,282.5 536,282.4 536.5,282.6 537,282.6 537.5,282.6 538,282.2 538.5,283.1 539,282.8 539.5,282.6 540,282.6 540.5,281.7 541,282.8 541.5,282.1 542,282.6 542.5,282.1 543,282.7 543.5,282.2 544,282.3 544.5,282.8 545,282.6 545.5,281.9 546,282.1 546.5,282.3 547,282.2 547.5,282.5 548,282 548.5,281.6 549,281.9 549.5,282.1 550,282.3 550.5,282.3 551,282.5 551.5,282.1 552,282 552.5,282.3 553,282 553.5,281.9 554,281.8 554.5,282.2 555,282.4 555.5,282.3 556,281.4 556.5,282.2 557,281.5 557.5,281.7 558,282 558.5,281.4 559,281.4 559.5,281.5 560,282.3 560.5,282.1 561,281.4 561.5,281.7 562,281.7 562.5,281.7 563,281.4 563.5,282 564,281.5 564.5,281.8 565,281.1 565.5,281.7 566,281.6 566.5,281.9 567,280.7 567.5,281.6 568,281.7 568.5,281.3 569,281.8 569.5,282 570,281.6 570.5,281.6 571,281.7 571.5,281.4 572,281.7 572.5,281.5 573,281 573.5,280.9 574,281.6 574.5,281.4 575,281 575.5,281.3 576,281.7 576.5,280.8 577,281.1 577.5,281.6 578,281.6 578.5,281 579,281.1 579.5,281.5 580,281.9 580.5,281.5 581,280.8 581.5,281.8 582,281.6 582.5,281.5 583,281.3 583.5,282 584,281.7 584.5,281.8 585,281.8 585.5,281.9 586,282 586.5,282.3 587,281.5 587.5,281.8 588,281.7 588.5,282.4 589,281.8 589.5,281.4 590,281.9 590.5,281.8 591,281.8 591.5,281.9 592,281.7 592.5,281.5 593,282.7 593.5,282.1 594,281.9 594.5,282.4 595,282.6 595.5,281.7 596,282.1 596.5,282.3 597,282 597.5,282.4 598,282 598.5,282.2 599,282.3 599.5,282.5 600,282.4 600.5,282.2 601,282.4 601.5,281.9 602,283.2 602.5,282.4 603,282.5 603.5,282.7 604,282.8 604.5,282.7 605,282.5 605.5,282.2 606,282.7 606.5,282.5 607,282.6 607.5,282.8 608,282.9 608.5,283.2 609,282.8 609.5,282.4 610,283.1 610.5,283.2 611,282.5 611.5,283.2 612,283.1 612.5,282.9 613,283.1 613.5,283.2 614,283.3 614.5,283.5 615,283.1 615.5,283.2 616,283.9 616.5,282.9 617,283.2 617.5,283.2 618,283.5 618.5,283.7 619,282.9 619.5,283.7 620,283 620.5,284.2 621,283.2 621.5,283.8 622,283.4 622.5,283.7 623,283.3 623.5,283.6 624,283.6 624.5,283.6 625,283.9 625.5,283.5 626,283.6 626.5,283.3 627,283.7 627.5,283.6 628,284.1 628.5,284 629,283.6 629.5,284 630,284.3 630.5,283.9 631,283.6 631.5,284.7 632,284.2 632.5,284.2 633,284.8 633.5,283.8 634,284.2 634.5,283.6 635,284.3 635.5,284.3 636,284 636.5,284 637,284.2 637.5,284.3 638,284.8 638.5,284.3 639,284.4 639.5,284.4 640,284 640.5,284.4 641,284.2 641.5,284.7 642,284 642.5,284.4 643,284.8 643.5,284.2 644,284.4 644.5,285.2 645,284.5 645.5,285 646,285.1 646.5,284.7 647,284.6 647.5,285.6 648,285 648.5,285.3 649,285 649.5,285.4 650,284.9 650.5,284.9 651,285.1 651.5,285.2 652,285.3 652.5,285.4 653,285.7 653.5,285.4 654,285.9 654.5,285.5 655,285.9 655.5,286.1 656,286.3 656.5,285.2 657,286.4 657.5,285.4 658,286.4 658.5,286 659,286.1 659.5,285.8 660,286.4 660.5,286.3 661,286 661.5,286 662,286.5 662.5,286.6 663,286.5 663.5,286.2 664,286.4 664.5,286.7 665,286.7 665.5,286.8 666,286.6 666.5,286.3 667,286.7 667.5,286.8 668,286.5 668.5,286.8 669,286.5 669.5,286.8 670,286.6 670.5,287.5 671,287.2 671.5,287" fill="none" stroke="#1f1fff" stroke-width="1.0" stroke-linejoin="round" stroke-opacity="0.9"/>
<polyline points="374,291.4 374.5,291.3 375,291.7 375.5,291.3 376,291.3 376.5,290.6 377,290.5 377.5,290.8 378,290.6 378.5,290.1 379,290.1 379.5,290.5 380,290 380.5,290.1 381,290.3 381.5,289.8 382,289.6 382.5,289.2 383,289.6 383.5,288.7 384,288.6 384.5,288.8 385,288.2 385.5,288.8 386,288.2 386.5,288.4 387,288 387.5,287.9 388,287.8 388.5,287.1 389,287.2 389.5,287.2 390,287.9 390.5,287.4 391,287.3 391.5,286.7 392,287.2 392.5,287.2 393,287 393.5,287.5 394,286.2 394.5,286.2 395,286.3 395.5,286 396,286.3 396.5,286.3 397,286.1 397.5,286 398,286 398.5,286.1 399,285.6 399.5,285.5 400,285.9 400.5,285.4 401,285.2 401.5,285.4 402,285.1 402.5,285.2 403,285.1 403.5,285.2 404,285.2 404.5,284.6 405,284.4 405.5,285.2 406,284.4 406.5,284.2 407,284 407.5,284.5 408,284.3 408.5,283.9 409,284.2 409.5,284.1 410,284.7 410.5,284.4 411,284.3 411.5,283.9 412,284.2 412.5,284.4 413,284.3 413.5,284.5 414,284.2 414.5,284.3 415,284.2 415.5,283.9 416,284.4 416.5,284.1 417,284.3 417.5,283.7 418,283.8 418.5,284.1 419,283.9 419.5,284.3 420,284.3 420.5,284.6 421,284.4 421.5,283.9 422,284.6 422.5,284.1 423,284.1 423.5,284.4 424,284.4 424.5,284.7 425,285.3 425.5,284.6 426,284.9 426.5,284.5 427,284.7 427.5,284.4 428,284.5 428.5,285 429,284.8 429.5,284.8 430,284.5 430.5,285.2 431,284.6 431.5,284.5 432,284.7 432.5,284.9 433,284.9 433.5,285.1 434,284.3 434.5,284.5 435,285.1 435.5,285.3 436,284.5 436.5,284.6 437,284.2 437.5,284.4 438,284.4 438.5,284.6 439,284.3 439.5,284.9 440,284.6 440.5,284.6 441,284.9 441.5,284.5 442,284.2 442.5,284.6 443,285.3 443.5,284.6 444,284.8 444.5,284.5 445,284.5 445.5,284.7 446,283.8 446.5,284.2 447,284.4 447.5,284.5 448,285 448.5,285.3 449,284.8 449.5,284.7 450,284.8 450.5,285 451,284.3 451.5,284.4 452,284.6 452.5,284.6 453,284 453.5,284.7 454,284.1 454.5,284.8 455,284.8 455.5,283.9 456,284.7 456.5,284.6 457,284.3 457.5,284.8 458,285.1 458.5,284.7 459,284.2 459.5,284.1 460,284.2 460.5,284.2 461,284.8 461.5,284.5 462,284.4 462.5,284.6 463,284.4 463.5,284.3 464,284 464.5,284.1 465,284.2 465.5,283.9 466,284.7 466.5,284.2 467,284 467.5,284.4 468,283.7 468.5,284.3 469,284 469.5,284.5 470,283.8 470.5,283.8 471,283.6 471.5,283.5 472,283.9 472.5,283.5 473,283.9 473.5,283.5 474,284 474.5,282.9 475,283.8 475.5,283.6 476,283.6 476.5,283.4 477,284 477.5,283.4 478,283.6 478.5,283.3 479,283.3 479.5,283.4 480,283.5 480.5,283 481,283.1 481.5,282.8 482,283.3 482.5,282.9 483,282.9 483.5,283.3 484,283.1 484.5,283.2 485,283 485.5,283.1 486,283 486.5,282.6 487,283 487.5,282.8 488,282.8 488.5,283 489,282.8 489.5,282.6 490,283.3 490.5,283.5 491,282.9 491.5,283.3 492,283.1 492.5,282.8 493,282.8 493.5,283 494,282.9 494.5,283 495,283.1 495.5,282.8 496,283.4 496.5,282.8 497,282.8 497.5,283.4 498,283.4 498.5,283.6 499,283.2 499.5,283 500,283.6 500.5,283.2 501,283.2 501.5,283 502,283.4 502.5,282.6 503,283.5 503.5,282.7 504,283.6 504.5,282.9 505,283.6 505.5,284.1 506,283.3 506.5,283 507,284 507.5,283.3 508,283.1 508.5,283.8 509,282.6 509.5,283 510,283.1 510.5,283.3 511,282.9 511.5,283.8 512,283.8 512.5,283.5 513,283.4 513.5,283.1 514,283.7 514.5,283.4 515,283.8 515.5,283.9 516,283.7 516.5,283 517,283.4 517.5,284.1 518,283.8 518.5,284.1 519,283 519.5,283.7 520,283.7 520.5,283.3 521,283.6 521.5,284.1 522,284 522.5,283.6 523,283.9 523.5,284.1 524,283.4 524.5,283.8 525,284 525.5,283.5 526,284 526.5,283.6 527,283.9 527.5,283.9 528,283.6 528.5,283.5 529,283.3 529.5,283.6 530,283.6 530.5,283.9 531,283.4 531.5,283.5 532,283.9 532.5,283.5 533,283.5 533.5,283.8 534,283.4 534.5,283.4 535,283.5 535.5,283.2 536,282.9 536.5,282.8 537,283.2 537.5,283.5 538,283.5 538.5,283.7 539,283.4 539.5,282.9 540,282.7 540.5,282.9 541,283 541.5,282.8 542,283.3 542.5,282.8 543,283.2 543.5,283.2 544,282.4 544.5,282.8 545,283.3 545.5,283.2 546,282.9 546.5,282.5 547,282.6 547.5,282.8 548,283.2 548.5,282.9 549,282.7 549.5,282.8 550,283 550.5,282.2 551,282.4 551.5,282.7 552,283 552.5,283 553,282.4 553.5,282.6 554,282.4 554.5,282.4 555,282.6 555.5,282.4 556,282.3 556.5,282.1 557,282 557.5,282.4 558,282.5 558.5,282.6 559,282.1 559.5,282.1 560,282.7 560.5,282.4 561,282.6 561.5,282.1 562,282.1 562.5,281.9 563,282.5 563.5,281.9 564,281.7 564.5,281.9 565,282.5 565.5,282.1 566,282.2 566.5,282.1 567,282.1 567.5,282 568,281.6 568.5,282.5 569,282 569.5,282.3 570,281.5 570.5,282.1 571,281.6 571.5,281.5 572,282 572.5,282.2 573,282.3 573.5,282.2 574,281.7 574.5,282 575,281.6 575.5,281.7 576,281.9 576.5,281.9 577,282.2 577.5,281.4 578,282.3 578.5,281.8 579,282.5 579.5,282.4 580,281.7 580.5,282.1 581,282.3 581.5,281.9 582,281.9 582.5,282.1 583,282.4 583.5,282.5 584,282.1 584.5,282.5 585,282.7 585.5,282.6 586,282.1 586.5,282.1 587,282.5 587.5,282.7 588,282.6 588.5,282.4 589,282.2 589.5,282.9 590,282.5 590.5,283.1 591,282.3 591.5,282.5 592,282.5 592.5,283.2 593,283.1 593.5,282.6 594,282.2 594.5,283.1 595,282.8 595.5,282.5 596,282.4 596.5,283 597,282.8 597.5,283 598,283.1 598.5,282.8 599,282.9 599.5,283.2 600,283 600.5,283 601,283.3 601.5,282.5 602,283.5 602.5,283.3 603,282.9 603.5,283.1 604,283.6 604.5,283.4 605,282.7 605.5,283 606,283.4 606.5,283.9 607,283.6 607.5,283.3 608,283.6 608.5,283.4 609,283.4 609.5,283.6 610,282.9 610.5,283.8 611,283.7 611.5,283.5 612,283.4 612.5,283.3 613,283.7 613.5,283.7 614,283.8 614.5,284.2 615,283.1 615.5,283.6 616,283.6 616.5,284.1 617,283.8 617.5,283.6 618,284 618.5,284 619,284.4 619.5,284 620,283.9 620.5,283.9 621,283.8 621.5,284.2 622,284.3 622.5,284 623,284.1 623.5,284.6 624,284.2 624.5,284.4 625,283.9 625.5,284.1 626,283.7 626.5,283.9 627,284.5 627.5,284.7 628,284.3 628.5,284.1 629,284.5 629.5,284.8 630,284.5 630.5,284.8 631,284.5 631.5,284.2 632,284.3 632.5,284.6 633,285.3 633.5,284.9 634,284.6 634.5,284.8 635,284.8 635.5,284.6 636,284.8 636.5,284.8 637,285.1 637.5,285.4 638,285.4 638.5,284.9 639,285.2 639.5,284.9 640,284.8 640.5,285.2 641,285.4 641.5,285.2 642,285.5 642.5,285.6 643,285.6 643.5,285.4 644,285 644.5,286 645,285.4 645.5,285.8 646,285.7 646.5,285.5 647,286.2 647.5,285.9 648,285.8 648.5,285.7 649,285.5 649.5,285.5 650,286.1 650.5,285.8 651,285.9 651.5,286.2 652,286 652.5,286.3 653,286 653.5,286 654,286.5 654.5,286.1 655,286.5 655.5,286.5 656,286.4 656.5,285.9 657,286.1 657.5,286.2 658,286.2 658.5,286.8 659,286.4 659.5,286.3 660,286.5 660.5,286.7 661,286.3 661.5,287 662,287 662.5,286.7 663,287.1 663.5,286.5 664,286.8 664.5,287 665,287.1 665.5,287.4 666,287 666.5,286.8 667,287.2 667.5,287.3 668,287.4 668.5,287.2 669,287.4 669.5,287.2 670,287.6 670.5,287.2 671,287.3 671.5,287.8" fill="none" stroke="#1f1fff" stroke-width="1.0" stroke-linejoin="round" stroke-opacity="0.9"/>
<path d="M373 291.2l1.8 1.8m-1.8 0l1.8 -1.8M373.6 289.8l1.8 1.8m-1.8 0l1.8 -1.8M374.1 289.1l1.8 1.8m-1.8 0l1.8 -1.8M375.2 289.6l1.8 1.8m-1.8 0l1.8 -1.8M375.7 290.8l1.8 1.8m-1.8 0l1.8 -1.8M375.8 289.7l1.8 1.8m-1.8 0l1.8 -1.8M376.7 290.1l1.8 1.8m-1.8 0l1.8 -1.8M377.3 290.2l1.8 1.8m-1.8 0l1.8 -1.8M377.9 288.1l1.8 1.8m-1.8 0l1.8 -1.8M378.8 288.1l1.8 1.8m-1.8 0l1.8 -1.8M379 287.7l1.8 1.8m-1.8 0l1.8 -1.8M379.7 287.8l1.8 1.8m-1.8 0l1.8 -1.8M380.7 287.4l1.8 1.8m-1.8 0l1.8 -1.8M381.2 288.8l1.8 1.8m-1.8 0l1.8 -1.8M381.4 287.9l1.8 1.8m-1.8 0l1.8 -1.8M381.7 287.8l1.8 1.8m-1.8 0l1.8 -1.8M382.7 288.4l1.8 1.8m-1.8 0l1.8 -1.8M383.1 288l1.8 1.8m-1.8 0l1.8 -1.8M384 286.4l1.8 1.8m-1.8 0l1.8 -1.8M384.4 288.2l1.8 1.8m-1.8 0l1.8 -1.8M384.9 286.9l1.8 1.8m-1.8 0l1.8 -1.8M385.9 286.3l1.8 1.8m-1.8 0l1.8 -1.8M386.7 286.9l1.8 1.8m-1.8 0l1.8 -1.8M386.6 287l1.8 1.8m-1.8 0l1.8 -1.8M387.6 285.9l1.8 1.8m-1.8 0l1.8 -1.8M388.3 286l1.8 1.8m-1.8 0l1.8 -1.8M388.9 286.6l1.8 1.8m-1.8 0l1.8 -1.8M389.3 286.3l1.8 1.8m-1.8 0l1.8 -1.8M389.7 285.9l1.8 1.8m-1.8 0l1.8 -1.8M390.8 285l1.8 1.8m-1.8 0l1.8 -1.8M391.2 286.2l1.8 1.8m-1.8 0l1.8 -1.8M391.4 286.4l1.8 1.8m-1.8 0l1.8 -1.8M392.6 285.8l1.8 1.8m-1.8 0l1.8 -1.8M393.2 285.6l1.8 1.8m-1.8 0l1.8 -1.8M393.9 284.4l1.8 1.8m-1.8 0l1.8 -1.8M394.3 284.7l1.8 1.8m-1.8 0l1.8 -1.8M394.7 286.3l1.8 1.8m-1.8 0l1.8 -1.8M395.7 284.5l1.8 1.8m-1.8 0l1.8 -1.8M396.1 284.3l1.8 1.8m-1.8 0l1.8 -1.8M396.5 285.1l1.8 1.8m-1.8 0l1.8 -1.8M397.4 285.4l1.8 1.8m-1.8 0l1.8 -1.8M397.9 285.8l1.8 1.8m-1.8 0l1.8 -1.8M397.9 285.4l1.8 1.8m-1.8 0l1.8 -1.8M398.9 284.1l1.8 1.8m-1.8 0l1.8 -1.8M399.8 284.3l1.8 1.8m-1.8 0l1.8 -1.8M400.1 285.3l1.8 1.8m-1.8 0l1.8 -1.8M400.6 285.2l1.8 1.8m-1.8 0l1.8 -1.8M401 284.8l1.8 1.8m-1.8 0l1.8 -1.8M401.9 285.2l1.8 1.8m-1.8 0l1.8 -1.8M402.3 285.1l1.8 1.8m-1.8 0l1.8 -1.8M402.9 283.1l1.8 1.8m-1.8 0l1.8 -1.8M403.4 283.1l1.8 1.8m-1.8 0l1.8 -1.8M404.3 284.3l1.8 1.8m-1.8 0l1.8 -1.8M404.7 283.5l1.8 1.8m-1.8 0l1.8 -1.8M405.5 283.4l1.8 1.8m-1.8 0l1.8 -1.8M405.9 282.1l1.8 1.8m-1.8 0l1.8 -1.8M406.5 282.5l1.8 1.8m-1.8 0l1.8 -1.8M407.7 283.1l1.8 1.8m-1.8 0l1.8 -1.8M408.2 283l1.8 1.8m-1.8 0l1.8 -1.8M408.9 283.9l1.8 1.8m-1.8 0l1.8 -1.8M409.5 284l1.8 1.8m-1.8 0l1.8 -1.8M409.9 282.2l1.8 1.8m-1.8 0l1.8 -1.8M410.2 282.7l1.8 1.8m-1.8 0l1.8 -1.8M410.6 282.1l1.8 1.8m-1.8 0l1.8 -1.8M411.3 283.5l1.8 1.8m-1.8 0l1.8 -1.8M412 283.4l1.8 1.8m-1.8 0l1.8 -1.8M412.8 283.3l1.8 1.8m-1.8 0l1.8 -1.8M413.6 282.2l1.8 1.8m-1.8 0l1.8 -1.8M414 283.5l1.8 1.8m-1.8 0l1.8 -1.8M414.6 283.2l1.8 1.8m-1.8 0l1.8 -1.8M415.2 282.4l1.8 1.8m-1.8 0l1.8 -1.8M416.1 281.9l1.8 1.8m-1.8 0l1.8 -1.8M416.5 283.4l1.8 1.8m-1.8 0l1.8 -1.8M417.2 283.5l1.8 1.8m-1.8 0l1.8 -1.8M417.3 282.8l1.8 1.8m-1.8 0l1.8 -1.8M418.1 281.7l1.8 1.8m-1.8 0l1.8 -1.8M418.7 282.1l1.8 1.8m-1.8 0l1.8 -1.8M419.5 281.9l1.8 1.8m-1.8 0l1.8 -1.8M419.7 282.7l1.8 1.8m-1.8 0l1.8 -1.8M420.4 283.8l1.8 1.8m-1.8 0l1.8 -1.8M421.2 283l1.8 1.8m-1.8 0l1.8 -1.8M421.5 281.9l1.8 1.8m-1.8 0l1.8 -1.8M422.4 284.4l1.8 1.8m-1.8 0l1.8 -1.8M423.3 282.2l1.8 1.8m-1.8 0l1.8 -1.8M423.6 284.3l1.8 1.8m-1.8 0l1.8 -1.8M424 282l1.8 1.8m-1.8 0l1.8 -1.8M424.4 283l1.8 1.8m-1.8 0l1.8 -1.8M425.1 283.6l1.8 1.8m-1.8 0l1.8 -1.8M425.7 283.8l1.8 1.8m-1.8 0l1.8 -1.8M426.3 284.4l1.8 1.8m-1.8 0l1.8 -1.8M427.4 282.1l1.8 1.8m-1.8 0l1.8 -1.8M427.3 282.7l1.8 1.8m-1.8 0l1.8 -1.8M428.2 284.6l1.8 1.8m-1.8 0l1.8 -1.8M428.6 284l1.8 1.8m-1.8 0l1.8 -1.8M429.8 284.3l1.8 1.8m-1.8 0l1.8 -1.8M429.9 282.9l1.8 1.8m-1.8 0l1.8 -1.8M430.8 282.5l1.8 1.8m-1.8 0l1.8 -1.8M431.6 283.3l1.8 1.8m-1.8 0l1.8 -1.8M431.9 283.1l1.8 1.8m-1.8 0l1.8 -1.8M432.3 283.2l1.8 1.8m-1.8 0l1.8 -1.8M433.2 282.3l1.8 1.8m-1.8 0l1.8 -1.8M434 282.9l1.8 1.8m-1.8 0l1.8 -1.8M434.4 283.9l1.8 1.8m-1.8 0l1.8 -1.8M434.7 284.4l1.8 1.8m-1.8 0l1.8 -1.8M435.8 284.5l1.8 1.8m-1.8 0l1.8 -1.8M435.9 282.6l1.8 1.8m-1.8 0l1.8 -1.8M436.7 282.3l1.8 1.8m-1.8 0l1.8 -1.8M437.6 282.4l1.8 1.8m-1.8 0l1.8 -1.8M437.7 282.9l1.8 1.8m-1.8 0l1.8 -1.8M438.3 284.5l1.8 1.8m-1.8 0l1.8 -1.8M439.1 283l1.8 1.8m-1.8 0l1.8 -1.8M439.5 283.5l1.8 1.8m-1.8 0l1.8 -1.8M440.1 283.7l1.8 1.8m-1.8 0l1.8 -1.8M440.7 283.9l1.8 1.8m-1.8 0l1.8 -1.8M441.4 282.7l1.8 1.8m-1.8 0l1.8 -1.8M442.3 282.8l1.8 1.8m-1.8 0l1.8 -1.8M442.4 284.1l1.8 1.8m-1.8 0l1.8 -1.8M443.6 284.4l1.8 1.8m-1.8 0l1.8 -1.8M443.9 282.4l1.8 1.8m-1.8 0l1.8 -1.8M444.5 283.5l1.8 1.8m-1.8 0l1.8 -1.8M445.4 282.1l1.8 1.8m-1.8 0l1.8 -1.8M445.9 283.2l1.8 1.8m-1.8 0l1.8 -1.8M446.6 283.5l1.8 1.8m-1.8 0l1.8 -1.8M447.1 282.9l1.8 1.8m-1.8 0l1.8 -1.8M447.8 282.9l1.8 1.8m-1.8 0l1.8 -1.8M447.7 282.9l1.8 1.8m-1.8 0l1.8 -1.8M448.9 283.3l1.8 1.8m-1.8 0l1.8 -1.8M449.5 283.1l1.8 1.8m-1.8 0l1.8 -1.8M449.7 284l1.8 1.8m-1.8 0l1.8 -1.8M450.9 283.1l1.8 1.8m-1.8 0l1.8 -1.8M451.4 283.4l1.8 1.8m-1.8 0l1.8 -1.8M451.5 283.1l1.8 1.8m-1.8 0l1.8 -1.8M452.3 284.3l1.8 1.8m-1.8 0l1.8 -1.8M453.1 282.1l1.8 1.8m-1.8 0l1.8 -1.8M453.8 283.4l1.8 1.8m-1.8 0l1.8 -1.8M454.3 284.5l1.8 1.8m-1.8 0l1.8 -1.8M454.4 282.4l1.8 1.8m-1.8 0l1.8 -1.8M455.5 284.3l1.8 1.8m-1.8 0l1.8 -1.8M455.9 284.2l1.8 1.8m-1.8 0l1.8 -1.8M456.2 283.6l1.8 1.8m-1.8 0l1.8 -1.8M457.2 283.1l1.8 1.8m-1.8 0l1.8 -1.8M457.4 282.8l1.8 1.8m-1.8 0l1.8 -1.8M458 284.3l1.8 1.8m-1.8 0l1.8 -1.8M459 283.3l1.8 1.8m-1.8 0l1.8 -1.8M459.8 283.3l1.8 1.8m-1.8 0l1.8 -1.8M460.4 282.6l1.8 1.8m-1.8 0l1.8 -1.8M460.7 284.2l1.8 1.8m-1.8 0l1.8 -1.8M461.6 283l1.8 1.8m-1.8 0l1.8 -1.8M462.3 283.1l1.8 1.8m-1.8 0l1.8 -1.8M462.2 282.2l1.8 1.8m-1.8 0l1.8 -1.8M463.4 282.2l1.8 1.8m-1.8 0l1.8 -1.8M463.7 282.9l1.8 1.8m-1.8 0l1.8 -1.8M464.1 283.5l1.8 1.8m-1.8 0l1.8 -1.8M465 282.8l1.8 1.8m-1.8 0l1.8 -1.8M465.4 281.7l1.8 1.8m-1.8 0l1.8 -1.8M466 283.1l1.8 1.8m-1.8 0l1.8 -1.8M466.4 282.1l1.8 1.8m-1.8 0l1.8 -1.8M467.5 284l1.8 1.8m-1.8 0l1.8 -1.8M468.1 283l1.8 1.8m-1.8 0l1.8 -1.8M468.9 281.5l1.8 1.8m-1.8 0l1.8 -1.8M469.1 282.3l1.8 1.8m-1.8 0l1.8 -1.8M469.6 281.6l1.8 1.8m-1.8 0l1.8 -1.8M470.2 281.7l1.8 1.8m-1.8 0l1.8 -1.8M471 282.4l1.8 1.8m-1.8 0l1.8 -1.8M471.8 281.6l1.8 1.8m-1.8 0l1.8 -1.8M471.8 283.7l1.8 1.8m-1.8 0l1.8 -1.8M472.9 281.6l1.8 1.8m-1.8 0l1.8 -1.8M473.1 282.1l1.8 1.8m-1.8 0l1.8 -1.8M473.6 281.8l1.8 1.8m-1.8 0l1.8 -1.8M474.6 283.5l1.8 1.8m-1.8 0l1.8 -1.8M475.5 281.6l1.8 1.8m-1.8 0l1.8 -1.8M475.9 281.9l1.8 1.8m-1.8 0l1.8 -1.8M476.2 282.9l1.8 1.8m-1.8 0l1.8 -1.8M476.7 282.7l1.8 1.8m-1.8 0l1.8 -1.8M477.3 282.8l1.8 1.8m-1.8 0l1.8 -1.8M478 281.2l1.8 1.8m-1.8 0l1.8 -1.8M478.9 282.7l1.8 1.8m-1.8 0l1.8 -1.8M478.9 281.6l1.8 1.8m-1.8 0l1.8 -1.8M480.1 282.2l1.8 1.8m-1.8 0l1.8 -1.8M480.2 280.9l1.8 1.8m-1.8 0l1.8 -1.8M480.9 281.9l1.8 1.8m-1.8 0l1.8 -1.8M481.4 281.7l1.8 1.8m-1.8 0l1.8 -1.8M482.5 282.5l1.8 1.8m-1.8 0l1.8 -1.8M482.5 283.1l1.8 1.8m-1.8 0l1.8 -1.8M483.8 280.9l1.8 1.8m-1.8 0l1.8 -1.8M484.3 282.3l1.8 1.8m-1.8 0l1.8 -1.8M485.1 280.6l1.8 1.8m-1.8 0l1.8 -1.8M484.9 281.3l1.8 1.8m-1.8 0l1.8 -1.8M485.6 280.7l1.8 1.8m-1.8 0l1.8 -1.8M486.4 282.1l1.8 1.8m-1.8 0l1.8 -1.8M486.8 281.2l1.8 1.8m-1.8 0l1.8 -1.8M487.9 281.1l1.8 1.8m-1.8 0l1.8 -1.8M487.9 281.4l1.8 1.8m-1.8 0l1.8 -1.8M489.3 283.1l1.8 1.8m-1.8 0l1.8 -1.8M489.6 281.4l1.8 1.8m-1.8 0l1.8 -1.8M490.2 280.7l1.8 1.8m-1.8 0l1.8 -1.8M490.5 280.6l1.8 1.8m-1.8 0l1.8 -1.8M491 283l1.8 1.8m-1.8 0l1.8 -1.8M492 281.9l1.8 1.8m-1.8 0l1.8 -1.8M492.9 281.1l1.8 1.8m-1.8 0l1.8 -1.8M492.8 281.9l1.8 1.8m-1.8 0l1.8 -1.8M493.7 282.6l1.8 1.8m-1.8 0l1.8 -1.8M494.2 281.1l1.8 1.8m-1.8 0l1.8 -1.8M494.9 282.1l1.8 1.8m-1.8 0l1.8 -1.8M495.1 281.8l1.8 1.8m-1.8 0l1.8 -1.8M496 280.9l1.8 1.8m-1.8 0l1.8 -1.8M496.4 283.2l1.8 1.8m-1.8 0l1.8 -1.8M497.3 281.3l1.8 1.8m-1.8 0l1.8 -1.8M498.2 281.5l1.8 1.8m-1.8 0l1.8 -1.8M498.7 282.7l1.8 1.8m-1.8 0l1.8 -1.8M499 281.1l1.8 1.8m-1.8 0l1.8 -1.8M499.7 282.8l1.8 1.8m-1.8 0l1.8 -1.8M500.6 281.1l1.8 1.8m-1.8 0l1.8 -1.8M501.1 283.2l1.8 1.8m-1.8 0l1.8 -1.8M501.2 282.3l1.8 1.8m-1.8 0l1.8 -1.8M502.1 281.7l1.8 1.8m-1.8 0l1.8 -1.8M502.7 282.3l1.8 1.8m-1.8 0l1.8 -1.8M503.4 281.2l1.8 1.8m-1.8 0l1.8 -1.8M503.7 283l1.8 1.8m-1.8 0l1.8 -1.8M504.4 281.1l1.8 1.8m-1.8 0l1.8 -1.8M505.4 281.9l1.8 1.8m-1.8 0l1.8 -1.8M505.9 281.6l1.8 1.8m-1.8 0l1.8 -1.8M506 283.1l1.8 1.8m-1.8 0l1.8 -1.8M507 283.3l1.8 1.8m-1.8 0l1.8 -1.8M507.7 283.2l1.8 1.8m-1.8 0l1.8 -1.8M508.4 282.2l1.8 1.8m-1.8 0l1.8 -1.8M508.6 281.8l1.8 1.8m-1.8 0l1.8 -1.8M509.2 282.5l1.8 1.8m-1.8 0l1.8 -1.8M510.1 281.6l1.8 1.8m-1.8 0l1.8 -1.8M510.2 283.1l1.8 1.8m-1.8 0l1.8 -1.8M511.4 282.9l1.8 1.8m-1.8 0l1.8 -1.8M511.4 283.2l1.8 1.8m-1.8 0l1.8 -1.8M512.3 281.3l1.8 1.8m-1.8 0l1.8 -1.8M513.2 283.4l1.8 1.8m-1.8 0l1.8 -1.8M513.8 281.2l1.8 1.8m-1.8 0l1.8 -1.8M514.2 282.8l1.8 1.8m-1.8 0l1.8 -1.8M514.8 281.8l1.8 1.8m-1.8 0l1.8 -1.8M515.4 283.6l1.8 1.8m-1.8 0l1.8 -1.8M516.1 283.5l1.8 1.8m-1.8 0l1.8 -1.8M516.4 281.8l1.8 1.8m-1.8 0l1.8 -1.8M516.9 281.9l1.8 1.8m-1.8 0l1.8 -1.8M517.7 282.9l1.8 1.8m-1.8 0l1.8 -1.8M518.1 283.6l1.8 1.8m-1.8 0l1.8 -1.8M518.6 281.6l1.8 1.8m-1.8 0l1.8 -1.8M519.7 281.9l1.8 1.8m-1.8 0l1.8 -1.8M520.2 281.7l1.8 1.8m-1.8 0l1.8 -1.8M520.8 283.7l1.8 1.8m-1.8 0l1.8 -1.8M521.5 281.8l1.8 1.8m-1.8 0l1.8 -1.8M521.9 283.5l1.8 1.8m-1.8 0l1.8 -1.8M522.6 282.2l1.8 1.8m-1.8 0l1.8 -1.8M523.2 281.5l1.8 1.8m-1.8 0l1.8 -1.8M523.8 281.8l1.8 1.8m-1.8 0l1.8 -1.8M524.2 282l1.8 1.8m-1.8 0l1.8 -1.8M524.8 283.6l1.8 1.8m-1.8 0l1.8 -1.8M525.2 283.2l1.8 1.8m-1.8 0l1.8 -1.8M525.8 282.9l1.8 1.8m-1.8 0l1.8 -1.8M527 282.4l1.8 1.8m-1.8 0l1.8 -1.8M527.1 281.8l1.8 1.8m-1.8 0l1.8 -1.8M527.8 283.4l1.8 1.8m-1.8 0l1.8 -1.8M528.7 282.7l1.8 1.8m-1.8 0l1.8 -1.8M529.5 282.9l1.8 1.8m-1.8 0l1.8 -1.8M529.4 283.5l1.8 1.8m-1.8 0l1.8 -1.8M530.5 281.1l1.8 1.8m-1.8 0l1.8 -1.8M531.1 281.5l1.8 1.8m-1.8 0l1.8 -1.8M531.5 281.2l1.8 1.8m-1.8 0l1.8 -1.8M532 282l1.8 1.8m-1.8 0l1.8 -1.8M532.4 282.3l1.8 1.8m-1.8 0l1.8 -1.8M533.7 282l1.8 1.8m-1.8 0l1.8 -1.8M534.1 281l1.8 1.8m-1.8 0l1.8 -1.8M534.2 282.3l1.8 1.8m-1.8 0l1.8 -1.8M535 282.5l1.8 1.8m-1.8 0l1.8 -1.8M535.5 282l1.8 1.8m-1.8 0l1.8 -1.8M536.6 283.3l1.8 1.8m-1.8 0l1.8 -1.8M536.9 282l1.8 1.8m-1.8 0l1.8 -1.8M537.6 281.7l1.8 1.8m-1.8 0l1.8 -1.8M538.3 282.3l1.8 1.8m-1.8 0l1.8 -1.8M539 281l1.8 1.8m-1.8 0l1.8 -1.8M539.6 280.8l1.8 1.8m-1.8 0l1.8 -1.8M539.9 281.1l1.8 1.8m-1.8 0l1.8 -1.8M540.4 282.7l1.8 1.8m-1.8 0l1.8 -1.8M541.2 280.8l1.8 1.8m-1.8 0l1.8 -1.8M541.6 282.4l1.8 1.8m-1.8 0l1.8 -1.8M542.6 282.2l1.8 1.8m-1.8 0l1.8 -1.8M543 280.5l1.8 1.8m-1.8 0l1.8 -1.8M543.5 282.1l1.8 1.8m-1.8 0l1.8 -1.8M544 280.9l1.8 1.8m-1.8 0l1.8 -1.8M545 281.5l1.8 1.8m-1.8 0l1.8 -1.8M545.3 282.3l1.8 1.8m-1.8 0l1.8 -1.8M546.2 281.1l1.8 1.8m-1.8 0l1.8 -1.8M546.4 280.4l1.8 1.8m-1.8 0l1.8 -1.8M547.1 281.2l1.8 1.8m-1.8 0l1.8 -1.8M547.6 280.4l1.8 1.8m-1.8 0l1.8 -1.8M547.9 280.6l1.8 1.8m-1.8 0l1.8 -1.8M549.2 282.8l1.8 1.8m-1.8 0l1.8 -1.8M549.6 281.1l1.8 1.8m-1.8 0l1.8 -1.8M550.4 280.8l1.8 1.8m-1.8 0l1.8 -1.8M550.7 281.8l1.8 1.8m-1.8 0l1.8 -1.8M551.3 280.9l1.8 1.8m-1.8 0l1.8 -1.8M552.1 282.1l1.8 1.8m-1.8 0l1.8 -1.8M552.9 280.2l1.8 1.8m-1.8 0l1.8 -1.8M553.4 281.4l1.8 1.8m-1.8 0l1.8 -1.8M554 280.2l1.8 1.8m-1.8 0l1.8 -1.8M554 281.6l1.8 1.8m-1.8 0l1.8 -1.8M554.7 280l1.8 1.8m-1.8 0l1.8 -1.8M555.6 282.4l1.8 1.8m-1.8 0l1.8 -1.8M555.9 280.8l1.8 1.8m-1.8 0l1.8 -1.8M556.6 281.8l1.8 1.8m-1.8 0l1.8 -1.8M557.4 280.1l1.8 1.8m-1.8 0l1.8 -1.8M558.2 281.2l1.8 1.8m-1.8 0l1.8 -1.8M558.6 280.1l1.8 1.8m-1.8 0l1.8 -1.8M559.1 281.9l1.8 1.8m-1.8 0l1.8 -1.8M560 281.9l1.8 1.8m-1.8 0l1.8 -1.8M560.1 281.7l1.8 1.8m-1.8 0l1.8 -1.8M560.9 280.1l1.8 1.8m-1.8 0l1.8 -1.8M561.9 282.3l1.8 1.8m-1.8 0l1.8 -1.8M562.2 280.9l1.8 1.8m-1.8 0l1.8 -1.8M562.8 280.5l1.8 1.8m-1.8 0l1.8 -1.8M563.6 279.7l1.8 1.8m-1.8 0l1.8 -1.8M564 282l1.8 1.8m-1.8 0l1.8 -1.8M564.3 280l1.8 1.8m-1.8 0l1.8 -1.8M564.9 281.9l1.8 1.8m-1.8 0l1.8 -1.8M566 281.7l1.8 1.8m-1.8 0l1.8 -1.8M566.1 281.4l1.8 1.8m-1.8 0l1.8 -1.8M567.2 281.2l1.8 1.8m-1.8 0l1.8 -1.8M567.8 281.4l1.8 1.8m-1.8 0l1.8 -1.8M568.1 281.8l1.8 1.8m-1.8 0l1.8 -1.8M568.8 281.2l1.8 1.8m-1.8 0l1.8 -1.8M569 282l1.8 1.8m-1.8 0l1.8 -1.8M570.1 279.5l1.8 1.8m-1.8 0l1.8 -1.8M570.6 281.4l1.8 1.8m-1.8 0l1.8 -1.8M570.9 279.4l1.8 1.8m-1.8 0l1.8 -1.8M571.4 281.6l1.8 1.8m-1.8 0l1.8 -1.8M572.7 279.4l1.8 1.8m-1.8 0l1.8 -1.8M572.6 280.7l1.8 1.8m-1.8 0l1.8 -1.8M573.8 280.3l1.8 1.8m-1.8 0l1.8 -1.8M573.9 281.5l1.8 1.8m-1.8 0l1.8 -1.8M574.6 281.4l1.8 1.8m-1.8 0l1.8 -1.8M575.4 279.9l1.8 1.8m-1.8 0l1.8 -1.8M576.1 280.4l1.8 1.8m-1.8 0l1.8 -1.8M576.9 281.8l1.8 1.8m-1.8 0l1.8 -1.8M577 281.4l1.8 1.8m-1.8 0l1.8 -1.8M577.5 280.4l1.8 1.8m-1.8 0l1.8 -1.8M578.5 280.7l1.8 1.8m-1.8 0l1.8 -1.8M578.6 279.7l1.8 1.8m-1.8 0l1.8 -1.8M579.3 281.4l1.8 1.8m-1.8 0l1.8 -1.8M580.1 281l1.8 1.8m-1.8 0l1.8 -1.8M581 280.1l1.8 1.8m-1.8 0l1.8 -1.8M580.9 280.9l1.8 1.8m-1.8 0l1.8 -1.8M582.1 282l1.8 1.8m-1.8 0l1.8 -1.8M582.7 280.2l1.8 1.8m-1.8 0l1.8 -1.8M583.1 280.1l1.8 1.8m-1.8 0l1.8 -1.8M584.1 281.5l1.8 1.8m-1.8 0l1.8 -1.8M584.6 282.3l1.8 1.8m-1.8 0l1.8 -1.8M584.6 282.3l1.8 1.8m-1.8 0l1.8 -1.8M585.2 280l1.8 1.8m-1.8 0l1.8 -1.8M585.7 281.7l1.8 1.8m-1.8 0l1.8 -1.8M586.3 280.5l1.8 1.8m-1.8 0l1.8 -1.8M587.4 281.6l1.8 1.8m-1.8 0l1.8 -1.8M587.7 280.6l1.8 1.8m-1.8 0l1.8 -1.8M588.4 282.6l1.8 1.8m-1.8 0l1.8 -1.8M589.2 280.8l1.8 1.8m-1.8 0l1.8 -1.8M589.7 282l1.8 1.8m-1.8 0l1.8 -1.8M590.1 280.3l1.8 1.8m-1.8 0l1.8 -1.8M590.7 282.2l1.8 1.8m-1.8 0l1.8 -1.8M591.3 280.6l1.8 1.8m-1.8 0l1.8 -1.8M592.4 282.1l1.8 1.8m-1.8 0l1.8 -1.8M593 282.5l1.8 1.8m-1.8 0l1.8 -1.8M593.7 282.6l1.8 1.8m-1.8 0l1.8 -1.8M594 282.5l1.8 1.8m-1.8 0l1.8 -1.8M594.9 281.1l1.8 1.8m-1.8 0l1.8 -1.8M595 280.9l1.8 1.8m-1.8 0l1.8 -1.8M595.7 282.4l1.8 1.8m-1.8 0l1.8 -1.8M596.3 280.5l1.8 1.8m-1.8 0l1.8 -1.8M596.9 282.7l1.8 1.8m-1.8 0l1.8 -1.8M597.3 282.4l1.8 1.8m-1.8 0l1.8 -1.8M598 282.5l1.8 1.8m-1.8 0l1.8 -1.8M598.9 281.4l1.8 1.8m-1.8 0l1.8 -1.8M599.2 282l1.8 1.8m-1.8 0l1.8 -1.8M599.7 281.5l1.8 1.8m-1.8 0l1.8 -1.8M600.6 282.9l1.8 1.8m-1.8 0l1.8 -1.8M601.5 282.6l1.8 1.8m-1.8 0l1.8 -1.8M601.9 281.8l1.8 1.8m-1.8 0l1.8 -1.8M602.3 280.9l1.8 1.8m-1.8 0l1.8 -1.8M603.1 282.5l1.8 1.8m-1.8 0l1.8 -1.8M603.5 282.4l1.8 1.8m-1.8 0l1.8 -1.8M603.8 283.2l1.8 1.8m-1.8 0l1.8 -1.8M604.6 282.6l1.8 1.8m-1.8 0l1.8 -1.8M605.7 280.9l1.8 1.8m-1.8 0l1.8 -1.8M606.2 282.9l1.8 1.8m-1.8 0l1.8 -1.8M606.8 281.2l1.8 1.8m-1.8 0l1.8 -1.8M606.9 282.1l1.8 1.8m-1.8 0l1.8 -1.8M608 282.4l1.8 1.8m-1.8 0l1.8 -1.8M608.3 283.4l1.8 1.8m-1.8 0l1.8 -1.8M609.2 283l1.8 1.8m-1.8 0l1.8 -1.8M609.9 282.7l1.8 1.8m-1.8 0l1.8 -1.8M609.8 282.3l1.8 1.8m-1.8 0l1.8 -1.8M610.7 282.2l1.8 1.8m-1.8 0l1.8 -1.8M611.6 283.1l1.8 1.8m-1.8 0l1.8 -1.8M611.7 281.3l1.8 1.8m-1.8 0l1.8 -1.8M612.8 281.6l1.8 1.8m-1.8 0l1.8 -1.8M613.4 281.5l1.8 1.8m-1.8 0l1.8 -1.8M614 281.7l1.8 1.8m-1.8 0l1.8 -1.8M614.5 282.6l1.8 1.8m-1.8 0l1.8 -1.8M615.3 283.8l1.8 1.8m-1.8 0l1.8 -1.8M615.8 281.5l1.8 1.8m-1.8 0l1.8 -1.8M616 283.3l1.8 1.8m-1.8 0l1.8 -1.8M616.8 281.9l1.8 1.8m-1.8 0l1.8 -1.8M617 283.2l1.8 1.8m-1.8 0l1.8 -1.8M617.9 283.3l1.8 1.8m-1.8 0l1.8 -1.8M618.8 283.2l1.8 1.8m-1.8 0l1.8 -1.8M619.4 282.7l1.8 1.8m-1.8 0l1.8 -1.8M619.5 283l1.8 1.8m-1.8 0l1.8 -1.8M620.1 282.5l1.8 1.8m-1.8 0l1.8 -1.8M621 284l1.8 1.8m-1.8 0l1.8 -1.8M621.8 283l1.8 1.8m-1.8 0l1.8 -1.8M622.1 283.2l1.8 1.8m-1.8 0l1.8 -1.8M623 282.8l1.8 1.8m-1.8 0l1.8 -1.8M623.2 283l1.8 1.8m-1.8 0l1.8 -1.8M623.7 282.3l1.8 1.8m-1.8 0l1.8 -1.8M624.3 283.8l1.8 1.8m-1.8 0l1.8 -1.8M625.3 284l1.8 1.8m-1.8 0l1.8 -1.8M625.4 282.5l1.8 1.8m-1.8 0l1.8 -1.8M626.4 284.1l1.8 1.8m-1.8 0l1.8 -1.8M627.3 284.1l1.8 1.8m-1.8 0l1.8 -1.8M627.6 282.4l1.8 1.8m-1.8 0l1.8 -1.8M628.1 282.6l1.8 1.8m-1.8 0l1.8 -1.8M628.9 282.3l1.8 1.8m-1.8 0l1.8 -1.8M629 283l1.8 1.8m-1.8 0l1.8 -1.8M629.8 282.4l1.8 1.8m-1.8 0l1.8 -1.8M630.7 282.9l1.8 1.8m-1.8 0l1.8 -1.8M630.9 282.6l1.8 1.8m-1.8 0l1.8 -1.8M631.6 284.5l1.8 1.8m-1.8 0l1.8 -1.8M632.1 282.5l1.8 1.8m-1.8 0l1.8 -1.8M632.6 284.5l1.8 1.8m-1.8 0l1.8 -1.8M633.6 282.8l1.8 1.8m-1.8 0l1.8 -1.8M633.7 283.2l1.8 1.8m-1.8 0l1.8 -1.8M634.5 283.4l1.8 1.8m-1.8 0l1.8 -1.8M635.4 283.4l1.8 1.8m-1.8 0l1.8 -1.8M635.6 283.7l1.8 1.8m-1.8 0l1.8 -1.8M636.3 284.2l1.8 1.8m-1.8 0l1.8 -1.8M637.1 284.6l1.8 1.8m-1.8 0l1.8 -1.8M638.1 282.6l1.8 1.8m-1.8 0l1.8 -1.8M637.9 283.2l1.8 1.8m-1.8 0l1.8 -1.8M638.8 284.8l1.8 1.8m-1.8 0l1.8 -1.8M639.7 283.6l1.8 1.8m-1.8 0l1.8 -1.8M639.8 285.3l1.8 1.8m-1.8 0l1.8 -1.8M641.1 284.8l1.8 1.8m-1.8 0l1.8 -1.8M641.1 285.2l1.8 1.8m-1.8 0l1.8 -1.8M641.9 283l1.8 1.8m-1.8 0l1.8 -1.8M642.3 284.5l1.8 1.8m-1.8 0l1.8 -1.8M642.7 284.5l1.8 1.8m-1.8 0l1.8 -1.8M643.6 285.2l1.8 1.8m-1.8 0l1.8 -1.8M644.1 283.2l1.8 1.8m-1.8 0l1.8 -1.8M644.7 285.4l1.8 1.8m-1.8 0l1.8 -1.8M645.4 283.8l1.8 1.8m-1.8 0l1.8 -1.8M645.8 284.3l1.8 1.8m-1.8 0l1.8 -1.8M646.9 283.8l1.8 1.8m-1.8 0l1.8 -1.8M647.1 284.8l1.8 1.8m-1.8 0l1.8 -1.8M647.8 285.9l1.8 1.8m-1.8 0l1.8 -1.8M648.6 284.8l1.8 1.8m-1.8 0l1.8 -1.8M649.3 286l1.8 1.8m-1.8 0l1.8 -1.8M649.6 285.7l1.8 1.8m-1.8 0l1.8 -1.8M650.5 284.3l1.8 1.8m-1.8 0l1.8 -1.8M650.9 285.1l1.8 1.8m-1.8 0l1.8 -1.8M651.5 283.9l1.8 1.8m-1.8 0l1.8 -1.8M652.3 283.8l1.8 1.8m-1.8 0l1.8 -1.8M652.7 284.3l1.8 1.8m-1.8 0l1.8 -1.8M652.9 285l1.8 1.8m-1.8 0l1.8 -1.8M653.7 286.3l1.8 1.8m-1.8 0l1.8 -1.8M654.8 285.8l1.8 1.8m-1.8 0l1.8 -1.8M655 285.1l1.8 1.8m-1.8 0l1.8 -1.8M655.5 284.2l1.8 1.8m-1.8 0l1.8 -1.8M656.2 285.2l1.8 1.8m-1.8 0l1.8 -1.8M657 284.6l1.8 1.8m-1.8 0l1.8 -1.8M657.4 286.1l1.8 1.8m-1.8 0l1.8 -1.8M657.9 284.7l1.8 1.8m-1.8 0l1.8 -1.8M659.1 284.7l1.8 1.8m-1.8 0l1.8 -1.8M659 286.4l1.8 1.8m-1.8 0l1.8 -1.8M660.2 284.6l1.8 1.8m-1.8 0l1.8 -1.8M660.4 285.6l1.8 1.8m-1.8 0l1.8 -1.8M661 286.7l1.8 1.8m-1.8 0l1.8 -1.8M662 285.5l1.8 1.8m-1.8 0l1.8 -1.8M662.3 286.3l1.8 1.8m-1.8 0l1.8 -1.8M662.9 284.5l1.8 1.8m-1.8 0l1.8 -1.8M663.5 286.7l1.8 1.8m-1.8 0l1.8 -1.8M664.2 285l1.8 1.8m-1.8 0l1.8 -1.8M664.7 286.6l1.8 1.8m-1.8 0l1.8 -1.8M665.5 285.9l1.8 1.8m-1.8 0l1.8 -1.8M665.7 285.5l1.8 1.8m-1.8 0l1.8 -1.8M666.4 285.8l1.8 1.8m-1.8 0l1.8 -1.8M667.3 286.5l1.8 1.8m-1.8 0l1.8 -1.8M668 286.1l1.8 1.8m-1.8 0l1.8 -1.8M668.6 287.1l1.8 1.8m-1.8 0l1.8 -1.8M669.3 286.8l1.8 1.8m-1.8 0l1.8 -1.8M669.7 285.7l1.8 1.8m-1.8 0l1.8 -1.8M670 286l1.8 1.8m-1.8 0l1.8 -1.8" stroke="#1f1fff" stroke-width="0.7" stroke-opacity="0.5" fill="none"/>
<text x="373.9" y="9.9" font-size="11.2" fill="#000" font-family='"Liberation Sans", sans-serif' textLength="36" lengthAdjust="spacingAndGlyphs" stroke="#000" stroke-width="0.08">#96994</text>
<text x="612.3" y="9.9" font-size="11.2" fill="#000" font-family='"Liberation Sans", sans-serif' textLength="56.8" lengthAdjust="spacingAndGlyphs" stroke="#000" stroke-width="0.08">2.8T/3.0MA</text>
<text x="358.8" y="22.5" font-size="10.5" fill="#000" font-family='"Liberation Sans", sans-serif' stroke="#000" stroke-width="0.08">30</text>
<text x="358.8" y="42.2" font-size="10.5" fill="#000" font-family='"Liberation Sans", sans-serif' stroke="#000" stroke-width="0.08">15</text>
<text x="363.3" y="57" font-size="10.5" fill="#000" font-family='"Liberation Sans", sans-serif' stroke="#000" stroke-width="0.08">0</text>
<text x="363.9" y="66.8" font-size="10.5" fill="#000" font-family='"Liberation Sans", sans-serif' stroke="#000" stroke-width="0.08">4</text>
<text x="363.9" y="83.7" font-size="10.5" fill="#000" font-family='"Liberation Sans", sans-serif' stroke="#000" stroke-width="0.08">2</text>
<text x="363.9" y="99.4" font-size="10.5" fill="#000" font-family='"Liberation Sans", sans-serif' stroke="#000" stroke-width="0.08">0</text>
<text x="363.9" y="112" font-size="10.5" fill="#000" font-family='"Liberation Sans", sans-serif' stroke="#000" stroke-width="0.08">6</text>
<text x="363.9" y="123.1" font-size="10.5" fill="#000" font-family='"Liberation Sans", sans-serif' stroke="#000" stroke-width="0.08">4</text>
<text x="363.9" y="129.4" font-size="10.5" fill="#000" font-family='"Liberation Sans", sans-serif' stroke="#000" stroke-width="0.08">2</text>
<text x="363.9" y="138.4" font-size="10.5" fill="#000" font-family='"Liberation Sans", sans-serif' stroke="#000" stroke-width="0.08">0</text>
<text x="363.9" y="154.8" font-size="10.5" fill="#000" font-family='"Liberation Sans", sans-serif' stroke="#000" stroke-width="0.08">8</text>
<text x="363.9" y="168.7" font-size="10.5" fill="#000" font-family='"Liberation Sans", sans-serif' stroke="#000" stroke-width="0.08">4</text>
<text x="363.9" y="180.5" font-size="10.5" fill="#000" font-family='"Liberation Sans", sans-serif' stroke="#000" stroke-width="0.08">0</text>
<text x="363.9" y="194.8" font-size="10.5" fill="#000" font-family='"Liberation Sans", sans-serif' stroke="#000" stroke-width="0.08">4</text>
<text x="363.9" y="209.4" font-size="10.5" fill="#000" font-family='"Liberation Sans", sans-serif' stroke="#000" stroke-width="0.08">2</text>
<text x="363.9" y="220.5" font-size="10.5" fill="#000" font-family='"Liberation Sans", sans-serif' stroke="#000" stroke-width="0.08">0</text>
<text x="363.9" y="230.4" font-size="10.5" fill="#000" font-family='"Liberation Sans", sans-serif' stroke="#000" stroke-width="0.08">4</text>
<text x="363.9" y="247.1" font-size="10.5" fill="#000" font-family='"Liberation Sans", sans-serif' stroke="#000" stroke-width="0.08">2</text>
<text x="363.9" y="260.3" font-size="10.5" fill="#000" font-family='"Liberation Sans", sans-serif' stroke="#000" stroke-width="0.08">0</text>
<text x="359.7" y="271.8" font-size="10.5" fill="#000" font-family='"Liberation Sans", sans-serif' stroke="#000" stroke-width="0.08">15</text>
<text x="359.7" y="281.5" font-size="10.5" fill="#000" font-family='"Liberation Sans", sans-serif' stroke="#000" stroke-width="0.08">10</text>
<text x="364.8" y="289.9" font-size="10.5" fill="#000" font-family='"Liberation Sans", sans-serif' stroke="#000" stroke-width="0.08">5</text>
<text x="364.8" y="298.9" font-size="10.5" fill="#000" font-family='"Liberation Sans", sans-serif' stroke="#000" stroke-width="0.08">0</text>
<text x="390.7" y="306.3" font-size="10.5" fill="#000" font-family='"Liberation Sans", sans-serif' text-anchor="middle" stroke="#000" stroke-width="0.08">8</text>
<text x="461.3" y="306.3" font-size="10.5" fill="#000" font-family='"Liberation Sans", sans-serif' text-anchor="middle" stroke="#000" stroke-width="0.08">10</text>
<text x="531.3" y="306.3" font-size="10.5" fill="#000" font-family='"Liberation Sans", sans-serif' text-anchor="middle" stroke="#000" stroke-width="0.08">12</text>
<text x="603.4" y="306.3" font-size="10.5" fill="#000" font-family='"Liberation Sans", sans-serif' text-anchor="middle" stroke="#000" stroke-width="0.08">14</text>
<text x="669.3" y="306.3" font-size="10.5" fill="#000" font-family='"Liberation Sans", sans-serif' text-anchor="middle" stroke="#000" stroke-width="0.08">16</text>
<text x="507.8" y="320.8" font-size="11.5" fill="#000" font-family='"Liberation Sans", sans-serif' textLength="38.6" lengthAdjust="spacingAndGlyphs" stroke="#000" stroke-width="0.08">Time (s)</text>
<text transform="translate(351.5,48.4) rotate(-90)" font-size="11" fill="#000" stroke="#000" stroke-width="0.12" font-family='"Liberation Sans", sans-serif' textLength="28.2" lengthAdjust="spacingAndGlyphs">(MW)</text>
<text transform="translate(345.8,90.4) rotate(-90)" font-size="10.4" fill="#000" stroke="#000" stroke-width="0.12" font-family='"Liberation Sans", sans-serif' textLength="18.6" lengthAdjust="spacingAndGlyphs">x10</text>
<text transform="translate(339.9,73.3) rotate(-90)" font-size="7.8" fill="#000" stroke="#000" stroke-width="0.3" font-family='"Liberation Sans", sans-serif' textLength="9" lengthAdjust="spacingAndGlyphs">22</text>
<text transform="translate(356.8,89) rotate(-90)" font-size="11" fill="#000" stroke="#000" stroke-width="0.12" font-family='"Liberation Sans", sans-serif' textLength="22.2" lengthAdjust="spacingAndGlyphs">(e/s)</text>
<text transform="translate(347,131.3) rotate(-90)" font-size="10.4" fill="#000" stroke="#000" stroke-width="0.12" font-family='"Liberation Sans", sans-serif' textLength="18" lengthAdjust="spacingAndGlyphs">x10</text>
<text transform="translate(341.2,114.9) rotate(-90)" font-size="7.8" fill="#000" stroke="#000" stroke-width="0.3" font-family='"Liberation Sans", sans-serif' textLength="9.6" lengthAdjust="spacingAndGlyphs">19</text>
<text transform="translate(357.5,129.3) rotate(-90)" font-size="11" fill="#000" stroke="#000" stroke-width="0.12" font-family='"Liberation Sans", sans-serif' textLength="23" lengthAdjust="spacingAndGlyphs">(m<tspan font-size="7.5" dy="-4">-2</tspan><tspan dy="4">)</tspan></text>
<text transform="translate(353.3,169.3) rotate(-90)" font-size="11" fill="#000" stroke="#000" stroke-width="0.12" font-family='"Liberation Sans", sans-serif' textLength="20.2" lengthAdjust="spacingAndGlyphs">(MJ)</text>
<text transform="translate(345.8,212) rotate(-90)" font-size="10.4" fill="#000" stroke="#000" stroke-width="0.12" font-family='"Liberation Sans", sans-serif' textLength="17.4" lengthAdjust="spacingAndGlyphs">x10</text>
<text transform="translate(339.9,195.6) rotate(-90)" font-size="7.8" fill="#000" stroke="#000" stroke-width="0.3" font-family='"Liberation Sans", sans-serif' textLength="9.6" lengthAdjust="spacingAndGlyphs">16</text>
<text transform="translate(356.8,209.3) rotate(-90)" font-size="11" fill="#000" stroke="#000" stroke-width="0.12" font-family='"Liberation Sans", sans-serif' textLength="20.2" lengthAdjust="spacingAndGlyphs">(s<tspan font-size="7.5" dy="-4">-1</tspan><tspan dy="4">)</tspan></text>
<text transform="translate(345.8,253.2) rotate(-90)" font-size="10.4" fill="#000" stroke="#000" stroke-width="0.12" font-family='"Liberation Sans", sans-serif' textLength="18.1" lengthAdjust="spacingAndGlyphs">x10</text>
<text transform="translate(339.9,236.7) rotate(-90)" font-size="7.8" fill="#000" stroke="#000" stroke-width="0.3" font-family='"Liberation Sans", sans-serif' textLength="9.6" lengthAdjust="spacingAndGlyphs">14</text>
<text transform="translate(354.6,262) rotate(-90)" font-size="11" fill="#000" stroke="#000" stroke-width="0.12" font-family='"Liberation Sans", sans-serif' textLength="41.4" lengthAdjust="spacingAndGlyphs">p/scm<tspan font-size="7.5" dy="-4">2</tspan><tspan dy="4">sr</tspan></text>
<text transform="translate(353.3,293.2) rotate(-90)" font-size="11" fill="#000" stroke="#000" stroke-width="0.12" font-family='"Liberation Sans", sans-serif' textLength="25" lengthAdjust="spacingAndGlyphs">(KeV)</text>
<text x="405.9" y="33.7" font-size="14" fill="#ff1a1a" font-family='"Liberation Sans", sans-serif' textLength="6.6" lengthAdjust="spacingAndGlyphs" stroke="#ff1a1a" stroke-width="0.3">P</text>
<text x="413.8" y="37.1" font-size="9" fill="#ff1a1a" font-family='"Liberation Sans", sans-serif' textLength="14.1" lengthAdjust="spacingAndGlyphs" stroke="#ff1a1a" stroke-width="0.3">NBI</text>
<text x="446.7" y="37.8" font-size="14" fill="#1f1fff" font-family='"Liberation Sans", sans-serif' textLength="6.6" lengthAdjust="spacingAndGlyphs" stroke="#1f1fff" stroke-width="0.3">P</text>
<text x="454.6" y="40.8" font-size="9" fill="#1f1fff" font-family='"Liberation Sans", sans-serif' textLength="38.6" lengthAdjust="spacingAndGlyphs" stroke="#1f1fff" stroke-width="0.3">RAD,bulk</text>
<text x="583.3" y="33" font-size="12.5" fill="#111" font-family='"Liberation Sans", sans-serif' textLength="6.4" lengthAdjust="spacingAndGlyphs" stroke="#111" stroke-width="0.08">P</text>
<text x="590.6" y="36.4" font-size="8.5" fill="#111" font-family='"Liberation Sans", sans-serif' textLength="20.4" lengthAdjust="spacingAndGlyphs" stroke="#111" stroke-width="0.08">ICRH</text>
<text x="396.9" y="72" font-size="12.5" fill="#ff1a1a" font-family='"Liberation Sans", sans-serif' textLength="43.9" lengthAdjust="spacingAndGlyphs" stroke="#ff1a1a" stroke-width="0.35">gas rate</text>
<text x="502.7" y="72.4" font-size="12.5" fill="#1f1fff" font-family='"Liberation Sans", sans-serif' textLength="115.4" lengthAdjust="spacingAndGlyphs" stroke="#1f1fff" stroke-width="0.35">gas rate from pellets</text>
<text x="470.7" y="127.2" font-size="12" fill="#000" font-family='"Liberation Sans", sans-serif' textLength="86" lengthAdjust="spacingAndGlyphs" stroke="#000" stroke-width="0.08">Line averaged n</text>
<text x="557.3" y="130.2" font-size="8" fill="#000" font-family='"Liberation Sans", sans-serif' textLength="5.6" lengthAdjust="spacingAndGlyphs" stroke="#000" stroke-width="0.08">e</text>
<text x="479.6" y="164.4" font-size="12" fill="#000" font-family='"Liberation Sans", sans-serif' textLength="78.4" lengthAdjust="spacingAndGlyphs" stroke="#000" stroke-width="0.08">Stored energy</text>
<text x="486.3" y="213.7" font-size="12" fill="#000" font-family='"Liberation Sans", sans-serif' textLength="72.1" lengthAdjust="spacingAndGlyphs" stroke="#000" stroke-width="0.08">Neutron rate</text>
<text x="389.3" y="243.7" font-size="12.2" fill="#000" font-family='"Liberation Sans", sans-serif' textLength="14.5" lengthAdjust="spacingAndGlyphs" stroke="#000" stroke-width="0.08">Be</text>
<text x="404" y="243.7" font-size="15" fill="#000" font-family='"Liberation Serif", serif' textLength="9.7" lengthAdjust="spacingAndGlyphs" stroke="#000" stroke-width="0.08">II</text>
<text x="384.9" y="274.5" font-size="13" fill="#ff1a1a" font-family='"Liberation Sans", sans-serif' textLength="7.1" lengthAdjust="spacingAndGlyphs" stroke="#ff1a1a" stroke-width="0.45">T</text>
<text x="392" y="277" font-size="8.5" fill="#ff1a1a" font-family='"Liberation Sans", sans-serif' textLength="1.8" lengthAdjust="spacingAndGlyphs" stroke="#ff1a1a" stroke-width="0.3">i</text>
<text x="394" y="275.6" font-size="12" fill="#ff1a1a" font-family='"Liberation Sans", sans-serif' textLength="2.7" lengthAdjust="spacingAndGlyphs" stroke="#ff1a1a" stroke-width="0.4">,</text>
<text x="401" y="274.3" font-size="13" fill="#1f1fff" font-family='"Liberation Sans", sans-serif' textLength="7.1" lengthAdjust="spacingAndGlyphs" stroke="#1f1fff" stroke-width="0.45">T</text>
<text x="405.9" y="277.6" font-size="8.5" fill="#1f1fff" font-family='"Liberation Sans", sans-serif' textLength="4.7" lengthAdjust="spacingAndGlyphs" stroke="#1f1fff" stroke-width="0.3">e</text>
</svg>
</body></html>
